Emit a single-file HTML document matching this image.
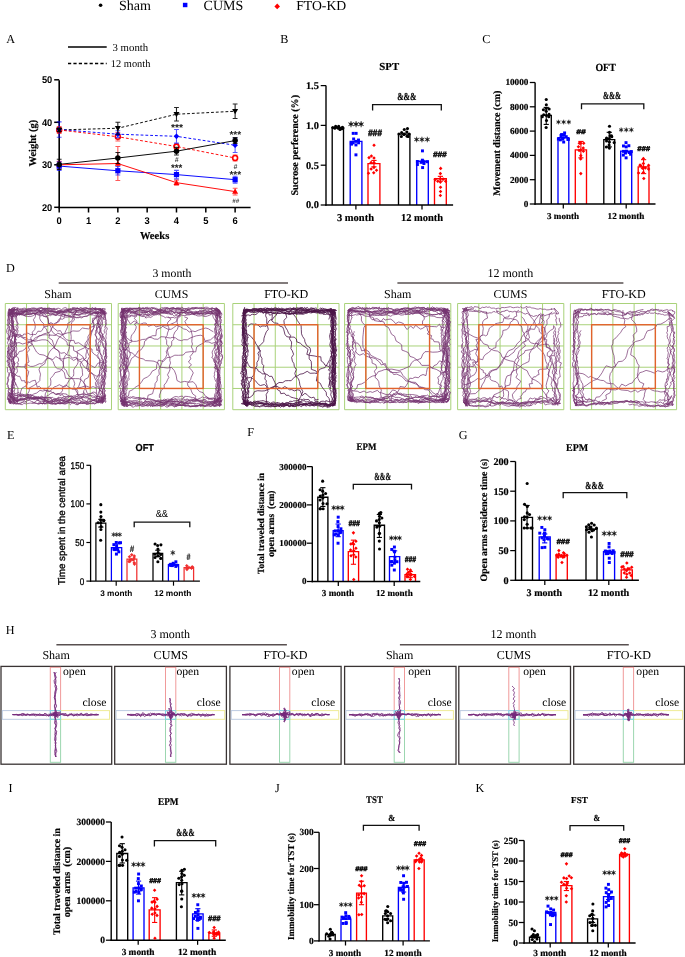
<!DOCTYPE html>
<html><head><meta charset="utf-8"><style>
html,body{margin:0;padding:0;background:#fff;}
body{width:685px;height:957px;overflow:hidden;}
svg{display:block;will-change:transform;}
text{text-rendering:geometricPrecision;white-space:pre;}
text[font-weight="bold"][font-family*="Serif"]{stroke:#000;stroke-width:0.18px;}
</style></head><body>
<svg width="685" height="957" viewBox="0 0 685 957">
<rect width="685" height="957" fill="#fff"/>
<circle cx="100.6" cy="5.3" r="1.8" fill="#000" stroke="none" stroke-width="1"/>
<text x="119.02" y="9.8" font-family='"Liberation Serif", serif' font-size="14.02" font-weight="normal" text-anchor="start" fill="#000">Sham</text>
<rect x="182.9" y="2.8" width="4.5" height="4.4" stroke="none" stroke-width="1" fill="#0000ff"/>
<text x="203.54" y="9.72" font-family='"Liberation Serif", serif' font-size="14.03" font-weight="normal" text-anchor="start" fill="#000">CUMS</text>
<path d="M277.2 3.6L280 6.4L277.2 9.2L274.4 6.4Z" fill="#ff0000"/>
<text x="296.19" y="9.97" font-family='"Liberation Serif", serif' font-size="13.72" font-weight="normal" text-anchor="start" fill="#000">FTO-KD</text>
<text x="6.36" y="42.64" font-family='"Liberation Serif", serif' font-size="12.2" font-weight="normal" text-anchor="start" fill="#000">A</text>
<text x="280.29" y="42.77" font-family='"Liberation Serif", serif' font-size="12.2" font-weight="normal" text-anchor="start" fill="#000">B</text>
<text x="482.24" y="42.64" font-family='"Liberation Serif", serif' font-size="12.2" font-weight="normal" text-anchor="start" fill="#000">C</text>
<text x="5.94" y="272.26" font-family='"Liberation Serif", serif' font-size="12.2" font-weight="normal" text-anchor="start" fill="#000">D</text>
<text x="6.9" y="438.81" font-family='"Liberation Serif", serif' font-size="12.2" font-weight="normal" text-anchor="start" fill="#000">E</text>
<text x="247.15" y="436.17" font-family='"Liberation Serif", serif' font-size="12.2" font-weight="normal" text-anchor="start" fill="#000">F</text>
<text x="458.7" y="438.74" font-family='"Liberation Serif", serif' font-size="12.2" font-weight="normal" text-anchor="start" fill="#000">G</text>
<text x="5.66" y="633.81" font-family='"Liberation Serif", serif' font-size="12.2" font-weight="normal" text-anchor="start" fill="#000">H</text>
<text x="8.45" y="791.92" font-family='"Liberation Serif", serif' font-size="12.2" font-weight="normal" text-anchor="start" fill="#000">I</text>
<text x="275.02" y="792.15" font-family='"Liberation Serif", serif' font-size="12.2" font-weight="normal" text-anchor="start" fill="#000">J</text>
<text x="475.54" y="791.92" font-family='"Liberation Serif", serif' font-size="12.2" font-weight="normal" text-anchor="start" fill="#000">K</text>
<line x1="68" y1="47" x2="106.7" y2="47" stroke="#000" stroke-width="1.3"/>
<text x="112.56" y="51.21" font-family='"Liberation Serif", serif' font-size="10.77" font-weight="normal" text-anchor="start" fill="#000">3 month</text>
<line x1="68" y1="63.5" x2="106.7" y2="63.5" stroke="#000" stroke-width="1.3" stroke-dasharray="3.2 2.2"/>
<text x="110.87" y="67.23" font-family='"Liberation Serif", serif' font-size="10.38" font-weight="normal" text-anchor="start" fill="#000">12 month</text>
<line x1="59.2" y1="80.2" x2="59.2" y2="208.2" stroke="#000" stroke-width="1.6"/>
<line x1="58.4" y1="207.5" x2="250.6" y2="207.5" stroke="#000" stroke-width="1.6"/>
<line x1="54.2" y1="207.3" x2="59.2" y2="207.3" stroke="#000" stroke-width="1.5"/>
<text transform="translate(52.3 210.75) scale(0.960 1)" font-family='"Liberation Sans", sans-serif' font-size="9.7" font-weight="bold" text-anchor="end" fill="#000">20</text>
<line x1="54.2" y1="164.8" x2="59.2" y2="164.8" stroke="#000" stroke-width="1.5"/>
<text transform="translate(52.3 168.25) scale(0.960 1)" font-family='"Liberation Sans", sans-serif' font-size="9.7" font-weight="bold" text-anchor="end" fill="#000">30</text>
<line x1="54.2" y1="122.3" x2="59.2" y2="122.3" stroke="#000" stroke-width="1.5"/>
<text transform="translate(52.3 125.75) scale(0.960 1)" font-family='"Liberation Sans", sans-serif' font-size="9.7" font-weight="bold" text-anchor="end" fill="#000">40</text>
<line x1="54.2" y1="79.8" x2="59.2" y2="79.8" stroke="#000" stroke-width="1.5"/>
<text transform="translate(52.3 83.25) scale(0.960 1)" font-family='"Liberation Sans", sans-serif' font-size="9.7" font-weight="bold" text-anchor="end" fill="#000">50</text>
<line x1="59.2" y1="207.5" x2="59.2" y2="212.5" stroke="#000" stroke-width="1.5"/>
<text transform="translate(59.2 223.6) scale(0.970 1)" font-family='"Liberation Sans", sans-serif' font-size="9.7" font-weight="bold" text-anchor="middle" fill="#000">0</text>
<line x1="88.52" y1="207.5" x2="88.52" y2="212.5" stroke="#000" stroke-width="1.5"/>
<text transform="translate(88.52 223.6) scale(0.970 1)" font-family='"Liberation Sans", sans-serif' font-size="9.7" font-weight="bold" text-anchor="middle" fill="#000">1</text>
<line x1="117.84" y1="207.5" x2="117.84" y2="212.5" stroke="#000" stroke-width="1.5"/>
<text transform="translate(117.84 223.6) scale(0.970 1)" font-family='"Liberation Sans", sans-serif' font-size="9.7" font-weight="bold" text-anchor="middle" fill="#000">2</text>
<line x1="147.16" y1="207.5" x2="147.16" y2="212.5" stroke="#000" stroke-width="1.5"/>
<text transform="translate(147.16 223.6) scale(0.970 1)" font-family='"Liberation Sans", sans-serif' font-size="9.7" font-weight="bold" text-anchor="middle" fill="#000">3</text>
<line x1="176.48" y1="207.5" x2="176.48" y2="212.5" stroke="#000" stroke-width="1.5"/>
<text transform="translate(176.48 223.6) scale(0.970 1)" font-family='"Liberation Sans", sans-serif' font-size="9.7" font-weight="bold" text-anchor="middle" fill="#000">4</text>
<line x1="205.8" y1="207.5" x2="205.8" y2="212.5" stroke="#000" stroke-width="1.5"/>
<text transform="translate(205.8 223.6) scale(0.970 1)" font-family='"Liberation Sans", sans-serif' font-size="9.7" font-weight="bold" text-anchor="middle" fill="#000">5</text>
<line x1="235.12" y1="207.5" x2="235.12" y2="212.5" stroke="#000" stroke-width="1.5"/>
<text transform="translate(235.12 223.6) scale(0.970 1)" font-family='"Liberation Sans", sans-serif' font-size="9.7" font-weight="bold" text-anchor="middle" fill="#000">6</text>
<text x="139.89" y="238.65" font-family='"Liberation Serif", serif' font-size="10.58" font-weight="bold" text-anchor="start" fill="#000">Weeks</text>
<text x="35.7" y="166.4" font-family='"Liberation Serif", serif' font-size="10.43" font-weight="bold" text-anchor="start" fill="#000" transform="rotate(-90 35.7 166.4)">Weight (g)</text>
<polyline points="59.2,129.95 117.84,128.25 176.48,114.23 235.12,111.25" fill="none" stroke="#000" stroke-width="0.95" stroke-dasharray="2.8 2"/>
<polyline points="59.2,129.53 117.84,134.2 176.48,136.32 235.12,145.25" fill="none" stroke="#0000ff" stroke-width="0.95" stroke-dasharray="2.8 2"/>
<polyline points="59.2,129.95 117.84,136.75 176.48,146.53 235.12,158" fill="none" stroke="#ff0000" stroke-width="0.95" stroke-dasharray="2.8 2"/>
<polyline points="59.2,164.38 117.84,158 176.48,151.2 235.12,140.57" fill="none" stroke="#000" stroke-width="0.95"/>
<polyline points="59.2,166.08 117.84,170.75 176.48,174.58 235.12,179.68" fill="none" stroke="#0000ff" stroke-width="0.95"/>
<polyline points="59.2,164.8 117.84,163.53 176.48,182.65 235.12,191.58" fill="none" stroke="#ff0000" stroke-width="0.95"/>
<path d="M59.2 126.55V133.35M56.8 126.55H61.6M56.8 133.35H61.6" stroke="#ff0000" stroke-width="1.1" fill="none" opacity="0.65"/>
<circle cx="59.2" cy="129.95" r="2.45" fill="#fff" stroke="#ff0000" stroke-width="1.6"/>
<path d="M117.84 132.5V141M115.44 132.5H120.24M115.44 141H120.24" stroke="#ff0000" stroke-width="1.1" fill="none" opacity="0.65"/>
<circle cx="117.84" cy="136.75" r="2.45" fill="#fff" stroke="#ff0000" stroke-width="1.6"/>
<path d="M176.48 143.98V149.08M174.08 143.98H178.88M174.08 149.08H178.88" stroke="#ff0000" stroke-width="1.1" fill="none" opacity="0.65"/>
<circle cx="176.48" cy="146.53" r="2.45" fill="#fff" stroke="#ff0000" stroke-width="1.6"/>
<path d="M235.12 155.03V160.97M232.72 155.03H237.52M232.72 160.97H237.52" stroke="#ff0000" stroke-width="1.1" fill="none" opacity="0.65"/>
<circle cx="235.12" cy="158" r="2.45" fill="#fff" stroke="#ff0000" stroke-width="1.6"/>
<path d="M59.2 161.4V168.2M56.8 161.4H61.6M56.8 168.2H61.6" stroke="#ff0000" stroke-width="1.1" fill="none" opacity="0.65"/>
<path d="M59.2 161.8L62.2 167.05L56.2 167.05Z" fill="#ff0000"/>
<path d="M117.84 146.53V180.53M115.44 146.53H120.24M115.44 180.53H120.24" stroke="#ff0000" stroke-width="1.1" fill="none" opacity="0.65"/>
<path d="M117.84 160.53L120.84 165.78L114.84 165.78Z" fill="#ff0000"/>
<path d="M176.48 180.1V185.2M174.08 180.1H178.88M174.08 185.2H178.88" stroke="#ff0000" stroke-width="1.1" fill="none" opacity="0.65"/>
<path d="M176.48 179.65L179.48 184.9L173.48 184.9Z" fill="#ff0000"/>
<path d="M235.12 188.18V194.98M232.72 188.18H237.52M232.72 194.98H237.52" stroke="#ff0000" stroke-width="1.1" fill="none" opacity="0.65"/>
<path d="M235.12 188.58L238.12 193.83L232.12 193.83Z" fill="#ff0000"/>
<path d="M59.2 121.88V137.18M56.8 121.88H61.6M56.8 137.18H61.6" stroke="#0000ff" stroke-width="1.1" fill="none" opacity="0.65"/>
<path d="M59.2 126.71L62.02 129.53L59.2 132.34L56.38 129.53Z" fill="#0000ff"/>
<path d="M117.84 130.8V137.6M115.44 130.8H120.24M115.44 137.6H120.24" stroke="#0000ff" stroke-width="1.1" fill="none" opacity="0.65"/>
<path d="M117.84 131.38L120.66 134.2L117.84 137.02L115.02 134.2Z" fill="#0000ff"/>
<path d="M176.48 129.52V143.12M174.08 129.52H178.88M174.08 143.12H178.88" stroke="#0000ff" stroke-width="1.1" fill="none" opacity="0.65"/>
<path d="M176.48 133.51L179.3 136.32L176.48 139.14L173.66 136.32Z" fill="#0000ff"/>
<path d="M235.12 138.02V152.48M232.72 138.02H237.52M232.72 152.48H237.52" stroke="#0000ff" stroke-width="1.1" fill="none" opacity="0.65"/>
<path d="M235.12 142.43L237.94 145.25L235.12 148.07L232.3 145.25Z" fill="#0000ff"/>
<path d="M59.2 161.83V170.33M56.8 161.83H61.6M56.8 170.33H61.6" stroke="#0000ff" stroke-width="1.1" fill="none" opacity="0.65"/>
<rect x="56.6" y="163.48" width="5.2" height="5.2" stroke="none" stroke-width="1" fill="#0000ff"/>
<path d="M117.84 166.5V175M115.44 166.5H120.24M115.44 175H120.24" stroke="#0000ff" stroke-width="1.1" fill="none" opacity="0.65"/>
<rect x="115.24" y="168.15" width="5.2" height="5.2" stroke="none" stroke-width="1" fill="#0000ff"/>
<path d="M176.48 170.33V178.83M174.08 170.33H178.88M174.08 178.83H178.88" stroke="#0000ff" stroke-width="1.1" fill="none" opacity="0.65"/>
<rect x="173.88" y="171.98" width="5.2" height="5.2" stroke="none" stroke-width="1" fill="#0000ff"/>
<path d="M235.12 176.28V183.08M232.72 176.28H237.52M232.72 183.08H237.52" stroke="#0000ff" stroke-width="1.1" fill="none" opacity="0.65"/>
<rect x="232.52" y="177.08" width="5.2" height="5.2" stroke="none" stroke-width="1" fill="#0000ff"/>
<path d="M59.2 128.25V131.65M56.8 128.25H61.6M56.8 131.65H61.6" stroke="#000" stroke-width="1.1" fill="none" opacity="0.85"/>
<path d="M59.2 132.95L62.2 127.7L56.2 127.7Z" fill="#000"/>
<path d="M117.84 122.3V134.2M115.44 122.3H120.24M115.44 134.2H120.24" stroke="#000" stroke-width="1.1" fill="none" opacity="0.85"/>
<path d="M117.84 131.25L120.84 126L114.84 126Z" fill="#000"/>
<path d="M176.48 107.43V121.03M174.08 107.43H178.88M174.08 121.03H178.88" stroke="#000" stroke-width="1.1" fill="none" opacity="0.85"/>
<path d="M176.48 117.23L179.48 111.98L173.48 111.98Z" fill="#000"/>
<path d="M235.12 104.02V118.48M232.72 104.02H237.52M232.72 118.48H237.52" stroke="#000" stroke-width="1.1" fill="none" opacity="0.85"/>
<path d="M235.12 114.25L238.12 109L232.12 109Z" fill="#000"/>
<path d="M59.2 159.28V169.47M56.8 159.28H61.6M56.8 169.47H61.6" stroke="#000" stroke-width="1.1" fill="none" opacity="0.85"/>
<circle cx="59.2" cy="164.38" r="2.75" fill="#000" stroke="none" stroke-width="1"/>
<path d="M117.84 152.48V163.53M115.44 152.48H120.24M115.44 163.53H120.24" stroke="#000" stroke-width="1.1" fill="none" opacity="0.85"/>
<circle cx="117.84" cy="158" r="2.75" fill="#000" stroke="none" stroke-width="1"/>
<path d="M176.48 147.38V155.03M174.08 147.38H178.88M174.08 155.03H178.88" stroke="#000" stroke-width="1.1" fill="none" opacity="0.85"/>
<circle cx="176.48" cy="151.2" r="2.75" fill="#000" stroke="none" stroke-width="1"/>
<path d="M235.12 137.6V143.55M232.72 137.6H237.52M232.72 143.55H237.52" stroke="#000" stroke-width="1.1" fill="none" opacity="0.85"/>
<circle cx="235.12" cy="140.57" r="2.75" fill="#000" stroke="none" stroke-width="1"/>
<text x="170.9" y="130.92" font-family='"Liberation Sans", sans-serif' font-size="10.34" font-weight="bold" text-anchor="start" fill="#222">***</text>
<text x="174.83" y="161.57" font-family='"Liberation Sans", sans-serif' font-size="6.87" font-weight="bold" text-anchor="start" fill="#333" font-style="italic">#</text>
<text x="170.9" y="171.32" font-family='"Liberation Sans", sans-serif' font-size="9.74" font-weight="bold" text-anchor="start" fill="#222">***</text>
<text x="229.4" y="138.14" font-family='"Liberation Sans", sans-serif' font-size="10.09" font-weight="bold" text-anchor="start" fill="#222">***</text>
<text x="233.38" y="168.67" font-family='"Liberation Sans", sans-serif' font-size="6.87" font-weight="bold" text-anchor="start" fill="#333" font-style="italic">#</text>
<text x="229.4" y="178.44" font-family='"Liberation Sans", sans-serif' font-size="10.09" font-weight="bold" text-anchor="start" fill="#222">***</text>
<text x="232.3" y="203.36" font-family='"Liberation Sans", sans-serif' font-size="6.12" font-weight="bold" text-anchor="start" fill="#333" font-style="italic">##</text>
<line x1="320.7" y1="205" x2="326" y2="205" stroke="#000" stroke-width="1.26"/>
<text x="318.9" y="208.38" font-family='"Liberation Serif", serif' font-size="10.4" font-weight="bold" text-anchor="end" fill="#000">0.0</text>
<line x1="320.7" y1="165.2" x2="326" y2="165.2" stroke="#000" stroke-width="1.26"/>
<text x="318.9" y="168.58" font-family='"Liberation Serif", serif' font-size="10.4" font-weight="bold" text-anchor="end" fill="#000">0.5</text>
<line x1="320.7" y1="125.4" x2="326" y2="125.4" stroke="#000" stroke-width="1.26"/>
<text x="318.9" y="128.78" font-family='"Liberation Serif", serif' font-size="10.4" font-weight="bold" text-anchor="end" fill="#000">1.0</text>
<line x1="320.7" y1="85.6" x2="326" y2="85.6" stroke="#000" stroke-width="1.26"/>
<text x="318.9" y="88.98" font-family='"Liberation Serif", serif' font-size="10.4" font-weight="bold" text-anchor="end" fill="#000">1.5</text>
<line x1="355.9" y1="205" x2="355.9" y2="209.6" stroke="#000" stroke-width="1.26"/>
<line x1="422" y1="205" x2="422" y2="209.6" stroke="#000" stroke-width="1.26"/>
<path d="M332.2 205V127.79H343.5V205" stroke="#000" stroke-width="1.35" fill="#fff"/>
<path d="M350.2 205V141.32H361.9V205" stroke="#0000ff" stroke-width="1.35" fill="#fff"/>
<path d="M368 205V163.61H379.9V205" stroke="#ff0000" stroke-width="1.35" fill="#fff"/>
<path d="M398.5 205V134.16H409.9V205" stroke="#000" stroke-width="1.35" fill="#fff"/>
<path d="M416.7 205V161.22H428.3V205" stroke="#0000ff" stroke-width="1.35" fill="#fff"/>
<path d="M434.5 205V178.73H446.3V205" stroke="#ff0000" stroke-width="1.35" fill="#fff"/>
<line x1="326" y1="85.6" x2="326" y2="205.7" stroke="#000" stroke-width="1.4"/>
<line x1="325.3" y1="205" x2="453.1" y2="205" stroke="#000" stroke-width="1.4"/>
<circle cx="337.9" cy="127.69" r="1.55" fill="#000" stroke="none" stroke-width="1"/>
<circle cx="332.78" cy="127.54" r="1.55" fill="#000" stroke="none" stroke-width="1"/>
<circle cx="342.92" cy="128.05" r="1.55" fill="#000" stroke="none" stroke-width="1"/>
<circle cx="338.42" cy="128.21" r="1.55" fill="#000" stroke="none" stroke-width="1"/>
<circle cx="334.83" cy="128.27" r="1.55" fill="#000" stroke="none" stroke-width="1"/>
<circle cx="342.42" cy="127.26" r="1.55" fill="#000" stroke="none" stroke-width="1"/>
<circle cx="341.88" cy="128.47" r="1.55" fill="#000" stroke="none" stroke-width="1"/>
<circle cx="341.84" cy="128.68" r="1.55" fill="#000" stroke="none" stroke-width="1"/>
<circle cx="335.65" cy="126.3" r="1.55" fill="#000" stroke="none" stroke-width="1"/>
<circle cx="338.68" cy="126.2" r="1.55" fill="#000" stroke="none" stroke-width="1"/>
<circle cx="339.99" cy="129.38" r="1.55" fill="#000" stroke="none" stroke-width="1"/>
<rect x="354.34" y="139.9" width="2.94" height="2.94" stroke="none" stroke-width="1" fill="#0000ff"/>
<rect x="357.03" y="138.56" width="2.94" height="2.94" stroke="none" stroke-width="1" fill="#0000ff"/>
<rect x="357.14" y="141.34" width="2.94" height="2.94" stroke="none" stroke-width="1" fill="#0000ff"/>
<rect x="351.69" y="141.38" width="2.94" height="2.94" stroke="none" stroke-width="1" fill="#0000ff"/>
<rect x="349.87" y="141.81" width="2.94" height="2.94" stroke="none" stroke-width="1" fill="#0000ff"/>
<rect x="352.16" y="137.5" width="2.94" height="2.94" stroke="none" stroke-width="1" fill="#0000ff"/>
<rect x="350.02" y="142.66" width="2.94" height="2.94" stroke="none" stroke-width="1" fill="#0000ff"/>
<rect x="354.48" y="143.47" width="2.94" height="2.94" stroke="none" stroke-width="1" fill="#0000ff"/>
<rect x="354.65" y="131.89" width="2.94" height="2.94" stroke="none" stroke-width="1" fill="#0000ff"/>
<rect x="351.74" y="131.89" width="2.94" height="2.94" stroke="none" stroke-width="1" fill="#0000ff"/>
<rect x="354.48" y="153.38" width="2.94" height="2.94" stroke="none" stroke-width="1" fill="#0000ff"/>
<line x1="373.95" y1="166.79" x2="373.95" y2="160.42" stroke="#ff0000" stroke-width="1.1"/>
<line x1="371.35" y1="166.79" x2="376.55" y2="166.79" stroke="#ff0000" stroke-width="1.1"/>
<line x1="371.35" y1="160.42" x2="376.55" y2="160.42" stroke="#ff0000" stroke-width="1.1"/>
<path d="M374.05 160.91L375.83 162.69L374.05 164.47L372.26 162.69Z" fill="#ff0000"/>
<path d="M371.11 160.66L372.89 162.44L371.11 164.22L369.32 162.44Z" fill="#ff0000"/>
<path d="M373.92 165.75L375.7 167.53L373.92 169.32L372.14 167.53Z" fill="#ff0000"/>
<path d="M371.12 167.23L372.91 169.01L371.12 170.79L369.34 169.01Z" fill="#ff0000"/>
<path d="M374 156.17L375.78 157.95L374 159.74L372.22 157.95Z" fill="#ff0000"/>
<path d="M369.02 155.86L370.8 157.64L369.02 159.42L367.24 157.64Z" fill="#ff0000"/>
<path d="M376.51 168.45L378.29 170.23L376.51 172.02L374.72 170.23Z" fill="#ff0000"/>
<path d="M371.38 154.19L373.16 155.97L371.38 157.75L369.6 155.97Z" fill="#ff0000"/>
<path d="M373.73 170.92L375.52 172.71L373.73 174.49L371.95 172.71Z" fill="#ff0000"/>
<path d="M368.5 171.38L370.28 173.16L368.5 174.94L366.72 173.16Z" fill="#ff0000"/>
<path d="M374.03 143.52L375.81 145.3L374.03 147.08L372.25 145.3Z" fill="#ff0000"/>
<circle cx="404.27" cy="134.17" r="1.55" fill="#000" stroke="none" stroke-width="1"/>
<circle cx="398.95" cy="133.97" r="1.55" fill="#000" stroke="none" stroke-width="1"/>
<circle cx="409.17" cy="133.96" r="1.55" fill="#000" stroke="none" stroke-width="1"/>
<circle cx="403.86" cy="134.39" r="1.55" fill="#000" stroke="none" stroke-width="1"/>
<circle cx="401.68" cy="132.44" r="1.55" fill="#000" stroke="none" stroke-width="1"/>
<circle cx="407.08" cy="136.22" r="1.55" fill="#000" stroke="none" stroke-width="1"/>
<circle cx="406.81" cy="132.03" r="1.55" fill="#000" stroke="none" stroke-width="1"/>
<circle cx="401.33" cy="136.54" r="1.55" fill="#000" stroke="none" stroke-width="1"/>
<circle cx="408.24" cy="136.54" r="1.55" fill="#000" stroke="none" stroke-width="1"/>
<circle cx="404.27" cy="129.45" r="1.55" fill="#000" stroke="none" stroke-width="1"/>
<circle cx="407.46" cy="128.58" r="1.55" fill="#000" stroke="none" stroke-width="1"/>
<rect x="421.29" y="159.54" width="2.94" height="2.94" stroke="none" stroke-width="1" fill="#0000ff"/>
<rect x="415.86" y="160.03" width="2.94" height="2.94" stroke="none" stroke-width="1" fill="#0000ff"/>
<rect x="426.01" y="160.27" width="2.94" height="2.94" stroke="none" stroke-width="1" fill="#0000ff"/>
<rect x="422.58" y="160.44" width="2.94" height="2.94" stroke="none" stroke-width="1" fill="#0000ff"/>
<rect x="421.28" y="160.44" width="2.94" height="2.94" stroke="none" stroke-width="1" fill="#0000ff"/>
<rect x="420.92" y="158.71" width="2.94" height="2.94" stroke="none" stroke-width="1" fill="#0000ff"/>
<rect x="419.62" y="160.86" width="2.94" height="2.94" stroke="none" stroke-width="1" fill="#0000ff"/>
<rect x="422.47" y="162.02" width="2.94" height="2.94" stroke="none" stroke-width="1" fill="#0000ff"/>
<rect x="415.92" y="163.03" width="2.94" height="2.94" stroke="none" stroke-width="1" fill="#0000ff"/>
<rect x="421.14" y="166.12" width="2.94" height="2.94" stroke="none" stroke-width="1" fill="#0000ff"/>
<rect x="420.99" y="149.4" width="2.94" height="2.94" stroke="none" stroke-width="1" fill="#0000ff"/>
<line x1="440.4" y1="181.12" x2="440.4" y2="176.34" stroke="#ff0000" stroke-width="1.1"/>
<line x1="437.8" y1="181.12" x2="443" y2="181.12" stroke="#ff0000" stroke-width="1.1"/>
<line x1="437.8" y1="176.34" x2="443" y2="176.34" stroke="#ff0000" stroke-width="1.1"/>
<path d="M440.25 176.86L442.04 178.64L440.25 180.43L438.47 178.64Z" fill="#ff0000"/>
<path d="M443.13 177.35L444.91 179.13L443.13 180.91L441.34 179.13Z" fill="#ff0000"/>
<path d="M435.24 177.84L437.02 179.62L435.24 181.4L433.45 179.62Z" fill="#ff0000"/>
<path d="M437.76 179.38L439.54 181.16L437.76 182.95L435.98 181.16Z" fill="#ff0000"/>
<path d="M445.61 179.56L447.4 181.34L445.61 183.12L443.83 181.34Z" fill="#ff0000"/>
<path d="M440.39 180.32L442.17 182.1L440.39 183.88L438.61 182.1Z" fill="#ff0000"/>
<path d="M440.34 171.84L442.13 173.62L440.34 175.41L438.56 173.62Z" fill="#ff0000"/>
<path d="M440.53 185.48L442.31 187.27L440.53 189.05L438.74 187.27Z" fill="#ff0000"/>
<path d="M440.66 166.6L442.44 168.38L440.66 170.17L438.88 168.38Z" fill="#ff0000"/>
<path d="M440.52 189.76L442.31 191.54L440.52 193.33L438.74 191.54Z" fill="#ff0000"/>
<path d="M440.38 193.67L442.17 195.45L440.38 197.23L438.6 195.45Z" fill="#ff0000"/>
<path d="M351 121.1L350.47 123.29L348.32 122.65L349.95 124.2L348.32 125.75L350.47 125.11L351 127.3L351.53 125.11L353.68 125.75L352.05 124.2L353.68 122.65L351.53 123.29ZM356.05 121.1L355.52 123.29L353.37 122.65L355 124.2L353.37 125.75L355.52 125.11L356.05 127.3L356.58 125.11L358.73 125.75L357.1 124.2L358.73 122.65L356.58 123.29ZM361.1 121.1L360.57 123.29L358.42 122.65L360.05 124.2L358.42 125.75L360.57 125.11L361.1 127.3L361.63 125.11L363.78 125.75L362.15 124.2L363.78 122.65L361.63 123.29Z" fill="#111" stroke="#111" stroke-width="0.35" stroke-linejoin="round"/>
<text transform="translate(367.93 135.89) scale(0.902 1)" font-family='"Liberation Sans", sans-serif' font-size="9.25" font-weight="bold" fill="#111" font-style="italic" stroke="#111" stroke-width="0.5">###</text>
<path d="M416.6 136.7L416.12 138.68L414.18 138.1L415.65 139.5L414.18 140.9L416.12 140.32L416.6 142.3L417.08 140.32L419.02 140.9L417.55 139.5L419.02 138.1L417.08 138.68ZM421.95 136.7L421.47 138.68L419.53 138.1L421 139.5L419.53 140.9L421.47 140.32L421.95 142.3L422.43 140.32L424.37 140.9L422.9 139.5L424.37 138.1L422.43 138.68ZM427.3 136.7L426.82 138.68L424.88 138.1L426.35 139.5L424.88 140.9L426.82 140.32L427.3 142.3L427.78 140.32L429.72 140.9L428.25 139.5L429.72 138.1L427.78 138.68Z" fill="#111" stroke="#111" stroke-width="0.35" stroke-linejoin="round"/>
<text transform="translate(432.94 157.48) scale(1.059 1)" font-family='"Liberation Sans", sans-serif' font-size="7.76" font-weight="bold" fill="#111" font-style="italic" stroke="#111" stroke-width="0.5">###</text>
<path d="M372.6 110.5V104.7H441.3V110.5" fill="none" stroke="#111" stroke-width="1.3"/>
<text transform="translate(397.13 99.69) scale(0.734 1)" font-family='"Liberation Serif", serif' font-size="10.6" font-weight="bold" fill="#000">&amp;&amp;&amp;</text>
<text transform="translate(379.36 70.29) scale(1.004 1)" font-family='"Liberation Serif", serif' font-size="10.75" font-weight="bold" fill="#000">SPT</text>
<text x="336.98" y="220.96" font-family='"Liberation Serif", serif' font-size="10.49" font-weight="bold" text-anchor="start" fill="#000">3 month</text>
<text x="400.96" y="221.01" font-family='"Liberation Serif", serif' font-size="10.48" font-weight="bold" text-anchor="start" fill="#000">12 month</text>
<text x="298.41" y="195.6" font-family='"Liberation Serif", serif' font-size="10.06" font-weight="bold" text-anchor="start" fill="#000" transform="rotate(-90 298.41 195.6)">Sucrose perference (%)</text>
<line x1="529.8" y1="204" x2="535.1" y2="204" stroke="#000" stroke-width="1.26"/>
<text x="528.4" y="206.99" font-family='"Liberation Serif", serif' font-size="9.2" font-weight="bold" text-anchor="end" fill="#000">0</text>
<line x1="529.8" y1="179.7" x2="535.1" y2="179.7" stroke="#000" stroke-width="1.26"/>
<text x="528.4" y="182.69" font-family='"Liberation Serif", serif' font-size="9.2" font-weight="bold" text-anchor="end" fill="#000">2000</text>
<line x1="529.8" y1="155.4" x2="535.1" y2="155.4" stroke="#000" stroke-width="1.26"/>
<text x="528.4" y="158.39" font-family='"Liberation Serif", serif' font-size="9.2" font-weight="bold" text-anchor="end" fill="#000">4000</text>
<line x1="529.8" y1="131.1" x2="535.1" y2="131.1" stroke="#000" stroke-width="1.26"/>
<text x="528.4" y="134.09" font-family='"Liberation Serif", serif' font-size="9.2" font-weight="bold" text-anchor="end" fill="#000">6000</text>
<line x1="529.8" y1="106.8" x2="535.1" y2="106.8" stroke="#000" stroke-width="1.26"/>
<text x="528.4" y="109.79" font-family='"Liberation Serif", serif' font-size="9.2" font-weight="bold" text-anchor="end" fill="#000">8000</text>
<line x1="529.8" y1="82.5" x2="535.1" y2="82.5" stroke="#000" stroke-width="1.26"/>
<text x="528.4" y="85.49" font-family='"Liberation Serif", serif' font-size="9.2" font-weight="bold" text-anchor="end" fill="#000">10000</text>
<line x1="563.3" y1="204" x2="563.3" y2="208.6" stroke="#000" stroke-width="1.26"/>
<line x1="626.2" y1="204" x2="626.2" y2="208.6" stroke="#000" stroke-width="1.26"/>
<path d="M541.2 204V115.3H551.3V204" stroke="#000" stroke-width="1.35" fill="#fff"/>
<path d="M558 204V137.78H568.8V204" stroke="#0000ff" stroke-width="1.35" fill="#fff"/>
<path d="M575.3 204V149.93H586.5V204" stroke="#ff0000" stroke-width="1.35" fill="#fff"/>
<path d="M603.8 204V139.6H614.7V204" stroke="#000" stroke-width="1.35" fill="#fff"/>
<path d="M620.7 204V151.15H631.7V204" stroke="#0000ff" stroke-width="1.35" fill="#fff"/>
<path d="M638.2 204V166.94H649V204" stroke="#ff0000" stroke-width="1.35" fill="#fff"/>
<line x1="535.1" y1="82.5" x2="535.1" y2="204.7" stroke="#000" stroke-width="1.4"/>
<line x1="534.4" y1="204" x2="655.5" y2="204" stroke="#000" stroke-width="1.4"/>
<line x1="546.25" y1="124.42" x2="546.25" y2="107.41" stroke="#000" stroke-width="1.1"/>
<line x1="543.65" y1="124.42" x2="548.85" y2="124.42" stroke="#000" stroke-width="1.1"/>
<line x1="543.65" y1="107.41" x2="548.85" y2="107.41" stroke="#000" stroke-width="1.1"/>
<circle cx="546.45" cy="115.54" r="1.55" fill="#000" stroke="none" stroke-width="1"/>
<circle cx="543.73" cy="114.78" r="1.55" fill="#000" stroke="none" stroke-width="1"/>
<circle cx="549.07" cy="114.42" r="1.55" fill="#000" stroke="none" stroke-width="1"/>
<circle cx="542.27" cy="116.75" r="1.55" fill="#000" stroke="none" stroke-width="1"/>
<circle cx="548.8" cy="116.77" r="1.55" fill="#000" stroke="none" stroke-width="1"/>
<circle cx="546.22" cy="111.23" r="1.55" fill="#000" stroke="none" stroke-width="1"/>
<circle cx="546.51" cy="120.51" r="1.55" fill="#000" stroke="none" stroke-width="1"/>
<circle cx="543.4" cy="109.76" r="1.55" fill="#000" stroke="none" stroke-width="1"/>
<circle cx="549.13" cy="109.01" r="1.55" fill="#000" stroke="none" stroke-width="1"/>
<circle cx="546.21" cy="108.32" r="1.55" fill="#000" stroke="none" stroke-width="1"/>
<circle cx="546.33" cy="104.69" r="1.55" fill="#000" stroke="none" stroke-width="1"/>
<circle cx="546.13" cy="127.45" r="1.55" fill="#000" stroke="none" stroke-width="1"/>
<circle cx="546.25" cy="99.51" r="1.55" fill="#000" stroke="none" stroke-width="1"/>
<rect x="561.73" y="136.37" width="2.94" height="2.94" stroke="none" stroke-width="1" fill="#0000ff"/>
<rect x="564.77" y="135.2" width="2.94" height="2.94" stroke="none" stroke-width="1" fill="#0000ff"/>
<rect x="556.92" y="137.54" width="2.94" height="2.94" stroke="none" stroke-width="1" fill="#0000ff"/>
<rect x="561.12" y="137.59" width="2.94" height="2.94" stroke="none" stroke-width="1" fill="#0000ff"/>
<rect x="566.86" y="137.86" width="2.94" height="2.94" stroke="none" stroke-width="1" fill="#0000ff"/>
<rect x="566.45" y="137.87" width="2.94" height="2.94" stroke="none" stroke-width="1" fill="#0000ff"/>
<rect x="558.81" y="138.39" width="2.94" height="2.94" stroke="none" stroke-width="1" fill="#0000ff"/>
<rect x="559.54" y="134.04" width="2.94" height="2.94" stroke="none" stroke-width="1" fill="#0000ff"/>
<rect x="562.8" y="133.6" width="2.94" height="2.94" stroke="none" stroke-width="1" fill="#0000ff"/>
<rect x="560.12" y="133.07" width="2.94" height="2.94" stroke="none" stroke-width="1" fill="#0000ff"/>
<rect x="562.21" y="140.56" width="2.94" height="2.94" stroke="none" stroke-width="1" fill="#0000ff"/>
<rect x="563.13" y="131.45" width="2.94" height="2.94" stroke="none" stroke-width="1" fill="#0000ff"/>
<line x1="580.9" y1="157.83" x2="580.9" y2="141.43" stroke="#ff0000" stroke-width="1.1"/>
<line x1="578.3" y1="157.83" x2="583.5" y2="157.83" stroke="#ff0000" stroke-width="1.1"/>
<line x1="578.3" y1="141.43" x2="583.5" y2="141.43" stroke="#ff0000" stroke-width="1.1"/>
<path d="M580.64 148.25L582.42 150.03L580.64 151.81L578.85 150.03Z" fill="#ff0000"/>
<path d="M579.14 148.66L580.92 150.45L579.14 152.23L577.36 150.45Z" fill="#ff0000"/>
<path d="M583.38 149.43L585.17 151.22L583.38 153L581.6 151.22Z" fill="#ff0000"/>
<path d="M583.22 146.22L585 148L583.22 149.79L581.44 148Z" fill="#ff0000"/>
<path d="M578.44 145L580.22 146.79L578.44 148.57L576.65 146.79Z" fill="#ff0000"/>
<path d="M580.79 153.87L582.57 155.65L580.79 157.43L579 155.65Z" fill="#ff0000"/>
<path d="M580.73 141.47L582.52 143.25L580.73 145.03L578.95 143.25Z" fill="#ff0000"/>
<path d="M579.34 141.47L581.12 143.25L579.34 145.03L577.55 143.25Z" fill="#ff0000"/>
<path d="M583.72 141.47L585.5 143.25L583.72 145.03L581.93 143.25Z" fill="#ff0000"/>
<path d="M580.7 157.11L582.48 158.89L580.7 160.67L578.92 158.89Z" fill="#ff0000"/>
<path d="M580.8 171.84L582.58 173.62L580.8 175.41L579.02 173.62Z" fill="#ff0000"/>
<line x1="609.25" y1="146.89" x2="609.25" y2="132.31" stroke="#000" stroke-width="1.1"/>
<line x1="606.65" y1="146.89" x2="611.85" y2="146.89" stroke="#000" stroke-width="1.1"/>
<line x1="606.65" y1="132.31" x2="611.85" y2="132.31" stroke="#000" stroke-width="1.1"/>
<circle cx="609.34" cy="138.66" r="1.55" fill="#000" stroke="none" stroke-width="1"/>
<circle cx="606.55" cy="141.02" r="1.55" fill="#000" stroke="none" stroke-width="1"/>
<circle cx="606.52" cy="138.13" r="1.55" fill="#000" stroke="none" stroke-width="1"/>
<circle cx="609.43" cy="141.97" r="1.55" fill="#000" stroke="none" stroke-width="1"/>
<circle cx="611.8" cy="136.72" r="1.55" fill="#000" stroke="none" stroke-width="1"/>
<circle cx="614.16" cy="142.58" r="1.55" fill="#000" stroke="none" stroke-width="1"/>
<circle cx="611.5" cy="135.9" r="1.55" fill="#000" stroke="none" stroke-width="1"/>
<circle cx="610.06" cy="135.71" r="1.55" fill="#000" stroke="none" stroke-width="1"/>
<circle cx="609.12" cy="144.94" r="1.55" fill="#000" stroke="none" stroke-width="1"/>
<circle cx="606.37" cy="146.97" r="1.55" fill="#000" stroke="none" stroke-width="1"/>
<circle cx="609.49" cy="132.22" r="1.55" fill="#000" stroke="none" stroke-width="1"/>
<circle cx="609.37" cy="148.11" r="1.55" fill="#000" stroke="none" stroke-width="1"/>
<circle cx="609.5" cy="126.24" r="1.55" fill="#000" stroke="none" stroke-width="1"/>
<rect x="624.99" y="149.73" width="2.94" height="2.94" stroke="none" stroke-width="1" fill="#0000ff"/>
<rect x="622.03" y="149.9" width="2.94" height="2.94" stroke="none" stroke-width="1" fill="#0000ff"/>
<rect x="629.85" y="150.11" width="2.94" height="2.94" stroke="none" stroke-width="1" fill="#0000ff"/>
<rect x="627.72" y="151.06" width="2.94" height="2.94" stroke="none" stroke-width="1" fill="#0000ff"/>
<rect x="624.02" y="151.54" width="2.94" height="2.94" stroke="none" stroke-width="1" fill="#0000ff"/>
<rect x="629.11" y="152.78" width="2.94" height="2.94" stroke="none" stroke-width="1" fill="#0000ff"/>
<rect x="621.88" y="153.62" width="2.94" height="2.94" stroke="none" stroke-width="1" fill="#0000ff"/>
<rect x="624.73" y="145.41" width="2.94" height="2.94" stroke="none" stroke-width="1" fill="#0000ff"/>
<rect x="622.01" y="144.49" width="2.94" height="2.94" stroke="none" stroke-width="1" fill="#0000ff"/>
<rect x="627.38" y="144.25" width="2.94" height="2.94" stroke="none" stroke-width="1" fill="#0000ff"/>
<rect x="624.64" y="156.36" width="2.94" height="2.94" stroke="none" stroke-width="1" fill="#0000ff"/>
<rect x="624.54" y="141.17" width="2.94" height="2.94" stroke="none" stroke-width="1" fill="#0000ff"/>
<line x1="643.6" y1="173.62" x2="643.6" y2="159.65" stroke="#ff0000" stroke-width="1.1"/>
<line x1="641" y1="173.62" x2="646.2" y2="173.62" stroke="#ff0000" stroke-width="1.1"/>
<line x1="641" y1="159.65" x2="646.2" y2="159.65" stroke="#ff0000" stroke-width="1.1"/>
<path d="M643.53 165.81L645.31 167.59L643.53 169.37L641.75 167.59Z" fill="#ff0000"/>
<path d="M645.36 166.14L647.14 167.92L645.36 169.7L643.58 167.92Z" fill="#ff0000"/>
<path d="M640.84 164.04L642.63 165.82L640.84 167.61L639.06 165.82Z" fill="#ff0000"/>
<path d="M642.46 166.35L644.24 168.14L642.46 169.92L640.68 168.14Z" fill="#ff0000"/>
<path d="M648.58 163.48L650.36 165.26L648.58 167.04L646.8 165.26Z" fill="#ff0000"/>
<path d="M640 163.35L641.78 165.13L640 166.91L638.22 165.13Z" fill="#ff0000"/>
<path d="M648.53 167.33L650.32 169.12L648.53 170.9L646.75 169.12Z" fill="#ff0000"/>
<path d="M643.36 161.67L645.14 163.45L643.36 165.23L641.57 163.45Z" fill="#ff0000"/>
<path d="M643.36 170.71L645.14 172.49L643.36 174.28L641.58 172.49Z" fill="#ff0000"/>
<path d="M638.6 171.14L640.38 172.92L638.6 174.7L636.81 172.92Z" fill="#ff0000"/>
<path d="M643.37 156.66L645.16 158.44L643.37 160.22L641.59 158.44Z" fill="#ff0000"/>
<path d="M643.81 176.7L645.59 178.49L643.81 180.27L642.02 178.49Z" fill="#ff0000"/>
<path d="M558.45 119.7L558.05 121.36L556.41 120.88L557.65 122.05L556.41 123.22L558.05 122.74L558.45 124.4L558.85 122.74L560.49 123.22L559.25 122.05L560.49 120.88L558.85 121.36ZM563.65 119.7L563.25 121.36L561.61 120.88L562.85 122.05L561.61 123.22L563.25 122.74L563.65 124.4L564.05 122.74L565.69 123.22L564.45 122.05L565.69 120.88L564.05 121.36ZM568.85 119.7L568.45 121.36L566.81 120.88L568.05 122.05L566.81 123.22L568.45 122.74L568.85 124.4L569.25 122.74L570.89 123.22L569.65 122.05L570.89 120.88L569.25 121.36Z" fill="#111" stroke="#111" stroke-width="0.35" stroke-linejoin="round"/>
<text transform="translate(576.34 134.17) scale(1.225 1)" font-family='"Liberation Sans", sans-serif' font-size="6.72" font-weight="bold" fill="#111" font-style="italic" stroke="#111" stroke-width="0.5">##</text>
<path d="M621.15 127.4L620.73 129.13L619.03 128.62L620.32 129.85L619.03 131.07L620.73 130.57L621.15 132.3L621.57 130.57L623.27 131.07L621.98 129.85L623.27 128.62L621.57 129.13ZM626.25 127.4L625.83 129.13L624.13 128.62L625.42 129.85L624.13 131.07L625.83 130.57L626.25 132.3L626.67 130.57L628.37 131.07L627.08 129.85L628.37 128.62L626.67 129.13ZM631.35 127.4L630.93 129.13L629.23 128.62L630.52 129.85L629.23 131.07L630.93 130.57L631.35 132.3L631.77 130.57L633.47 131.07L632.18 129.85L633.47 128.62L631.77 129.13Z" fill="#111" stroke="#111" stroke-width="0.35" stroke-linejoin="round"/>
<text transform="translate(637.35 151.47) scale(1.062 1)" font-family='"Liberation Sans", sans-serif' font-size="7.16" font-weight="bold" fill="#111" font-style="italic" stroke="#111" stroke-width="0.5">###</text>
<path d="M581.5 109.3V103.8H643.8V109.3" fill="none" stroke="#111" stroke-width="1.3"/>
<text transform="translate(602.96 98.79) scale(0.687 1)" font-family='"Liberation Serif", serif' font-size="10.6" font-weight="bold" fill="#000">&amp;&amp;&amp;</text>
<text transform="translate(595.41 71.28) scale(0.909 1)" font-family='"Liberation Serif", serif' font-size="10.9" font-weight="bold" fill="#000">OFT</text>
<text x="547.04" y="218.99" font-family='"Liberation Serif", serif' font-size="9.08" font-weight="bold" text-anchor="start" fill="#000">3 month</text>
<text x="607.57" y="219.06" font-family='"Liberation Serif", serif' font-size="9.13" font-weight="bold" text-anchor="start" fill="#000">12 month</text>
<text x="500.21" y="195.8" font-family='"Liberation Serif", serif' font-size="10.03" font-weight="bold" text-anchor="start" fill="#000" transform="rotate(-90 500.21 195.8)">Movement distance (cm)</text>
<line x1="86.4" y1="581.1" x2="90.6" y2="581.1" stroke="#000" stroke-width="1.17"/>
<text transform="translate(84.2 584.53) scale(0.830 1)" font-family='"Liberation Sans", sans-serif' font-size="9.8" font-weight="normal" text-anchor="end" fill="#000" stroke="#000" stroke-width="0.3">0</text>
<line x1="86.4" y1="542.5" x2="90.6" y2="542.5" stroke="#000" stroke-width="1.17"/>
<text transform="translate(84.2 545.93) scale(0.830 1)" font-family='"Liberation Sans", sans-serif' font-size="9.8" font-weight="normal" text-anchor="end" fill="#000" stroke="#000" stroke-width="0.3">50</text>
<line x1="86.4" y1="503.9" x2="90.6" y2="503.9" stroke="#000" stroke-width="1.17"/>
<text transform="translate(84.2 507.33) scale(0.830 1)" font-family='"Liberation Sans", sans-serif' font-size="9.8" font-weight="normal" text-anchor="end" fill="#000" stroke="#000" stroke-width="0.3">100</text>
<line x1="86.4" y1="465.3" x2="90.6" y2="465.3" stroke="#000" stroke-width="1.17"/>
<text transform="translate(84.2 468.73) scale(0.830 1)" font-family='"Liberation Sans", sans-serif' font-size="9.8" font-weight="normal" text-anchor="end" fill="#000" stroke="#000" stroke-width="0.3">150</text>
<line x1="116.2" y1="581.1" x2="116.2" y2="585.7" stroke="#000" stroke-width="1.17"/>
<line x1="173.5" y1="581.1" x2="173.5" y2="585.7" stroke="#000" stroke-width="1.17"/>
<path d="M95.9 581.1V523.2H105.8V581.1" stroke="#000" stroke-width="1.25" fill="#fff"/>
<path d="M111.4 581.1V547.52H121.7V581.1" stroke="#0000ff" stroke-width="1.25" fill="#fff"/>
<path d="M127 581.1V559.1H136.8V581.1" stroke="#f03030" stroke-width="1.25" fill="#fff"/>
<path d="M153 581.1V553.31H162.7V581.1" stroke="#000" stroke-width="1.25" fill="#fff"/>
<path d="M168.4 581.1V564.5H178.6V581.1" stroke="#0000ff" stroke-width="1.25" fill="#fff"/>
<path d="M184.1 581.1V567.59H193.6V581.1" stroke="#f03030" stroke-width="1.25" fill="#fff"/>
<line x1="90.6" y1="465.3" x2="90.6" y2="581.75" stroke="#000" stroke-width="1.3"/>
<line x1="89.95" y1="581.1" x2="199.9" y2="581.1" stroke="#000" stroke-width="1.3"/>
<line x1="100.85" y1="527.06" x2="100.85" y2="519.34" stroke="#000" stroke-width="1.1"/>
<line x1="98.25" y1="527.06" x2="103.45" y2="527.06" stroke="#000" stroke-width="1.1"/>
<line x1="98.25" y1="519.34" x2="103.45" y2="519.34" stroke="#000" stroke-width="1.1"/>
<circle cx="100.87" cy="522.91" r="1.55" fill="#000" stroke="none" stroke-width="1"/>
<circle cx="98.05" cy="522.72" r="1.55" fill="#000" stroke="none" stroke-width="1"/>
<circle cx="103.71" cy="520.7" r="1.55" fill="#000" stroke="none" stroke-width="1"/>
<circle cx="103.8" cy="520.28" r="1.55" fill="#000" stroke="none" stroke-width="1"/>
<circle cx="101.08" cy="526.47" r="1.55" fill="#000" stroke="none" stroke-width="1"/>
<circle cx="100.6" cy="519.9" r="1.55" fill="#000" stroke="none" stroke-width="1"/>
<circle cx="100.91" cy="529.49" r="1.55" fill="#000" stroke="none" stroke-width="1"/>
<circle cx="100.95" cy="516.62" r="1.55" fill="#000" stroke="none" stroke-width="1"/>
<circle cx="100.85" cy="512.11" r="1.55" fill="#000" stroke="none" stroke-width="1"/>
<circle cx="100.66" cy="540.18" r="1.55" fill="#000" stroke="none" stroke-width="1"/>
<circle cx="100.83" cy="504.67" r="1.55" fill="#000" stroke="none" stroke-width="1"/>
<rect x="115.29" y="547.62" width="2.94" height="2.94" stroke="none" stroke-width="1" fill="#0000ff"/>
<rect x="112.42" y="547.68" width="2.94" height="2.94" stroke="none" stroke-width="1" fill="#0000ff"/>
<rect x="115.14" y="544.11" width="2.94" height="2.94" stroke="none" stroke-width="1" fill="#0000ff"/>
<rect x="113.18" y="548.15" width="2.94" height="2.94" stroke="none" stroke-width="1" fill="#0000ff"/>
<rect x="116.23" y="548.23" width="2.94" height="2.94" stroke="none" stroke-width="1" fill="#0000ff"/>
<rect x="112.39" y="543.17" width="2.94" height="2.94" stroke="none" stroke-width="1" fill="#0000ff"/>
<rect x="117.37" y="550.35" width="2.94" height="2.94" stroke="none" stroke-width="1" fill="#0000ff"/>
<rect x="117.58" y="541.47" width="2.94" height="2.94" stroke="none" stroke-width="1" fill="#0000ff"/>
<rect x="119.06" y="541.23" width="2.94" height="2.94" stroke="none" stroke-width="1" fill="#0000ff"/>
<rect x="114.79" y="541.03" width="2.94" height="2.94" stroke="none" stroke-width="1" fill="#0000ff"/>
<rect x="114.95" y="552.61" width="2.94" height="2.94" stroke="none" stroke-width="1" fill="#0000ff"/>
<path d="M131.83 557.64L133.61 559.42L131.83 561.21L130.05 559.42Z" fill="#f03030"/>
<path d="M130.17 557.99L131.96 559.78L130.17 561.56L128.39 559.78Z" fill="#f03030"/>
<path d="M133.36 558.26L135.14 560.04L133.36 561.82L131.57 560.04Z" fill="#f03030"/>
<path d="M134.15 556.15L135.94 557.93L134.15 559.72L132.37 557.93Z" fill="#f03030"/>
<path d="M129.83 559.66L131.61 561.45L129.83 563.23L128.05 561.45Z" fill="#f03030"/>
<path d="M129.49 554.95L131.28 556.73L129.49 558.51L127.71 556.73Z" fill="#f03030"/>
<path d="M128.95 559.8L130.73 561.58L128.95 563.37L127.17 561.58Z" fill="#f03030"/>
<path d="M134.29 554.19L136.08 555.97L134.29 557.75L132.51 555.97Z" fill="#f03030"/>
<path d="M134.26 561.07L136.04 562.85L134.26 564.63L132.48 562.85Z" fill="#f03030"/>
<path d="M131.73 553.07L133.51 554.85L131.73 556.63L129.94 554.85Z" fill="#f03030"/>
<path d="M134.49 562.33L136.27 564.12L134.49 565.9L132.71 564.12Z" fill="#f03030"/>
<line x1="157.85" y1="556.4" x2="157.85" y2="550.22" stroke="#000" stroke-width="1.1"/>
<line x1="155.25" y1="556.4" x2="160.45" y2="556.4" stroke="#000" stroke-width="1.1"/>
<line x1="155.25" y1="550.22" x2="160.45" y2="550.22" stroke="#000" stroke-width="1.1"/>
<circle cx="158.13" cy="552.65" r="1.55" fill="#000" stroke="none" stroke-width="1"/>
<circle cx="154.97" cy="554.22" r="1.55" fill="#000" stroke="none" stroke-width="1"/>
<circle cx="160.74" cy="554.41" r="1.55" fill="#000" stroke="none" stroke-width="1"/>
<circle cx="157.95" cy="555.89" r="1.55" fill="#000" stroke="none" stroke-width="1"/>
<circle cx="155.05" cy="557.45" r="1.55" fill="#000" stroke="none" stroke-width="1"/>
<circle cx="157.93" cy="549.05" r="1.55" fill="#000" stroke="none" stroke-width="1"/>
<circle cx="160.71" cy="558.41" r="1.55" fill="#000" stroke="none" stroke-width="1"/>
<circle cx="157.68" cy="545.45" r="1.55" fill="#000" stroke="none" stroke-width="1"/>
<circle cx="160.93" cy="544.87" r="1.55" fill="#000" stroke="none" stroke-width="1"/>
<circle cx="157.88" cy="561.8" r="1.55" fill="#000" stroke="none" stroke-width="1"/>
<circle cx="155.07" cy="544.04" r="1.55" fill="#000" stroke="none" stroke-width="1"/>
<rect x="172.25" y="562.99" width="2.94" height="2.94" stroke="none" stroke-width="1" fill="#0000ff"/>
<rect x="169.21" y="562.83" width="2.94" height="2.94" stroke="none" stroke-width="1" fill="#0000ff"/>
<rect x="172.4" y="562.79" width="2.94" height="2.94" stroke="none" stroke-width="1" fill="#0000ff"/>
<rect x="168.72" y="563.42" width="2.94" height="2.94" stroke="none" stroke-width="1" fill="#0000ff"/>
<rect x="175.29" y="563.76" width="2.94" height="2.94" stroke="none" stroke-width="1" fill="#0000ff"/>
<rect x="169.25" y="563.92" width="2.94" height="2.94" stroke="none" stroke-width="1" fill="#0000ff"/>
<rect x="170.42" y="564.03" width="2.94" height="2.94" stroke="none" stroke-width="1" fill="#0000ff"/>
<rect x="170.8" y="564.14" width="2.94" height="2.94" stroke="none" stroke-width="1" fill="#0000ff"/>
<rect x="171.75" y="561.79" width="2.94" height="2.94" stroke="none" stroke-width="1" fill="#0000ff"/>
<rect x="174.35" y="564.96" width="2.94" height="2.94" stroke="none" stroke-width="1" fill="#0000ff"/>
<rect x="174.41" y="560.33" width="2.94" height="2.94" stroke="none" stroke-width="1" fill="#0000ff"/>
<path d="M188.92 565.63L190.7 567.42L188.92 569.2L187.14 567.42Z" fill="#f03030"/>
<path d="M191.72 565.59L193.5 567.38L191.72 569.16L189.93 567.38Z" fill="#f03030"/>
<path d="M191.48 566.14L193.26 567.92L191.48 569.7L189.7 567.92Z" fill="#f03030"/>
<path d="M192.34 565.43L194.13 567.22L192.34 569L190.56 567.22Z" fill="#f03030"/>
<path d="M191.49 566.24L193.28 568.02L191.49 569.8L189.71 568.02Z" fill="#f03030"/>
<path d="M186.7 566.26L188.48 568.04L186.7 569.82L184.92 568.04Z" fill="#f03030"/>
<path d="M187.12 566.31L188.91 568.09L187.12 569.87L185.34 568.09Z" fill="#f03030"/>
<path d="M192.45 565.2L194.23 566.98L192.45 568.76L190.67 566.98Z" fill="#f03030"/>
<path d="M187.35 566.44L189.13 568.23L187.35 570.01L185.57 568.23Z" fill="#f03030"/>
<path d="M186.76 563.88L188.54 565.66L186.76 567.44L184.98 565.66Z" fill="#f03030"/>
<path d="M186.95 567.74L188.74 569.52L186.95 571.3L185.17 569.52Z" fill="#f03030"/>
<path d="M113.55 532.3L113.17 533.89L111.6 533.42L112.78 534.55L111.6 535.67L113.17 535.21L113.55 536.8L113.93 535.21L115.5 535.67L114.31 534.55L115.5 533.42L113.93 533.89ZM116.7 532.3L116.32 533.89L114.75 533.42L115.93 534.55L114.75 535.67L116.32 535.21L116.7 536.8L117.08 535.21L118.65 535.67L117.46 534.55L118.65 533.42L117.08 533.89ZM119.85 532.3L119.47 533.89L117.9 533.42L119.09 534.55L117.9 535.67L119.47 535.21L119.85 536.8L120.23 535.21L121.8 535.67L120.62 534.55L121.8 533.42L120.23 533.89Z" fill="#222" stroke="#222" stroke-width="0.35" stroke-linejoin="round"/>
<text transform="translate(129.85 551.89) scale(0.845 1)" font-family='"Liberation Sans", sans-serif' font-size="9.1" font-weight="bold" fill="#222" font-style="italic" stroke="#222" stroke-width="0.2">#</text>
<path d="M172.85 550.1L172.4 551.97L170.56 551.42L171.95 552.75L170.56 554.08L172.4 553.53L172.85 555.4L173.3 553.53L175.14 554.08L173.75 552.75L175.14 551.42L173.3 551.97Z" fill="#222" stroke="#222" stroke-width="0.35" stroke-linejoin="round"/>
<text transform="translate(186.56 559.89) scale(0.760 1)" font-family='"Liberation Sans", sans-serif' font-size="9.1" font-weight="bold" fill="#222" font-style="italic" stroke="#222" stroke-width="0.2">#</text>
<path d="M134.2 527.3V522.1H189.8V527.3" fill="none" stroke="#111" stroke-width="1.3"/>
<text transform="translate(155.63 516.8) scale(0.904 1)" font-family='"Liberation Sans", sans-serif' font-size="10.29" font-weight="normal" fill="#000">&amp;&amp;</text>
<text transform="translate(135.53 450.6) scale(0.910 1)" font-family='"Liberation Sans", sans-serif' font-size="10.14" font-weight="bold" fill="#000" stroke="#000" stroke-width="0.2">OFT</text>
<text x="100.24" y="595.52" font-family='"Liberation Sans", sans-serif' font-size="8.24" font-weight="bold" text-anchor="start" fill="#000">3 month</text>
<text x="154.3" y="595.55" font-family='"Liberation Sans", sans-serif' font-size="8.33" font-weight="bold" text-anchor="start" fill="#000">12 month</text>
<text x="64.85" y="585" font-family='"Liberation Sans", sans-serif' font-size="9.79" font-weight="normal" text-anchor="start" fill="#000" transform="rotate(-90 64.85 585)" stroke="#000" stroke-width="0.35">Time spent in the central area</text>
<line x1="307" y1="581.5" x2="312.3" y2="581.5" stroke="#000" stroke-width="1.26"/>
<text x="306.5" y="584.46" font-family='"Liberation Serif", serif' font-size="9.1" font-weight="bold" text-anchor="end" fill="#000">0</text>
<line x1="307" y1="543.2" x2="312.3" y2="543.2" stroke="#000" stroke-width="1.26"/>
<text x="306.5" y="546.16" font-family='"Liberation Serif", serif' font-size="9.1" font-weight="bold" text-anchor="end" fill="#000">100000</text>
<line x1="307" y1="504.9" x2="312.3" y2="504.9" stroke="#000" stroke-width="1.26"/>
<text x="306.5" y="507.86" font-family='"Liberation Serif", serif' font-size="9.1" font-weight="bold" text-anchor="end" fill="#000">200000</text>
<line x1="307" y1="466.6" x2="312.3" y2="466.6" stroke="#000" stroke-width="1.26"/>
<text x="306.5" y="469.56" font-family='"Liberation Serif", serif' font-size="9.1" font-weight="bold" text-anchor="end" fill="#000">300000</text>
<line x1="338.3" y1="581.5" x2="338.3" y2="586.1" stroke="#000" stroke-width="1.26"/>
<line x1="394.2" y1="581.5" x2="394.2" y2="586.1" stroke="#000" stroke-width="1.26"/>
<path d="M317.8 581.5V497.24H327.9V581.5" stroke="#000" stroke-width="1.35" fill="#fff"/>
<path d="M333.2 581.5V530.56H343.1V581.5" stroke="#0000ff" stroke-width="1.35" fill="#fff"/>
<path d="M348.3 581.5V551.63H358.6V581.5" stroke="#ff0000" stroke-width="1.35" fill="#fff"/>
<path d="M374.2 581.5V525.2H384.5V581.5" stroke="#000" stroke-width="1.35" fill="#fff"/>
<path d="M389.5 581.5V556.61H399.7V581.5" stroke="#0000ff" stroke-width="1.35" fill="#fff"/>
<path d="M405 581.5V574.61H415.5V581.5" stroke="#ff0000" stroke-width="1.35" fill="#fff"/>
<line x1="312.3" y1="466.6" x2="312.3" y2="582.2" stroke="#000" stroke-width="1.4"/>
<line x1="311.6" y1="581.5" x2="420.3" y2="581.5" stroke="#000" stroke-width="1.4"/>
<line x1="322.85" y1="506.43" x2="322.85" y2="487.67" stroke="#000" stroke-width="1.1"/>
<line x1="320.25" y1="506.43" x2="325.45" y2="506.43" stroke="#000" stroke-width="1.1"/>
<line x1="320.25" y1="487.67" x2="325.45" y2="487.67" stroke="#000" stroke-width="1.1"/>
<circle cx="322.83" cy="498.03" r="1.55" fill="#000" stroke="none" stroke-width="1"/>
<circle cx="320.27" cy="496.12" r="1.55" fill="#000" stroke="none" stroke-width="1"/>
<circle cx="322.89" cy="495.04" r="1.55" fill="#000" stroke="none" stroke-width="1"/>
<circle cx="320.08" cy="500.02" r="1.55" fill="#000" stroke="none" stroke-width="1"/>
<circle cx="325.61" cy="493.55" r="1.55" fill="#000" stroke="none" stroke-width="1"/>
<circle cx="322.65" cy="491.17" r="1.55" fill="#000" stroke="none" stroke-width="1"/>
<circle cx="323.03" cy="503.57" r="1.55" fill="#000" stroke="none" stroke-width="1"/>
<circle cx="326.94" cy="503.74" r="1.55" fill="#000" stroke="none" stroke-width="1"/>
<circle cx="320.12" cy="489.76" r="1.55" fill="#000" stroke="none" stroke-width="1"/>
<circle cx="323.13" cy="508.73" r="1.55" fill="#000" stroke="none" stroke-width="1"/>
<circle cx="320.35" cy="508.73" r="1.55" fill="#000" stroke="none" stroke-width="1"/>
<circle cx="320.02" cy="508.73" r="1.55" fill="#000" stroke="none" stroke-width="1"/>
<circle cx="322.64" cy="481.15" r="1.55" fill="#000" stroke="none" stroke-width="1"/>
<line x1="338.15" y1="536.69" x2="338.15" y2="524.05" stroke="#0000ff" stroke-width="1.1"/>
<line x1="335.55" y1="536.69" x2="340.75" y2="536.69" stroke="#0000ff" stroke-width="1.1"/>
<line x1="335.55" y1="524.05" x2="340.75" y2="524.05" stroke="#0000ff" stroke-width="1.1"/>
<rect x="336.67" y="529.35" width="2.94" height="2.94" stroke="none" stroke-width="1" fill="#0000ff"/>
<rect x="333.81" y="529.43" width="2.94" height="2.94" stroke="none" stroke-width="1" fill="#0000ff"/>
<rect x="339.43" y="530.58" width="2.94" height="2.94" stroke="none" stroke-width="1" fill="#0000ff"/>
<rect x="339.45" y="527.33" width="2.94" height="2.94" stroke="none" stroke-width="1" fill="#0000ff"/>
<rect x="338.8" y="531.16" width="2.94" height="2.94" stroke="none" stroke-width="1" fill="#0000ff"/>
<rect x="334.34" y="532.63" width="2.94" height="2.94" stroke="none" stroke-width="1" fill="#0000ff"/>
<rect x="336.58" y="525.04" width="2.94" height="2.94" stroke="none" stroke-width="1" fill="#0000ff"/>
<rect x="332.82" y="533.34" width="2.94" height="2.94" stroke="none" stroke-width="1" fill="#0000ff"/>
<rect x="336.94" y="533.59" width="2.94" height="2.94" stroke="none" stroke-width="1" fill="#0000ff"/>
<rect x="336.43" y="520.14" width="2.94" height="2.94" stroke="none" stroke-width="1" fill="#0000ff"/>
<rect x="336.58" y="541.73" width="2.94" height="2.94" stroke="none" stroke-width="1" fill="#0000ff"/>
<rect x="336.74" y="515.68" width="2.94" height="2.94" stroke="none" stroke-width="1" fill="#0000ff"/>
<line x1="353.45" y1="564.26" x2="353.45" y2="540.14" stroke="#ff0000" stroke-width="1.1"/>
<line x1="350.85" y1="564.26" x2="356.05" y2="564.26" stroke="#ff0000" stroke-width="1.1"/>
<line x1="350.85" y1="540.14" x2="356.05" y2="540.14" stroke="#ff0000" stroke-width="1.1"/>
<path d="M353.75 548.86L355.53 550.64L353.75 552.43L351.97 550.64Z" fill="#ff0000"/>
<path d="M350.58 548.18L352.36 549.97L350.58 551.75L348.79 549.97Z" fill="#ff0000"/>
<path d="M353.74 552.96L355.52 554.75L353.74 556.53L351.96 554.75Z" fill="#ff0000"/>
<path d="M355.9 546.46L357.68 548.24L355.9 550.02L354.11 548.24Z" fill="#ff0000"/>
<path d="M351.04 554.04L352.82 555.82L351.04 557.6L349.26 555.82Z" fill="#ff0000"/>
<path d="M355.79 555.22L357.57 557L355.79 558.79L354 557Z" fill="#ff0000"/>
<path d="M353.7 542.43L355.48 544.21L353.7 545.99L351.92 544.21Z" fill="#ff0000"/>
<path d="M350.84 542.31L352.62 544.09L350.84 545.87L349.06 544.09Z" fill="#ff0000"/>
<path d="M352.88 541.36L354.67 543.15L352.88 544.93L351.1 543.15Z" fill="#ff0000"/>
<path d="M355.93 539.42L357.71 541.2L355.93 542.98L354.15 541.2Z" fill="#ff0000"/>
<path d="M353.42 531.08L355.2 532.86L353.42 534.64L351.64 532.86Z" fill="#ff0000"/>
<path d="M353.75 577.8L355.53 579.59L353.75 581.37L351.97 579.59Z" fill="#ff0000"/>
<line x1="379.35" y1="537.46" x2="379.35" y2="514.48" stroke="#000" stroke-width="1.1"/>
<line x1="376.75" y1="537.46" x2="381.95" y2="537.46" stroke="#000" stroke-width="1.1"/>
<line x1="376.75" y1="514.48" x2="381.95" y2="514.48" stroke="#000" stroke-width="1.1"/>
<circle cx="379.64" cy="526.27" r="1.55" fill="#000" stroke="none" stroke-width="1"/>
<circle cx="376.82" cy="527.09" r="1.55" fill="#000" stroke="none" stroke-width="1"/>
<circle cx="379.35" cy="522.78" r="1.55" fill="#000" stroke="none" stroke-width="1"/>
<circle cx="376.5" cy="520.91" r="1.55" fill="#000" stroke="none" stroke-width="1"/>
<circle cx="379.21" cy="519.56" r="1.55" fill="#000" stroke="none" stroke-width="1"/>
<circle cx="381.87" cy="518.04" r="1.55" fill="#000" stroke="none" stroke-width="1"/>
<circle cx="379.52" cy="533.26" r="1.55" fill="#000" stroke="none" stroke-width="1"/>
<circle cx="379.23" cy="533.44" r="1.55" fill="#000" stroke="none" stroke-width="1"/>
<circle cx="379.51" cy="516.25" r="1.55" fill="#000" stroke="none" stroke-width="1"/>
<circle cx="379.46" cy="513.29" r="1.55" fill="#000" stroke="none" stroke-width="1"/>
<circle cx="380.84" cy="512.56" r="1.55" fill="#000" stroke="none" stroke-width="1"/>
<circle cx="379.33" cy="541.11" r="1.55" fill="#000" stroke="none" stroke-width="1"/>
<circle cx="379.54" cy="548.95" r="1.55" fill="#000" stroke="none" stroke-width="1"/>
<line x1="394.6" y1="562.35" x2="394.6" y2="550.86" stroke="#0000ff" stroke-width="1.1"/>
<line x1="392" y1="562.35" x2="397.2" y2="562.35" stroke="#0000ff" stroke-width="1.1"/>
<line x1="392" y1="550.86" x2="397.2" y2="550.86" stroke="#0000ff" stroke-width="1.1"/>
<rect x="393.41" y="555.79" width="2.94" height="2.94" stroke="none" stroke-width="1" fill="#0000ff"/>
<rect x="393.4" y="558.94" width="2.94" height="2.94" stroke="none" stroke-width="1" fill="#0000ff"/>
<rect x="393.14" y="550.33" width="2.94" height="2.94" stroke="none" stroke-width="1" fill="#0000ff"/>
<rect x="390.32" y="560.07" width="2.94" height="2.94" stroke="none" stroke-width="1" fill="#0000ff"/>
<rect x="395.53" y="560.25" width="2.94" height="2.94" stroke="none" stroke-width="1" fill="#0000ff"/>
<rect x="389.08" y="560.33" width="2.94" height="2.94" stroke="none" stroke-width="1" fill="#0000ff"/>
<rect x="392.88" y="549.74" width="2.94" height="2.94" stroke="none" stroke-width="1" fill="#0000ff"/>
<rect x="392.96" y="561.7" width="2.94" height="2.94" stroke="none" stroke-width="1" fill="#0000ff"/>
<rect x="390.3" y="547.98" width="2.94" height="2.94" stroke="none" stroke-width="1" fill="#0000ff"/>
<rect x="390.33" y="563.73" width="2.94" height="2.94" stroke="none" stroke-width="1" fill="#0000ff"/>
<rect x="392.94" y="545.56" width="2.94" height="2.94" stroke="none" stroke-width="1" fill="#0000ff"/>
<rect x="392.85" y="568.54" width="2.94" height="2.94" stroke="none" stroke-width="1" fill="#0000ff"/>
<line x1="410.25" y1="577.67" x2="410.25" y2="571.54" stroke="#ff0000" stroke-width="1.1"/>
<line x1="407.65" y1="577.67" x2="412.85" y2="577.67" stroke="#ff0000" stroke-width="1.1"/>
<line x1="407.65" y1="571.54" x2="412.85" y2="571.54" stroke="#ff0000" stroke-width="1.1"/>
<path d="M410.02 572.81L411.8 574.6L410.02 576.38L408.24 574.6Z" fill="#ff0000"/>
<path d="M410.96 572.48L412.75 574.27L410.96 576.05L409.18 574.27Z" fill="#ff0000"/>
<path d="M411.1 573.2L412.88 574.98L411.1 576.77L409.31 574.98Z" fill="#ff0000"/>
<path d="M406.79 572.39L408.57 574.17L406.79 575.95L405.01 574.17Z" fill="#ff0000"/>
<path d="M407.84 574.61L409.62 576.39L407.84 578.17L406.05 576.39Z" fill="#ff0000"/>
<path d="M414.49 574.8L416.27 576.58L414.49 578.36L412.71 576.58Z" fill="#ff0000"/>
<path d="M406.92 574.93L408.7 576.71L406.92 578.5L405.13 576.71Z" fill="#ff0000"/>
<path d="M408.25 570.71L410.04 572.5L408.25 574.28L406.47 572.5Z" fill="#ff0000"/>
<path d="M410.51 568.37L412.29 570.15L410.51 571.93L408.73 570.15Z" fill="#ff0000"/>
<path d="M410.42 577.8L412.2 579.59L410.42 581.37L408.64 579.59Z" fill="#ff0000"/>
<path d="M407.51 567.46L409.29 569.24L407.51 571.03L405.72 569.24Z" fill="#ff0000"/>
<path d="M333.75 505.2L333.32 507L331.54 506.48L332.88 507.75L331.54 509.02L333.32 508.5L333.75 510.3L334.18 508.5L335.96 509.02L334.62 507.75L335.96 506.48L334.18 507ZM337.95 505.2L337.52 507L335.74 506.48L337.08 507.75L335.74 509.02L337.52 508.5L337.95 510.3L338.38 508.5L340.16 509.02L338.82 507.75L340.16 506.48L338.38 507ZM342.15 505.2L341.72 507L339.94 506.48L341.28 507.75L339.94 509.02L341.72 508.5L342.15 510.3L342.58 508.5L344.36 509.02L343.02 507.75L344.36 506.48L342.58 507Z" fill="#111" stroke="#111" stroke-width="0.35" stroke-linejoin="round"/>
<text transform="translate(348.46 526.18) scale(0.861 1)" font-family='"Liberation Sans", sans-serif' font-size="7.91" font-weight="bold" fill="#111" font-style="italic" stroke="#111" stroke-width="0.5">###</text>
<path d="M391.3 535.5L390.88 537.26L389.13 536.75L390.45 538L389.13 539.25L390.88 538.74L391.3 540.5L391.73 538.74L393.47 539.25L392.15 538L393.47 536.75L391.73 537.26ZM395.4 535.5L394.98 537.26L393.23 536.75L394.55 538L393.23 539.25L394.98 538.74L395.4 540.5L395.83 538.74L397.57 539.25L396.25 538L397.57 536.75L395.83 537.26ZM399.5 535.5L399.07 537.26L397.33 536.75L398.65 538L397.33 539.25L399.07 538.74L399.5 540.5L399.92 538.74L401.67 539.25L400.35 538L401.67 536.75L399.92 537.26Z" fill="#111" stroke="#111" stroke-width="0.35" stroke-linejoin="round"/>
<text transform="translate(404.67 561.78) scale(0.822 1)" font-family='"Liberation Sans", sans-serif' font-size="8.21" font-weight="bold" fill="#111" font-style="italic" stroke="#111" stroke-width="0.5">###</text>
<path d="M353.3 489.5V484.4H411.5V489.5" fill="none" stroke="#111" stroke-width="1.3"/>
<text transform="translate(374.19 479.88) scale(0.626 1)" font-family='"Liberation Serif", serif' font-size="10.9" font-weight="bold" fill="#000">&amp;&amp;&amp;</text>
<text transform="translate(356.62 449.7) scale(0.885 1)" font-family='"Liberation Serif", serif' font-size="10.15" font-weight="bold" fill="#000">EPM</text>
<text x="321.83" y="596.26" font-family='"Liberation Serif", serif' font-size="9.14" font-weight="bold" text-anchor="start" fill="#000">3 month</text>
<text x="376.07" y="596.3" font-family='"Liberation Serif", serif' font-size="9.11" font-weight="bold" text-anchor="start" fill="#000">12 month</text>
<text x="264.49" y="573.99" font-family='"Liberation Serif", serif' font-size="9.38" font-weight="bold" text-anchor="start" fill="#000" transform="rotate(-90 264.49 573.99)">Total traveled distance in</text>
<text x="274.1" y="556.68" font-family='"Liberation Serif", serif' font-size="9.59" font-weight="bold" text-anchor="start" fill="#000" transform="rotate(-90 274.1 556.68)">open arms  (cm)</text>
<line x1="510.2" y1="580.3" x2="515.5" y2="580.3" stroke="#000" stroke-width="1.26"/>
<text x="508.7" y="583.62" font-family='"Liberation Serif", serif' font-size="10.2" font-weight="bold" text-anchor="end" fill="#000">0</text>
<line x1="510.2" y1="550.6" x2="515.5" y2="550.6" stroke="#000" stroke-width="1.26"/>
<text x="508.7" y="553.91" font-family='"Liberation Serif", serif' font-size="10.2" font-weight="bold" text-anchor="end" fill="#000">50</text>
<line x1="510.2" y1="520.9" x2="515.5" y2="520.9" stroke="#000" stroke-width="1.26"/>
<text x="508.7" y="524.22" font-family='"Liberation Serif", serif' font-size="10.2" font-weight="bold" text-anchor="end" fill="#000">100</text>
<line x1="510.2" y1="491.2" x2="515.5" y2="491.2" stroke="#000" stroke-width="1.26"/>
<text x="508.7" y="494.51" font-family='"Liberation Serif", serif' font-size="10.2" font-weight="bold" text-anchor="end" fill="#000">150</text>
<line x1="510.2" y1="461.5" x2="515.5" y2="461.5" stroke="#000" stroke-width="1.26"/>
<text x="508.7" y="464.81" font-family='"Liberation Serif", serif' font-size="10.2" font-weight="bold" text-anchor="end" fill="#000">200</text>
<line x1="544.8" y1="580.3" x2="544.8" y2="584.9" stroke="#000" stroke-width="1.26"/>
<line x1="608.8" y1="580.3" x2="608.8" y2="584.9" stroke="#000" stroke-width="1.26"/>
<path d="M521.6 580.3V517.34H532.5V580.3" stroke="#000" stroke-width="1.35" fill="#fff"/>
<path d="M539.2 580.3V536.94H550.2V580.3" stroke="#0000ff" stroke-width="1.35" fill="#fff"/>
<path d="M556.1 580.3V555.35H567.3V580.3" stroke="#ff0000" stroke-width="1.35" fill="#fff"/>
<path d="M586 580.3V529.22H597V580.3" stroke="#000" stroke-width="1.35" fill="#fff"/>
<path d="M603.5 580.3V551.79H614.6V580.3" stroke="#0000ff" stroke-width="1.35" fill="#fff"/>
<path d="M621.2 580.3V569.9H632.3V580.3" stroke="#ff0000" stroke-width="1.35" fill="#fff"/>
<line x1="515.5" y1="461.5" x2="515.5" y2="581" stroke="#000" stroke-width="1.4"/>
<line x1="514.8" y1="580.3" x2="638.9" y2="580.3" stroke="#000" stroke-width="1.4"/>
<line x1="527.05" y1="528.03" x2="527.05" y2="505.46" stroke="#000" stroke-width="1.1"/>
<line x1="524.45" y1="528.03" x2="529.65" y2="528.03" stroke="#000" stroke-width="1.1"/>
<line x1="524.45" y1="505.46" x2="529.65" y2="505.46" stroke="#000" stroke-width="1.1"/>
<circle cx="527.19" cy="517.3" r="1.55" fill="#000" stroke="none" stroke-width="1"/>
<circle cx="524.47" cy="516.68" r="1.55" fill="#000" stroke="none" stroke-width="1"/>
<circle cx="524.26" cy="519.61" r="1.55" fill="#000" stroke="none" stroke-width="1"/>
<circle cx="529.51" cy="514.54" r="1.55" fill="#000" stroke="none" stroke-width="1"/>
<circle cx="527.23" cy="512.88" r="1.55" fill="#000" stroke="none" stroke-width="1"/>
<circle cx="527.16" cy="524.24" r="1.55" fill="#000" stroke="none" stroke-width="1"/>
<circle cx="527.26" cy="528.01" r="1.55" fill="#000" stroke="none" stroke-width="1"/>
<circle cx="524.2" cy="528.03" r="1.55" fill="#000" stroke="none" stroke-width="1"/>
<circle cx="532.08" cy="528.03" r="1.55" fill="#000" stroke="none" stroke-width="1"/>
<circle cx="531.01" cy="528.03" r="1.55" fill="#000" stroke="none" stroke-width="1"/>
<circle cx="527.3" cy="506.41" r="1.55" fill="#000" stroke="none" stroke-width="1"/>
<circle cx="524.53" cy="504.2" r="1.55" fill="#000" stroke="none" stroke-width="1"/>
<circle cx="527.17" cy="483.48" r="1.55" fill="#000" stroke="none" stroke-width="1"/>
<line x1="544.7" y1="542.88" x2="544.7" y2="533.97" stroke="#0000ff" stroke-width="1.1"/>
<line x1="542.1" y1="542.88" x2="547.3" y2="542.88" stroke="#0000ff" stroke-width="1.1"/>
<line x1="542.1" y1="533.97" x2="547.3" y2="533.97" stroke="#0000ff" stroke-width="1.1"/>
<rect x="543" y="534.79" width="2.94" height="2.94" stroke="none" stroke-width="1" fill="#0000ff"/>
<rect x="540.51" y="536.4" width="2.94" height="2.94" stroke="none" stroke-width="1" fill="#0000ff"/>
<rect x="545.61" y="536.95" width="2.94" height="2.94" stroke="none" stroke-width="1" fill="#0000ff"/>
<rect x="546.96" y="537.52" width="2.94" height="2.94" stroke="none" stroke-width="1" fill="#0000ff"/>
<rect x="542.51" y="538.23" width="2.94" height="2.94" stroke="none" stroke-width="1" fill="#0000ff"/>
<rect x="543.38" y="531.87" width="2.94" height="2.94" stroke="none" stroke-width="1" fill="#0000ff"/>
<rect x="538.31" y="531.7" width="2.94" height="2.94" stroke="none" stroke-width="1" fill="#0000ff"/>
<rect x="542.96" y="531.69" width="2.94" height="2.94" stroke="none" stroke-width="1" fill="#0000ff"/>
<rect x="543.35" y="528.27" width="2.94" height="2.94" stroke="none" stroke-width="1" fill="#0000ff"/>
<rect x="540.38" y="525.96" width="2.94" height="2.94" stroke="none" stroke-width="1" fill="#0000ff"/>
<rect x="543.38" y="545.86" width="2.94" height="2.94" stroke="none" stroke-width="1" fill="#0000ff"/>
<rect x="540.62" y="546.16" width="2.94" height="2.94" stroke="none" stroke-width="1" fill="#0000ff"/>
<path d="M561.65 553.67L563.43 555.46L561.65 557.24L559.86 555.46Z" fill="#ff0000"/>
<path d="M566.9 553.4L568.68 555.18L566.9 556.97L565.11 555.18Z" fill="#ff0000"/>
<path d="M556.67 553.26L558.46 555.04L556.67 556.82L554.89 555.04Z" fill="#ff0000"/>
<path d="M560.74 554.37L562.53 556.15L560.74 557.94L558.96 556.15Z" fill="#ff0000"/>
<path d="M557.28 554.77L559.06 556.55L557.28 558.33L555.5 556.55Z" fill="#ff0000"/>
<path d="M558.81 552.36L560.59 554.14L558.81 555.93L557.03 554.14Z" fill="#ff0000"/>
<path d="M564.26 555L566.04 556.78L564.26 558.56L562.47 556.78Z" fill="#ff0000"/>
<path d="M564.3 551.93L566.08 553.72L564.3 555.5L562.52 553.72Z" fill="#ff0000"/>
<path d="M562.9 555.47L564.69 557.26L562.9 559.04L561.12 557.26Z" fill="#ff0000"/>
<path d="M558.19 555.55L559.97 557.34L558.19 559.12L556.41 557.34Z" fill="#ff0000"/>
<path d="M563.52 550.97L565.31 552.75L563.52 554.53L561.74 552.75Z" fill="#ff0000"/>
<path d="M558.88 548.82L560.66 550.6L558.88 552.38L557.1 550.6Z" fill="#ff0000"/>
<path d="M561.97 560.7L563.75 562.48L561.97 564.26L560.18 562.48Z" fill="#ff0000"/>
<circle cx="591.71" cy="529.52" r="1.55" fill="#000" stroke="none" stroke-width="1"/>
<circle cx="586.55" cy="529.64" r="1.55" fill="#000" stroke="none" stroke-width="1"/>
<circle cx="590.3" cy="528.69" r="1.55" fill="#000" stroke="none" stroke-width="1"/>
<circle cx="593.64" cy="529.93" r="1.55" fill="#000" stroke="none" stroke-width="1"/>
<circle cx="596.45" cy="528.15" r="1.55" fill="#000" stroke="none" stroke-width="1"/>
<circle cx="592.13" cy="530.81" r="1.55" fill="#000" stroke="none" stroke-width="1"/>
<circle cx="589.8" cy="527.31" r="1.55" fill="#000" stroke="none" stroke-width="1"/>
<circle cx="590.95" cy="526.99" r="1.55" fill="#000" stroke="none" stroke-width="1"/>
<circle cx="586.39" cy="526.74" r="1.55" fill="#000" stroke="none" stroke-width="1"/>
<circle cx="588.98" cy="532.14" r="1.55" fill="#000" stroke="none" stroke-width="1"/>
<circle cx="594.2" cy="524.96" r="1.55" fill="#000" stroke="none" stroke-width="1"/>
<circle cx="588.69" cy="524.7" r="1.55" fill="#000" stroke="none" stroke-width="1"/>
<circle cx="591.58" cy="523.28" r="1.55" fill="#000" stroke="none" stroke-width="1"/>
<circle cx="591.43" cy="536.94" r="1.55" fill="#000" stroke="none" stroke-width="1"/>
<rect x="607.83" y="550.21" width="2.94" height="2.94" stroke="none" stroke-width="1" fill="#0000ff"/>
<rect x="604.96" y="549.91" width="2.94" height="2.94" stroke="none" stroke-width="1" fill="#0000ff"/>
<rect x="612.56" y="550.74" width="2.94" height="2.94" stroke="none" stroke-width="1" fill="#0000ff"/>
<rect x="608.99" y="550.97" width="2.94" height="2.94" stroke="none" stroke-width="1" fill="#0000ff"/>
<rect x="608.44" y="549.6" width="2.94" height="2.94" stroke="none" stroke-width="1" fill="#0000ff"/>
<rect x="603.79" y="549.57" width="2.94" height="2.94" stroke="none" stroke-width="1" fill="#0000ff"/>
<rect x="611.75" y="549.31" width="2.94" height="2.94" stroke="none" stroke-width="1" fill="#0000ff"/>
<rect x="610.64" y="552.01" width="2.94" height="2.94" stroke="none" stroke-width="1" fill="#0000ff"/>
<rect x="606.5" y="552.09" width="2.94" height="2.94" stroke="none" stroke-width="1" fill="#0000ff"/>
<rect x="604.71" y="552.19" width="2.94" height="2.94" stroke="none" stroke-width="1" fill="#0000ff"/>
<rect x="607.55" y="545.47" width="2.94" height="2.94" stroke="none" stroke-width="1" fill="#0000ff"/>
<rect x="607.76" y="556.76" width="2.94" height="2.94" stroke="none" stroke-width="1" fill="#0000ff"/>
<rect x="607.62" y="542" width="2.94" height="2.94" stroke="none" stroke-width="1" fill="#0000ff"/>
<rect x="607.85" y="561.01" width="2.94" height="2.94" stroke="none" stroke-width="1" fill="#0000ff"/>
<path d="M626.54 568.97L628.33 570.75L626.54 572.53L624.76 570.75Z" fill="#ff0000"/>
<path d="M624.37 567.19L626.15 568.97L624.37 570.75L622.59 568.97Z" fill="#ff0000"/>
<path d="M629.21 566.91L630.99 568.69L629.21 570.47L627.42 568.69Z" fill="#ff0000"/>
<path d="M627.89 566.87L629.67 568.65L627.89 570.44L626.11 568.65Z" fill="#ff0000"/>
<path d="M631.73 565.51L633.52 567.29L631.73 569.07L629.95 567.29Z" fill="#ff0000"/>
<path d="M621.81 565.34L623.6 567.12L621.81 568.9L620.03 567.12Z" fill="#ff0000"/>
<path d="M624.31 571.1L626.09 572.88L624.31 574.66L622.53 572.88Z" fill="#ff0000"/>
<path d="M629.65 571.31L631.43 573.09L629.65 574.87L627.87 573.09Z" fill="#ff0000"/>
<path d="M623.11 564.79L624.89 566.57L623.11 568.35L621.33 566.57Z" fill="#ff0000"/>
<path d="M626.81 572.43L628.59 574.21L626.81 575.99L625.03 574.21Z" fill="#ff0000"/>
<path d="M631.23 573.72L633.01 575.5L631.23 577.28L629.44 575.5Z" fill="#ff0000"/>
<path d="M626.85 561.29L628.63 563.07L626.85 564.86L625.07 563.07Z" fill="#ff0000"/>
<path d="M626.52 575.55L628.31 577.33L626.52 579.11L624.74 577.33Z" fill="#ff0000"/>
<path d="M539.65 515.6L539.22 517.4L537.44 516.88L538.78 518.15L537.44 519.42L539.22 518.9L539.65 520.7L540.08 518.9L541.86 519.42L540.52 518.15L541.86 516.88L540.08 517.4ZM544.65 515.6L544.22 517.4L542.44 516.88L543.78 518.15L542.44 519.42L544.22 518.9L544.65 520.7L545.08 518.9L546.86 519.42L545.52 518.15L546.86 516.88L545.08 517.4ZM549.65 515.6L549.22 517.4L547.44 516.88L548.78 518.15L547.44 519.42L549.22 518.9L549.65 520.7L550.08 518.9L551.86 519.42L550.52 518.15L551.86 516.88L550.08 517.4Z" fill="#111" stroke="#111" stroke-width="0.35" stroke-linejoin="round"/>
<text transform="translate(556.44 544.47) scale(1.060 1)" font-family='"Liberation Sans", sans-serif' font-size="7.46" font-weight="bold" fill="#111" font-style="italic" stroke="#111" stroke-width="0.5">###</text>
<path d="M604.2 530.7L603.72 532.68L601.78 532.1L603.25 533.5L601.78 534.9L603.72 534.32L604.2 536.3L604.68 534.32L606.62 534.9L605.15 533.5L606.62 532.1L604.68 532.68ZM609.2 530.7L608.72 532.68L606.78 532.1L608.25 533.5L606.78 534.9L608.72 534.32L609.2 536.3L609.68 534.32L611.62 534.9L610.15 533.5L611.62 532.1L609.68 532.68ZM614.2 530.7L613.72 532.68L611.78 532.1L613.25 533.5L611.78 534.9L613.72 534.32L614.2 536.3L614.68 534.32L616.62 534.9L615.15 533.5L616.62 532.1L614.68 532.68Z" fill="#111" stroke="#111" stroke-width="0.35" stroke-linejoin="round"/>
<text transform="translate(620.24 557.38) scale(1.000 1)" font-family='"Liberation Sans", sans-serif' font-size="7.91" font-weight="bold" fill="#111" font-style="italic" stroke="#111" stroke-width="0.5">###</text>
<path d="M563.2 498.2V492.6H626.8V498.2" fill="none" stroke="#111" stroke-width="1.3"/>
<text transform="translate(585.36 488.79) scale(0.695 1)" font-family='"Liberation Serif", serif' font-size="10.6" font-weight="bold" fill="#000">&amp;&amp;&amp;</text>
<text transform="translate(566 450.5) scale(0.951 1)" font-family='"Liberation Serif", serif' font-size="10.46" font-weight="bold" fill="#000">EPM</text>
<text x="526.6" y="595.97" font-family='"Liberation Serif", serif' font-size="10.06" font-weight="bold" text-anchor="start" fill="#000">3 month</text>
<text x="587.98" y="596.09" font-family='"Liberation Serif", serif' font-size="10.25" font-weight="bold" text-anchor="start" fill="#000">12 month</text>
<text x="487.23" y="581.4" font-family='"Liberation Serif", serif' font-size="9.9" font-weight="bold" text-anchor="start" fill="#000" transform="rotate(-90 487.23 581.4)">Open arms residence time (s)</text>
<line x1="105.9" y1="940.2" x2="111.2" y2="940.2" stroke="#000" stroke-width="1.26"/>
<text x="105.1" y="943.3" font-family='"Liberation Serif", serif' font-size="9.55" font-weight="bold" text-anchor="end" fill="#000">0</text>
<line x1="105.9" y1="900.8" x2="111.2" y2="900.8" stroke="#000" stroke-width="1.26"/>
<text x="105.1" y="903.9" font-family='"Liberation Serif", serif' font-size="9.55" font-weight="bold" text-anchor="end" fill="#000">100000</text>
<line x1="105.9" y1="861.4" x2="111.2" y2="861.4" stroke="#000" stroke-width="1.26"/>
<text x="105.1" y="864.5" font-family='"Liberation Serif", serif' font-size="9.55" font-weight="bold" text-anchor="end" fill="#000">200000</text>
<line x1="105.9" y1="822" x2="111.2" y2="822" stroke="#000" stroke-width="1.26"/>
<text x="105.1" y="825.1" font-family='"Liberation Serif", serif' font-size="9.55" font-weight="bold" text-anchor="end" fill="#000">300000</text>
<line x1="138.2" y1="940.2" x2="138.2" y2="944.8" stroke="#000" stroke-width="1.26"/>
<line x1="197.6" y1="940.2" x2="197.6" y2="944.8" stroke="#000" stroke-width="1.26"/>
<path d="M116.8 940.2V853.52H127.7V940.2" stroke="#000" stroke-width="1.35" fill="#fff"/>
<path d="M133.1 940.2V887.8H144V940.2" stroke="#0000ff" stroke-width="1.35" fill="#fff"/>
<path d="M149.2 940.2V909.86H160.1V940.2" stroke="#ff0000" stroke-width="1.35" fill="#fff"/>
<path d="M176.4 940.2V882.68H187V940.2" stroke="#000" stroke-width="1.35" fill="#fff"/>
<path d="M192.6 940.2V913.8H203.1V940.2" stroke="#0000ff" stroke-width="1.35" fill="#fff"/>
<path d="M208.9 940.2V933.11H219.7V940.2" stroke="#ff0000" stroke-width="1.35" fill="#fff"/>
<line x1="111.2" y1="822" x2="111.2" y2="940.9" stroke="#000" stroke-width="1.4"/>
<line x1="110.5" y1="940.2" x2="225.8" y2="940.2" stroke="#000" stroke-width="1.4"/>
<line x1="122.25" y1="862.98" x2="122.25" y2="843.67" stroke="#000" stroke-width="1.1"/>
<line x1="119.65" y1="862.98" x2="124.85" y2="862.98" stroke="#000" stroke-width="1.1"/>
<line x1="119.65" y1="843.67" x2="124.85" y2="843.67" stroke="#000" stroke-width="1.1"/>
<circle cx="122.23" cy="854.33" r="1.55" fill="#000" stroke="none" stroke-width="1"/>
<circle cx="119.67" cy="852.37" r="1.55" fill="#000" stroke="none" stroke-width="1"/>
<circle cx="122.29" cy="851.26" r="1.55" fill="#000" stroke="none" stroke-width="1"/>
<circle cx="119.48" cy="856.38" r="1.55" fill="#000" stroke="none" stroke-width="1"/>
<circle cx="125.01" cy="849.72" r="1.55" fill="#000" stroke="none" stroke-width="1"/>
<circle cx="122.05" cy="847.27" r="1.55" fill="#000" stroke="none" stroke-width="1"/>
<circle cx="122.43" cy="860.03" r="1.55" fill="#000" stroke="none" stroke-width="1"/>
<circle cx="126.67" cy="860.21" r="1.55" fill="#000" stroke="none" stroke-width="1"/>
<circle cx="119.52" cy="845.82" r="1.55" fill="#000" stroke="none" stroke-width="1"/>
<circle cx="122.53" cy="865.34" r="1.55" fill="#000" stroke="none" stroke-width="1"/>
<circle cx="119.75" cy="865.34" r="1.55" fill="#000" stroke="none" stroke-width="1"/>
<circle cx="119.19" cy="865.34" r="1.55" fill="#000" stroke="none" stroke-width="1"/>
<circle cx="122.04" cy="836.97" r="1.55" fill="#000" stroke="none" stroke-width="1"/>
<line x1="138.55" y1="894.1" x2="138.55" y2="881.1" stroke="#0000ff" stroke-width="1.1"/>
<line x1="135.95" y1="894.1" x2="141.15" y2="894.1" stroke="#0000ff" stroke-width="1.1"/>
<line x1="135.95" y1="881.1" x2="141.15" y2="881.1" stroke="#0000ff" stroke-width="1.1"/>
<rect x="137.07" y="886.59" width="2.94" height="2.94" stroke="none" stroke-width="1" fill="#0000ff"/>
<rect x="134.21" y="886.68" width="2.94" height="2.94" stroke="none" stroke-width="1" fill="#0000ff"/>
<rect x="139.83" y="887.86" width="2.94" height="2.94" stroke="none" stroke-width="1" fill="#0000ff"/>
<rect x="139.85" y="884.52" width="2.94" height="2.94" stroke="none" stroke-width="1" fill="#0000ff"/>
<rect x="139.42" y="888.45" width="2.94" height="2.94" stroke="none" stroke-width="1" fill="#0000ff"/>
<rect x="134.74" y="889.97" width="2.94" height="2.94" stroke="none" stroke-width="1" fill="#0000ff"/>
<rect x="136.98" y="882.16" width="2.94" height="2.94" stroke="none" stroke-width="1" fill="#0000ff"/>
<rect x="132.83" y="890.7" width="2.94" height="2.94" stroke="none" stroke-width="1" fill="#0000ff"/>
<rect x="137.34" y="890.96" width="2.94" height="2.94" stroke="none" stroke-width="1" fill="#0000ff"/>
<rect x="136.83" y="877.12" width="2.94" height="2.94" stroke="none" stroke-width="1" fill="#0000ff"/>
<rect x="136.98" y="899.33" width="2.94" height="2.94" stroke="none" stroke-width="1" fill="#0000ff"/>
<rect x="137.14" y="872.54" width="2.94" height="2.94" stroke="none" stroke-width="1" fill="#0000ff"/>
<line x1="154.65" y1="922.47" x2="154.65" y2="897.65" stroke="#ff0000" stroke-width="1.1"/>
<line x1="152.05" y1="922.47" x2="157.25" y2="922.47" stroke="#ff0000" stroke-width="1.1"/>
<line x1="152.05" y1="897.65" x2="157.25" y2="897.65" stroke="#ff0000" stroke-width="1.1"/>
<path d="M154.95 907.07L156.73 908.85L154.95 910.63L153.17 908.85Z" fill="#ff0000"/>
<path d="M151.78 906.37L153.56 908.15L151.78 909.94L149.99 908.15Z" fill="#ff0000"/>
<path d="M154.94 911.29L156.72 913.07L154.94 914.85L153.16 913.07Z" fill="#ff0000"/>
<path d="M157.1 904.6L158.88 906.38L157.1 908.16L155.31 906.38Z" fill="#ff0000"/>
<path d="M152.24 912.39L154.02 914.18L152.24 915.96L150.46 914.18Z" fill="#ff0000"/>
<path d="M156.99 913.61L158.77 915.39L156.99 917.18L155.2 915.39Z" fill="#ff0000"/>
<path d="M154.9 900.45L156.68 902.23L154.9 904.02L153.12 902.23Z" fill="#ff0000"/>
<path d="M152.04 900.33L153.82 902.11L152.04 903.89L150.26 902.11Z" fill="#ff0000"/>
<path d="M154.05 899.36L155.83 901.14L154.05 902.92L152.27 901.14Z" fill="#ff0000"/>
<path d="M157.13 897.36L158.91 899.14L157.13 900.92L155.35 899.14Z" fill="#ff0000"/>
<path d="M154.62 888.38L156.4 890.16L154.62 891.94L152.84 890.16Z" fill="#ff0000"/>
<path d="M154.95 936.45L156.73 938.23L154.95 940.01L153.17 938.23Z" fill="#ff0000"/>
<line x1="181.7" y1="894.89" x2="181.7" y2="871.25" stroke="#000" stroke-width="1.1"/>
<line x1="179.1" y1="894.89" x2="184.3" y2="894.89" stroke="#000" stroke-width="1.1"/>
<line x1="179.1" y1="871.25" x2="184.3" y2="871.25" stroke="#000" stroke-width="1.1"/>
<circle cx="181.99" cy="883.77" r="1.55" fill="#000" stroke="none" stroke-width="1"/>
<circle cx="179.17" cy="884.62" r="1.55" fill="#000" stroke="none" stroke-width="1"/>
<circle cx="181.7" cy="880.18" r="1.55" fill="#000" stroke="none" stroke-width="1"/>
<circle cx="178.85" cy="878.27" r="1.55" fill="#000" stroke="none" stroke-width="1"/>
<circle cx="181.56" cy="876.88" r="1.55" fill="#000" stroke="none" stroke-width="1"/>
<circle cx="184.22" cy="875.31" r="1.55" fill="#000" stroke="none" stroke-width="1"/>
<circle cx="181.87" cy="890.97" r="1.55" fill="#000" stroke="none" stroke-width="1"/>
<circle cx="181.57" cy="891.15" r="1.55" fill="#000" stroke="none" stroke-width="1"/>
<circle cx="181.86" cy="873.47" r="1.55" fill="#000" stroke="none" stroke-width="1"/>
<circle cx="181.81" cy="870.42" r="1.55" fill="#000" stroke="none" stroke-width="1"/>
<circle cx="184.39" cy="869.28" r="1.55" fill="#000" stroke="none" stroke-width="1"/>
<circle cx="181.75" cy="899.05" r="1.55" fill="#000" stroke="none" stroke-width="1"/>
<circle cx="181.41" cy="906.71" r="1.55" fill="#000" stroke="none" stroke-width="1"/>
<line x1="197.85" y1="920.5" x2="197.85" y2="908.68" stroke="#0000ff" stroke-width="1.1"/>
<line x1="195.25" y1="920.5" x2="200.45" y2="920.5" stroke="#0000ff" stroke-width="1.1"/>
<line x1="195.25" y1="908.68" x2="200.45" y2="908.68" stroke="#0000ff" stroke-width="1.1"/>
<rect x="196.57" y="913.37" width="2.94" height="2.94" stroke="none" stroke-width="1" fill="#0000ff"/>
<rect x="193.98" y="911.04" width="2.94" height="2.94" stroke="none" stroke-width="1" fill="#0000ff"/>
<rect x="193.89" y="914.82" width="2.94" height="2.94" stroke="none" stroke-width="1" fill="#0000ff"/>
<rect x="196.66" y="909.55" width="2.94" height="2.94" stroke="none" stroke-width="1" fill="#0000ff"/>
<rect x="199" y="915.77" width="2.94" height="2.94" stroke="none" stroke-width="1" fill="#0000ff"/>
<rect x="196.18" y="916.51" width="2.94" height="2.94" stroke="none" stroke-width="1" fill="#0000ff"/>
<rect x="198.85" y="916.98" width="2.94" height="2.94" stroke="none" stroke-width="1" fill="#0000ff"/>
<rect x="192.21" y="917.11" width="2.94" height="2.94" stroke="none" stroke-width="1" fill="#0000ff"/>
<rect x="196.13" y="918.41" width="2.94" height="2.94" stroke="none" stroke-width="1" fill="#0000ff"/>
<rect x="196.07" y="918.57" width="2.94" height="2.94" stroke="none" stroke-width="1" fill="#0000ff"/>
<rect x="196.31" y="903.27" width="2.94" height="2.94" stroke="none" stroke-width="1" fill="#0000ff"/>
<rect x="196.44" y="926.91" width="2.94" height="2.94" stroke="none" stroke-width="1" fill="#0000ff"/>
<line x1="214.3" y1="936.26" x2="214.3" y2="929.96" stroke="#ff0000" stroke-width="1.1"/>
<line x1="211.7" y1="936.26" x2="216.9" y2="936.26" stroke="#ff0000" stroke-width="1.1"/>
<line x1="211.7" y1="929.96" x2="216.9" y2="929.96" stroke="#ff0000" stroke-width="1.1"/>
<path d="M214.02 931.37L215.8 933.15L214.02 934.93L212.24 933.15Z" fill="#ff0000"/>
<path d="M216.93 931.26L218.71 933.04L216.93 934.83L215.15 933.04Z" fill="#ff0000"/>
<path d="M209.28 930.76L211.07 932.54L209.28 934.33L207.5 932.54Z" fill="#ff0000"/>
<path d="M218.45 932.17L220.23 933.95L218.45 935.73L216.67 933.95Z" fill="#ff0000"/>
<path d="M215.34 932.21L217.13 934L215.34 935.78L213.56 934Z" fill="#ff0000"/>
<path d="M218.59 930.36L220.37 932.15L218.59 933.93L216.8 932.15Z" fill="#ff0000"/>
<path d="M213.53 930.32L215.32 932.1L213.53 933.88L211.75 932.1Z" fill="#ff0000"/>
<path d="M213.79 932.65L215.57 934.43L213.79 936.21L212 934.43Z" fill="#ff0000"/>
<path d="M216.86 932.75L218.64 934.53L216.86 936.31L215.07 934.53Z" fill="#ff0000"/>
<path d="M214.15 936.45L215.93 938.23L214.15 940.01L212.36 938.23Z" fill="#ff0000"/>
<path d="M214.16 925.81L215.94 927.59L214.16 929.37L212.38 927.59Z" fill="#ff0000"/>
<path d="M133.65 861.8L133.2 863.67L131.36 863.13L132.75 864.45L131.36 865.77L133.2 865.23L133.65 867.1L134.1 865.23L135.94 865.77L134.55 864.45L135.94 863.13L134.1 863.67ZM138.3 861.8L137.85 863.67L136.01 863.13L137.4 864.45L136.01 865.77L137.85 865.23L138.3 867.1L138.75 865.23L140.59 865.77L139.2 864.45L140.59 863.13L138.75 863.67ZM142.95 861.8L142.5 863.67L140.66 863.13L142.05 864.45L140.66 865.77L142.5 865.23L142.95 867.1L143.4 865.23L145.24 865.77L143.85 864.45L145.24 863.13L143.4 863.67Z" fill="#111" stroke="#111" stroke-width="0.35" stroke-linejoin="round"/>
<text transform="translate(149.26 883.27) scale(0.988 1)" font-family='"Liberation Sans", sans-serif' font-size="7.01" font-weight="bold" fill="#111" font-style="italic" stroke="#111" stroke-width="0.5">###</text>
<path d="M193.95 893L193.52 894.8L191.74 894.27L193.08 895.55L191.74 896.82L193.52 896.3L193.95 898.1L194.38 896.3L196.16 896.82L194.82 895.55L196.16 894.27L194.38 894.8ZM198.5 893L198.07 894.8L196.29 894.27L197.63 895.55L196.29 896.82L198.07 896.3L198.5 898.1L198.93 896.3L200.71 896.82L199.37 895.55L200.71 894.27L198.93 894.8ZM203.05 893L202.62 894.8L200.84 894.27L202.18 895.55L200.84 896.82L202.62 896.3L203.05 898.1L203.48 896.3L205.26 896.82L203.92 895.55L205.26 894.27L203.48 894.8Z" fill="#111" stroke="#111" stroke-width="0.35" stroke-linejoin="round"/>
<text transform="translate(208.05 920.58) scale(0.983 1)" font-family='"Liberation Sans", sans-serif' font-size="7.61" font-weight="bold" fill="#111" font-style="italic" stroke="#111" stroke-width="0.5">###</text>
<path d="M154.4 846.4V840.6H215.7V846.4" fill="none" stroke="#111" stroke-width="1.3"/>
<text transform="translate(176.16 835.69) scale(0.689 1)" font-family='"Liberation Serif", serif' font-size="10.75" font-weight="bold" fill="#000">&amp;&amp;&amp;</text>
<text transform="translate(158.01 804.7) scale(0.885 1)" font-family='"Liberation Serif", serif' font-size="10.46" font-weight="bold" fill="#000">EPM</text>
<text x="121.63" y="955.33" font-family='"Liberation Serif", serif' font-size="9.34" font-weight="bold" text-anchor="start" fill="#000">3 month</text>
<text x="178.04" y="955.43" font-family='"Liberation Serif", serif' font-size="9.49" font-weight="bold" text-anchor="start" fill="#000">12 month</text>
<text x="60.28" y="935" font-family='"Liberation Serif", serif' font-size="9.93" font-weight="bold" text-anchor="start" fill="#000" transform="rotate(-90 60.28 935)">Total traveled distance in</text>
<text x="70.45" y="917.31" font-family='"Liberation Serif", serif' font-size="10.19" font-weight="bold" text-anchor="start" fill="#000" transform="rotate(-90 70.45 917.31)">open arms  (cm)</text>
<line x1="313.8" y1="940.9" x2="319.1" y2="940.9" stroke="#000" stroke-width="1.26"/>
<text x="313.6" y="943.95" font-family='"Liberation Serif", serif' font-size="9.4" font-weight="bold" text-anchor="end" fill="#000">0</text>
<line x1="313.8" y1="904.7" x2="319.1" y2="904.7" stroke="#000" stroke-width="1.26"/>
<text x="313.6" y="907.75" font-family='"Liberation Serif", serif' font-size="9.4" font-weight="bold" text-anchor="end" fill="#000">100</text>
<line x1="313.8" y1="868.5" x2="319.1" y2="868.5" stroke="#000" stroke-width="1.26"/>
<text x="313.6" y="871.55" font-family='"Liberation Serif", serif' font-size="9.4" font-weight="bold" text-anchor="end" fill="#000">200</text>
<line x1="313.8" y1="832.3" x2="319.1" y2="832.3" stroke="#000" stroke-width="1.26"/>
<text x="313.6" y="835.35" font-family='"Liberation Serif", serif' font-size="9.4" font-weight="bold" text-anchor="end" fill="#000">300</text>
<line x1="345.5" y1="940.9" x2="345.5" y2="945.5" stroke="#000" stroke-width="1.26"/>
<line x1="403.1" y1="940.9" x2="403.1" y2="945.5" stroke="#000" stroke-width="1.26"/>
<path d="M325.5 940.9V934.38H335.2V940.9" stroke="#000" stroke-width="1.35" fill="#fff"/>
<path d="M341 940.9V919.18H350.8V940.9" stroke="#0000ff" stroke-width="1.35" fill="#fff"/>
<path d="M356.6 940.9V893.12H366.4V940.9" stroke="#ff0000" stroke-width="1.35" fill="#fff"/>
<path d="M382.7 940.9V915.92H392.7V940.9" stroke="#000" stroke-width="1.35" fill="#fff"/>
<path d="M398.4 940.9V887.32H408.8V940.9" stroke="#0000ff" stroke-width="1.35" fill="#fff"/>
<path d="M414.2 940.9V859.81H424.2V940.9" stroke="#ff0000" stroke-width="1.35" fill="#fff"/>
<line x1="319.1" y1="832.3" x2="319.1" y2="941.6" stroke="#000" stroke-width="1.4"/>
<line x1="318.4" y1="940.9" x2="429.9" y2="940.9" stroke="#000" stroke-width="1.4"/>
<circle cx="330.09" cy="934.8" r="1.55" fill="#000" stroke="none" stroke-width="1"/>
<circle cx="333.15" cy="934.83" r="1.55" fill="#000" stroke="none" stroke-width="1"/>
<circle cx="326.66" cy="933.9" r="1.55" fill="#000" stroke="none" stroke-width="1"/>
<circle cx="331.01" cy="934.88" r="1.55" fill="#000" stroke="none" stroke-width="1"/>
<circle cx="329.76" cy="935" r="1.55" fill="#000" stroke="none" stroke-width="1"/>
<circle cx="330.96" cy="933.55" r="1.55" fill="#000" stroke="none" stroke-width="1"/>
<circle cx="332.45" cy="933.38" r="1.55" fill="#000" stroke="none" stroke-width="1"/>
<circle cx="328.83" cy="936.2" r="1.55" fill="#000" stroke="none" stroke-width="1"/>
<circle cx="331.69" cy="932.36" r="1.55" fill="#000" stroke="none" stroke-width="1"/>
<circle cx="331.72" cy="932.21" r="1.55" fill="#000" stroke="none" stroke-width="1"/>
<circle cx="330.06" cy="939.09" r="1.55" fill="#000" stroke="none" stroke-width="1"/>
<circle cx="330.33" cy="929.32" r="1.55" fill="#000" stroke="none" stroke-width="1"/>
<rect x="344.62" y="917.17" width="2.94" height="2.94" stroke="none" stroke-width="1" fill="#0000ff"/>
<rect x="341.69" y="916.76" width="2.94" height="2.94" stroke="none" stroke-width="1" fill="#0000ff"/>
<rect x="342.23" y="916.58" width="2.94" height="2.94" stroke="none" stroke-width="1" fill="#0000ff"/>
<rect x="348.16" y="916.56" width="2.94" height="2.94" stroke="none" stroke-width="1" fill="#0000ff"/>
<rect x="347.51" y="916.52" width="2.94" height="2.94" stroke="none" stroke-width="1" fill="#0000ff"/>
<rect x="342.03" y="916.36" width="2.94" height="2.94" stroke="none" stroke-width="1" fill="#0000ff"/>
<rect x="340.52" y="915.63" width="2.94" height="2.94" stroke="none" stroke-width="1" fill="#0000ff"/>
<rect x="347.3" y="914.92" width="2.94" height="2.94" stroke="none" stroke-width="1" fill="#0000ff"/>
<rect x="344.72" y="921.11" width="2.94" height="2.94" stroke="none" stroke-width="1" fill="#0000ff"/>
<rect x="344.41" y="914.25" width="2.94" height="2.94" stroke="none" stroke-width="1" fill="#0000ff"/>
<rect x="341.58" y="921.99" width="2.94" height="2.94" stroke="none" stroke-width="1" fill="#0000ff"/>
<rect x="344.66" y="922.05" width="2.94" height="2.94" stroke="none" stroke-width="1" fill="#0000ff"/>
<rect x="344.22" y="911.19" width="2.94" height="2.94" stroke="none" stroke-width="1" fill="#0000ff"/>
<line x1="361.5" y1="904.7" x2="361.5" y2="881.17" stroke="#ff0000" stroke-width="1.1"/>
<line x1="358.9" y1="904.7" x2="364.1" y2="904.7" stroke="#ff0000" stroke-width="1.1"/>
<line x1="358.9" y1="881.17" x2="364.1" y2="881.17" stroke="#ff0000" stroke-width="1.1"/>
<path d="M361.52 891.82L363.3 893.61L361.52 895.39L359.74 893.61Z" fill="#ff0000"/>
<path d="M364.12 891.86L365.9 893.64L364.12 895.42L362.34 893.64Z" fill="#ff0000"/>
<path d="M358.73 893.1L360.51 894.88L358.73 896.66L356.95 894.88Z" fill="#ff0000"/>
<path d="M361.51 895.14L363.29 896.92L361.51 898.71L359.73 896.92Z" fill="#ff0000"/>
<path d="M358.61 896.29L360.4 898.07L358.61 899.85L356.83 898.07Z" fill="#ff0000"/>
<path d="M361.22 884.64L363 886.42L361.22 888.2L359.43 886.42Z" fill="#ff0000"/>
<path d="M364.22 883.88L366 885.66L364.22 887.44L362.44 885.66Z" fill="#ff0000"/>
<path d="M359.25 883.45L361.03 885.23L359.25 887.01L357.47 885.23Z" fill="#ff0000"/>
<path d="M361.32 900.47L363.1 902.25L361.32 904.04L359.54 902.25Z" fill="#ff0000"/>
<path d="M361.32 879.67L363.11 881.46L361.32 883.24L359.54 881.46Z" fill="#ff0000"/>
<path d="M361.57 873.96L363.36 875.74L361.57 877.52L359.79 875.74Z" fill="#ff0000"/>
<path d="M361.74 912.66L363.52 914.45L361.74 916.23L359.96 914.45Z" fill="#ff0000"/>
<path d="M358.88 913.05L360.67 914.84L358.88 916.62L357.1 914.84Z" fill="#ff0000"/>
<circle cx="387.6" cy="915.92" r="1.55" fill="#000" stroke="none" stroke-width="1"/>
<circle cx="385.38" cy="913.49" r="1.55" fill="#000" stroke="none" stroke-width="1"/>
<circle cx="390.57" cy="913.43" r="1.55" fill="#000" stroke="none" stroke-width="1"/>
<circle cx="387.83" cy="918.98" r="1.55" fill="#000" stroke="none" stroke-width="1"/>
<circle cx="384.87" cy="919.27" r="1.55" fill="#000" stroke="none" stroke-width="1"/>
<circle cx="386.44" cy="919.64" r="1.55" fill="#000" stroke="none" stroke-width="1"/>
<circle cx="387.73" cy="911.8" r="1.55" fill="#000" stroke="none" stroke-width="1"/>
<circle cx="390.59" cy="920.71" r="1.55" fill="#000" stroke="none" stroke-width="1"/>
<circle cx="385.62" cy="911.12" r="1.55" fill="#000" stroke="none" stroke-width="1"/>
<circle cx="386.47" cy="910.74" r="1.55" fill="#000" stroke="none" stroke-width="1"/>
<circle cx="387.67" cy="922.8" r="1.55" fill="#000" stroke="none" stroke-width="1"/>
<circle cx="387.75" cy="906.51" r="1.55" fill="#000" stroke="none" stroke-width="1"/>
<line x1="403.6" y1="892.03" x2="403.6" y2="882.98" stroke="#0000ff" stroke-width="1.1"/>
<line x1="401" y1="892.03" x2="406.2" y2="892.03" stroke="#0000ff" stroke-width="1.1"/>
<line x1="401" y1="882.98" x2="406.2" y2="882.98" stroke="#0000ff" stroke-width="1.1"/>
<rect x="402.11" y="885.68" width="2.94" height="2.94" stroke="none" stroke-width="1" fill="#0000ff"/>
<rect x="402.65" y="885.47" width="2.94" height="2.94" stroke="none" stroke-width="1" fill="#0000ff"/>
<rect x="401.63" y="885.26" width="2.94" height="2.94" stroke="none" stroke-width="1" fill="#0000ff"/>
<rect x="405.98" y="884.97" width="2.94" height="2.94" stroke="none" stroke-width="1" fill="#0000ff"/>
<rect x="398.96" y="886.99" width="2.94" height="2.94" stroke="none" stroke-width="1" fill="#0000ff"/>
<rect x="401.9" y="888.6" width="2.94" height="2.94" stroke="none" stroke-width="1" fill="#0000ff"/>
<rect x="399.11" y="888.63" width="2.94" height="2.94" stroke="none" stroke-width="1" fill="#0000ff"/>
<rect x="402.26" y="881.8" width="2.94" height="2.94" stroke="none" stroke-width="1" fill="#0000ff"/>
<rect x="399.31" y="881.02" width="2.94" height="2.94" stroke="none" stroke-width="1" fill="#0000ff"/>
<rect x="405.03" y="880.82" width="2.94" height="2.94" stroke="none" stroke-width="1" fill="#0000ff"/>
<rect x="401.92" y="891.47" width="2.94" height="2.94" stroke="none" stroke-width="1" fill="#0000ff"/>
<rect x="402.09" y="874.27" width="2.94" height="2.94" stroke="none" stroke-width="1" fill="#0000ff"/>
<rect x="402.14" y="897.8" width="2.94" height="2.94" stroke="none" stroke-width="1" fill="#0000ff"/>
<path d="M419.21 857.82L420.99 859.6L419.21 861.38L417.42 859.6Z" fill="#ff0000"/>
<path d="M421.98 857.56L423.76 859.34L421.98 861.12L420.19 859.34Z" fill="#ff0000"/>
<path d="M416.36 858.57L418.14 860.35L416.36 862.14L414.58 860.35Z" fill="#ff0000"/>
<path d="M421.88 859.1L423.66 860.88L421.88 862.66L420.1 860.88Z" fill="#ff0000"/>
<path d="M420.78 856.33L422.56 858.11L420.78 859.89L419 858.11Z" fill="#ff0000"/>
<path d="M415.56 859.81L417.34 861.59L415.56 863.38L413.78 861.59Z" fill="#ff0000"/>
<path d="M419.43 860.06L421.21 861.84L419.43 863.63L417.64 861.84Z" fill="#ff0000"/>
<path d="M421.38 860.11L423.16 861.9L421.38 863.68L419.6 861.9Z" fill="#ff0000"/>
<path d="M416.6 854.19L418.38 855.98L416.6 857.76L414.81 855.98Z" fill="#ff0000"/>
<path d="M421.51 853.61L423.3 855.39L421.51 857.17L419.73 855.39Z" fill="#ff0000"/>
<path d="M419.05 851.51L420.83 853.3L419.05 855.08L417.27 853.3Z" fill="#ff0000"/>
<path d="M418.91 866.72L420.69 868.5L418.91 870.28L417.13 868.5Z" fill="#ff0000"/>
<path d="M341.25 902.2L340.83 903.93L339.13 903.42L340.42 904.65L339.13 905.88L340.83 905.37L341.25 907.1L341.67 905.37L343.37 905.88L342.08 904.65L343.37 903.42L341.67 903.93ZM345.75 902.2L345.33 903.93L343.63 903.42L344.92 904.65L343.63 905.88L345.33 905.37L345.75 907.1L346.17 905.37L347.87 905.88L346.58 904.65L347.87 903.42L346.17 903.93ZM350.25 902.2L349.83 903.93L348.13 903.42L349.42 904.65L348.13 905.88L349.83 905.37L350.25 907.1L350.67 905.37L352.37 905.88L351.08 904.65L352.37 903.42L350.67 903.93Z" fill="#111" stroke="#111" stroke-width="0.35" stroke-linejoin="round"/>
<text transform="translate(355.15 870.67) scale(1.096 1)" font-family='"Liberation Sans", sans-serif' font-size="6.72" font-weight="bold" fill="#111" font-style="italic" stroke="#111" stroke-width="0.5">###</text>
<path d="M398.55 865.3L398.1 867.17L396.26 866.63L397.65 867.95L396.26 869.27L398.1 868.73L398.55 870.6L399 868.73L400.84 869.27L399.45 867.95L400.84 866.63L399 867.17ZM402.85 865.3L402.4 867.17L400.56 866.63L401.95 867.95L400.56 869.27L402.4 868.73L402.85 870.6L403.3 868.73L405.14 869.27L403.75 867.95L405.14 866.63L403.3 867.17ZM407.15 865.3L406.7 867.17L404.86 866.63L406.25 867.95L404.86 869.27L406.7 868.73L407.15 870.6L407.6 868.73L409.44 869.27L408.05 867.95L409.44 866.63L407.6 867.17Z" fill="#111" stroke="#111" stroke-width="0.35" stroke-linejoin="round"/>
<text transform="translate(413.86 846.47) scale(1.032 1)" font-family='"Liberation Sans", sans-serif' font-size="7.01" font-weight="bold" fill="#111" font-style="italic" stroke="#111" stroke-width="0.5">###</text>
<path d="M363.4 830.7V825.4H419.1V830.7" fill="none" stroke="#111" stroke-width="1.3"/>
<text transform="translate(388.2 821.41) scale(0.886 1)" font-family='"Liberation Serif", serif' font-size="9.4" font-weight="bold" fill="#000">&amp;</text>
<text transform="translate(366.02 803.4) scale(0.884 1)" font-family='"Liberation Serif", serif' font-size="10.15" font-weight="bold" fill="#000">TST</text>
<text x="328.83" y="955.78" font-family='"Liberation Serif", serif' font-size="9.19" font-weight="bold" text-anchor="start" fill="#000">3 month</text>
<text x="384.36" y="955.86" font-family='"Liberation Serif", serif' font-size="9.29" font-weight="bold" text-anchor="start" fill="#000">12 month</text>
<text x="293.92" y="939.97" font-family='"Liberation Serif", serif' font-size="9.06" font-weight="bold" text-anchor="start" fill="#000" transform="rotate(-90 293.92 939.97)">Immobility time for TST (s)</text>
<line x1="518.8" y1="943" x2="524.1" y2="943" stroke="#000" stroke-width="1.26"/>
<text x="517.9" y="946.05" font-family='"Liberation Serif", serif' font-size="9.4" font-weight="bold" text-anchor="end" fill="#000">0</text>
<line x1="518.8" y1="922.5" x2="524.1" y2="922.5" stroke="#000" stroke-width="1.26"/>
<text x="517.9" y="925.55" font-family='"Liberation Serif", serif' font-size="9.4" font-weight="bold" text-anchor="end" fill="#000">50</text>
<line x1="518.8" y1="902" x2="524.1" y2="902" stroke="#000" stroke-width="1.26"/>
<text x="517.9" y="905.05" font-family='"Liberation Serif", serif' font-size="9.4" font-weight="bold" text-anchor="end" fill="#000">100</text>
<line x1="518.8" y1="881.5" x2="524.1" y2="881.5" stroke="#000" stroke-width="1.26"/>
<text x="517.9" y="884.55" font-family='"Liberation Serif", serif' font-size="9.4" font-weight="bold" text-anchor="end" fill="#000">150</text>
<line x1="518.8" y1="861" x2="524.1" y2="861" stroke="#000" stroke-width="1.26"/>
<text x="517.9" y="864.05" font-family='"Liberation Serif", serif' font-size="9.4" font-weight="bold" text-anchor="end" fill="#000">200</text>
<line x1="518.8" y1="840.5" x2="524.1" y2="840.5" stroke="#000" stroke-width="1.26"/>
<text x="517.9" y="843.55" font-family='"Liberation Serif", serif' font-size="9.4" font-weight="bold" text-anchor="end" fill="#000">250</text>
<line x1="550.2" y1="943" x2="550.2" y2="947.6" stroke="#000" stroke-width="1.26"/>
<line x1="608.3" y1="943" x2="608.3" y2="947.6" stroke="#000" stroke-width="1.26"/>
<path d="M529.5 943V937.26H539.7V943" stroke="#000" stroke-width="1.35" fill="#fff"/>
<path d="M545.6 943V912.46H555.8V943" stroke="#0000ff" stroke-width="1.35" fill="#fff"/>
<path d="M560.9 943V885.6H571.9V943" stroke="#ff0000" stroke-width="1.35" fill="#fff"/>
<path d="M587.6 943V918.81H597.6V943" stroke="#000" stroke-width="1.35" fill="#fff"/>
<path d="M603.5 943V896.67H613.8V943" stroke="#0000ff" stroke-width="1.35" fill="#fff"/>
<path d="M619.6 943V854.44H629.4V943" stroke="#ff0000" stroke-width="1.35" fill="#fff"/>
<line x1="524.1" y1="840.5" x2="524.1" y2="943.7" stroke="#000" stroke-width="1.4"/>
<line x1="523.4" y1="943" x2="635.6" y2="943" stroke="#000" stroke-width="1.4"/>
<circle cx="534.57" cy="937.27" r="1.55" fill="#000" stroke="none" stroke-width="1"/>
<circle cx="531.81" cy="936.31" r="1.55" fill="#000" stroke="none" stroke-width="1"/>
<circle cx="533.56" cy="936.28" r="1.55" fill="#000" stroke="none" stroke-width="1"/>
<circle cx="537.5" cy="935.61" r="1.55" fill="#000" stroke="none" stroke-width="1"/>
<circle cx="535.88" cy="935.52" r="1.55" fill="#000" stroke="none" stroke-width="1"/>
<circle cx="536.99" cy="939.03" r="1.55" fill="#000" stroke="none" stroke-width="1"/>
<circle cx="532.26" cy="939.45" r="1.55" fill="#000" stroke="none" stroke-width="1"/>
<circle cx="533.37" cy="934.48" r="1.55" fill="#000" stroke="none" stroke-width="1"/>
<circle cx="537.54" cy="934.43" r="1.55" fill="#000" stroke="none" stroke-width="1"/>
<circle cx="534.6" cy="941.77" r="1.55" fill="#000" stroke="none" stroke-width="1"/>
<circle cx="534.42" cy="930.82" r="1.55" fill="#000" stroke="none" stroke-width="1"/>
<circle cx="532.01" cy="929.06" r="1.55" fill="#000" stroke="none" stroke-width="1"/>
<rect x="549.43" y="910.96" width="2.94" height="2.94" stroke="none" stroke-width="1" fill="#0000ff"/>
<rect x="546.43" y="911.07" width="2.94" height="2.94" stroke="none" stroke-width="1" fill="#0000ff"/>
<rect x="545.06" y="910.41" width="2.94" height="2.94" stroke="none" stroke-width="1" fill="#0000ff"/>
<rect x="548.52" y="911.77" width="2.94" height="2.94" stroke="none" stroke-width="1" fill="#0000ff"/>
<rect x="551.86" y="912.4" width="2.94" height="2.94" stroke="none" stroke-width="1" fill="#0000ff"/>
<rect x="549.86" y="912.59" width="2.94" height="2.94" stroke="none" stroke-width="1" fill="#0000ff"/>
<rect x="552.11" y="908.56" width="2.94" height="2.94" stroke="none" stroke-width="1" fill="#0000ff"/>
<rect x="553.43" y="913.46" width="2.94" height="2.94" stroke="none" stroke-width="1" fill="#0000ff"/>
<rect x="549" y="913.49" width="2.94" height="2.94" stroke="none" stroke-width="1" fill="#0000ff"/>
<rect x="551.07" y="914.16" width="2.94" height="2.94" stroke="none" stroke-width="1" fill="#0000ff"/>
<rect x="549.21" y="907.38" width="2.94" height="2.94" stroke="none" stroke-width="1" fill="#0000ff"/>
<rect x="546.54" y="904.63" width="2.94" height="2.94" stroke="none" stroke-width="1" fill="#0000ff"/>
<rect x="549.06" y="923.08" width="2.94" height="2.94" stroke="none" stroke-width="1" fill="#0000ff"/>
<line x1="566.4" y1="890.52" x2="566.4" y2="881.5" stroke="#ff0000" stroke-width="1.1"/>
<line x1="563.8" y1="890.52" x2="569" y2="890.52" stroke="#ff0000" stroke-width="1.1"/>
<line x1="563.8" y1="881.5" x2="569" y2="881.5" stroke="#ff0000" stroke-width="1.1"/>
<path d="M566.68 882.79L568.46 884.57L566.68 886.35L564.9 884.57Z" fill="#ff0000"/>
<path d="M563.8 882.43L565.58 884.21L563.8 885.99L562.02 884.21Z" fill="#ff0000"/>
<path d="M567.45 881.13L569.23 882.91L567.45 884.7L565.66 882.91Z" fill="#ff0000"/>
<path d="M566.65 886.53L568.43 888.31L566.65 890.1L564.86 888.31Z" fill="#ff0000"/>
<path d="M571.49 886.89L573.27 888.68L571.49 890.46L569.7 888.68Z" fill="#ff0000"/>
<path d="M561.46 880.38L563.24 882.17L561.46 883.95L559.67 882.17Z" fill="#ff0000"/>
<path d="M566.61 876.63L568.39 878.42L566.61 880.2L564.83 878.42Z" fill="#ff0000"/>
<path d="M563.87 876.11L565.65 877.9L563.87 879.68L562.09 877.9Z" fill="#ff0000"/>
<path d="M571.43 875.97L573.21 877.76L571.43 879.54L569.64 877.76Z" fill="#ff0000"/>
<path d="M569.21 874.29L570.99 876.07L569.21 877.85L567.43 876.07Z" fill="#ff0000"/>
<path d="M566.29 893.95L568.07 895.73L566.29 897.51L564.5 895.73Z" fill="#ff0000"/>
<path d="M566.27 900.22L568.06 902L566.27 903.78L564.49 902Z" fill="#ff0000"/>
<path d="M566.47 862.09L568.25 863.87L566.47 865.65L564.69 863.87Z" fill="#ff0000"/>
<line x1="592.6" y1="922.5" x2="592.6" y2="915.12" stroke="#000" stroke-width="1.1"/>
<line x1="590" y1="922.5" x2="595.2" y2="922.5" stroke="#000" stroke-width="1.1"/>
<line x1="590" y1="915.12" x2="595.2" y2="915.12" stroke="#000" stroke-width="1.1"/>
<circle cx="592.8" cy="918.4" r="1.55" fill="#000" stroke="none" stroke-width="1"/>
<circle cx="589.74" cy="915.68" r="1.55" fill="#000" stroke="none" stroke-width="1"/>
<circle cx="592.74" cy="922.17" r="1.55" fill="#000" stroke="none" stroke-width="1"/>
<circle cx="589.95" cy="922.46" r="1.55" fill="#000" stroke="none" stroke-width="1"/>
<circle cx="592.37" cy="914.52" r="1.55" fill="#000" stroke="none" stroke-width="1"/>
<circle cx="591.86" cy="914.36" r="1.55" fill="#000" stroke="none" stroke-width="1"/>
<circle cx="592.52" cy="925.34" r="1.55" fill="#000" stroke="none" stroke-width="1"/>
<circle cx="595.35" cy="925.36" r="1.55" fill="#000" stroke="none" stroke-width="1"/>
<circle cx="591.66" cy="925.57" r="1.55" fill="#000" stroke="none" stroke-width="1"/>
<circle cx="592.69" cy="910.89" r="1.55" fill="#000" stroke="none" stroke-width="1"/>
<circle cx="592.77" cy="930.7" r="1.55" fill="#000" stroke="none" stroke-width="1"/>
<circle cx="592.9" cy="904.05" r="1.55" fill="#000" stroke="none" stroke-width="1"/>
<line x1="608.65" y1="899.54" x2="608.65" y2="893.8" stroke="#0000ff" stroke-width="1.1"/>
<line x1="606.05" y1="899.54" x2="611.25" y2="899.54" stroke="#0000ff" stroke-width="1.1"/>
<line x1="606.05" y1="893.8" x2="611.25" y2="893.8" stroke="#0000ff" stroke-width="1.1"/>
<rect x="606.93" y="895.96" width="2.94" height="2.94" stroke="none" stroke-width="1" fill="#0000ff"/>
<rect x="609.87" y="896.96" width="2.94" height="2.94" stroke="none" stroke-width="1" fill="#0000ff"/>
<rect x="607.07" y="893.09" width="2.94" height="2.94" stroke="none" stroke-width="1" fill="#0000ff"/>
<rect x="606.9" y="898.99" width="2.94" height="2.94" stroke="none" stroke-width="1" fill="#0000ff"/>
<rect x="604.79" y="891.16" width="2.94" height="2.94" stroke="none" stroke-width="1" fill="#0000ff"/>
<rect x="609.98" y="890.51" width="2.94" height="2.94" stroke="none" stroke-width="1" fill="#0000ff"/>
<rect x="604.71" y="900.95" width="2.94" height="2.94" stroke="none" stroke-width="1" fill="#0000ff"/>
<rect x="607.24" y="888.24" width="2.94" height="2.94" stroke="none" stroke-width="1" fill="#0000ff"/>
<rect x="604.45" y="886.69" width="2.94" height="2.94" stroke="none" stroke-width="1" fill="#0000ff"/>
<rect x="607.09" y="904.04" width="2.94" height="2.94" stroke="none" stroke-width="1" fill="#0000ff"/>
<rect x="604.59" y="905.45" width="2.94" height="2.94" stroke="none" stroke-width="1" fill="#0000ff"/>
<rect x="606.95" y="882.9" width="2.94" height="2.94" stroke="none" stroke-width="1" fill="#0000ff"/>
<path d="M624.31 852.51L626.09 854.29L624.31 856.07L622.52 854.29Z" fill="#ff0000"/>
<path d="M623.07 852.42L624.86 854.21L623.07 855.99L621.29 854.21Z" fill="#ff0000"/>
<path d="M627.09 852.93L628.87 854.71L627.09 856.49L625.31 854.71Z" fill="#ff0000"/>
<path d="M621.77 851.98L623.56 853.76L621.77 855.55L619.99 853.76Z" fill="#ff0000"/>
<path d="M625.14 853.39L626.93 855.18L625.14 856.96L623.36 855.18Z" fill="#ff0000"/>
<path d="M624.73 851.6L626.51 853.38L624.73 855.16L622.95 853.38Z" fill="#ff0000"/>
<path d="M624.78 851.54L626.56 853.32L624.78 855.11L622.99 853.32Z" fill="#ff0000"/>
<path d="M621.41 853.99L623.19 855.78L621.41 857.56L619.62 855.78Z" fill="#ff0000"/>
<path d="M621.56 851.31L623.35 853.09L621.56 854.88L619.78 853.09Z" fill="#ff0000"/>
<path d="M625.57 854.15L627.35 855.93L625.57 857.71L623.79 855.93Z" fill="#ff0000"/>
<path d="M623.33 855.12L625.11 856.9L623.33 858.68L621.55 856.9Z" fill="#ff0000"/>
<path d="M624.77 846.92L626.55 848.7L624.77 850.48L622.99 848.7Z" fill="#ff0000"/>
<path d="M547.2 895.9L546.79 897.59L545.12 897.1L546.38 898.3L545.12 899.5L546.79 899.01L547.2 900.7L547.61 899.01L549.28 899.5L548.02 898.3L549.28 897.1L547.61 897.59ZM551.7 895.9L551.29 897.59L549.62 897.1L550.88 898.3L549.62 899.5L551.29 899.01L551.7 900.7L552.11 899.01L553.78 899.5L552.52 898.3L553.78 897.1L552.11 897.59ZM556.2 895.9L555.79 897.59L554.12 897.1L555.38 898.3L554.12 899.5L555.79 899.01L556.2 900.7L556.61 899.01L558.28 899.5L557.02 898.3L558.28 897.1L556.61 897.59Z" fill="#111" stroke="#111" stroke-width="0.35" stroke-linejoin="round"/>
<text transform="translate(560.46 857.17) scale(1.069 1)" font-family='"Liberation Sans", sans-serif' font-size="6.72" font-weight="bold" fill="#111" font-style="italic" stroke="#111" stroke-width="0.5">###</text>
<path d="M604.7 870.2L604.28 871.96L602.53 871.45L603.85 872.7L602.53 873.95L604.28 873.44L604.7 875.2L605.12 873.44L606.87 873.95L605.55 872.7L606.87 871.45L605.12 871.96ZM609.1 870.2L608.68 871.96L606.93 871.45L608.25 872.7L606.93 873.95L608.68 873.44L609.1 875.2L609.52 873.44L611.27 873.95L609.95 872.7L611.27 871.45L609.52 871.96ZM613.5 870.2L613.08 871.96L611.33 871.45L612.65 872.7L611.33 873.95L613.08 873.44L613.5 875.2L613.92 873.44L615.67 873.95L614.35 872.7L615.67 871.45L613.92 871.96Z" fill="#111" stroke="#111" stroke-width="0.35" stroke-linejoin="round"/>
<text transform="translate(618.66 843.47) scale(0.959 1)" font-family='"Liberation Sans", sans-serif' font-size="7.16" font-weight="bold" fill="#111" font-style="italic" stroke="#111" stroke-width="0.5">###</text>
<path d="M570 830.7V825.7H623.7V830.7" fill="none" stroke="#111" stroke-width="1.3"/>
<text transform="translate(593.62 821.01) scale(0.842 1)" font-family='"Liberation Serif", serif' font-size="9.4" font-weight="bold" fill="#000">&amp;</text>
<text transform="translate(571.12 802.52) scale(1.001 1)" font-family='"Liberation Serif", serif' font-size="9.1" font-weight="bold" fill="#000">FST</text>
<text x="533.33" y="956.33" font-family='"Liberation Serif", serif' font-size="9.34" font-weight="bold" text-anchor="start" fill="#000">3 month</text>
<text x="589.36" y="956.36" font-family='"Liberation Serif", serif' font-size="9.29" font-weight="bold" text-anchor="start" fill="#000">12 month</text>
<text x="498.02" y="942.26" font-family='"Liberation Serif", serif' font-size="8.64" font-weight="bold" text-anchor="start" fill="#000" transform="rotate(-90 498.02 942.26)">Immobility time for TST (s)</text>
<text x="152.51" y="276.86" font-family='"Liberation Serif", serif' font-size="11.79" font-weight="normal" text-anchor="start" fill="#000">3 month</text>
<line x1="58.7" y1="283" x2="288" y2="283" stroke="#585050" stroke-width="1.4"/>
<text x="487.42" y="276.94" font-family='"Liberation Serif", serif' font-size="12.03" font-weight="normal" text-anchor="start" fill="#000">12 month</text>
<line x1="397.4" y1="283" x2="623.4" y2="283" stroke="#585050" stroke-width="1.4"/>
<text x="44.31" y="298.47" font-family='"Liberation Serif", serif' font-size="12.01" font-weight="normal" text-anchor="start" fill="#000">Sham</text>
<text x="154.63" y="298.19" font-family='"Liberation Serif", serif' font-size="11.87" font-weight="normal" text-anchor="start" fill="#000">CUMS</text>
<text x="264.14" y="298.25" font-family='"Liberation Serif", serif' font-size="12.07" font-weight="normal" text-anchor="start" fill="#000">FTO-KD</text>
<text x="383.96" y="298.47" font-family='"Liberation Serif", serif' font-size="12.01" font-weight="normal" text-anchor="start" fill="#000">Sham</text>
<text x="493.52" y="298.21" font-family='"Liberation Serif", serif' font-size="11.94" font-weight="normal" text-anchor="start" fill="#000">CUMS</text>
<text x="601.64" y="298.25" font-family='"Liberation Serif", serif' font-size="12.07" font-weight="normal" text-anchor="start" fill="#000">FTO-KD</text>
<line x1="5.3" y1="303.5" x2="5.3" y2="409.7" stroke="#a9d27a" stroke-width="1"/>
<line x1="5.3" y1="303.5" x2="111.5" y2="303.5" stroke="#a9d27a" stroke-width="1"/>
<line x1="26.54" y1="303.5" x2="26.54" y2="409.7" stroke="#a9d27a" stroke-width="1"/>
<line x1="5.3" y1="324.74" x2="111.5" y2="324.74" stroke="#a9d27a" stroke-width="1"/>
<line x1="47.78" y1="303.5" x2="47.78" y2="409.7" stroke="#a9d27a" stroke-width="1"/>
<line x1="5.3" y1="345.98" x2="111.5" y2="345.98" stroke="#a9d27a" stroke-width="1"/>
<line x1="69.02" y1="303.5" x2="69.02" y2="409.7" stroke="#a9d27a" stroke-width="1"/>
<line x1="5.3" y1="367.22" x2="111.5" y2="367.22" stroke="#a9d27a" stroke-width="1"/>
<line x1="90.26" y1="303.5" x2="90.26" y2="409.7" stroke="#a9d27a" stroke-width="1"/>
<line x1="5.3" y1="388.46" x2="111.5" y2="388.46" stroke="#a9d27a" stroke-width="1"/>
<line x1="111.5" y1="303.5" x2="111.5" y2="409.7" stroke="#a9d27a" stroke-width="1"/>
<line x1="5.3" y1="409.7" x2="111.5" y2="409.7" stroke="#a9d27a" stroke-width="1"/>
<path d="M48.2 401.4l-0.4 -1.6l-2.5 0.7l-3.0 -0.9l-1.1 -1.4l-2.6 0.4l-1.1 -0.9l-1.5 -0.3l-2.0 1.4l-1.4 0.3l-2.3 -0.4l-1.1 0.2l-1.6 0.0l-2.4 0.5l-3.0 0.1l-0.6 1.4l-3.3 -0.5l-1.0 0.5l-2.0 2.1l-2.7 -0.8l0.2 0.3l-2.2 -0.4l-2.2 -0.2l1.7 1.6l-0.5 -3.5l0.7 -1.8l-0.1 -1.3l0.9 -1.2l-0.3 -1.9l0.5 -1.0l0.5 -3.6l1.6 -1.6l-1.0 -1.0l1.1 -2.6l-0.6 -0.3l0.3 -2.9l0.3 -1.4l-0.4 -1.5l-0.1 -1.9l-0.3 -1.8l0.7 -1.6l-1.0 -1.7l-0.6 -1.6l-1.1 -1.6l2.2 -2.0l-1.4 -1.5l-0.1 -1.7l0.0 -1.0l0.2 -2.9l-0.4 -1.3l0.7 -2.7l-0.3 -1.8l0.3 -0.4l1.5 -2.5l0.8 -1.6l1.0 -1.8l-0.7 -1.9l0.1 -1.3l0.2 -2.0l0.1 -1.8l1.0 -1.4l-1.4 -1.4l-0.3 -2.7l-0.6 -2.1l0.5 -1.0l-1.0 -2.0l0.2 -1.6l-0.4 -2.9l0.3 0.0l-0.5 -3.1l-1.3 -1.0l-0.2 -2.5l0.7 -0.8l-1.2 -1.4l0.4 -2.5l1.3 -1.8l-1.2 -2.0l-2.5 4.4l1.2 -1.4l2.2 -0.5l1.2 0.0l2.6 0.8l2.2 -0.2l0.2 -0.1l2.6 -0.3l2.1 -0.3l0.6 -0.1l2.3 -0.3l1.6 -0.4M8.3 340.3l-0.5 -2.5l1.0 -0.5l1.7 -1.8l-0.3 -1.9l0.7 -1.8l-0.3 -1.5l0.8 -1.7l0.8 -2.5l-1.4 -1.2l-1.8 -1.9l1.1 -2.4l0.1 -0.6l-1.1 -0.2l-0.2 -3.4l-0.5 -2.0l-0.4 -1.0l1.5 -2.9l0.5 -1.2l-0.9 1.7l1.4 -1.2l2.6 0.6l1.4 1.3l1.4 1.1l1.3 -0.1l2.2 1.4l2.0 0.7l1.5 -0.3l2.5 1.9l1.2 0.0l1.1 0.1l2.1 0.0l2.3 -0.4l1.6 -0.7l2.9 -2.2l0.6 -0.2l1.7 -0.2l2.3 -1.7l1.8 -1.8l1.8 -0.2l0.6 0.1l1.9 -0.9l3.5 0.3l1.4 0.0l2.1 -0.3l-0.1 1.2l2.6 -0.3l1.0 -1.2l2.5 1.0l1.3 0.6l2.3 -1.7l2.0 -0.3l1.7 1.5l2.1 -0.5l1.6 -0.1l0.8 -0.8l2.8 0.3l2.1 0.6l1.0 -0.4l1.2 1.0l3.4 -0.7l-0.2 0.5l3.0 -0.6l2.4 0.4l2.7 0.4l1.0 -0.6l1.1 -0.6l2.6 1.6l-0.2 -1.5l2.4 1.5l2.4 -0.4l1.8 1.3l1.1 0.1l2.5 2.6l-5.3 -3.8l0.4 1.1l0.1 3.1l0.9 0.9l-2.4 2.7l1.3 1.5l0.0 0.1l-0.6 1.7l-1.4 3.2l2.3 1.2l-1.3 2.0l1.2 1.9l-0.2 1.6l0.1 1.2l1.4 2.0l0.6 1.2l1.6 2.3l0.7 2.2l0.8 0.6l0.1 2.2l0.8 1.0l-0.4 3.3l0.2 1.5l-0.8 1.2l-0.1 2.4l0.6 0.9l-0.8 1.5l1.9 2.4l-0.4 1.6l-0.7 1.7l0.9 2.1l-0.9 2.0l0.5 1.8l0.5 0.6l-1.9 3.2l0.7 1.0l-1.2 2.2l1.1 1.2l-0.4 1.2l0.9 1.0l-0.4 2.2l-1.3 2.9l0.6 1.1l0.4 1.8l-1.2 2.1l-0.4 1.5l-0.1 1.7l-0.8 0.8l0.2 1.4l-0.8 1.7l0.8 2.1l-0.7 1.3l-2.0 4.5l1.4 -0.6l-0.8 1.7l3.2 -4.2l-0.7 0.9l-3.1 -0.2l-0.9 1.8l-2.0 0.3l-2.0 -0.6l-1.3 0.4l-2.2 -0.4l-1.6 0.1l-2.2 -1.1l-0.9 2.6l-2.4 -1.2l-1.7 -0.8l-2.2 -1.4l-1.7 1.2l-1.8 -1.4l-1.7 0.7l-2.1 0.7l-1.5 -2.0l-1.5 0.6l-1.8 3.0l-0.9 0.5l-3.5 0.4l-0.5 1.7l-2.4 -0.1l-0.5 0.3l-3.3 -0.6l-1.5 -0.2l-1.9 0.7l-1.7 -0.8l-2.1 0.1l-1.2 0.3l-1.4 -1.2l-1.2 1.7l-3.5 -0.8l-0.8 0.4l-2.6 -0.2l-0.3 0.8l-1.5 0.1l-2.6 -1.6l-1.7 -0.2l-2.2 -0.8l-1.7 -1.2l-0.8 -0.1l-2.0 -0.5l-1.8 -0.9l-3.5 -0.2l-0.9 -0.3l-0.1 1.5l-3.5 -0.9l-1.9 0.8l-1.6 1.1l-2.4 0.5l-0.8 -0.4l-2.2 -0.4l2.1 1.3M11.6 354.4l-1.8 -1.0l1.0 -1.3l0.5 -1.7l-1.5 -2.5l1.4 -1.5l-0.1 -2.4l0.1 -0.8l1.0 -2.2l-1.3 -0.9l1.5 -1.9l-0.3 -2.7l0.0 -1.1l1.2 -2.7l-0.6 -1.4l0.4 -0.9l0.5 -1.9l0.3 -0.9l-1.3 -1.5l0.6 -2.0l0.5 -1.3l-1.3 -2.1l0.4 -3.1l0.9 -0.1l-0.4 -2.5l-0.6 -1.4l-0.7 -2.1l0.2 -2.4l-2.8 4.3l1.6 -0.5l2.8 -1.2l1.5 -0.2l1.1 -0.8l1.9 0.8l0.9 -1.2l2.1 0.7l2.9 -0.1l0.7 1.2l2.6 -0.9l1.3 -0.5l2.8 0.4l1.0 1.5l1.1 -0.3l2.7 0.3l2.7 -0.5l1.0 1.2l2.0 -0.7l0.3 1.5l3.3 -1.0l2.3 0.8l1.7 0.8l2.0 1.0l1.1 -1.2l0.6 1.3l2.3 0.7l2.2 -0.7l0.8 0.8l2.9 -0.1l1.9 -1.2l1.4 1.3l1.3 -0.1l2.7 -0.6l0.8 1.1l1.5 -1.1l2.8 -0.4l1.8 0.4l1.7 -0.2l1.8 1.0l2.4 -1.9l0.1 0.3l3.3 -0.1l1.2 -0.3M14.2 369.7l-0.2 -1.3l-1.0 -1.8l1.4 -1.3l0.0 -2.6l-0.3 -0.8l-1.0 -2.3l0.3 -2.2l1.6 -1.9l-0.8 -0.3l0.6 -2.6l-1.0 -1.7l0.3 -1.9l0.8 -1.8l1.4 -1.5l-0.5 -1.8l0.1 -2.1l-1.1 0.0l0.2 -3.3l0.3 -2.6l-0.4 -1.5l0.7 -0.4l-1.8 -1.5l0.9 -1.9l-0.6 -1.5l-0.4 -2.2l-0.2 -0.8l-1.9 -3.2l1.4 -2.3l-1.3 -1.7l0.0 0.0l-0.9 -2.8l0.0 -1.7l-0.5 -0.8l1.3 -3.1l2.4 -1.2l-5.2 4.8l1.8 -0.3l1.6 -1.1l2.4 0.6l0.9 -0.3l2.3 1.3l1.9 -0.1l1.8 0.4l2.2 0.9l1.8 0.0l1.4 -1.0l0.9 -0.1l2.8 -0.7l1.1 0.0l2.3 -0.1l1.8 -0.5l1.0 -0.2l2.9 -1.5l1.3 0.7l2.0 -0.2l1.6 -1.0l2.2 0.5l0.7 -0.2l2.3 -0.7l1.2 0.5l2.6 1.1l1.7 -0.5l0.8 0.8l2.6 0.7l1.6 0.4l0.8 0.7l4.4 1.1l0.0 0.5l2.1 0.0l2.1 0.8l1.2 0.6l2.4 0.8l1.4 -0.5l2.0 0.2l1.3 -0.5l1.1 0.1l2.5 0.6l1.7 -1.0l1.8 -0.7l2.2 -0.1l1.3 -1.9l1.5 0.8l3.5 -2.4l1.2 1.0l1.3 -0.3l2.8 -0.3l0.9 -0.4l1.6 -0.3l2.4 0.8l1.2 -0.2l-5.0 -3.2l0.4 1.6l0.8 3.0l-0.6 0.8l-2.1 1.5l0.8 1.4l-0.9 1.8l-0.4 2.8l-0.2 1.1l0.2 1.6l1.0 1.9l-2.3 -0.1l0.4 3.8l0.5 0.6l0.8 1.7l2.3 2.9l-0.6 0.1l1.5 2.7l-0.8 1.6l0.5 1.4l1.7 1.7l0.4 1.9l0.8 2.1l1.1 1.5l-0.2 1.9l0.3 2.3l1.3 0.6l-2.3 2.8l0.8 -0.1l-1.1 3.6l-0.8 2.0l-0.4 1.1l-1.1 1.8l-0.9 0.9l-0.1 0.9l-0.9 2.4l-0.5 2.9l0.4 1.9l-1.4 0.4l1.0 2.2l-0.8 1.7l0.4 2.6l-0.8 1.8l0.0 1.3l0.6 1.3l-0.2 0.9l1.2 4.0l0.9 0.1l0.7 2.1l-1.1 2.5l1.4 0.7l-0.1 3.0l0.5 1.6l0.0 0.6l-2.0 1.2l4.0 -2.7l-1.5 0.4l-2.1 -1.7l-0.9 0.2l-1.5 0.7l-2.3 -1.6l-2.4 -1.3l-1.4 -0.3l-0.9 -0.4l-2.2 0.4l-2.1 -1.2l-2.4 -0.3l-2.1 0.2l-0.9 0.0l-0.8 0.4l-4.3 -0.4l-0.5 0.9l-0.5 0.3l-3.2 0.6l-1.3 -0.1l-1.3 0.4l-2.7 2.3l-1.4 -1.2l-1.8 2.5l-2.0 -1.0l-2.6 0.6l-1.9 -0.9l-1.7 0.5l-0.5 1.2l-0.9 -1.0l-3.4 1.6l-1.8 -2.1l-0.4 0.7l-1.9 -1.1l-1.8 0.2l-2.5 -0.1l-1.6 -0.1l-1.3 0.2l-2.6 -0.7l-1.7 0.1l-1.8 -0.6l-2.4 -0.9l-1.7 1.4l-0.6 -0.8l-2.9 0.6l-2.6 1.3l-0.3 -0.3l-2.1 0.3l-1.1 1.1l-2.8 0.0l-1.6 -1.7l-1.0 0.9l-3.1 0.2l0.1 0.3l-3.3 -1.8l4.1 3.8M50.0 402.0l-1.5 -0.9l-1.4 -0.2l-2.4 -1.4l-1.2 0.1l-3.2 -1.3l-1.6 -1.4l-1.1 0.1l-2.1 0.6l-2.4 -1.9l-0.7 -0.2l-2.4 -1.1l-1.2 1.5l0.0 -1.4l-4.1 1.5l-0.6 0.0l-1.4 -0.8l-3.8 0.5l-0.1 0.9l-2.6 1.1l-1.0 -0.6l-2.4 1.0l-2.8 -0.4l0.1 -1.1l4.6 6.6l-0.9 -2.0l-0.3 -2.7l-0.6 -0.7l1.4 -2.2l-0.2 -1.3l0.6 -0.8l-0.5 -1.7l0.7 -3.0l-0.6 -2.3l-0.2 -0.9l1.9 -1.2l-1.3 -2.7l-0.5 -1.1l0.3 -1.1l-1.9 -2.2l-1.3 -2.4l1.0 -0.8l-1.2 -2.7l-0.4 -1.9l-0.8 -1.7l0.1 -0.6l-1.1 -1.4l-1.2 -3.2l-0.7 -1.0l0.6 -1.5l0.9 -1.5l-1.4 -1.8l0.3 -1.4l0.6 -2.7l0.9 -2.4l2.5 -1.6l0.2 -1.5l-1.1 -1.5l0.9 -2.1l3.5 -0.8l-0.8 -0.9l0.5 -2.3l1.0 -2.9l0.5 -1.5l0.8 -0.3l1.0 -3.1l0.1 -1.4l-0.6 -1.2l0.7 -1.4l-0.6 -2.7l0.7 -1.7l-1.9 -2.7l-0.2 -0.5l-1.3 -2.8l1.9 -0.7l-2.2 -1.5l0.2 -2.2l0.1 -1.5l-0.5 -1.0l-6.1 4.3l2.6 1.2l1.0 -2.4l2.3 0.5l1.6 -0.6l1.7 -0.3l1.1 -0.5l2.1 0.2l1.9 -0.8l2.6 0.0l1.8 -0.2l1.0 1.4l2.0 -2.1l1.7 -0.7l1.4 0.3l1.7 -0.3l2.1 -0.5l2.7 0.7l0.4 -0.1l1.8 -0.3l2.7 -0.6l-0.1 0.7l3.3 -0.3l1.7 -0.4l1.5 0.7l2.1 0.5l2.0 -0.6l2.0 1.9l1.7 0.7l2.1 -1.0l2.0 1.7l1.3 1.1l1.3 -0.4l1.0 0.9l2.9 1.1l2.1 0.2l0.8 0.1l2.1 -0.2l2.1 1.2l2.1 0.2l1.9 -1.4l1.7 0.7l1.5 -0.6l2.2 -0.1l1.7 -0.4l1.9 -1.0l1.5 -1.1l1.0 0.0l1.4 -0.8l3.1 -0.5l0.1 -0.1l1.9 -1.1l2.9 1.6l2.1 -0.8l2.4 0.8l-5.1 -4.1l0.2 2.1l1.0 0.7l0.6 1.9l-0.9 2.6l-1.4 0.6l0.5 1.7l-1.1 2.4l1.0 1.8l-0.4 1.7l0.4 1.2l-0.9 1.9l0.4 2.7l-0.5 1.3l0.2 1.9l0.8 1.1l0.6 1.4l1.0 2.8l0.7 0.7l-0.8 2.4l0.9 2.1l-0.4 1.2l0.7 1.1l1.5 2.7l-1.2 1.7l-0.1 1.0l0.1 2.9l-0.7 0.9M9.2 313.1l0.2 1.4l2.1 -1.9l1.7 -0.1l1.6 0.5l2.0 -2.0l0.8 0.1l2.3 1.1l2.8 -1.1l1.8 0.1l1.1 -0.9l2.4 -0.4l1.3 1.0l3.3 -0.7l1.0 -1.3l1.0 0.9l2.4 -0.2l1.9 -0.6l0.7 1.9l2.5 -0.9l3.1 -0.4l0.3 0.5l2.0 1.2l2.0 0.3l2.3 0.1l1.4 -0.8l1.8 1.8l1.9 -0.8l1.2 -0.6l1.8 -1.0l2.1 0.0l2.3 -0.5l1.2 -0.4l1.4 -0.3l0.9 1.7l3.0 -1.4l2.0 -0.6l1.5 1.1l2.1 -0.3l1.2 -1.6l1.7 1.0l0.9 0.8l3.1 -1.0l2.6 1.6l1.4 -0.4l0.4 1.1l2.6 0.3l2.3 -0.8l1.7 0.8l2.0 2.0l1.5 0.2l2.0 -1.3l1.2 0.6l2.0 0.4l1.5 1.2l-4.1 -6.0l0.7 2.1l2.9 2.4l0.6 1.4l0.7 0.9l-0.7 3.1M74.1 398.3l-0.5 -0.6l-1.7 -1.7l-2.3 0.1l-3.1 -1.5l0.1 -0.5l-2.3 -0.3l-1.2 -0.2l-3.4 0.6l-0.7 -0.5l-1.9 0.5l-2.5 -0.2l-1.1 -1.7l-2.6 1.1l-0.9 0.5l-1.3 1.2l-1.9 0.9l-2.4 2.1l-2.3 -0.2l-2.1 -0.1l-2.0 0.7l-1.9 0.5l-0.6 0.0l-1.4 -0.7l-2.4 0.6l-1.3 -1.0l-2.4 1.0l-2.3 -2.1l-0.4 -0.2l-3.2 -1.1l-0.1 0.7l-3.2 -2.1l-1.3 1.8l-1.6 -0.9l-2.1 -0.2l-1.7 -0.5l-2.1 -0.7l-1.1 0.4l8.3 8.2l-0.5 -1.4l-3.7 -2.7l-0.3 -1.5l-1.0 -1.2l1.1 -2.6l-0.9 -1.3l0.4 -0.1l-0.5 -2.7l0.1 -1.6l0.4 -3.1l-0.7 -2.0l0.3 -0.9l0.5 -1.5l1.4 -2.2l-0.1 -2.7l0.0 -1.1l0.1 -1.1l-0.2 -0.3l1.2 -3.7l-1.3 -0.3l0.8 -2.0l0.4 -2.8l-1.7 -1.6l-1.3 -1.3l0.7 -2.3l-1.0 -1.3l-2.2 -1.3l0.0 -2.3l0.1 -1.5l-0.2 -1.8l-1.1 -1.1l0.5 -2.4M99.3 324.3l-0.2 1.4l-0.9 1.8l-2.5 2.9l0.1 1.5l-0.4 1.8l-0.4 1.0l1.5 1.5l0.1 2.5l-1.0 1.5l0.7 2.1l0.3 0.9l0.4 2.7l1.9 0.5l-1.3 3.7l2.1 0.8l-0.3 1.3l1.1 1.1l1.2 2.2l-0.6 1.0l1.4 2.2l0.7 1.6l0.3 1.5l-0.4 2.5l-0.4 3.1l-1.1 0.5l1.8 1.2l-0.4 2.4l-0.6 1.1l-1.5 3.0l0.4 0.0l0.5 2.3l-1.0 1.1l0.5 2.6l-0.5 2.0l0.6 0.7l0.3 3.0l0.4 1.4l1.1 2.6l-1.1 0.0l1.1 3.0l-0.4 1.9l-0.4 1.1l1.1 2.4l-0.2 1.6l-0.8 1.6l3.4 -4.2l-2.8 0.0l-0.9 2.0l-2.5 0.6l-2.8 -1.8l-0.9 0.1l-0.7 0.0l-2.8 0.3l-1.7 -1.1l-2.1 -0.7l-0.1 -0.3l-3.5 0.2l-2.2 -1.3l-1.1 1.2l-1.8 0.4l-1.7 -0.5l-0.8 1.5l-2.8 0.9l-1.3 -0.8l-2.1 -0.8l-2.2 2.3l-1.6 0.4l-1.1 0.7l-1.8 -0.9l-2.1 1.6l-1.5 0.5l-0.9 -1.2l-4.6 2.3l-0.5 -1.7l-2.3 0.7l-1.7 -1.2l-1.0 1.0l-1.9 -1.5l-1.4 -0.8l-2.2 -0.7l-1.8 -0.8l-1.1 -0.5l-3.3 -1.1l-1.5 -1.0l-0.8 -0.2l-2.7 -0.4l-1.0 -0.8l-2.9 -0.5l-1.5 -0.2l-1.8 -0.5l-1.4 0.6l-2.4 0.3l-0.9 -0.4l-0.8 0.8l-2.7 -0.4l-3.1 0.7l-1.6 1.0l-0.9 -0.6l-2.1 1.0l-0.6 -1.5l5.6 6.2l-2.1 -0.7l-0.6 -2.3l-0.8 -1.7l0.3 -1.3l-0.5 -2.3l0.7 -1.7l0.2 -0.4l-0.1 -2.9l-1.1 -1.8l0.4 -1.2l0.9 -2.2l0.2 -1.9l-0.2 -1.4l-0.4 -1.7l-0.3 -2.0l1.8 -1.9l-1.5 -1.3l-0.8 -2.5l-0.4 -1.6l-1.3 -1.0l0.6 -2.0l-0.5 -1.8l0.0 -1.7l0.2 -2.1l-0.7 -0.7l1.1 -2.3l0.0 -1.5l0.7 -1.2l0.3 -2.8l0.0 -2.0M10.0 396.2l1.7 -1.7l0.5 -1.6l0.8 -1.9l-1.9 -0.3l2.6 -3.0l-1.0 -1.5l1.1 -1.3l-0.2 -2.8l0.7 -0.5l0.8 -2.9l-1.7 -0.6l0.8 -2.3l-0.2 -1.6l-0.4 -2.4l-0.3 -0.9l2.1 -1.7l-1.7 -1.1l0.1 -2.2l1.4 -2.4l-1.7 -1.7l0.5 -0.6l-1.4 -2.4l2.3 -2.3l-0.7 -2.1l0.0 -1.9l-0.4 -0.9l0.4 -0.5l0.6 -2.9l-0.8 -1.9l0.6 -0.8l0.3 -2.4l-0.1 -2.7l0.6 -0.4l-0.2 -2.9l1.6 -0.7l-0.2 -1.4l-0.9 -2.0l1.2 -2.1l0.2 -1.2l-0.1 -0.7l-1.2 -2.6l1.6 -2.4l-0.5 -1.4l0.0 -1.0l-0.1 -2.2l-0.4 -3.2l1.4 -1.2l-1.8 -0.4l0.4 -2.2l0.6 -1.8l1.0 -3.0l-9.4 8.6l1.4 0.9l3.9 -1.5l-0.4 1.2l3.2 -0.8l1.3 -1.7l0.9 1.0l2.6 -1.1l1.8 -0.6l2.0 1.2l2.0 -1.1l1.6 -0.2l1.9 0.7l2.1 -1.0l2.3 1.2l1.3 -2.1l1.6 1.0l1.8 -0.3l1.6 -0.3l2.1 -0.2l1.3 -0.7l1.8 1.9l2.8 -2.2l0.5 0.3l2.7 0.0l1.6 0.2l0.6 -0.1l3.2 -0.5l1.7 0.9l0.9 -0.1l2.1 -0.7l2.0 0.4l2.3 0.4l1.0 -1.3l2.4 1.1l1.8 1.5l0.5 -1.1l1.7 0.0l2.3 0.0l2.9 0.2l1.3 -0.4l2.8 -0.5l0.7 1.0l1.3 1.2l2.7 -1.7l1.2 1.1l1.6 -0.5l2.6 -0.6l1.4 0.4l2.0 0.3l1.2 -0.2l2.8 0.3l0.9 -0.6l0.6 1.1l2.5 1.3l-5.5 -5.2M71.3 401.9l-3.1 0.6l-0.8 0.8l-2.2 0.8l-0.9 -0.3l-3.3 -0.8l-1.1 0.9l-1.9 -1.6l-1.7 1.0l-1.8 -0.1l-1.9 1.1l-0.6 -0.2l-2.5 -0.6l-2.6 -0.5l-1.6 0.8l-1.6 -0.3l-1.5 0.1l-2.0 -1.9l-0.6 -0.6l-2.2 -1.1l-0.4 -1.9l-4.2 0.3l-1.1 -0.2l-2.2 -1.3l-1.6 0.5l-1.4 -1.2l-1.9 0.1l-2.3 0.7l-0.8 -0.5l-2.7 0.3l-1.1 0.9l-2.5 0.4l-2.4 0.9l-0.8 0.3l-1.8 -0.5l-2.3 0.9l2.9 2.2l-1.4 -2.4l-2.0 0.0l0.2 -3.1l0.3 -0.8l0.1 -2.3l0.3 -0.8l-0.2 -1.9l0.6 -1.7l-0.6 -2.1l0.0 -1.6l-0.7 -1.1l0.7 -2.8l-0.2 -2.0l-0.1 -1.5l1.0 -1.1l0.6 -1.5l0.3 -2.6l1.7 -0.4l-0.3 -1.4l2.5 -3.2l-1.2 -2.3l0.9 -0.5l0.2 -2.1l-0.6 -2.9l-0.2 -1.0l1.3 -0.8l-1.8 -1.5l0.1 -2.1l0.1 -2.6l-0.3 -2.3l0.5 -0.8l-1.6 -1.5l0.4 -1.7l-1.5 -1.5l0.7 -1.9l0.0 -1.9l-1.1 -1.6l-0.1 -2.4l-0.6 -1.0l0.0 -3.2l-0.8 0.0l0.9 -2.4l0.1 -1.2l-0.3 -2.8l0.1 -1.1l-0.2 -2.2l-1.1 -2.1l1.3 -0.4l-0.1 -2.9l-0.8 -1.6l0.5 -1.9l-0.3 -0.5l0.2 -1.3l1.5 -2.6l-0.3 0.5l1.8 0.0l1.2 -1.6l2.5 -0.6l1.8 0.9l0.8 0.3l2.0 0.4l2.0 -0.2l2.4 -0.5l1.3 -0.1l0.6 0.9l2.7 -0.1l2.6 -0.2l2.2 0.2l0.6 0.8l1.9 1.1l1.9 -0.5l2.5 1.4l2.2 0.5l1.1 -0.5l1.6 -0.2l1.5 0.2l1.2 0.4l1.6 2.4l2.7 -0.9l2.6 0.6l0.5 1.2l3.2 -1.2l0.8 -1.8l2.1 0.3l0.3 0.5l3.6 -2.6l0.7 0.3l2.0 -1.3l1.4 -0.1l1.7 -0.1l2.1 -1.1l1.7 0.8l2.7 -1.1l1.1 0.9l1.5 -1.5l2.4 0.9l2.5 -0.7l1.3 -0.1l0.7 0.4l1.9 1.6l3.6 -1.8l0.8 0.7l2.4 -0.4l-0.3 -0.2l3.9 2.2l0.9 -0.8l2.2 3.3l1.4 1.2l1.6 1.1l-6.5 -5.0l-0.4 2.1l-0.2 0.8l0.5 2.4l-1.0 1.7l1.0 1.5l-0.9 2.3l0.0 1.3l0.2 1.9l1.3 0.8M11.3 385.6l0.4 -1.1l1.2 -2.2l0.2 -2.6l1.6 -0.3l-1.1 -2.7l1.5 -2.4l-1.4 -1.8l0.7 -0.8l-0.8 -2.2l-0.4 -2.0l-1.3 -1.6l1.0 -1.1l-1.2 -3.6l-0.3 0.8l-0.7 -1.9l-2.1 -3.4l1.2 -2.9l-0.5 -0.4l-1.5 -0.2l0.2 -3.6l0.0 -1.3l0.6 -2.0l-0.3 -1.8l-0.7 -1.3l-0.1 -0.4l1.1 -2.7l-1.3 -1.5l1.0 -1.5l0.0 -3.0l-1.1 -0.6l-0.5 -1.4l0.1 -2.3l1.3 -2.7l-0.1 -0.8l-0.4 -0.3l0.1 -2.9l0.4 -2.8l-0.4 -0.6l0.5 -1.8l-0.1 -1.4l0.3 -2.8l0.0 -2.3l0.3 -0.6l0.6 -2.3l-0.6 1.3l3.0 -0.3l0.5 -1.4l1.8 0.3l2.7 1.8l0.6 0.9l1.9 0.5l3.7 -0.2l0.5 1.1l2.5 -1.2l0.3 0.5l2.9 -0.8l1.8 -0.1l1.5 -0.3l2.3 0.4l1.0 -1.0l1.6 -0.4l1.9 0.3l1.8 -2.1l2.4 0.9l1.6 -0.5l1.3 0.2l2.2 0.5l2.4 -0.2l0.5 1.1l2.7 -0.4l2.5 -0.7l0.7 1.6l2.8 0.8l0.0 -0.8l2.7 1.2l1.1 0.4l2.5 -0.3l1.6 -1.1l2.5 0.8l2.2 0.9l2.0 -1.0l1.3 -0.8l0.6 0.5l3.0 -0.5l0.9 -1.0l0.8 0.9l3.4 -0.3l2.0 -1.7l2.1 0.5l1.0 -0.8l2.0 1.9l2.1 -1.8l0.3 1.4l2.6 -0.4l2.0 -0.1l2.6 0.1l1.6 0.1l1.1 1.9l1.0 0.8l-2.4 -1.8l1.8 2.2l-0.6 1.6l0.5 1.7l0.5 1.4l0.7 1.6l-0.2 0.6l0.9 3.2l0.2 1.4l-1.3 2.2l2.0 2.0l-0.1 1.5l-0.8 1.1l-0.2 1.8l0.3 1.7l-0.6 1.8l0.4 2.3l-0.6 1.7l0.6 2.2l-0.9 1.3l0.1 0.7l-0.1 2.5l0.4 1.4l0.4 1.8l0.2 1.7l0.0 1.8l-0.8 1.2l0.0 2.5l-1.1 0.4l1.4 2.6l-0.6 1.4l0.3 3.3l0.4 0.7l-1.3 0.6l1.9 2.5l-0.7 2.7l-1.0 1.4l0.3 1.6l-0.3 1.3l0.1 3.4l-0.4 0.8l-0.7 1.6l-0.5 1.9l-0.9 1.5l-1.1 2.4l-0.1 0.9l-1.4 1.5l-0.3 2.7l-0.3 1.2l-0.3 1.5l0.2 1.3l0.5 3.7l-1.0 -0.4l0.6 1.6l5.9 -3.3l-0.3 1.4l-2.2 0.7l-3.9 1.7l-0.3 1.0l-2.0 0.3l-1.9 1.0l-1.9 -0.6l-1.0 0.1l-1.8 0.1l-1.4 0.9l-2.3 0.1l-2.4 -2.5l-1.6 1.8l-1.2 -1.3l-1.8 1.1l-2.0 1.1l-1.1 -0.1l-2.9 -2.0l-1.6 0.6l-1.1 1.5l-1.8 -1.7l-1.8 0.2l-2.5 0.7l-2.1 -0.7l-1.2 0.1l-2.0 0.4l-1.5 -0.4M12.3 332.1l-1.6 -1.9l1.0 -0.8l0.4 -2.2l-0.4 -1.7l1.0 -1.4l-1.3 -1.8l0.8 -1.7l-1.1 -2.2l1.1 -1.3l0.9 -1.1l-1.2 -2.7l1.1 -2.0l0.8 -1.5l1.1 -1.7l-4.9 5.5l0.8 0.6l3.1 -0.5l0.0 0.4l3.1 0.3l1.0 -1.0l2.2 -0.4l1.8 1.4l2.7 -1.7l0.7 1.2l1.4 -0.2l2.8 1.1l1.1 -0.6l1.8 -0.8l2.8 0.3l1.4 0.8l2.0 0.5l1.1 -0.6l0.9 -0.5l3.9 -0.1l1.3 -0.7l1.2 0.2l1.5 0.1l1.5 -0.5l2.0 0.2l3.6 -0.2l0.9 0.6l0.4 -1.5l2.5 -0.2l0.8 -0.3l3.4 1.0l0.5 -1.6l4.5 0.2l-1.1 -0.8l3.2 1.4l1.3 -2.3l2.4 -0.2l1.4 0.9l2.0 0.3l1.6 -1.4l1.2 0.2l2.6 0.0l0.9 0.4l2.2 -0.6l1.1 -0.3l2.5 0.1l2.7 0.5l1.0 0.2l2.2 0.4l0.2 -0.8l3.0 -0.6l2.0 0.9l2.3 1.9l0.6 1.8l-1.7 -4.5l0.0 1.6l1.3 2.5l0.6 -0.1l-2.3 3.0l-0.8 2.5l0.5 1.3l0.1 2.1l0.9 1.1l-0.8 2.0l-2.0 1.7l0.5 1.8l-0.1 1.5l0.7 1.5l-1.4 1.2l-0.5 1.6l1.6 2.5l-1.1 2.9l-0.9 -0.3l0.6 2.7l-1.1 1.3l0.0 2.1l0.6 1.2l-0.3 1.9l1.0 2.5l-1.4 1.8l0.6 1.0l-1.0 1.4l0.5 1.5l1.6 3.2l-0.1 1.6l0.3 1.8l-0.3 1.2l-0.7 2.5l1.6 0.5l0.8 1.9l0.9 1.8l-1.2 1.8l1.2 2.1l1.2 1.6l-1.5 2.0l0.9 1.8l-0.6 2.0l1.6 0.8l-0.6 2.9l0.9 0.5l-1.0 1.7l2.2 2.2l-0.8 1.9l-0.1 0.9l1.2 2.2l-0.2 2.3l-0.4 1.8l1.0 1.7l-0.5 1.4l-0.7 -1.5l-2.1 0.9l-1.3 0.7l-1.2 0.3M101.4 360.3l1.5 1.8l-0.6 0.6l-0.7 2.3l0.9 2.1l-0.2 1.5l-1.8 1.2l-0.9 1.7l-0.2 2.2l0.9 1.7l-2.8 0.8l-1.0 2.4l1.3 1.5l-2.4 2.3l0.1 2.2l0.7 1.6l0.2 1.9l-0.4 0.7l0.5 1.1l-0.1 3.4l0.6 0.8l-0.3 2.4l0.4 1.2l1.6 1.4l-1.1 3.5l0.4 0.2l7.5 -6.9l-2.6 1.5l-2.0 -0.3l-1.4 0.1l-1.6 -1.2l-1.9 1.0l-2.5 0.4l-1.1 0.3l-2.1 -2.3l-2.5 0.9l-0.9 0.8l-2.5 -1.5l-1.6 1.7l-2.5 -0.4l-0.7 1.2l-0.9 -0.3l-2.6 0.8l-1.4 0.0l-2.0 0.6l-2.2 0.3l-2.1 0.3l-1.8 1.5l-1.2 -1.7l-1.5 1.8l-1.2 -1.4l-2.9 0.4l-1.6 0.1l-1.6 -0.1l-2.1 -0.8l-1.9 0.4l-2.3 -2.7l-1.2 1.0l-0.8 -0.2l-2.4 -0.7l-1.6 -0.1l-3.0 0.2l-0.8 0.7l-1.3 -1.5l-1.8 1.1l-3.2 -0.7l-1.3 1.1l-0.2 0.3l-1.9 0.4l-2.8 -1.3l-1.6 1.4l-2.6 1.1l-1.2 0.2l-1.4 -0.8l-1.8 -0.5l-1.4 0.4l-2.2 -1.2l-2.7 0.7l-0.1 -1.6l-2.7 -0.6l-2.1 -1.8l8.9 7.1l0.2 -2.1l0.0 0.1l0.1 -2.0l0.0 -2.3l0.4 -1.7l0.2 -2.8l-0.2 -1.9l0.4 -1.5l-0.9 -0.6l-0.9 -2.2l-0.7 -1.4l-1.3 -2.3l-0.6 -1.4l-0.3 -3.0l-0.5 -0.4l-0.7 -2.1l0.0 -2.4l-0.7 -0.5l0.5 -1.6l0.7 -3.0l-0.2 -1.6l0.6 -1.6l0.5 -2.3l-0.7 -1.0l1.3 -1.8l-0.7 -0.3l2.3 -2.8l0.3 -1.8l0.0 -1.0l0.3 -2.6l0.3 -0.8l-0.4 -2.9l0.2 -1.4l-0.5 -2.6l-0.9 -1.1l1.4 -1.3l-1.9 -2.1l0.0 -0.7l-1.1 -1.9l-0.3 -2.2l-1.7 -2.5l1.4 -1.4l-0.3 -1.7l-2.4 -2.4l2.0 -0.1l-1.4 -3.0l0.7 -0.8l0.5 -2.6l-0.4 -1.4l0.1 -1.0l1.6 -3.2l-0.7 -0.6l1.3 -2.9l0.9 -0.1l-6.2 5.1l2.0 0.4l1.3 -1.0l3.7 -0.3l0.8 0.8l1.5 -1.5l1.9 0.7l1.7 -0.1l2.6 -1.6l2.1 0.2l1.4 0.4l0.9 -0.2l2.6 0.4M105.5 364.4l-0.5 1.1l0.3 1.8l-0.7 2.6l2.3 1.3l-1.4 1.6l0.2 2.0l-1.7 2.2l-0.4 1.4l-0.9 1.3l-0.9 1.4l-2.2 1.6l0.8 2.4l-0.7 1.2l0.2 3.0l-1.0 2.3l-0.4 0.4l-0.3 2.0l-1.0 2.6l0.2 -0.5l-1.1 2.7l0.2 1.6l0.1 2.7l8.4 -7.8l-0.9 1.6l-1.2 0.2l-3.9 1.2l-0.9 0.2l-2.6 0.0l-0.7 1.4l-1.0 0.2l-2.7 1.2l-3.5 0.0l-0.1 0.2l-2.1 0.0l-1.3 0.5l-1.8 -0.2l-2.4 -1.5l-1.8 0.5l-1.4 0.0l-1.5 -0.1l-2.6 0.6l-2.4 -1.3l-1.9 0.9l-1.2 -0.2l-1.4 -0.9l-2.1 0.2l-1.3 0.2l-2.7 1.3l-1.0 0.2l-2.1 -1.5l-1.6 0.7l-2.8 1.2l0.8 -1.1l-3.3 1.0l-2.0 -0.7l-3.5 0.5l0.5 0.0l-0.6 0.1l-2.3 -0.6l-2.5 -0.3l-1.9 -0.9l-1.9 -0.6l-1.5 0.1l-2.5 -2.5l-1.8 0.0l-2.4 -0.5l0.6 -1.9l-2.6 0.8l-2.5 -1.3l-2.4 -0.2l-1.6 -1.7l-1.3 0.8l-3.0 0.7l-1.2 -0.1l-0.7 -1.1l-2.7 2.0l-0.5 -2.5l8.6 9.3l-2.4 -1.0l-1.9 -2.5l1.0 0.1l-1.4 -2.9l-0.7 -2.2l0.0 -0.8l-0.8 -1.4l-1.0 -2.3l1.6 -1.5l0.1 -1.9l-0.2 -1.8l0.6 -2.6l0.5 -1.7l1.6 -2.2l-0.6 0.2l1.3 -2.9l0.5 -0.4l1.3 -1.8l0.0 -1.3l-0.8 -3.0l1.2 -1.3l0.5 -2.9l-1.5 -0.4l1.8 -1.9l-0.1 -2.1l-0.4 -1.3l-1.8 -1.1l0.0 -3.1l-0.9 -1.3l-0.3 -1.7l-0.8 -1.8l-1.3 -2.0l0.5 -0.6l-0.8 -2.8l-0.3 -1.3l-1.2 -2.8l0.2 -0.5l0.9 -0.6l0.2 -3.5l-0.5 -2.4l-0.4 -1.3l2.3 -1.6l-0.8 -2.3l-0.7 -0.1l0.4 -3.4l1.0 -1.9l-1.1 -1.5l0.5 -0.7l-0.5 -2.0l-0.2 -1.6l0.0 -1.9l1.2 -1.6l-0.7 -2.0l0.2 -1.6l-3.1 3.9l0.9 -1.7l2.4 -0.3l1.6 -0.6l1.1 -0.5l1.9 0.4l2.1 0.1l3.1 -0.4l0.6 -0.3l3.1 0.3l1.4 0.5l1.0 0.7l0.9 0.5l3.0 1.4l1.4 0.3l1.5 0.6l1.7 0.9l3.0 1.5l1.7 -0.6l1.0 -0.2l1.8 1.9l2.0 -1.1l2.4 -0.8l0.7 0.8l1.3 -1.1l2.5 -0.3l2.6 0.4l1.2 -1.8l0.4 -1.7l3.1 0.1l1.4 -0.2l1.1 -0.4l2.7 -1.5l1.7 -0.2l2.7 1.1l0.7 -0.7l2.0 -1.6l1.6 0.2l1.4 -0.1l2.4 1.0l2.1 1.5l2.7 -0.2l1.1 1.6l1.1 0.2l1.1 1.1l2.5 -0.3l1.2 2.0l2.3 -0.2l0.9 1.0l3.1 0.2l2.5 0.4l0.5 -0.5l2.2 2.0l1.9 1.9l-9.9 -11.1l0.9 0.3l1.2 4.0l0.5 0.2l0.9 3.1l-1.2 1.3l0.2 1.8l0.2 1.1l0.2 0.9l0.8 3.7l-1.5 0.0l-0.2 2.5l0.4 1.6l-0.6 2.2l0.2 1.3l-1.2 2.5l0.3 0.5l1.8 3.3l-1.0 1.2l-0.3 1.9l-0.1 1.7l-0.6 2.3l1.3 0.7l-0.2 3.5l1.5 0.0M66.5 310.1l1.2 0.5l2.0 1.9l2.3 0.4l1.7 0.5l1.4 0.5l2.2 1.3l1.0 -1.2l1.5 0.3l1.6 -0.4l2.6 -1.6l2.7 0.1l1.4 -1.6l1.9 0.2l1.3 -2.0l2.5 -0.3l1.9 0.2l1.0 0.5l2.6 -0.6l0.2 -0.2l1.8 0.5l2.6 -0.7l1.6 0.7l-0.5 -0.1l-0.7 0.8l2.3 3.5l-2.0 1.2l-1.2 1.8l0.4 2.4l-1.5 1.5l0.0 1.6l-0.4 1.1l0.8 2.8l-1.3 1.4l-0.1 1.8l-0.4 0.8l0.3 3.3l1.2 0.6l0.3 3.7l1.3 0.8l-0.9 1.6l1.4 1.7l1.1 1.3l0.6 1.4l-0.3 2.3l-0.7 1.5l1.2 1.7l-1.0 2.4l0.2 1.1l0.4 1.4l0.3 2.3l0.0 1.6l-0.8 0.9l0.2 3.2l-1.4 0.3l1.4 2.5l-1.3 2.1l0.1 2.8l-0.2 0.6l0.3 2.1l0.1 1.3l0.0 2.3l-0.9 1.2l-0.7 1.2l1.5 2.1l0.1 2.1l0.0 2.2l-0.6 0.4l0.7 1.7l-0.6 2.2l0.7 1.4l-0.7 1.6l0.6 1.5l0.1 3.2l-2.2 0.7l-0.3 2.5l-0.1 2.2l-0.3 1.1l2.4 -3.1l-2.3 -0.3l-1.7 1.3l-1.1 0.7l-2.6 -0.5l-1.6 2.1l-1.9 -0.8l-0.2 0.5l-2.8 0.0l-3.1 -1.2l0.2 0.8l-2.2 -0.6l-1.5 0.8l-2.4 -0.2l-1.0 -0.2l-2.9 1.8l-1.8 -2.5l-1.2 0.1l-2.5 -0.6l-1.0 -1.9l-3.7 -0.7l-0.1 0.4l-1.5 -1.1l-2.2 -0.2l-1.7 -0.6l-3.6 -0.7l-0.3 1.4l-0.6 0.9l-3.0 0.0l-2.4 1.3l-0.7 -0.2l-1.3 0.8l-2.3 0.4l-2.8 2.2l-1.0 -0.8l-1.4 1.0l-1.7 -1.4l-2.4 0.3M103.5 401.2l-1.8 0.5l-0.6 -0.4l-2.5 1.5l-2.2 -1.2l-1.8 0.3l-1.8 0.7l-1.7 -1.0l-2.0 0.2l-0.7 1.2l-2.9 -0.6l-1.8 -0.2l-3.2 -0.6l-0.3 1.9l-0.4 -0.2l-2.9 -1.4l-2.0 0.7l-2.4 -0.7l0.0 0.2l-2.6 0.2l-2.2 0.3l-1.1 -0.8l-2.4 0.6l-0.7 -1.9l-2.3 -0.2l-2.8 -2.4l-0.1 1.1l-2.3 -0.4l-2.7 -0.4l-1.0 -1.0l-1.9 0.7l-1.9 -0.5l-1.1 0.4l-2.7 -0.1l-2.6 -0.8l-0.7 0.0l-1.3 0.5l-2.4 -0.1l-2.4 1.1l-1.1 1.1l-1.5 -0.6l-2.6 0.0l-1.4 1.4l-3.0 1.1l0.0 0.5l-3.0 0.3l-1.5 0.5l-0.8 0.7l-2.5 0.1l-2.3 -0.4l-1.4 0.4l-1.2 -0.4l-1.5 -1.0l-1.9 -0.4l1.1 1.4l0.9 -2.1l-1.3 -0.5l0.7 -2.6l1.6 -2.0l-0.5 -1.2l-0.3 -3.3l1.6 -0.1l-1.3 -2.7l0.9 -1.8l-0.4 -1.5l1.4 -1.6l-1.3 -1.1l-0.1 -1.7l0.4 -2.3l-0.5 -2.3l-0.7 -0.8l-0.5 -3.3l0.0 -0.5l-1.5 -1.9l0.7 -1.4l-1.4 -2.7l-0.1 -0.3l0.5 -1.9l-1.3 -2.2l1.9 -2.2l-2.4 -0.6l0.6 -2.2l-0.3 -2.6l0.1 -2.4l-1.0 0.7l2.1 -2.4l-0.2 -3.0l1.0 -1.3l-0.2 -1.6l0.6 -1.5l-0.3 -2.1l-0.8 -1.6l0.6 -2.1l-0.9 0.0l2.0 -2.2l-0.9 -2.7l-0.3 -0.9l-0.6 -3.3l1.0 0.0l-1.7 -1.9l1.4 -2.7l0.3 -1.4l-1.1 -1.0l0.6 -2.0l-1.1 -1.3l1.1 -3.4l-0.8 -0.9l1.3 -2.1l-0.4 -1.6l-1.0 1.8l1.4 -0.9l2.1 1.1l1.4 -1.3l2.7 -0.1l2.3 1.1l0.7 0.0l1.2 -0.1l2.1 -0.2l1.9 0.7l2.5 -0.1l0.4 0.6l2.9 -1.3l1.7 1.1M26.7 404.2l-1.8 -0.7l-1.3 0.1l-1.4 1.1l-2.6 -0.5l-2.2 -0.2l-2.1 0.1l-0.5 -0.6l-1.6 0.6l-1.8 -1.4l-1.6 0.0l1.3 0.7l-1.7 -1.6l-0.7 -2.5l0.0 -1.9l-0.2 -2.2l0.7 0.1l-0.7 -2.8l0.0 -1.0l1.3 -2.9l-1.8 -1.2l-0.2 -1.9l-1.1 -1.3l0.7 -1.6l1.4 -3.4l-0.9 -0.6l0.2 -1.8l0.5 -1.0l0.2 -2.2l-1.4 -2.4l0.4 -0.2l-0.5 -3.3l1.2 -1.2l-0.7 -1.4l1.1 -1.5l-1.6 -2.9l2.3 -1.2l-1.1 -1.6l1.7 -1.2l0.1 -2.5l1.9 -2.2l1.1 -1.6l-0.5 -1.7l0.1 -1.4l-0.3 -1.3l0.6 -2.6l0.5 -0.4l1.1 -2.7l-0.5 -1.4l0.9 -0.8l-0.1 -2.9l-1.3 -2.5l0.6 -1.7l2.0 -0.8l-3.2 -1.4l0.0 -1.0l-0.1 -2.1l-0.2 -2.8l-0.9 -1.3l-0.8 -1.5l1.2 -2.5l-0.2 -0.4l-0.1 -1.9l1.1 -2.9l-0.6 -1.2l1.5 -2.2l-3.7 5.2l-0.2 -0.4l1.6 -0.3l1.5 0.3l2.5 0.3l2.6 -1.1l0.1 0.7l2.0 -0.1l2.7 0.4l1.1 1.1l2.1 -1.0l1.1 0.6l3.4 -1.0l1.0 0.6l1.7 -1.3l1.7 0.1l2.1 -0.3l1.4 -2.1l2.4 0.6l1.7 -1.3l2.4 0.6l1.0 -1.5l0.9 -0.8l2.4 -0.3l1.2 0.8l2.1 0.4l1.8 -0.8M10.4 315.8l0.9 0.8l3.6 -1.3l0.7 0.3l1.9 -1.1l1.6 0.2l2.0 -1.2l2.4 -1.7l1.4 -0.2l2.8 -0.7l-0.2 -0.2l1.7 -1.4l2.2 -1.2l2.0 -0.2l2.1 0.4l1.3 1.4l1.6 -1.6l3.1 -0.5l1.7 0.9l0.9 -0.2l2.0 1.6l2.2 0.2l1.7 -0.1l2.3 0.3l2.5 1.9l0.8 0.6l1.1 0.4l2.1 0.1l1.4 1.0l2.1 -0.4l1.4 -1.0l1.1 -0.2l2.3 0.2l2.3 -0.2l2.9 -0.4l1.2 0.0l1.0 -0.8l3.0 -0.6l0.1 0.0l2.6 0.1l2.6 0.4l0.6 -1.5l2.9 1.0l1.7 0.9l2.2 0.9l0.2 -0.3l1.8 1.6l2.5 -1.4l1.9 0.1l1.4 0.8l1.0 -1.0l2.5 1.4l2.8 -0.3l2.0 0.2l-5.4 -4.5l0.7 2.3l0.8 0.8l1.5 2.1l1.1 1.1l0.5 2.7l0.7 2.3l-0.9 0.9l0.0 1.5l0.9 2.3l-1.5 1.4l0.6 1.9l-1.3 2.3l0.8 1.8l-1.3 1.3l-1.5 1.6l0.8 1.2l-0.9 1.9l-1.0 1.9l-1.0 0.7l0.9 2.4l-0.7 1.2l-0.6 2.5l0.4 2.4l0.0 1.5l0.2 1.2l0.6 2.7l1.7 1.1l-1.1 2.5l1.3 0.4l0.5 2.1l0.3 2.9l-0.4 0.8l2.1 1.6l-1.5 1.6l0.2 1.8l-0.2 1.7l1.5 1.9l-1.5 1.4l-1.9 2.6l2.0 0.9l1.1 2.1l-2.8 2.1l0.4 1.6l-0.3 0.1l-1.4 2.6l1.4 2.4l0.1 1.4l0.7 2.6l-1.0 0.0l2.0 2.9l-0.4 2.1l-1.0 0.7l0.2 3.1l-0.4 0.7l1.2 -1.1l-0.1 -0.6l-2.7 1.7l-1.9 -0.9l-2.4 -0.3l-2.1 -1.7l-1.3 0.7l-0.3 -0.2l-2.4 -1.5l-2.5 -0.7l-1.5 -1.6l-2.0 0.5l-1.1 0.1l-2.2 -0.8l-2.6 0.2l-1.3 -0.5l-1.1 1.3l-1.7 -0.1l-1.9 1.0l-2.4 0.5l-0.6 0.8l-3.5 2.7l-0.8 0.5l-2.3 -0.2l-1.5 0.5l-2.2 -0.4l-0.9 0.5l-1.8 0.8l-1.2 0.1l-2.0 -0.5l-3.1 -0.1l-0.3 -0.6l-2.8 -0.4l-2.1 -1.3l-1.3 -0.9l-2.1 -0.4l-2.1 -2.1l-1.7 0.6l-2.8 -0.5l0.5 -0.4l-3.1 -0.1l-1.3 -0.9l-1.6 1.1l-2.5 -0.4l-1.7 0.8l-1.5 0.8l-2.0 0.0l-0.8 0.8l-1.9 1.5l-2.6 0.0l-1.1 0.9l-2.5 -0.5l-1.3 0.4l-2.1 0.8l1.8 1.1l-0.9 -3.3l-0.9 -0.5l-0.5 -1.6l2.0 -1.9l-0.6 -2.0l1.1 -1.5l-0.7 -0.8l0.3 -2.9l2.0 -1.3l-1.4 -1.6M12.0 373.2l1.2 0.4l2.2 1.2l2.6 1.6l1.7 -0.2l1.1 2.6l0.8 2.0l3.2 -0.1l0.3 2.0l2.9 -0.8l1.7 0.6l2.2 -1.5l3.4 -0.8l1.3 4.5l0.6 2.5l2.1 -0.9l2.2 2.2l1.2 0.0l1.8 1.2l1.2 0.9l2.1 0.1l2.9 0.8l2.0 1.1l1.5 0.2l1.8 2.0l2.2 -1.1l1.8 1.9l2.5 -1.2l1.1 2.2l2.0 0.1l2.7 -0.3M8.3 401.5l3.4 -0.7l3.0 -0.4l3.0 1.0l2.4 -2.6l3.1 0.8l1.9 -1.0l3.7 -2.5l2.5 -0.4l2.4 -1.7l3.1 -1.0l3.2 -2.7l2.9 0.8l2.5 -0.8l3.8 1.3l2.8 -2.1l2.2 -2.6l2.4 -0.7l2.7 -1.5l3.9 2.0l2.6 -1.6l3.5 2.3l3.1 1.8l3.7 0.0l2.2 -1.4l3.0 -0.5l3.0 -1.1l2.6 0.0l3.4 1.5l2.8 -1.1l3.0 1.3M102.3 362.4l-1.8 0.0l-2.8 1.0l-2.7 4.3l-3.8 -2.0l-2.6 -1.7l-2.7 -3.1l-3.3 -2.8l-2.6 1.9l-3.1 -1.6l-3.2 2.1l-3.5 -2.5l-2.2 -0.5l-3.9 1.1l-2.4 0.5l-2.7 -0.7l-3.2 -1.9l-3.0 3.2l-2.3 -1.1l-3.7 0.0l-2.5 2.8l-2.5 2.5l-2.4 -0.2l-4.1 2.0l-2.2 0.7l-2.7 0.0l-3.3 -1.7l-2.3 2.0l-2.9 0.1l-3.0 -0.3l-3.5 0.4M11.6 356.9l3.5 0.2l2.2 -2.1l2.0 -3.5l3.1 -0.6l3.0 -2.2l1.8 -3.2l1.2 -2.9l5.0 -1.7l1.0 -2.5l3.7 -2.0l2.9 -0.8l2.8 -1.7l3.3 -0.9l2.9 -0.9l1.4 -3.3l2.4 -3.4l3.0 -2.5l2.5 -4.1l3.3 0.4l2.9 -2.0l3.5 -0.2l2.1 0.1l3.0 -3.0l4.3 1.0l2.4 -1.3l3.7 -0.8l3.9 -0.4l3.1 -1.4l4.6 2.3l3.0 -1.2M13.4 403.5l2.7 -0.2l2.4 0.2l3.4 -0.7l2.4 -2.2l3.0 2.9l2.9 -0.4l3.0 0.4l2.6 -2.3l2.7 -1.6l2.8 -3.7l2.5 2.0l3.7 -0.1l2.2 -0.6l2.9 4.0l2.6 0.4l3.2 -0.9l3.0 1.8l2.6 -1.9l3.3 1.3l3.2 0.3l2.9 1.2l2.0 -0.7l2.7 0.8l3.4 -0.8l2.7 0.8l3.2 0.0l1.9 -0.2l3.5 -3.2l3.7 1.1l2.0 0.3M102.2 366.7l-2.6 -2.6l0.7 -4.2l-2.1 -1.6l-1.7 -2.8l-2.1 -1.1l-2.4 -2.6l0.0 -2.8l-4.3 -0.4l-2.2 -2.0l-2.2 -0.6l-2.1 -1.5l-2.5 -1.8l-3.7 0.8l-1.1 -3.2l-4.1 0.4l-3.3 -1.0l-1.9 -1.7l-1.5 -2.3l-1.1 -2.3l-1.6 -2.8l-3.0 0.5l-2.6 -2.2l-2.2 -1.8l-0.8 -2.9l-3.2 -0.6l-0.1 -4.1l-1.0 -2.7l-4.3 -0.4l-1.3 -2.8l-2.3 -0.5M42.1 312.1l2.9 1.7l1.9 3.3l1.3 3.1l0.5 3.6l2.3 3.5l0.5 3.1l2.3 3.1l2.9 1.8l4.1 2.1l3.1 1.9l3.1 2.8l0.4 3.0l6.0 1.2l0.3 4.3l3.1 1.4l3.4 2.6l2.9 2.2l1.1 3.0l3.8 1.9l-1.5 5.9l1.5 3.5l4.1 2.1l1.8 2.5l1.2 3.3l2.3 2.9l-0.7 3.7l2.0 3.1l2.8 2.9l2.9 2.2l0.3 4.1M102.5 398.5l-2.3 -1.9l-4.3 -0.5l-3.0 -3.0l-5.4 0.7l-1.7 -4.4l-1.2 -5.2l-2.1 -3.3l-3.4 -2.2l-3.7 -0.1l-5.6 0.0l-4.3 -0.3l-1.1 -5.5l-2.9 -3.6l-4.1 -0.5l-2.4 -2.2l-1.8 -4.7l-2.8 -3.0l-3.3 -1.9l-3.1 -1.8l-4.5 -0.7l-3.0 -2.4l-2.4 -4.4l-1.8 -3.3l-2.9 -2.1l-3.7 -2.4l-2.8 -1.7l-3.7 -2.3l-3.6 -1.1l-3.6 -1.9l-3.0 -3.4M10.2 346.3l2.9 0.1l2.8 -3.1l3.1 -0.8l3.6 1.5l3.0 -0.9l3.2 -0.8l2.4 -1.6l4.1 -0.5l1.6 -1.7l2.2 -2.7l3.3 -0.8l2.9 -0.3l3.1 0.4l3.9 0.1l3.2 0.3l2.1 -2.4l3.4 1.3l3.5 -0.6l2.8 -0.9l2.4 -0.2l3.1 -1.8l4.2 0.3l2.2 -0.2l3.1 -3.0l2.9 0.5l3.5 0.4l1.7 -1.6l3.9 -1.1l2.2 -2.6l3.1 -0.5M98.1 310.7l-2.2 2.7l0.6 3.8l-1.2 1.7l-2.9 2.5l1.2 3.2l0.3 3.1l-1.7 2.9l-2.0 1.3l0.7 3.3l-0.4 3.4l-0.7 3.0l-1.1 2.9l1.2 2.8l-2.1 2.4l-1.4 2.7l-0.6 2.7l0.4 2.9l-2.8 2.1l-2.9 3.1l-0.3 1.8l2.0 4.1l0.2 3.1l0.3 3.1l-2.1 1.9l0.2 3.3l-0.9 2.4l-1.2 3.7l-2.2 2.1l1.3 2.9l-0.2 3.6M83.2 401.0l-1.7 -3.8l2.4 -2.1l-0.3 -4.4l1.7 -1.6l0.0 -4.0l-1.4 -2.4l0.7 -3.1l3.6 -2.0l1.0 -3.3l1.0 -2.0l-1.8 -4.3l-0.7 -3.9l-0.7 -2.5l1.2 -2.6l1.4 -2.4l-1.7 -3.5l-1.6 -3.5l-1.3 -3.1l0.2 -3.1l2.2 -3.2l1.8 -1.9l1.6 -3.0l1.1 -3.0l1.1 -2.6l1.2 -2.9l-0.1 -2.4l-1.0 -3.5l2.0 -3.1l2.1 -2.5l1.7 -2.8M65.0 313.6l-0.7 3.6l-3.3 -1.6l-0.5 2.4l-1.6 3.7l-1.5 0.5l-2.1 0.9l-1.6 1.1l-2.9 -1.6l-2.2 1.4l-0.9 2.3l-2.7 0.1l-1.5 1.1l-1.2 2.7l-1.5 1.2l-2.9 -0.2l-0.9 1.5l-1.3 1.9l-2.0 -0.2l-3.3 0.2l-2.6 -1.6l-1.6 1.2l-2.5 -0.2l-0.9 1.8l-2.6 -0.2l-1.1 1.8l-3.9 -1.2l-2.4 -0.6l-1.5 0.8l-2.0 1.2l-1.2 2.6M98.4 375.8l-2.3 0.3l-2.8 -1.8l-2.4 -1.4l-2.7 -4.0l-2.8 -0.7l-2.8 -3.5l-1.3 -2.8l-2.7 -1.0l-2.6 -3.7l-3.8 0.9l-2.1 -2.6l-3.2 -0.6l-2.4 -2.3l-3.6 0.7l-2.6 -2.5l-2.8 -2.0l-1.9 -2.3l-2.8 -2.5l-2.6 -3.2l-2.4 -0.9l-3.8 -0.1l-3.5 0.7l-4.1 0.9l-3.4 -1.8l-2.3 0.3l-3.2 -2.3l-3.1 -0.3l-2.1 -3.0l-3.9 0.4l-4.0 1.6M79.1 395.9l-1.9 -3.0l-1.6 -2.8l-1.9 -3.2l1.1 -3.1l-1.1 -3.4l-1.5 -2.0l-3.2 -2.3l-1.6 -2.4l-1.1 -3.4l-2.4 -1.8l-0.5 -4.0l-0.4 -3.0l-3.0 -1.8l-0.1 -2.9l-0.5 -3.6l-1.0 -2.5l-4.5 -2.7l0.5 -1.9l-1.3 -3.2l-0.8 -2.8l-3.5 -2.4l0.9 -3.4l-2.4 -2.1l-0.9 -3.3l-2.6 -2.2l-0.2 -3.1l-2.7 -2.5l-1.2 -2.7l0.2 -3.2l0.4 -3.8M28.4 398.0l-0.6 -4.5l1.5 -2.6l-0.1 -2.9l4.6 -2.5l3.2 -2.1l2.8 -2.8l0.2 -3.4l0.5 -3.0l-1.5 -4.6l1.1 -2.7l4.6 -3.1l0.8 -2.2l1.3 -3.1l1.3 -3.5l1.3 -3.0l2.2 -2.7l2.8 -2.1l1.6 -3.1l1.5 -4.0l1.6 -2.6l2.5 -1.9l3.0 -1.9l1.1 -2.8l1.9 -3.8l0.1 -3.6l4.3 -2.7l0.5 -2.1l1.2 -2.9l2.2 -3.1l1.5 -3.3M56.2 394.1l4.2 -0.8l2.1 -2.6l-0.3 -3.2l3.7 -1.3l1.5 -2.9l1.6 -2.7l2.1 -2.5l2.4 -2.1l0.3 -2.5l-0.2 -3.6l1.6 -2.6l2.0 -2.7l1.0 -2.5l-1.3 -3.9l0.8 -3.4l-0.9 -3.4l3.7 -1.8l3.6 -1.6l1.7 -1.5l1.7 -3.3l0.8 -2.8l-0.5 -3.5l1.7 -2.8l2.0 -2.0l-1.7 -4.5l0.5 -2.5l2.2 -2.5l0.2 -4.3l3.6 -0.5l2.2 -1.7M96.8 394.6l-1.5 -2.2l-2.3 -0.4l-3.3 2.6l-0.8 -0.2l-2.9 0.5l-1.9 -2.3l-2.0 1.4l-2.5 0.7l-1.9 1.3l-3.1 0.9l-1.0 0.4l-2.0 -0.2l-2.7 -0.8l-2.2 1.0l-2.1 -0.5l-2.7 0.8l-1.9 2.8l-1.5 -0.5l-2.4 1.8l-1.2 -1.2l-2.7 2.0l-2.5 -1.0l-2.3 0.4l-2.1 -2.7l-2.0 4.3l-1.5 0.0l-2.2 0.0l-3.2 0.0l-2.0 0.0l-2.5 -2.0M96.6 312.1l-3.0 -1.6l-2.7 0.9l-3.0 1.3l-2.1 -0.7l-3.0 -0.8l-2.4 -0.3l-3.5 0.3l-2.3 -1.1l-2.8 0.2l-2.6 -0.5l-3.4 1.6l-1.7 1.6l-2.6 -1.8l-2.9 2.5l-3.3 -2.1l-2.3 -0.1l-3.6 0.0l-2.4 -2.9l-2.3 -0.2l-3.5 0.0l-2.7 0.0l-2.6 0.0l-2.3 0.0l-2.7 1.5l-2.1 -1.5l-3.3 1.7l-2.1 1.9l-2.5 2.2l-3.1 0.0l-2.6 1.3M76.5 310.5l-1.4 3.1l-1.3 2.4l0.6 4.1l-3.0 2.7l0.1 3.3l-0.4 3.8l-0.4 3.0l0.5 3.6l-0.1 3.2l-1.6 3.5l0.1 3.2l-0.5 2.5l-1.7 4.4l-2.3 2.5l-1.1 2.2l-0.7 4.0l0.1 3.6l-0.7 2.5l-2.4 3.1l-5.4 1.5l-1.6 2.8l-2.9 2.9l0.5 2.8l-0.2 4.0l-3.1 2.6l-0.6 2.6l-1.7 3.4l-0.3 3.4l-0.6 3.0l-1.8 3.3M35.5 314.0l-0.1 2.7l-2.0 3.1l1.4 3.3l0.5 3.8l-0.6 2.7l-2.4 2.6l0.3 3.6l-1.9 2.0l0.8 3.2l0.7 3.7l-4.0 2.2l1.3 2.9l-2.8 3.2l1.0 2.5l0.7 3.9l0.6 2.6l-3.7 2.2l-0.4 3.9l3.9 3.2l-0.8 3.5l-0.9 2.4l-0.4 4.2l0.7 2.4l-1.4 2.1l-4.1 2.3l-1.2 3.5l-0.6 3.8l1.3 1.8l-4.1 4.0l0.0 2.1" fill="none" stroke="#74326f" stroke-width="0.7" stroke-linejoin="round"/>
<rect x="26.54" y="324.74" width="63.72" height="63.72" stroke="#e2622c" stroke-width="1.4" fill="none"/>
<line x1="118.2" y1="303.5" x2="118.2" y2="409.7" stroke="#a9d27a" stroke-width="1"/>
<line x1="118.2" y1="303.5" x2="224.4" y2="303.5" stroke="#a9d27a" stroke-width="1"/>
<line x1="139.44" y1="303.5" x2="139.44" y2="409.7" stroke="#a9d27a" stroke-width="1"/>
<line x1="118.2" y1="324.74" x2="224.4" y2="324.74" stroke="#a9d27a" stroke-width="1"/>
<line x1="160.68" y1="303.5" x2="160.68" y2="409.7" stroke="#a9d27a" stroke-width="1"/>
<line x1="118.2" y1="345.98" x2="224.4" y2="345.98" stroke="#a9d27a" stroke-width="1"/>
<line x1="181.92" y1="303.5" x2="181.92" y2="409.7" stroke="#a9d27a" stroke-width="1"/>
<line x1="118.2" y1="367.22" x2="224.4" y2="367.22" stroke="#a9d27a" stroke-width="1"/>
<line x1="203.16" y1="303.5" x2="203.16" y2="409.7" stroke="#a9d27a" stroke-width="1"/>
<line x1="118.2" y1="388.46" x2="224.4" y2="388.46" stroke="#a9d27a" stroke-width="1"/>
<line x1="224.4" y1="303.5" x2="224.4" y2="409.7" stroke="#a9d27a" stroke-width="1"/>
<line x1="118.2" y1="409.7" x2="224.4" y2="409.7" stroke="#a9d27a" stroke-width="1"/>
<path d="M123.3 319.8l-0.8 -2.6l-1.4 -1.1l-0.7 -2.4l0.4 -0.7l0.4 -2.1l1.2 -2.9l-1.3 0.5l2.0 0.8l1.8 -0.7l2.3 -0.4l1.2 0.3l2.5 -0.1l1.9 -0.2l1.6 0.0l2.5 0.2l1.8 0.8l1.2 -0.2l1.7 2.3l1.7 0.1l2.9 0.0l2.1 0.1l1.2 1.0l2.0 0.3l1.0 1.1l3.4 -2.1l1.8 1.3l1.3 -2.0l1.8 0.5l2.2 1.0l1.3 -2.5l0.8 1.4l4.0 0.5l1.3 -1.7l2.1 0.5l1.0 -0.9l2.5 0.6l1.5 -0.4l2.2 0.0l1.5 0.5l3.1 -0.5l0.4 0.2l1.3 -1.4l3.4 0.9l1.4 -0.9l0.5 -0.3l2.9 0.5l1.4 -1.4l1.7 0.5l2.9 -0.1l0.8 -0.9l2.2 1.2l2.1 0.1l2.0 0.0l1.4 0.3l1.3 -0.2l2.3 -1.1l1.7 1.5l2.1 -0.8l1.7 1.2l1.9 0.8l-2.0 -0.9l-0.7 1.3l0.5 1.7l0.5 1.7l-2.4 2.2l0.3 2.4M145.2 318.2l1.4 -2.7l2.6 0.4l1.6 -0.5l1.8 -1.0l1.9 0.4l2.1 0.0l2.0 -1.3l1.6 -0.2l1.6 -1.3l1.3 -0.3l2.3 1.3l2.3 0.9l1.3 -1.5l1.7 1.7l1.1 -0.3l2.3 2.4l3.2 -1.2l0.9 0.7l2.3 0.2l0.9 -0.7l3.4 0.4l1.7 -0.4l1.3 -0.3l1.6 0.0l2.5 -1.4l1.4 0.3l1.2 -1.1l3.1 -0.2l2.0 -1.9l1.5 0.0l1.8 0.1l1.9 -0.4l1.4 1.0l2.1 0.7l2.6 -0.5l0.8 0.3l2.2 2.8l1.5 0.7l3.0 0.6l1.2 1.8l0.8 -0.1l-9.4 -8.8l1.2 1.0l-0.9 2.0l1.4 2.7l0.2 1.7l0.6 1.6l1.4 2.1l1.2 1.8l1.1 1.9l2.4 3.0l0.7 -0.6l0.9 3.7l0.7 0.1l-0.5 4.2l0.1 -0.7l0.0 3.3l0.1 0.5l-1.3 2.6l0.3 2.2l1.7 1.4l-1.1 1.5l-1.1 1.4l-1.5 1.7l0.4 3.4l-1.9 1.0l-1.1 1.6l0.3 2.3l-0.7 1.6l-0.5 0.9l-0.1 1.1l-0.2 3.1l0.5 0.4l0.8 2.2l-1.5 2.4l2.2 0.8l0.9 2.7l0.5 1.1l1.1 2.6l-0.2 1.1l0.1 2.3l-0.5 1.4l1.8 2.2l-0.9 1.6l0.1 2.6l-0.8 1.0l-0.2 2.6l-1.1 1.5l-0.1 2.0l-0.8 0.9l-0.4 1.9l-0.4 2.9l0.4 0.9l-0.5 2.1l-0.5 1.2l-0.8 0.7l5.9 -3.2l-2.3 0.9l-1.9 -0.1l-0.6 0.3l-2.9 1.8l-1.7 0.1l-0.2 -0.9l-2.6 1.8l-2.6 -1.4l-1.3 0.1l-1.4 -1.7l-2.8 0.7l-1.5 -1.7l-1.7 -0.5l-2.8 -2.5l-1.3 0.0l-1.8 -0.5l-2.4 -0.6l-0.6 -0.1l-3.3 -0.2l-0.8 1.8l-1.5 -2.1l-2.5 0.5l-1.3 0.6l-2.5 -0.6l-1.0 0.1l-2.8 1.3l-1.0 2.7l-2.2 1.0l-2.1 -0.3l-1.8 3.1l-2.2 0.1l-2.4 0.4l-0.2 0.3l-3.7 -0.1l-1.3 0.4l-1.1 -1.1l-1.9 -1.2l-2.2 0.3l-1.4 -0.3l-1.7 -0.7l-2.7 -2.5l-1.2 -1.7l-1.8 -0.3l-2.1 -0.6l-1.6 0.2l-2.2 -0.2l-2.6 -0.9l-1.6 0.8l-1.1 -0.4l-1.8 1.0l-2.7 1.5l-1.1 0.2l-1.1 1.1l-2.4 -1.4l4.3 5.2l-0.5 -1.6l-1.8 -2.5l-0.4 -0.3l0.5 -2.3l0.4 -1.4l-1.5 -1.8l0.7 -1.9l0.2 -2.5l-0.2 -1.9l1.8 -1.3l0.7 -1.8l0.1 -1.4l0.0 -1.7l-0.5 -1.4l0.7 -4.1l-2.1 -0.1l1.2 -2.5M218.4 375.2l-0.5 1.8l-0.8 2.0l0.9 2.0l0.0 0.8l-1.0 3.0l0.3 1.3l-0.2 1.7l-1.2 1.0l0.0 2.2l-0.1 1.4l-1.2 2.2l0.9 2.9l-0.5 1.3l-0.4 2.2l-0.5 0.2l-1.2 2.3l-0.6 2.5l7.9 -9.2l-1.7 1.5l-2.1 0.7l-3.2 -0.7l0.4 -0.4l-2.9 0.4l-1.9 0.4l-2.2 -0.5l-1.1 1.2l-2.0 0.0l-1.0 0.6l-2.4 0.4l-2.8 -0.3l-0.9 0.0l-1.8 1.1l-2.9 0.6l-0.9 1.1l-2.8 0.5l-1.8 0.1l-0.7 1.8l-2.3 -0.9l-1.6 0.7l-2.2 0.4l-2.1 0.2l-2.9 0.7l-0.5 -0.3l-2.1 -0.5l-1.5 0.1l-2.4 0.4l-1.0 -0.5l-1.6 -1.2l-2.8 1.9l-1.5 0.1l-2.3 -0.8l-0.7 0.4l-2.7 0.0l-1.7 -1.3l-1.7 -0.4l-1.6 1.0l-1.7 -1.3l-2.3 0.4l-0.8 -1.0l-3.3 -0.3l-1.8 -0.7l-0.4 -0.5l-4.0 0.0l-0.2 0.3l-3.1 -0.6l-0.8 -0.7l-3.1 -0.3l-0.7 -0.9l-3.7 0.1l0.9 0.2l-1.1 0.3l2.8 6.3l0.4 -4.1l-1.5 -0.2l0.1 -3.1l-0.7 -0.3l0.8 -2.4l0.2 -1.4l-1.5 -2.4l-0.2 -1.8l1.1 -1.1l-1.0 -1.7l0.6 -2.2l-1.0 -0.9l0.5 -2.4l-0.7 -1.5l1.1 -2.6l-1.3 -1.6l0.7 -0.8l-0.5 -3.2l0.2 -1.4l-1.3 -2.2l0.3 -1.2l1.5 -1.5l-0.9 -2.4l-0.1 0.2l0.4 -3.7l-0.9 -1.1l-0.1 -1.0l0.6 -1.5l-1.5 -2.5l1.1 -1.5l-0.3 -4.0l0.9 -1.2l-1.3 -0.9l-0.4 -0.6l0.7 -2.6l-0.2 -2.5l0.1 -1.3l1.8 -1.8l-1.0 -2.5l1.2 -0.6l0.7 -2.2l-1.0 -1.4l0.2 -2.4l0.2 -2.0l0.4 -0.9l-1.0 -2.2l1.6 -0.6l0.8 -2.8l0.3 -1.4l0.2 -2.3l-0.2 -2.0l0.0 -1.3l1.4 -2.5l-0.2 -1.6l-7.1 8.2l1.2 -1.2l1.8 0.9l2.5 0.0l1.2 -0.3l2.4 -0.3l0.5 -1.7l2.5 0.2l2.7 -0.2l1.6 -0.7l2.2 1.2l1.8 -1.6l0.9 -0.8l1.9 0.0l2.3 -1.2l1.3 0.4M121.4 337.7l0.6 -1.3l-1.0 -1.9l-0.2 -1.1l-0.1 -3.3l0.6 0.0l0.1 -2.4l1.0 -1.9l-0.7 -0.8l1.7 -2.5l0.0 -2.2l0.7 -1.7l0.3 -1.3l0.7 -3.3l2.7 -1.0l1.1 -1.7l0.3 -2.2l-9.0 8.4l2.7 0.9l2.7 -2.2l0.7 0.0l1.2 -0.1l3.8 -0.3l0.8 0.1l1.3 0.5l2.0 -0.1l1.8 -1.9l1.9 0.3l1.9 -0.4l1.8 -0.3l1.2 0.6l1.8 0.0l2.8 0.9l1.9 -2.2l1.6 1.2l2.3 -0.5l1.3 -1.0l1.7 0.7l2.1 -0.4l1.9 -0.9l1.4 0.9l2.1 -0.1l0.9 -0.4l2.7 -0.4l1.2 1.4l2.6 -2.2l2.0 1.2l1.7 -0.2l1.9 0.4l2.1 0.3l0.9 -0.4l2.4 -0.3l1.8 0.1l0.8 1.7l3.6 -0.4l1.1 0.5l1.3 -0.6l2.1 0.8l1.7 0.3l1.4 0.8l1.9 0.2l3.0 -0.4l1.6 0.7l2.2 0.2l1.9 -0.6l2.0 -0.7l1.5 -0.8l1.1 -1.5l3.1 0.2l1.5 -0.6l2.1 0.6l1.0 0.9l-3.9 -6.1l2.2 3.2l0.2 1.2l0.6 1.7l1.1 2.0l0.2 0.7l-1.0 3.0l-0.7 2.1l0.3 1.4l-0.8 1.4l-0.8 1.4l-0.5 2.6l0.1 1.8l-0.8 1.9l-0.2 2.0l-1.2 1.2l0.6 2.5l-0.7 -0.4l0.5 3.0l0.5 1.7l-1.7 2.9l1.7 0.1l-0.9 3.5l1.0 0.8l-1.1 1.5l0.2 2.5l1.3 1.4l0.5 1.6l-0.8 3.2l-0.5 1.6l1.4 0.2l-1.9 2.7l1.3 1.5l-2.3 1.8l1.5 0.8l-0.3 2.7l-0.8 2.2l0.4 0.8l-0.6 2.4l0.9 2.5l-0.1 0.5l1.6 3.0l-0.6 1.8l-0.1 2.8l0.3 -0.5l1.8 2.7l-0.6 1.1l0.6 2.5l0.6 2.3l-1.1 0.9l0.8 1.6l0.1 2.5l-0.6 1.3l0.7 2.0l-1.1 1.7l3.9 -4.7l-1.5 1.9l-2.8 -2.0l-1.1 0.4l-2.2 -0.1l-1.5 -1.3l-3.9 -0.2l0.3 -1.2l-1.9 -1.1l-2.6 1.0l-1.7 -1.1l-1.7 1.2l-3.1 1.2l-0.1 0.1l-1.6 -0.6l-3.4 1.2l-1.5 1.5l-1.9 -1.3l-1.3 1.1l-3.0 2.3l-1.7 -0.4l-0.6 0.0l-2.2 1.3l-1.4 -0.9l-2.9 1.7l-1.2 -1.5l-2.6 -0.4l0.5 -0.2l-3.1 1.1l-2.2 -0.9l-1.8 -0.2l-1.4 0.3l-3.9 -2.0l0.4 0.7l-1.8 -1.0l-3.1 -0.6l-2.8 -0.4l-1.3 -0.5l-0.3 -0.5l-2.6 -0.5l-2.5 0.5l-2.3 -0.8l-1.2 0.1l-1.4 0.7l-1.6 0.5l-1.4 -1.9l-1.5 0.9l-2.8 -0.3l-2.6 -0.7l-1.2 0.8l-2.5 -1.5l-0.5 0.7l-1.7 1.4l-2.0 -1.3l-2.4 0.3l6.8 7.3l-1.6 -2.2l-0.2 -1.8l-1.5 -2.3l1.5 -1.9M221.6 333.6l0.9 2.3l-0.9 2.8l-1.3 -0.1l1.2 2.3l0.4 2.8l-0.5 1.6l0.3 0.9l-0.7 2.2l0.4 1.6l-0.1 2.4l-0.4 1.0l1.3 1.5l0.4 2.5l-0.4 0.6l-0.8 3.7l0.0 1.8l-0.7 -0.2l-0.8 2.9l0.5 2.1l-0.5 1.7l0.0 1.2l0.0 2.3l-0.5 2.8l0.9 1.1l-0.7 -0.1l0.0 3.1l0.2 0.7l0.5 2.1l-0.7 1.7l0.2 2.8l0.4 2.4l-1.9 1.0l1.7 2.3l0.7 0.8l-0.1 2.6l0.2 1.5l0.1 1.4l0.6 2.6l-1.3 1.1l1.4 1.8l-2.1 0.0l-1.1 0.4l-1.6 -1.1l-2.1 1.9l-2.1 -0.7l-1.4 0.9l-2.5 -0.5l-1.8 -0.2l-2.3 0.6l-1.5 -0.9l-2.8 0.7l0.9 -0.6l-3.1 -0.4l-2.1 0.6l-1.2 -0.1l-1.5 0.5l-1.8 0.2l-2.9 0.2l-1.9 -1.3l-2.4 -0.4l-0.6 -0.2l-2.7 0.3l-1.8 -0.5l-1.6 -1.0l-1.8 0.8l-1.1 -1.1l-2.0 0.2l-3.9 -0.5l-0.7 -0.5l-1.3 1.0l-0.7 -1.7l-3.6 1.8l-1.6 -1.5l-1.6 1.4M120.4 401.7l1.2 -1.7l-0.5 -1.8l-1.0 -2.6l0.7 -2.1l0.8 -1.9l0.5 -1.3l1.6 -1.3l-0.3 -3.0l0.5 -1.6l-0.4 -1.1l0.4 -1.4l-0.4 -2.3l1.1 -2.4l-0.8 -0.9l0.6 -1.9l0.6 -1.7l-1.1 -1.8l-0.5 -3.0l-0.7 -0.7l0.3 -2.2l0.0 -0.8l-0.8 -0.9l0.0 -3.7l-0.6 -1.8l-0.5 -1.9l0.5 -0.4l0.3 -2.9l-0.6 -2.1l-0.7 -0.5l0.6 -2.6l0.3 -0.8l-0.5 -2.7l-0.5 -0.7l1.0 -2.8l0.7 -1.5l0.8 -2.5l-1.8 -1.5l1.3 -0.8l-0.7 -3.4l0.6 -1.2l-0.7 -2.2l1.5 -1.1l-1.4 -1.8l0.4 -2.1l0.0 -0.4l-0.3 -4.1l1.1 -0.9l-0.4 -1.2l0.7 -3.1l-0.7 -0.2l2.6 -2.3l-1.1 -1.7l-2.5 3.7l1.2 -0.6l3.0 -0.4l2.2 -0.6l1.7 0.2l2.4 -1.0l1.6 -1.1l1.4 0.4l2.5 0.1l1.3 -1.8l1.3 1.4l3.1 -1.0l0.5 1.4l3.2 -0.3l0.9 -0.2l1.3 -0.7l2.1 0.2l2.7 -0.4l3.0 1.6l0.2 0.6l1.4 -0.2l2.6 1.7l0.7 1.3l2.9 0.2l2.2 0.3l1.8 0.7l0.9 0.1l1.7 0.7l2.0 -1.9l3.1 2.0l0.7 -1.1l1.9 -0.4l2.1 -1.1l2.0 0.0l1.9 -0.5l2.7 -1.3l0.1 -2.7l2.3 0.6l2.3 -0.5l0.7 0.1l3.0 0.7l1.4 0.0l2.6 -0.9l0.8 1.5l2.3 -1.4l1.9 -0.5l2.0 -0.1l2.2 1.2l0.7 0.2l3.2 -0.2l1.5 0.6l1.0 1.5l1.6 0.2l2.5 2.1l-4.1 -4.3l0.1 2.1l0.4 1.7l0.6 2.8l0.5 0.8l-0.5 0.5l0.4 3.7l0.6 0.6l-0.3 1.7l0.1 1.4l1.0 2.5l0.6 2.5l-0.6 0.2l1.4 1.5l-0.6 3.6l0.5 0.8l0.6 3.5l-1.3 0.6l0.2 1.3l2.3 1.4l0.0 1.3M120.1 372.0l0.3 -1.7l-1.0 -2.4l1.5 -1.9l1.2 -2.7l-0.5 -0.8l0.6 -1.6l1.0 -1.1l0.0 -2.3l0.5 -2.8l0.0 0.3l-0.3 -3.5l1.3 -1.0l0.1 -2.0l0.8 -2.6l0.1 -1.4l-0.1 -2.2l0.0 -1.7l0.4 -1.4l-0.2 -3.3l-0.9 -0.8l-0.3 -1.7l0.1 -1.1l-0.5 -2.2l-0.7 -2.1l0.4 -1.6l-0.5 -0.8l-0.4 -2.7l-2.3 -2.2l1.5 -2.1l-0.4 -0.1l0.0 -2.7l0.3 -1.4l0.5 -1.6l1.1 -2.5l0.4 -2.3l-2.7 4.1l2.1 -1.3l1.8 0.2l2.2 0.2l2.0 -0.4l0.9 0.7l2.2 0.2l2.8 0.6l0.3 -0.2l3.3 0.7l0.9 0.3l1.3 -0.6l2.7 -0.2l1.4 0.7l2.5 -1.3l2.5 -0.9l1.0 0.6l1.6 0.7l2.0 -0.4l2.1 -1.0l1.8 -0.7l1.2 1.2l2.7 -2.3l2.1 0.3l1.9 -1.1l1.4 0.9l1.8 -0.5l2.5 0.8l2.0 -0.6l1.6 -0.2l1.5 -0.4l2.4 0.1l1.6 0.9l1.6 0.1l1.5 1.7l2.6 -0.5l1.1 0.4l0.9 0.4l2.3 0.5l2.7 1.6l3.0 -0.4l0.2 0.9l3.0 -0.1l0.6 0.0l2.3 1.5l2.5 -0.5l0.4 -0.9l1.7 -0.3l2.9 0.4l1.5 -0.5l2.8 -0.2l0.3 1.0l2.0 -0.5l2.5 -0.2l-3.6 -6.0l0.6 2.1l2.4 2.3l0.7 1.8l-0.5 2.0l0.1 1.8l1.2 2.0l-1.2 1.9l1.6 0.7l-1.1 2.4l0.8 2.1l-0.3 0.7l0.3 2.5l-1.2 2.0l-0.5 1.3l2.2 3.4l-1.5 0.4l0.0 1.8l0.6 2.1l-0.3 1.3l-1.3 3.9l-0.7 0.0l0.5 1.6l-0.2 1.5l0.6 1.2l0.0 3.1l0.6 1.8l-1.0 0.8l-0.7 2.0l0.7 2.8l-0.3 2.6M217.1 342.0l-1.1 1.4l-0.8 1.4l-1.0 3.2l-0.7 1.3l-0.5 0.8l-0.9 2.0l0.4 2.2l0.3 1.6l-1.1 1.7l1.5 0.8l0.6 3.0l1.8 2.1l-0.5 2.0l1.4 1.2l1.7 2.6l1.2 0.9l-0.5 2.8l0.2 0.9l0.8 1.3l0.0 1.1l0.4 3.8l-0.6 0.3l0.1 2.1l-2.6 2.4l0.8 1.6l-2.7 1.7l2.1 3.1l-0.5 0.4l-0.7 2.4l-0.7 0.6l-1.4 2.7l0.7 0.5l-0.8 4.3l0.2 0.4l0.3 1.5l6.6 -7.3l-1.9 2.2l-1.7 0.7l-1.9 1.5l-2.1 0.6l-0.5 -0.5l-2.5 0.9l-2.1 -0.9l-1.1 0.8l-2.6 -0.1l-1.4 0.2l-1.1 0.1l-3.1 -0.7l-1.5 -0.9l-2.6 1.1l-1.5 -1.5l-0.8 0.1l-2.1 -0.5l-1.9 0.7l-1.7 -0.8l-2.1 1.2l-2.2 -1.4l-2.0 0.9l-1.4 -0.2l-1.8 2.1l-2.5 -1.1l-1.9 -0.2l-2.2 0.5l-1.0 -0.9l-1.7 0.9l-2.5 1.0l-0.8 -0.2l-2.4 -0.4l-1.3 0.1l-3.8 -0.3l-1.6 -0.5l-0.3 -0.7l-2.4 -0.9l-2.8 0.1l0.1 -0.1l-2.2 0.0l-1.9 -0.7l-2.3 -1.2l-2.2 1.1l-2.6 -0.7l-0.8 1.8l-2.2 0.4l-1.4 0.0l-1.6 0.1l-2.2 1.3l-2.5 0.1l-1.7 0.0l-1.6 0.1l-1.6 0.7l-1.7 -1.6l3.3 5.1l-1.1 -2.8l-0.3 -0.3l0.2 -2.9l0.9 -2.9l-0.1 -1.7l0.3 -1.7l1.4 -0.6l-0.6 -1.5l1.1 -1.9l0.0 -1.7l-0.2 -2.1l0.6 -2.3l-0.3 -2.1l-0.5 -0.6l0.7 -2.1l-0.9 -2.2l-0.1 -1.7l-0.8 -0.8l-0.4 -2.7l0.3 -2.7l0.3 -0.5l-0.5 -3.5l-0.2 -1.2l0.0 -0.1l-0.4 -3.8l-0.3 -1.8l0.8 0.4l-1.0 -3.8l0.7 -1.3l-0.4 -1.6l1.2 -2.0l0.7 -1.7l-0.7 -1.4l-0.3 -0.8l0.7 -3.5l-1.2 -0.5l-0.1 -2.2l0.9 -1.2l0.3 -1.2l-1.2 -3.1l0.4 -2.1l-0.2 -1.9l-0.2 -0.3l0.8 -2.6l-0.3 -1.9l-0.5 -2.7l1.0 -1.1l0.4 -1.1l-0.5 -2.1l1.0 -1.6l-0.4 -2.0l-0.1 -1.7l2.3 -0.8l1.8 -3.8l-9.8 8.0l2.5 0.3l2.7 -1.1l0.7 -0.5l1.9 0.2l2.7 -2.2l1.2 0.2l2.4 -0.1l0.7 -1.5l3.2 -0.9l0.1 -0.1l3.6 0.5l1.1 -1.3l2.2 0.6l2.0 -1.4l1.8 1.4l1.4 -0.6l3.0 1.4l0.3 0.6l2.3 1.0l2.2 0.1l1.6 1.8l1.1 0.8l2.2 0.7l2.1 1.4l1.2 -0.6l2.3 0.6l1.9 -0.1l3.0 -0.2l0.7 0.8l3.5 -1.8l0.4 -0.9l2.6 -1.2l1.7 -1.0l2.3 -1.6l1.2 0.1l1.2 -1.4l2.4 -0.7l1.7 -1.8l2.2 -0.2l0.4 -0.1l2.3 -0.2M215.9 403.8l5.4 -3.0l-3.2 -0.2l-1.5 0.6l0.3 0.2l-3.2 1.3l-1.5 -1.6l-2.2 0.6l-1.9 0.2l-1.4 -1.3l-3.1 -0.8l-1.5 1.1l-1.8 -0.6l-1.1 0.1l-3.2 -1.0l-1.0 0.8l-1.9 -0.8l-1.8 -0.1l-1.3 1.0l-2.7 -1.3l-1.8 0.5l-1.3 0.0l-0.8 -1.0l-2.7 0.6l-2.5 0.0l-1.6 0.3l-0.8 -1.1l-3.3 1.4l-0.6 -1.1l-2.6 1.5l-1.7 1.4l-2.0 -0.5l-1.2 2.3l-2.5 -0.5l-1.5 -0.2l-3.3 0.5l0.1 0.9l-2.6 2.0l-0.5 -0.8l-3.0 -0.4l-1.7 0.7l-2.0 0.1l-1.4 -0.1l-2.8 1.0l-1.9 -0.2l-1.5 -1.3l-2.0 -0.4l-1.4 -0.6l-2.8 -0.2l-1.5 -1.3l-1.6 1.8l-1.6 -2.3l-1.9 0.4l-2.4 -0.4l-1.7 -2.6l-1.7 1.1l5.6 4.8l-0.2 -2.2l-0.5 0.0l-1.2 -2.7l-0.3 -1.3l-0.2 -2.4l0.9 -2.5l-1.5 -1.4l0.0 -2.4l-1.1 -1.1l0.6 -2.3l0.1 -2.3l-0.7 -0.3l0.4 -2.9l-0.7 -0.9l1.0 -2.2l-0.7 -1.7l1.6 -1.9l1.0 -0.4l-0.7 -2.9l0.2 -1.1l0.6 -2.1l0.5 -1.0l0.2 -2.7l0.3 -3.5l-0.2 -0.2l1.2 -2.6l-1.4 -1.2l1.3 -0.5l-0.2 -2.7l0.2 -2.6l-0.2 -0.8l-0.1 -1.0l0.0 -2.2l-1.1 -2.3l0.7 -2.5l0.6 -0.2l-1.6 -4.2l0.9 -1.0l-0.5 -1.0l-0.1 -2.7l0.8 -1.3l-1.8 -1.1l0.8 -2.5l0.6 -0.6l-1.7 -2.3l-0.3 -1.8l-0.1 -2.6l-0.6 -0.6l1.0 -2.0l-0.4 -2.2l-0.4 0.1l-1.0 -4.4l0.5 -1.5l-0.1 -1.1l-1.9 2.9l1.5 -1.0l1.8 -0.8l2.2 -0.9l1.0 -0.7l3.3 0.0l0.9 0.8l1.9 0.3l2.2 -0.2l2.5 0.9l1.0 -1.4l2.6 1.3l0.9 -0.8l2.3 2.1l1.8 0.1l2.0 -0.9l1.4 -1.0l2.4 1.1l1.3 0.6l3.0 -0.3l0.4 -0.2l2.4 0.3l1.6 -1.3l2.7 1.3l1.2 -0.5l2.0 0.2l2.0 1.5l1.7 -1.9l1.5 0.5l2.0 0.6l1.6 -1.2l1.8 2.6l1.9 -1.2l1.4 0.0l1.4 0.0l3.6 1.0l0.9 0.2l3.2 0.8l1.6 -0.4l0.6 0.3l1.1 0.3l2.7 -0.8l2.4 0.6l1.2 -1.0l2.7 0.9l2.0 -0.2l1.6 -0.3l1.1 0.0l2.4 -0.4l2.5 -0.2l0.6 0.1l2.2 -0.8l1.3 0.9l1.8 1.3l2.5 -0.5l-6.4 -5.5l1.3 2.9l0.0 1.4l0.9 2.8l-1.5 -0.5l1.2 3.4l-0.7 0.6l0.7 3.3l0.0 0.5l-1.8 1.7l1.6 3.2l-0.4 0.8l0.1 1.0l0.1 2.3l1.7 1.4l0.6 2.4l-1.1 1.9l1.3 2.3l1.2 1.7l0.5 0.8l0.2 1.2l0.6 3.0l0.0 0.2l0.5 2.8l0.0 2.2l-0.9 1.4l1.2 2.1l0.7 2.4l-0.6 1.0l-1.1 1.6l-1.0 3.1l0.2 1.0l0.2 0.8l-1.2 2.0l-0.2 2.9l-2.0 0.8l0.9 2.5l-0.3 1.9l0.6 1.5l-1.4 2.6l0.0 0.4l0.3 1.9M220.1 389.2l-1.6 1.2l1.0 2.6l0.5 2.0l-1.1 3.1l1.1 1.4l-0.4 1.4l-0.1 0.6l-0.3 3.4l-0.2 0.7l1.3 -0.8l-2.2 0.8l-2.3 0.8l-2.1 -0.1l-0.5 -2.4l-2.4 2.1l-2.6 -1.0l-0.9 1.0l-1.5 -0.4l-1.8 0.3l-2.9 -1.0l-1.6 -0.1l-1.3 1.0l-2.9 -0.2l-0.7 -1.9l-2.4 -0.7l-1.6 0.6l-1.8 -0.6l-3.2 -0.7l-1.0 0.4l-0.6 -0.9l-1.6 -0.6l-3.1 1.6l-1.3 -1.3l-3.5 -0.1l0.1 -0.5l-3.3 1.8l-1.5 -0.4l-1.8 -0.2l-2.2 2.0l-1.8 0.1l-1.9 0.2l-1.7 0.3l-1.6 0.8l-2.7 -0.7l-1.7 1.2l-2.4 0.3l0.7 -0.2l-2.8 -1.3l-1.9 1.5l-3.5 -1.3l-1.4 0.0l-1.7 0.2l-1.9 -1.4l-0.5 0.1l-2.3 -0.6l-1.2 0.5l-2.2 -1.0l-2.2 1.2l-1.7 -1.6l-2.2 0.5l-2.0 0.2l-0.9 -0.7l-2.9 -1.1l2.9 5.5l-1.0 -3.4l-1.4 -1.2l-1.9 -2.4l0.7 -1.9l-0.8 -1.6l1.0 -1.7l-0.4 -2.5l-0.3 -0.4l0.8 -3.1l-1.5 -1.4l-0.1 -1.6l1.1 -1.1l-0.8 -2.7l1.8 -1.5l-0.3 -1.4l-0.5 -2.4l0.3 -2.4l-0.4 -0.1l-0.1 -2.0l1.7 -3.2l-0.1 -1.9l0.3 -0.9l1.9 -1.1l-0.8 -2.5l1.6 -1.5l-0.5 -1.1l-0.2 -2.9l1.4 -0.9l-1.0 -2.5l-0.3 -2.0l0.9 -1.4l-0.7 -1.4l0.5 -2.4l-1.0 -1.3l1.4 -2.6l-2.3 -1.8l0.0 -1.2l-0.5 -1.4l0.2 -3.2l-0.3 -2.1l-1.5 0.2l-0.2 -3.3l1.6 -1.0l-0.6 -1.0l-0.2 -1.6l-0.2 -1.9l-0.5 -2.1l1.3 -2.6l-1.1 -0.9l-1.2 -2.1l0.0 -2.7l0.5 -1.3l1.0 -0.9l0.4 -1.6l-1.0 -0.7l2.0 0.3l2.1 -1.2l2.3 0.0l1.1 0.1l1.3 -0.5l3.2 0.9l1.9 -0.4l1.6 0.3l2.1 -0.1l1.2 0.3l1.5 0.6l3.1 1.5l1.0 0.0l2.1 -0.3l1.6 0.9l1.6 -0.6l1.5 1.5l3.7 0.6l-0.3 0.2l3.1 -1.0l1.1 0.2l2.2 0.0l3.9 -2.4l-0.5 1.3l3.1 -0.7l0.4 -0.2l3.0 -0.4l1.6 -2.1l2.1 0.8l0.2 0.1l3.0 -0.7l1.3 0.2l1.8 0.7l2.3 -0.5l2.1 0.0l1.5 0.5l1.9 -0.3l1.2 0.1l2.5 -0.1l1.6 0.0l2.2 -1.4l2.2 1.4l0.9 -0.1l2.6 -0.4l1.2 0.7l2.9 2.1l0.8 -0.3l2.3 1.1l2.5 0.9l0.3 1.2l3.5 0.4l0.3 0.9l2.1 0.2l3.1 2.0M122.2 386.7l-1.5 -1.0l0.2 -1.5l0.5 -2.8l-0.1 -1.1l1.5 -2.1l0.2 -1.2l1.3 -2.5l0.6 -1.1l1.3 -2.4l-0.4 -1.8l1.5 -1.2l-0.6 -2.2l-0.1 -1.9l0.8 -0.6l-0.2 -3.0l1.0 -1.6l-2.5 -0.4l-0.6 -3.2l0.5 -1.5l-1.2 -1.8l-0.7 -1.2l-0.6 -2.3l-0.1 -2.0l0.1 -0.6l-2.0 -2.9l1.1 -1.2l-0.1 -2.7l1.3 -1.5l-0.6 -2.0l-0.3 -1.3l1.8 -1.7l-0.2 -2.7l0.6 -0.8l0.3 -1.2l0.5 -2.6l-0.1 -1.6l0.3 -2.5l-0.4 -0.9l0.3 -1.4l-0.9 -2.2l-1.7 -1.9l1.3 -2.5l0.7 -0.8l0.1 -2.9l-4.1 3.2l2.1 -0.3l1.8 -0.9l0.6 0.3l3.4 -1.5l1.8 0.6l1.8 -0.4l1.6 2.3l2.3 -0.6l1.0 0.2l1.7 -0.5l2.3 1.8l2.1 -0.4l2.4 0.9l0.6 -0.7l1.8 1.3l2.2 -1.5l1.0 0.6l2.7 0.7l1.9 -1.2l1.6 -1.2l2.3 -0.4l2.3 -0.4l0.7 0.3l3.8 -1.7l0.5 0.8l1.4 -1.2l0.7 0.3l3.7 -1.3l1.7 1.5l2.4 0.7l3.0 -0.1l1.0 0.7l0.7 0.2l2.5 0.1l2.0 1.2l1.6 1.1l1.5 -0.7l3.1 1.0l2.0 1.1l0.3 -0.8l2.2 0.6l1.9 -0.7l2.7 -0.2l1.2 0.5l1.7 -0.9l2.2 0.4l1.9 -1.2l1.6 -0.5l2.7 -0.4l1.1 -0.2l1.6 -1.6l0.9 2.0l3.6 -0.6l0.0 1.1l-2.2 -2.3l1.2 1.6l-0.8 2.0l0.6 1.3l-1.5 1.7l-0.1 2.2l0.4 2.5l-0.5 0.4l-0.4 3.6l-0.1 0.2l-0.9 1.5l-0.6 2.4l1.0 1.5l-0.4 2.5l0.4 1.2l0.8 2.6l-0.1 0.5l-0.3 3.1l1.6 1.5l-1.9 1.2l0.8 2.9l1.0 1.1l-0.6 2.4l1.6 0.9l-0.5 2.4l-0.5 1.8l-0.2 0.1l-0.5 3.5l0.4 0.7l-1.3 2.2l0.9 2.2l-1.3 1.3l1.0 1.3l-1.6 2.8l2.2 1.2l-0.1 2.0l0.3 1.9l-0.3 1.5l0.3 1.3l1.5 2.4l-1.8 2.3l1.1 1.5l-0.5 1.2l0.6 1.9l0.6 1.8l-0.9 1.5l0.6 2.4l0.1 2.2l-0.4 1.4l-1.7 1.6l1.1 1.5l-0.3 1.3l-1.3 2.3l0.3 3.1l-2.1 0.0l5.5 -6.8l-2.2 2.6l-2.0 0.7l-1.3 -0.1l-2.0 1.2l-1.8 -0.1l-2.3 0.9l-2.3 0.9l-0.8 -0.3l-3.6 0.0l0.0 1.7l-2.0 -1.1l-2.1 1.6l-2.2 0.0l-1.3 -0.1l-1.7 0.4l-3.0 -0.5l-1.1 -1.0l-2.4 -1.6l-2.4 1.1l-0.5 -1.4l-1.0 -0.5l-3.5 0.0l-0.8 -1.4l-1.9 -1.7l-2.1 0.6l-2.1 -0.9l-2.8 0.3l-0.3 -0.1l-1.3 2.1l-2.4 -0.4l-1.6 0.5l-2.4 1.7l-1.9 -0.1l-1.8 1.0l-2.2 1.1l-0.7 0.3l-3.2 0.4l-1.4 1.0M168.8 399.2l-1.1 -0.2l-2.3 0.8l-1.4 1.1l-1.6 -0.6l-2.5 0.6l-2.2 0.3l-0.5 0.0l-3.5 2.7l-1.6 -0.8l-2.4 1.2l-0.9 -0.2l-1.8 1.0l-1.9 0.2l-2.1 -0.6l-1.6 -0.4l-2.8 1.3l-2.0 -0.6l-0.5 0.6l-1.7 -1.4l-1.6 0.0l-2.7 0.0l-2.1 0.7l-1.4 -0.1l-1.7 0.2l-1.4 0.0l-2.7 -2.2l1.0 1.1l0.4 -1.7l-0.5 -0.7l0.0 -2.9l0.6 -1.3l0.5 -2.4l0.7 -0.9l0.3 -2.5l0.4 -1.9l1.5 -1.4l0.2 -1.5l1.8 -2.3l-1.7 -1.6l0.9 -1.2l2.3 -2.3l-0.5 -1.7l0.3 -2.2l0.1 -1.0l-0.2 -2.2l-0.6 -1.4l-0.8 -3.0l-0.8 -0.3l-1.3 -2.9l-3.0 -1.6l1.6 -1.1l-1.5 -2.3l-1.5 -1.5l-1.3 -2.2l1.1 -1.1l-1.2 -2.4l1.5 -2.2l-1.8 -0.8l0.6 -2.6l-0.2 -2.4l1.0 -0.7l-1.4 -2.8l2.1 -1.4l0.9 -1.4l1.3 -1.1l-0.2 -2.4l1.1 -3.0l1.1 -1.5l0.2 -1.7l0.3 -0.7l-0.4 -1.3l1.2 -2.6l-1.2 -2.1l0.3 -1.9l-0.8 -1.7l-0.6 -0.4l-0.7 -2.6l0.0 -0.5l-0.3 -3.0l0.7 -1.5l-2.5 2.9l1.7 -0.2l2.0 -1.6l1.5 -0.9l1.2 0.9l2.2 1.3l1.8 -1.0l1.8 1.4l2.1 0.7l1.1 -0.2l1.4 1.8l3.2 -0.1l0.8 0.6l3.2 -1.1l-0.1 -0.4l3.3 0.5l1.4 -0.5l2.0 -0.5l1.2 -1.3l2.7 -1.2l1.3 -0.9l1.4 0.0l2.8 -0.9l1.7 -0.5l1.7 -1.4l2.6 0.3l1.8 2.1l0.9 -2.0l3.1 0.3l1.5 0.4l1.0 -0.2l1.7 0.4l2.0 0.5l1.6 0.9l3.3 0.8l1.5 1.1l0.8 0.0l2.3 0.1l1.2 0.3l4.2 1.5l-0.6 -0.1l2.2 -0.7l2.6 0.1l0.7 1.3l1.5 -1.0l3.6 -0.5l1.5 -0.1l2.4 0.0l1.6 0.1l1.3 1.1M218.3 346.7l-2.3 3.4l0.8 1.4l-0.9 1.6l-0.5 1.7l0.0 1.2l-1.1 2.3l0.2 2.3l0.6 1.4l0.2 1.2l0.7 3.1l0.5 0.8l0.5 1.1l0.6 1.8l0.2 3.3l0.6 0.4l-0.1 2.0l-0.4 2.3l0.0 2.2l0.6 1.7l0.3 0.7l-0.7 1.9l1.0 2.8l-0.5 0.0l0.2 2.7l-1.4 3.1l-0.3 0.0l1.1 1.9l-0.3 2.6l-0.6 1.4l-1.3 1.9l-0.5 0.5l-1.8 2.2l6.9 -5.3l-1.4 0.5l-2.4 0.7l-1.3 0.5l-1.3 1.8l-1.2 0.3l-3.6 0.2l-1.5 0.5l-1.9 -1.0l-2.3 0.9l-1.4 -0.4l-2.0 2.1l-1.5 -1.1l-2.2 0.6l-2.0 -0.8l-1.7 0.1l-1.0 0.7l-2.1 -1.5l-1.3 1.2l-2.8 -0.7l-2.3 0.2l-1.4 -0.3l-0.2 -1.4l-4.0 0.4l-1.3 -1.1l-2.1 0.7l-1.7 0.4l-0.6 -1.8l-2.6 0.5l-2.1 0.2l-2.7 -1.6l-2.0 1.5l-1.7 -0.6l-1.2 0.1l-2.4 -0.1l-1.6 1.9l-1.2 -1.3l-2.4 0.5l-1.9 -0.2l-1.1 0.6l-1.9 -0.2l-1.6 0.4l-2.7 1.1l-1.1 -1.5l-2.5 -0.3l-1.2 1.5l-1.8 -0.3l-2.9 0.3l-1.6 0.6l-1.5 -0.6l-2.0 -1.1l-2.8 0.7l-0.6 -0.1l-2.4 -1.7l-2.2 0.8l4.5 3.8l-0.3 -2.1l-0.8 -1.5l0.0 -3.4l0.5 -0.4M217.0 401.1l-1.9 1.6l-0.5 -0.3l-2.9 1.1l-2.7 1.1l-1.6 -0.8l-1.7 1.9l-3.2 -0.3l0.2 -0.8l-3.2 1.0l-1.1 -0.3l-1.6 0.1l-1.0 0.7l-4.0 -0.4l-1.5 1.1l-1.7 -1.3l-0.5 0.1l-2.6 0.6l-2.3 -1.0l-2.5 0.4l-1.0 -2.1l-1.6 1.0l-2.2 -0.1l-0.2 -1.7l-2.9 -0.6l-2.5 -0.9l-1.6 0.3l-2.1 -0.5l-1.8 -0.3l-1.7 -0.9l-2.3 3.1l-2.1 -1.7l-0.9 0.0l-0.6 0.5l-2.7 0.0l-1.6 0.6l-3.6 0.0l-0.9 1.3l-1.2 0.6l-1.8 -0.4l-2.0 1.1l-3.1 0.2l-0.5 0.4l-3.0 0.7l-2.0 -0.3l-1.4 1.4l-1.8 -0.9l-1.3 -1.5l-2.6 0.9l-0.6 1.2l-2.5 -3.2l-2.7 1.7l-0.9 -1.8l1.1 0.2l0.4 -1.7l-1.7 -0.8l1.2 -2.0l-1.3 -1.0l0.1 -2.3l0.6 -2.1l-0.3 -1.3l2.0 -2.5l-0.7 -1.5l0.6 -2.2l-0.2 -1.2l0.5 -3.2l-0.1 -0.9l0.0 -1.8l1.4 -1.6l0.6 -2.4l0.0 -0.8l0.5 -2.4l1.5 -0.7l-0.2 -1.8l-0.1 -2.9l1.1 -1.4l0.9 -2.3l-0.2 -0.8l-0.2 -2.7l0.2 -1.2l0.8 -1.7l0.8 -1.7l-0.2 -2.0l-1.1 -1.9l0.2 -1.4l-0.2 -1.6l-0.9 -2.1l-0.2 -1.3l-1.0 -3.0l0.2 -1.3l-2.2 -1.2l-0.3 -2.7l-0.5 -1.7l-0.3 -1.7l-0.3 -2.1l-1.1 -0.8l-0.5 -1.8l0.4 -1.3l-1.1 -2.9l0.8 -0.9l1.1 -1.6l-1.2 -2.1l-0.1 -1.1l1.5 -2.7l-0.4 -1.3l-0.1 -2.6l1.9 -1.3l-0.9 -1.1l-1.7 3.4l2.4 -1.3l0.4 0.8l2.3 -0.7l3.1 0.2l0.3 1.4l1.4 -1.2l2.6 -0.2l2.4 -0.1M186.4 405.0l-1.3 0.6l-2.6 -0.1l-1.5 -0.1l-1.7 -0.2l-2.2 0.2l-0.7 1.1l-1.8 -1.8l-3.4 0.0l-1.5 0.8l-1.8 1.5l-1.9 0.0l-1.1 -1.5l-1.7 0.1l-3.0 -0.4l-1.8 0.3l-1.0 -1.1l-3.0 -1.5l-1.3 0.5l-1.6 -2.0l-1.4 0.8l-2.1 -0.6l-1.6 0.8l-2.1 -0.5l-1.2 1.3l-3.8 0.0l-2.0 0.3l-0.3 -0.8l-2.1 1.1l-0.5 0.4l-2.9 1.5l-2.0 -0.4l-1.9 0.5l-3.8 0.3l-0.6 -1.4l-1.2 0.2l1.4 0.8l-0.7 -1.7l-0.1 -1.7l0.2 -3.3l-0.5 -0.5l-0.5 -2.2l3.2 -1.5l-1.1 -0.6l-0.7 -3.5l0.6 -1.2l0.5 -2.1l-1.0 -0.7l-0.6 -1.5l0.2 -2.9l-1.2 -1.3l-0.3 -2.1l0.3 -1.4l-1.2 -2.6l0.3 -1.3l-0.7 -2.3l0.4 -1.9l-0.5 -1.8l1.2 -1.9l-0.6 0.1l-0.6 -2.6l0.1 -3.3l0.3 -0.9l1.2 -1.4l-1.1 -2.2l0.7 -1.9l0.6 -1.0l0.1 -2.5l1.4 -0.8l-0.3 -2.5l-0.1 -2.2l0.5 -2.6l-0.1 -0.4l-0.4 -3.3l0.4 0.8l0.3 -2.0l-0.2 -2.6l-0.5 -3.5l0.2 0.0l-0.5 -2.1l0.3 -2.5l-1.2 -1.3l-0.1 -1.4l0.1 -2.5l0.5 -2.3l0.4 0.2l0.7 -2.3l-0.7 -2.3l1.1 -1.9l-0.7 -0.8l1.1 -2.0l-3.3 2.8l3.1 -2.0l2.1 -0.2l0.8 0.7l1.6 -0.3l2.2 -1.8l2.2 0.1l1.3 -0.3l1.7 -0.3l1.8 -0.2l2.1 -0.7l1.8 0.9l1.6 -0.2l2.9 0.3l0.8 0.2l3.3 0.2l1.7 -1.7l1.0 1.1l1.5 0.0l2.1 -0.1l3.3 1.8l0.2 -0.7l2.4 0.9l1.4 1.0l2.5 -0.4M125.0 337.8l-1.0 -2.3l0.0 -1.6l0.6 -3.0l-0.4 -0.9l0.0 -1.7l-0.5 -2.5l0.2 0.3l-0.3 -2.4l-0.6 -3.1l-0.8 -0.9l0.4 -1.2l-0.8 -2.9l-0.4 -1.6l0.9 -2.8l0.4 -1.7l-0.4 -0.7l0.3 0.5l0.9 0.4l3.4 -1.2l1.2 2.3l1.6 -1.0l1.7 2.4l2.0 0.2l1.1 1.7l1.2 -0.3l3.6 0.1l0.8 1.9l2.9 0.9l1.1 -0.4l2.2 1.6l1.0 -0.6l1.7 -0.4l1.8 0.6l2.7 -2.1l1.6 -0.7l2.7 -0.7l0.9 1.1l2.5 -1.4l0.8 -0.7l2.8 -0.9l1.0 0.9l2.6 -1.4l1.6 -0.7l2.8 1.0l1.1 0.9l1.3 -0.5l1.3 -0.1l2.5 -0.3l1.8 0.0l0.9 0.0l2.5 0.8l2.0 0.0l2.0 0.1l2.7 -0.1l0.6 -0.2l2.3 0.5l1.5 -1.2l2.4 0.2l1.4 -0.9l2.9 0.5l0.7 -0.6l2.0 -0.6l1.4 -1.3l3.7 0.3l0.9 0.1l2.1 -0.9l2.5 0.7l-0.1 -0.4l2.5 2.0l1.6 0.8l-1.6 -3.0l0.0 0.8l0.0 1.9l0.4 1.0l-1.0 3.4l0.0 1.1l-1.0 3.2l-0.4 0.9l0.4 2.9l-2.1 0.3M195.5 311.0l2.4 1.0l1.6 -0.2l2.8 0.4l1.7 -0.6l1.9 1.3l1.8 -0.3l1.7 0.1l2.3 -1.1l0.9 -0.3l3.1 0.0l1.2 0.6l1.8 -0.6l2.8 1.7l-3.9 -3.8l1.3 2.7l0.9 0.4l2.3 1.6l-1.4 2.5l-0.3 2.4l1.1 1.3l-0.5 1.6l-0.8 2.0l0.4 3.1l0.0 0.7l-0.6 0.9l-1.4 2.0l-0.1 2.4l-0.7 0.0l1.2 2.7l-1.5 2.3l0.1 1.3l0.3 2.7l-0.5 1.7l0.7 1.7l-0.7 1.4l0.2 1.4l0.1 1.6l1.2 2.4l-0.2 2.0l0.1 1.7l0.2 1.4l-0.4 1.4l1.3 1.5l-1.3 3.7l0.5 0.3l0.2 2.4l-0.3 2.0l-0.6 1.5l0.5 1.6l-0.5 2.5l0.5 1.4l-0.9 1.6l0.2 1.4l0.0 2.1l-0.4 1.5l-0.3 2.3l0.6 2.2l0.4 0.9l0.0 2.0l-0.4 1.4l0.6 2.0l0.7 2.0l0.7 3.6l0.7 -0.1l-0.2 2.1l-0.3 1.1l-1.2 2.8l0.4 2.5l1.6 -2.4l-3.1 0.6l-1.0 0.0l-2.8 0.8l-1.8 -2.1l-1.6 0.2l-1.8 -0.1l-0.8 -1.0l-3.7 -1.5l-1.1 -1.0l-1.5 1.4l-2.1 -0.3l-2.0 -1.5l-1.9 0.3l-2.4 0.6l-1.7 -0.4l-0.9 0.2l-1.8 1.4l-2.9 -0.8l-1.5 2.6l-2.4 -2.4l-1.1 1.1l-2.9 1.0l-0.5 1.0l-3.7 0.8l-0.8 -1.7l-2.3 1.3M137.5 308.9l0.9 0.0l2.0 0.2l2.7 -0.8l1.7 0.4l0.3 -1.1l2.8 -0.3l0.6 1.6l3.8 0.6l0.2 -1.5l1.8 1.0l2.4 0.7l2.3 -0.4l2.8 -1.6l1.8 0.2l0.7 -0.4l1.2 1.5l2.1 -1.1l2.1 0.6l1.4 0.5l2.7 -1.3l1.4 1.1l1.6 -1.0l3.0 0.6l2.1 -1.3l1.3 0.8l1.1 1.1l1.7 -0.2l2.3 0.9l1.8 1.1l2.8 1.0l2.0 -0.1l1.3 0.9l0.9 -0.5l3.0 1.0l0.8 -0.6l1.4 -0.5l1.8 0.3l3.4 -0.9l0.8 -0.9l2.7 1.1l1.9 -1.1l1.7 0.2l1.8 -0.1l1.3 -1.1l2.4 2.1l-2.5 -2.9l0.1 1.9l0.7 1.2l0.3 2.1l-1.5 2.0l1.0 1.5l-1.2 3.1l-1.1 0.3l0.5 2.1l-1.3 1.5l1.0 0.8l-0.9 2.2l-0.7 1.4l0.3 3.0l0.2 1.5l0.9 1.9l-0.8 2.0l1.2 1.9l1.6 0.8l0.0 3.2l-0.6 1.3l1.9 1.6l0.0 1.6l0.3 2.9l0.9 1.2l-0.8 0.7l-0.2 2.4l1.0 1.3l-1.2 1.5l0.0 2.8l-0.3 1.5l-0.6 0.6l-0.5 3.0l-0.5 2.6l0.2 1.0l-0.2 2.3l0.3 0.8l0.3 3.0l0.5 0.6l-0.2 2.2l1.4 0.8l0.8 3.7l0.0 0.7l0.7 1.9l-0.1 2.5l-0.5 1.0l0.8 3.1l0.3 0.4l-0.6 0.8l0.2 2.7l-0.1 2.8l1.0 1.2l-0.6 2.1l-1.4 0.9l0.2 1.8l1.1 -0.4l-3.2 0.1l-0.2 -0.1l-2.7 1.9l-1.9 -0.8l-0.5 -0.2l-3.0 -0.3l-1.8 0.3l-1.9 1.0l-1.4 0.8l-1.2 -0.6l-2.5 -0.3l-2.1 -0.2l-2.1 1.0l-1.6 0.1l-2.3 -0.5l-1.8 0.5l-1.5 -0.5l-2.2 -1.3l-0.6 0.9l-2.3 0.1l-1.9 -0.9l-2.3 0.4l-2.1 0.2l-2.2 0.5l-1.7 1.1l-1.0 -1.5l-2.3 -1.2l-1.6 -0.5l-0.5 1.6l-3.4 -1.6l-2.6 -0.2l0.0 0.4l-3.1 -0.2l-2.0 0.0M159.4 397.9l0.0 -2.7l0.9 -2.2l0.9 -2.6l3.1 -2.8l-0.2 -2.5l2.3 -2.8l1.3 -2.9l1.2 -2.0l-1.4 -2.6l1.9 -3.6l0.7 -2.2l-0.7 -2.9l1.1 -3.2l-0.7 -2.5l0.2 -2.5l-1.4 -2.6l-0.8 -3.1l-0.5 -2.8l1.3 -2.9l-2.0 -2.3l0.1 -3.5l-1.3 -2.9l1.7 -2.3l0.4 -2.5l1.4 -3.4l0.0 -1.7l-1.7 -3.6l0.8 -2.3l3.1 -2.9l-3.2 -2.5M217.4 341.5l-2.5 0.9l-3.1 1.0l-2.9 -1.4l-3.5 -0.2l-2.1 -5.5l-2.4 -1.1l-4.6 0.6l-2.7 0.9l-3.7 1.5l-2.6 1.6l-3.5 -0.1l-2.4 1.0l-3.2 -0.8l-2.8 -2.1l-3.3 -0.4l-1.6 0.6l-3.9 -0.5l-2.2 -0.6l-3.4 -0.2l-3.1 2.6l-3.7 -0.3l-2.2 -1.2l-3.2 -0.6l-3.0 2.0l-3.5 0.3l-2.8 0.9l-3.1 0.9l-3.1 0.1l-3.5 -1.1l-2.9 -2.3M216.6 334.4l-3.1 2.8l-3.0 2.6l-4.4 0.9l-3.0 2.5l-3.5 1.8l-2.9 2.0l-1.0 4.9l-4.5 -0.3l-5.5 0.7l-2.4 2.7l-4.8 0.3l-3.7 -0.1l-3.9 2.0l-4.1 0.5l-3.4 3.8l-4.9 -1.4l-1.8 4.9l-0.2 3.9l-4.5 2.4l-1.7 3.3l-2.9 2.4l-3.9 1.8l-1.9 3.1l-2.7 3.3l-3.7 2.1l-2.5 2.5l-3.4 1.4l-0.8 4.7l-4.1 1.9l-1.2 5.2M217.3 399.5l-4.1 -0.6l-4.3 -0.7l-3.2 -1.7l-2.6 -3.8l-3.5 -1.1l-2.3 -2.5l-1.4 -4.3l-2.8 -3.1l-4.4 0.5l-4.0 -0.8l-4.3 0.9l-3.4 -1.8l-0.9 -5.4l-1.7 -4.4l-2.9 -3.3l-4.0 0.6l-4.1 -0.5l-3.8 -0.3l-1.5 -4.2l-4.1 -1.8l-3.0 -0.3l-5.5 -0.3l-2.3 -1.7l-3.8 -0.8l-4.0 -2.0l-2.7 -2.9l-3.2 -1.1l-2.3 -2.5l-4.4 0.0l-0.5 -7.1M123.4 372.4l0.9 -1.6l0.7 -2.1l2.4 -1.8l-0.6 -2.7l-0.2 -1.6l-2.6 -2.8l3.9 -1.8l-0.7 -2.3l-2.7 -2.3l0.5 -2.5l1.1 -1.9l2.0 -2.0l1.1 -2.2l-0.5 -1.6l3.3 -1.5l-1.1 -3.0l0.4 -2.6l0.8 -1.5l1.4 -1.5l1.5 -2.3l1.1 -2.7l0.1 -1.7l-1.9 -2.3l2.6 -1.2l-0.1 -1.9l-2.7 -2.8l3.1 -2.4l-2.0 -2.5l0.5 -1.6l2.1 -1.8M122.6 316.5l3.1 0.6l2.0 2.7l2.7 4.3l3.8 -3.1l3.0 2.0l2.7 1.4l3.7 -1.4l2.5 0.1l2.4 3.3l4.8 -2.0l2.8 2.4l2.9 -0.7l2.6 -1.0l2.3 2.0l4.1 2.2l3.1 0.0l2.5 -1.7l3.2 -2.3l3.9 1.6l2.9 2.0l2.8 0.6l2.9 2.5l3.5 -1.0l2.3 0.7l3.7 -1.7l3.0 -1.0l4.0 -1.0l2.6 0.8l2.5 1.6l2.5 1.4M121.2 380.4l1.7 -1.7l0.6 -3.4l0.4 -4.2l3.0 -1.9l1.4 -2.9l1.3 -2.8l0.6 -1.8l1.3 -3.3l3.0 -2.1l2.0 -2.4l1.6 -2.9l2.7 -1.0l1.3 -1.7l2.0 -3.1l0.5 -3.9l2.3 -1.7l1.8 -1.9l3.8 -2.0l3.4 0.0l0.4 -4.5l0.6 -2.1l4.4 -1.4l1.8 -2.0l3.7 0.2l3.5 -1.5l4.0 -1.7l2.3 -1.4l0.6 -3.4l2.4 -2.6l-0.6 -3.5M142.2 403.7l2.5 -2.3l2.8 -2.6l0.5 -3.5l4.6 -1.6l0.9 -3.6l1.4 -3.4l0.2 -3.1l2.1 -3.0l0.0 -4.1l2.1 -1.9l-0.5 -4.5l1.3 -3.0l1.4 -3.0l1.0 -3.3l3.0 -3.0l1.5 -3.4l-0.9 -3.2l2.7 -2.4l2.9 -3.6l0.0 -3.7l2.1 -2.2l-0.3 -4.0l1.5 -3.5l2.3 -2.2l0.9 -3.0l-1.1 -4.4l0.2 -3.4l2.6 -2.1l0.6 -3.9l1.6 -3.6M184.4 316.9l3.4 1.2l-2.9 3.4l1.8 3.7l1.2 1.7l2.8 2.3l0.7 2.4l0.9 4.2l-0.3 2.9l-0.2 3.1l0.7 2.3l-1.2 2.8l1.6 2.9l0.3 2.9l-3.2 4.0l0.8 2.1l-2.4 3.2l3.1 2.8l-2.7 2.5l2.8 2.8l1.7 2.8l-2.1 4.4l-0.5 2.1l-3.2 4.0l0.4 2.5l2.6 2.2l0.9 3.0l1.3 2.8l3.2 2.3l-1.2 2.8l2.8 2.8" fill="none" stroke="#74326f" stroke-width="0.7" stroke-linejoin="round"/>
<rect x="139.44" y="324.74" width="63.72" height="63.72" stroke="#e2622c" stroke-width="1.4" fill="none"/>
<line x1="232.8" y1="303.5" x2="232.8" y2="409.7" stroke="#a9d27a" stroke-width="1"/>
<line x1="232.8" y1="303.5" x2="339" y2="303.5" stroke="#a9d27a" stroke-width="1"/>
<line x1="254.04" y1="303.5" x2="254.04" y2="409.7" stroke="#a9d27a" stroke-width="1"/>
<line x1="232.8" y1="324.74" x2="339" y2="324.74" stroke="#a9d27a" stroke-width="1"/>
<line x1="275.28" y1="303.5" x2="275.28" y2="409.7" stroke="#a9d27a" stroke-width="1"/>
<line x1="232.8" y1="345.98" x2="339" y2="345.98" stroke="#a9d27a" stroke-width="1"/>
<line x1="296.52" y1="303.5" x2="296.52" y2="409.7" stroke="#a9d27a" stroke-width="1"/>
<line x1="232.8" y1="367.22" x2="339" y2="367.22" stroke="#a9d27a" stroke-width="1"/>
<line x1="317.76" y1="303.5" x2="317.76" y2="409.7" stroke="#a9d27a" stroke-width="1"/>
<line x1="232.8" y1="388.46" x2="339" y2="388.46" stroke="#a9d27a" stroke-width="1"/>
<line x1="339" y1="303.5" x2="339" y2="409.7" stroke="#a9d27a" stroke-width="1"/>
<line x1="232.8" y1="409.7" x2="339" y2="409.7" stroke="#a9d27a" stroke-width="1"/>
<path d="M327.1 310.5l0.9 0.4l1.8 0.4l1.7 0.3l1.4 0.1l2.1 0.8l-2.7 -1.8l-0.2 0.8l0.8 1.8l-1.0 3.2l1.2 1.4l-0.9 0.9l0.0 2.6l-0.1 1.7l1.7 0.8l-1.3 1.9l1.1 2.1l-1.4 1.2l0.7 2.0l0.3 1.5l0.8 2.2l-2.2 1.9l1.1 2.0l2.1 1.3l-1.1 2.5l0.7 0.6l-1.0 3.1l-0.2 0.1l0.7 3.7l-0.3 0.8l-0.1 2.3l-0.2 1.7l0.9 2.0l-0.4 1.7l0.0 2.0l-0.9 2.2l-0.1 1.1l0.5 2.0l-0.4 0.9l-1.2 2.4l1.3 1.0l0.0 1.6l-0.5 2.8l0.4 2.4l-1.4 1.6l2.2 0.8l-1.4 2.0l0.1 2.2l-0.4 0.6l1.6 2.1l0.1 2.0l-1.7 2.1l1.2 2.7l0.2 -0.5l0.8 3.1l0.3 1.5l-0.8 2.2l-0.2 1.6l1.4 1.5l0.0 2.9l-0.1 -0.8l-1.2 0.5l-2.2 0.3l-2.6 0.3l-1.9 0.6l0.8 0.3l-2.6 -1.9l-1.1 1.6l-3.1 -0.4l-1.4 0.4l-0.2 -0.8l-3.2 -0.7l-1.4 1.3l-1.6 -0.2l-1.6 -0.8l-1.6 1.1l-1.4 -0.4M257.0 311.1l2.0 -0.9l1.9 0.6l2.0 2.5l1.6 -1.0l1.9 0.1l1.2 0.2l3.1 -0.5l0.3 0.4l2.0 1.0l2.9 -1.2l-0.1 -0.5l2.2 0.5l2.4 -1.0l1.1 -0.3l1.7 0.1l1.2 -0.8l0.8 -0.3l3.0 -0.3l1.0 0.2l3.0 0.5l0.4 -0.6l1.7 -0.1l2.1 0.4l2.0 1.2l0.9 -1.2l1.6 0.0l2.0 -0.2l1.3 1.1l2.4 0.0l2.2 -0.2l1.6 0.3l0.3 0.7l4.0 -1.3l-0.5 1.1l2.1 -0.6l2.2 -0.2l1.5 -0.4l3.0 0.1l-0.3 -0.2l2.9 -0.2l1.4 0.2l1.0 -0.1l2.9 -1.0l1.7 1.1l1.5 -0.6l2.5 0.8l-3.5 0.4l2.5 1.7l-0.4 1.6l-0.6 -0.1l0.1 3.3l-0.7 1.8l0.4 1.7l-0.2 3.0l0.3 1.9l-1.6 1.3l1.0 2.3l-1.2 0.9l0.8 1.2l-1.6 1.8l-0.2 2.3l0.9 1.5l0.3 0.5l-0.6 3.2l1.0 2.6l0.1 0.7l-1.0 0.3l0.0 2.1l0.5 3.1l-1.4 1.8l0.6 1.5l-0.6 1.9l-0.1 1.9l1.9 1.8l-1.0 1.3l-0.2 1.2l0.1 3.2l1.0 0.4l0.8 3.2l0.8 1.6l-0.5 1.5l1.8 2.1l-0.8 1.2l1.0 1.7l-1.4 1.8l-0.4 1.3l0.6 2.2l-0.2 1.3l0.3 3.1l0.1 1.5l-0.3 0.7l0.9 2.8l-1.0 2.2l-0.3 2.2l-0.6 1.6l-0.9 0.8l-0.8 1.7l1.0 2.1l-1.2 1.7l-1.4 1.5l5.2 -5.6l-1.5 1.5l-2.3 1.3l-1.8 0.1l-1.5 -0.1l-3.0 -1.0l-0.2 1.7l-2.4 -1.2l-2.7 0.4l-0.2 0.1l-0.7 1.9l-3.3 0.3l-2.6 0.7l-1.0 0.2l-1.3 0.7l-1.2 0.0l-2.4 0.0l-2.0 0.8l-0.7 -1.5l-3.3 1.3l-0.4 0.7l-2.5 -1.4l-1.5 0.5l-1.1 0.3l-1.9 0.4l-2.6 -1.0l-1.0 -1.2l-1.1 2.6l-1.6 -1.0l-1.4 -0.8l-2.8 -0.1l-1.5 -0.3l-0.4 0.3l-2.7 0.3l-1.6 -0.7l-2.3 0.4l-2.3 -0.2l-0.2 0.1l-2.6 0.2l-0.3 -0.1l-2.4 0.5l-1.3 -1.5l-2.1 -0.4l-1.8 -0.4l-1.8 0.3l-1.2 -0.8l-2.1 -0.4l-1.2 -1.0l-2.1 -0.2l-1.7 1.9l-1.7 -1.4l-1.4 0.7l-1.0 -0.5l-2.2 -1.3l-2.2 1.3l3.6 4.4l-0.6 -1.5l-1.0 -3.0l-1.3 -2.3l0.5 -0.7l-2.0 -2.4l0.8 -0.9l-0.5 -1.8l-0.9 -2.0M246.0 397.5l-0.4 -1.9l0.2 -2.2l-0.2 -1.3l-0.8 -2.3l-0.9 -0.9l-0.9 -2.0l-2.0 -3.3l1.1 -0.4l0.2 -2.9l0.7 -1.5l-1.0 -1.9l-0.1 -1.6l0.8 -1.1l-2.2 -0.6l1.5 -3.3l0.1 -1.4l0.9 -1.6l0.3 -1.6l-0.2 -2.3l1.5 -2.1l-1.7 -2.9l1.3 -1.6l0.2 -1.0l-0.7 -1.8l0.0 -1.2l0.1 -3.3l-0.2 -0.9l0.2 -1.9l-2.1 -1.9l0.8 -1.2l-0.6 -2.3l-0.1 -0.3l0.7 -2.9l-0.1 -1.4l-0.1 -1.7l0.7 -1.9l-0.6 -2.2l0.5 -1.5l-0.2 -2.1l0.3 -1.9l0.3 -1.8l-0.2 0.0l1.0 -2.9l0.5 -1.3l-0.2 -2.8l-0.8 -1.9l2.4 -1.2l-0.3 -1.7l0.0 -1.8l-3.3 3.2l3.2 -1.2l1.8 0.3l0.4 -1.6l1.5 -0.4l3.2 0.3l-0.3 -0.1l2.8 -1.8l2.1 0.8l0.5 -0.3l1.7 -0.4l2.5 -0.2l1.0 0.4l2.6 0.9l2.0 0.2l0.8 -0.8l1.2 1.2l2.9 -0.2l0.6 -0.7l2.1 1.4l1.3 -1.8l2.5 0.2l1.1 -0.2l1.8 -1.1l2.6 0.9l0.9 0.6l0.9 -1.3l3.4 0.7l1.0 -0.6l2.4 0.6l1.1 0.0l2.2 -1.0l0.6 -0.3l2.2 0.5l1.9 -0.8l2.7 1.0l0.9 -1.0l2.1 1.7l0.1 1.2l2.8 0.0l1.1 0.6l2.6 0.8l1.2 0.1l0.9 -0.3l2.3 0.5l2.3 0.7l1.5 -0.5l0.6 1.0l2.6 -2.6l1.6 0.7l1.5 -0.9l2.1 0.3l1.6 0.3l1.1 0.1l2.0 1.0l0.4 -2.8l0.0 2.4l-0.7 2.0l1.3 0.3l0.4 3.5l0.4 1.5l-0.6 1.0l-0.5 2.4l0.6 1.2l-0.5 2.8l1.1 2.7l-0.3 0.0l-1.3 2.4l0.7 1.3l0.1 2.8l-0.5 1.5l0.7 1.5l0.2 1.0l-2.0 1.5l1.3 3.3l0.0 0.8l0.2 2.0l-0.7 1.5l-0.5 2.9l-1.8 0.5l1.1 1.9l0.0 2.5l0.5 0.3l-0.9 3.0l0.1 1.3l-0.3 2.0l1.3 1.9l-0.5 1.9l-1.4 0.8l0.1 1.3l2.1 3.1l-1.0 0.7M245.7 374.3l0.6 -2.2l-0.1 -2.1l-1.2 -2.5l0.6 -1.1l0.1 -3.0l1.1 -0.8l-2.7 -2.1l1.1 -2.1l1.3 -0.9l-0.3 -2.0l-1.6 -2.0l2.3 -1.9l-1.9 -1.6l0.4 -2.3l1.0 -1.1l0.0 -2.4l-2.0 -2.2l0.5 -0.5l0.1 -2.7l-0.7 -0.4l-0.6 -3.9l0.2 -0.2l-1.8 -2.2l1.1 -1.7l-0.9 -1.3l1.0 -2.7l-1.1 -0.6l0.7 -1.4l-1.1 -2.6l0.9 -2.8l0.3 -0.9l0.1 -2.0l0.4 -1.9l-0.2 -1.7l0.2 -2.7l0.2 -0.4l1.4 2.2l1.0 -1.2l2.4 0.3l-0.9 -1.1l2.8 0.9l2.1 1.2l0.8 0.6l2.8 -2.2l2.3 0.0l0.4 1.2l2.1 -0.5l2.2 0.1l2.6 -0.3l0.0 -0.4l3.0 0.3l-0.2 -0.1l2.6 -0.9l3.1 -0.1l-0.2 0.9l2.2 -1.1l2.0 0.7l1.0 -0.8l2.2 0.2l1.6 0.3l0.4 1.1l3.3 -1.2l1.1 0.3l3.3 0.2l1.0 -1.7l0.9 0.5l1.8 0.3l3.6 0.3l0.5 -0.6l1.1 0.1l2.5 -1.2l1.4 1.1l1.7 0.0l1.5 -1.6l2.0 2.3l1.7 -1.7l1.8 0.2l0.5 0.8l2.6 -0.8l1.0 0.2M249.2 312.1l0.0 -0.4l2.8 0.8l1.4 -0.7l1.1 0.8l2.5 -0.8l1.7 -0.7l1.6 1.2l1.2 -0.3l2.4 1.1l0.6 -0.9l2.3 1.4l2.0 -1.2l1.9 0.1l2.1 -0.2l1.9 0.8l1.2 1.2l2.1 -1.2l0.6 0.2l1.6 -0.2l2.1 -0.4l1.8 0.6l1.7 0.6l1.7 -0.7l0.8 0.7l3.5 -0.5l-0.2 0.6l2.9 -0.6l0.8 -0.3l2.8 -1.2l1.1 1.6l2.0 0.1l2.8 -0.5l0.9 -0.5l2.0 0.8l1.6 -1.2l1.6 0.7l1.9 0.0l0.7 -1.3l1.8 0.8l2.0 0.6l2.7 -0.3l0.8 -0.2l1.3 -0.9l1.8 0.4l2.4 0.2l1.5 -0.6l1.3 1.3l1.0 -0.6l2.6 -0.9l1.5 1.4l1.8 0.3l-4.0 -2.8l0.0 1.7l0.9 0.6l0.8 2.6l-1.0 2.2l0.5 1.3l0.3 1.8l0.8 2.8l-0.3 1.9l-0.6 0.8l-0.5 2.3l-0.6 1.1l0.7 2.5l-0.1 2.4l1.1 1.5l-0.7 0.8l0.2 2.9l0.3 0.7l-0.7 1.9l0.5 2.2l0.5 1.9l-0.8 0.3l0.9 1.7l-1.5 3.7l-0.8 1.9l0.4 0.9l0.9 1.8l-0.4 2.5l-1.2 0.8l-1.0 2.6l0.1 1.1l-0.3 2.6l0.9 1.5l-2.2 2.5l1.7 0.0l0.3 3.0l-1.0 0.3l0.2 1.9l-0.5 3.8l0.8 0.9l-0.2 1.0l0.4 3.3l0.1 1.3M243.9 349.0l0.0 -2.3l-1.1 -1.5l1.3 -2.1l0.1 -2.3l0.1 -1.3l-0.4 -1.1l0.7 -1.8l-1.6 -4.0l1.3 -0.9l-0.5 -1.3l-0.2 -2.1l-0.2 -1.4l-0.5 -2.2l0.8 -1.6l-0.3 -2.0l1.0 -1.3l-1.5 -1.0l0.6 -3.2l0.1 -1.7l0.8 -2.1l0.7 -0.9l-0.5 -3.5l-1.0 3.4l2.4 0.5l0.8 -1.1l1.9 0.1l2.5 -0.6l1.3 -1.2l2.7 0.1l0.2 0.0l2.7 0.4l1.7 0.2l1.3 -0.8l1.3 0.8l2.4 -0.5l0.6 0.7l1.8 -1.1l1.7 0.6l2.3 0.9l0.8 -0.7l2.1 1.2l2.8 0.0l1.4 -0.7l1.1 0.5l1.4 1.3l2.1 -0.3l1.8 -0.7l2.0 0.0l0.8 1.0l2.0 0.5l1.4 -1.1l1.7 0.7l1.7 0.1l1.8 -0.5l2.1 -1.1l0.7 0.4l1.9 0.3l3.4 -0.5l2.1 0.1l-0.1 1.3l2.1 -1.0l1.0 0.9l2.4 -0.6l2.9 0.6l-0.8 -0.9l2.8 0.8l2.4 0.0l0.9 -0.1l3.3 -1.2l0.4 1.5l2.3 -1.7l1.0 0.1l1.5 -0.5l2.5 -1.1l0.1 -0.1l2.4 1.9l1.9 -0.1l-2.3 1.0l2.4 1.1l-0.5 2.3l0.4 1.4l0.6 2.1l-1.8 1.7l1.6 1.7l0.2 1.6l0.1 2.2l-1.3 2.5l0.3 1.2l-1.4 1.5l0.4 1.5l-0.4 1.2l-1.0 1.4l-0.7 2.3l0.2 3.2l0.1 2.0l-0.5 1.2l0.0 1.0l0.8 2.5l0.6 1.0l-0.3 0.5l0.0 3.8l1.4 2.0l-0.5 0.4l1.1 1.7l-1.2 1.9l-0.1 1.9l0.8 2.4l0.4 1.6l0.6 1.3l0.1 2.5l-0.6 2.5l0.7 1.4l-0.9 0.9l-0.4 2.9l-0.4 0.3l-0.3 0.8l1.1 3.0l-0.5 2.9l-1.5 0.5l2.1 1.4l-0.4 2.6l0.5 0.7l-0.8 2.8l0.3 1.6l-0.4 0.8l0.2 2.3l-0.1 2.4l0.7 1.8l1.0 2.6l-0.6 1.6l-1.8 1.9l1.7 -2.1l-1.1 0.9l-2.1 -0.2l-1.5 1.4l-3.6 -0.5l-1.0 -0.4l0.6 -0.1l-3.5 -0.4l-0.9 -0.4l-0.8 0.5l-2.5 -0.8l-2.3 1.0l-1.6 -0.1l-1.0 0.5l-2.2 -0.3l-1.1 -1.5l-2.6 0.8l-0.8 1.0l-3.2 -0.5l-1.6 0.7l-1.9 -0.5l-0.6 0.8l-1.3 0.1l-2.1 0.7l-1.8 0.6l-2.3 -0.1l-0.4 -1.4l-2.3 1.2l-2.0 -1.1l-1.6 0.4l-2.5 1.3l-1.3 -0.6l-2.1 -0.8l-0.9 1.1l-1.1 -1.4l-1.5 1.3l-3.0 -0.4l-1.3 -0.1l-1.5 0.0l-1.6 0.8l-1.3 -0.2l-1.4 -0.2l-2.2 -0.3l-1.0 -0.1l-2.6 -0.2l-1.4 1.0l-2.0 -1.1l-0.3 0.4l-3.0 -1.8l-1.5 0.7l-3.0 -1.1l-0.5 1.2l-2.0 -2.3l-2.1 -0.6l-1.9 -1.0l4.5 5.1l0.3 -2.8l-0.1 -0.4l-0.7 -3.3l0.2 -0.1l-0.3 -2.9l0.0 -1.6l0.9 -2.2l-2.6 -1.4l0.6 -2.1l-1.0 -1.2l0.4 -3.1l-0.5 -1.8l-0.7 -0.7l-1.1 -1.9l0.2 -1.9l-0.1 -1.1l0.3 -2.3M266.7 405.4l-1.0 -0.6l-0.8 -0.2l-2.2 0.4l-1.5 -1.2l-2.0 -0.2l-1.8 -0.5l-1.3 0.3l-2.6 -1.6l-1.0 1.2l-1.7 -0.4l-2.4 -0.3l-0.9 0.0l-3.9 -0.4l-0.6 0.8l3.5 3.8l-0.2 -2.4l-2.0 -2.1l-0.5 -2.3l-0.4 -1.5l-0.1 -1.5l-0.1 -2.2l-0.4 -0.7l-0.1 -2.1l-1.3 -1.7l0.8 -2.2l0.4 -0.6l-0.4 -3.3l0.3 -0.9l-1.3 -2.7l2.5 -1.3l0.0 -1.2l0.4 -2.7l-0.7 -0.9l1.7 -2.9l-0.5 -0.8l-0.1 -2.6l0.0 -2.5l0.4 -0.1l-0.9 -2.6l0.9 -1.2l0.7 -2.6l-0.1 -0.6l-1.6 -2.7l0.2 -1.7l-0.3 -2.5l1.1 -1.5l-0.9 -1.3l0.2 -2.0l-0.1 -2.2l-0.5 -0.8l-0.2 -2.1l-0.1 -1.8l0.2 -1.8l-0.6 -2.3l0.3 -1.9l0.5 -2.2l-1.2 -0.4l0.7 -3.1l0.3 -0.7l-0.1 -1.0l0.5 -2.3l0.7 -1.4l-0.6 -1.6l0.1 -3.2l-1.1 -0.6l1.2 -2.2l-0.8 -1.8l1.3 -1.9l0.6 -2.1l-1.9 2.9l1.2 -2.0l1.8 -0.3l2.8 0.3l0.2 -0.6l2.0 1.2l1.1 -0.5l3.1 -0.6l1.9 0.3l1.0 0.2l2.3 0.9l1.2 0.7l1.5 -1.6l2.4 -0.1l1.0 1.0l2.3 -1.0l1.3 1.4l0.3 -0.9l2.2 -0.7l3.2 0.6l1.1 0.3l2.3 -0.9l0.7 0.1l1.9 0.6M292.6 309.7l0.6 -2.1l2.8 1.0l0.0 0.8l2.9 -0.1l0.5 -0.7l1.8 0.4l2.1 0.3l1.1 0.9l1.9 0.7l2.3 -1.4l2.3 0.2l1.9 0.2l1.6 1.2l0.7 -1.1l2.0 0.8l2.1 0.4l1.3 -1.3l2.0 0.5l0.9 1.7l2.8 -1.6l1.9 0.2l0.3 0.0l2.0 -0.2l2.9 1.0l0.7 1.7l-2.5 -4.0l0.6 2.0l1.2 1.7l0.4 1.2l0.0 2.2l-0.3 1.0l-0.2 3.2l0.7 1.3l-0.8 1.7l0.5 1.8l-0.6 2.5l-0.6 0.9l-0.4 2.1l1.1 1.9l-0.1 2.1l0.0 1.2l0.1 0.7l-0.1 3.0l0.1 1.1l-0.6 2.3l1.1 3.5l-0.1 0.0l0.9 1.0l0.8 2.5l-0.2 1.4l0.6 2.4l0.9 1.5l-1.2 2.2l0.0 1.0l-0.5 2.9l0.0 1.3l0.6 0.7l-0.2 2.5l0.2 0.3l0.0 4.0l0.1 -0.3l-0.9 4.2l0.4 0.3l0.0 2.8l1.2 0.3l-1.1 2.2l1.2 1.5l-2.0 1.8M293.8 312.5l2.6 -1.0l1.3 2.0l2.1 -1.4l2.0 0.7l1.0 -0.6l2.8 -0.2l0.5 -0.4l1.8 1.0l2.2 -1.4l1.7 0.5l1.6 0.4l1.2 -0.2l1.9 -0.2l1.9 -0.4l1.0 0.5l2.2 -1.3l1.6 2.3l1.8 -0.3l3.2 -0.8l-0.5 0.0l1.7 0.0l2.7 -0.3l2.0 2.4l0.6 0.1l-4.5 -3.3l0.6 1.8l-0.3 1.8l-0.7 1.3l1.7 1.4l0.4 2.5l-1.3 0.8l0.3 1.1l1.0 2.6l-1.4 1.8l1.2 1.6l0.6 1.8l1.0 3.6l0.1 1.0l-0.5 1.1l0.6 1.5l2.6 3.5l-2.2 0.5l0.3 2.1l1.7 1.4l-1.0 2.4l0.5 2.1l-0.5 1.8l1.9 -0.4l-1.3 3.2l-1.4 1.9l0.6 0.6l-0.1 2.4l-0.6 2.1l1.8 0.9l-1.3 2.9l-1.2 1.3l0.6 1.5l0.7 2.5l-1.1 0.0l-0.4 3.5l-0.5 1.7l1.4 1.2l-0.5 1.8l0.6 2.7l-1.2 1.2l1.5 2.0l0.1 0.8l0.1 3.1l0.6 1.3l0.7 0.8l-0.2 2.6l-1.0 2.0l1.4 1.8l0.2 1.4l-1.0 2.4l0.2 0.9l-1.9 2.5l0.7 1.9l-1.5 1.2l1.9 -3.0l-2.7 2.5l-0.8 -1.0l-2.0 0.4l-3.1 -1.2l-1.6 0.4l-0.7 -0.6l-1.9 0.2l-2.1 -0.3l-1.6 0.7l0.1 -0.7l-3.5 0.0l-1.0 0.3l-2.3 -1.4l-2.1 1.2l-0.9 -0.9l-1.0 0.9l-2.6 0.4l-1.2 1.3l-2.0 -0.1l-3.4 -0.5l0.0 0.8l-1.7 -0.8l-2.1 0.5l-1.5 0.7l-1.4 -0.4l-2.3 -1.5l-0.6 1.1l-1.3 -0.2l-2.8 0.4l-0.7 -1.3l-1.8 0.0l-2.3 1.5l-1.9 -1.2l-1.7 0.9l-2.1 -2.0l-2.1 1.4l-1.2 -0.8l-1.5 1.6l-1.4 -1.4l-1.9 0.1l-1.8 0.8l-2.3 -1.2l-0.8 -0.8l-1.0 0.7l-2.6 0.8l-1.4 0.5l-2.1 0.5l-1.6 0.6l-1.9 -1.3l-1.5 -1.1l-1.0 0.6l-2.6 -0.6l-1.2 0.4l2.0 2.2l0.0 -1.2l-0.8 -2.0l-1.7 -3.2l0.0 -0.4l0.5 -0.7l-0.6 -3.1l1.2 -2.1l0.1 -1.8l0.0 0.2l1.3 -4.1l-1.1 -1.7l0.1 -0.2l-0.8 -3.4l0.6 -1.0l1.2 -2.6l-0.4 -1.7l-0.7 -1.0l0.9 -2.5l0.0 0.1l0.1 -3.5l-0.6 -2.2l0.8 -1.7l-0.6 -1.0l0.9 -1.7l-1.3 -1.6l1.0 -1.2l-0.4 -2.0l-0.1 -1.7l-0.5 -2.3l0.2 -1.5l-0.6 -2.3l1.4 -1.7l-1.9 -2.3l1.3 -1.0l-0.5 -2.3l0.2 -1.1l-1.2 -2.4l1.5 -1.7l-2.1 -1.0l0.2 -3.6l0.5 0.3l-1.4 -2.0l0.0 -2.4l0.6 -1.8l0.3 -0.1l-0.2 -2.9l-0.1 -2.7l0.2 -0.6l-1.0 -1.9l1.1 -3.0l0.3 -2.0l-0.8 0.0l0.8 -1.2l0.1 -3.0l-1.1 0.7l2.0 0.6l1.5 -2.7l0.7 0.1l2.7 1.1l1.4 0.0l2.7 -0.5l1.2 0.2l0.9 -0.8l1.7 0.8l1.7 -0.8l2.4 0.4l1.7 -1.2l1.9 -0.4l2.0 0.9l1.1 0.2l1.2 0.2l2.1 -1.3l1.1 1.1l2.1 -0.8l2.6 0.4l0.9 -0.6l1.6 1.5l2.4 0.5l0.0 0.4M284.6 312.6l1.6 0.7l0.4 0.3l1.5 0.1l2.2 0.5l1.6 -0.7l2.6 0.4l1.1 -1.1l1.5 0.6l1.1 -1.2l1.5 0.4l2.6 0.7l1.9 -0.8l0.8 0.0l2.1 -0.1l3.4 -0.8l-0.1 0.1l1.4 -1.7l1.5 0.6l2.7 -0.1l0.1 -1.6l1.3 0.7l2.5 0.8l2.4 -2.2l2.2 0.6l2.2 0.4l-0.2 0.3l2.0 1.0l2.7 0.1l1.2 0.4l1.8 1.2l-2.4 -2.1l-0.2 2.5l1.5 0.4l0.3 1.8l-1.4 1.3l1.0 1.4l0.2 3.6l-0.4 1.4l0.5 1.6l-0.5 2.7l0.2 -0.1l0.2 2.0l0.0 2.1l0.5 0.8l-0.7 3.4l1.0 1.7l-0.2 0.9l-0.6 1.3l-0.4 3.5l0.0 0.9l1.7 1.9l-1.4 1.6l0.1 1.5l0.2 2.6l-0.4 2.4l0.3 0.6l0.3 2.5l-1.2 1.2l-0.2 0.9l0.6 2.3l0.4 2.7l-0.7 0.9l1.3 2.1l-0.7 0.8l1.8 1.9l-0.3 3.2l1.0 0.8l-1.5 1.9l0.7 1.8l0.4 2.0l0.0 2.3l0.1 1.6l-0.1 1.3l-0.6 1.6l-0.5 2.0l0.7 2.1l1.2 2.0l0.3 2.0l-0.3 0.0l-0.6 2.6l-0.4 1.7l0.3 1.9l-1.4 1.4l0.4 1.7l-1.7 3.2l1.3 -3.1l-0.9 0.5l-2.8 -0.5l-1.1 1.9l-2.5 -0.3l-0.6 -1.6l-2.3 1.5l-1.7 -1.2l-1.6 -0.1l0.1 1.3l-2.3 -1.4l-2.8 1.2l-0.5 0.1l-1.5 0.6l-2.7 -1.5l-1.8 1.9l-1.3 -1.3l-2.4 0.8l-2.8 -0.3l0.1 -0.5l-2.1 0.1l-1.9 1.5l-2.1 -2.1l-0.2 -0.1l-2.5 0.6l-0.7 0.1l-1.5 -1.0l-2.2 0.1l-2.1 0.5l-1.6 -0.9l-1.9 0.8l-1.8 -1.8M330.3 335.5l1.5 1.6l-0.4 2.5l0.7 1.5l-1.4 2.2l2.3 2.3l-0.5 1.3l0.9 0.8l0.2 2.4l-0.2 1.8l0.8 0.5l-0.4 2.8l0.1 1.9l0.2 0.5l-0.1 3.1l-0.8 1.1l-0.7 2.3l0.7 1.6l-0.5 1.5l0.8 2.2l-0.3 3.3l-0.5 -0.1l-0.2 1.8l-0.3 2.4l0.9 1.5l-0.4 2.3l-1.3 0.8l1.2 3.7l0.4 -0.1l0.4 2.9l-0.4 0.9l0.6 1.2l-0.1 1.3l-0.2 3.2l1.5 1.2l-0.2 2.1l-0.2 2.0l0.8 1.6l0.1 2.4l-1.9 1.9l1.6 -1.6l-2.7 0.7l-1.1 1.0l-1.8 0.0l-2.7 0.1l-0.4 0.4l-1.2 -0.7l-2.6 -0.9l-0.8 -0.4l-1.9 0.0l-2.9 -0.1l-1.0 -0.4l-1.0 -0.2l-2.5 0.5l-2.4 -0.6l-1.2 -0.2l-1.2 1.1l-1.1 -0.8l-2.5 -0.1l-2.0 1.4l-1.0 -0.6l-2.3 -0.7l-1.6 1.1l-1.2 1.1l-1.4 -1.0l-2.6 1.3l-0.5 -0.4l-2.8 0.3l-0.8 -0.9l-2.8 0.0l-1.3 1.4l-1.7 -1.7l-0.5 0.7l-2.6 -2.0l-0.9 -0.9l-2.2 0.5l-1.8 -1.2l-1.8 0.4l-1.6 1.0l-2.3 -1.4l-2.3 -0.4l0.2 0.2l-3.2 -1.1l-1.6 0.2l-2.1 0.4l-1.2 0.5l-1.8 0.2l-2.0 1.1l-2.0 -0.2l-1.0 1.2l-0.3 0.5l-3.0 -0.6l-1.7 -0.3l-2.2 -0.5l-0.7 -0.2l2.2 2.3l-1.2 -1.4l-0.8 -2.2M314.3 402.6l-0.8 0.5l-3.4 -0.4l-1.8 -1.5l-0.5 0.5l-2.3 0.4l-0.7 -1.4l-3.3 0.2l-1.3 1.0l-2.2 0.4l-2.2 -0.2l0.3 0.3l-1.2 0.9l-3.1 0.8l-1.0 -0.5l-2.1 0.2l-2.0 0.7l-2.3 0.5l-0.7 -0.7l-2.2 0.8l-1.9 -0.2l-1.3 0.5l-2.4 -1.4l-0.7 0.5l-2.8 0.1l-1.4 -0.8l-1.3 0.6l-1.8 -1.1l-1.1 -0.9l-2.2 1.1l-1.0 0.8l-1.2 -0.8l-2.4 -0.5l-1.9 0.9l0.0 -0.1l-3.6 -0.5l-1.7 0.5l-1.6 -0.3l-1.8 -0.3l-2.2 0.6l-1.6 -0.4l-1.2 -1.5l-1.4 -1.6l3.8 3.5l0.1 -1.5l-1.1 -1.7l0.0 -1.8l-0.1 -1.0l-0.3 -1.7l-0.5 -2.8l1.0 -1.6l-1.5 -2.2l-0.3 -1.1l0.2 -3.0l0.7 0.3l-0.8 -1.6l-0.5 -2.6l0.8 -2.0l-1.7 -1.4l1.1 -1.2l-0.5 -1.8l-0.3 -3.0l-0.8 -0.3l0.7 -3.2l1.7 -2.1l-0.1 -1.5l1.0 -0.6l0.0 -2.7l1.0 -1.5l0.4 -1.9l-0.1 -1.0l1.0 -2.0l-0.2 -1.8l0.6 -2.6l-1.3 -0.4l0.3 -2.9l-0.1 -2.7l-0.8 -0.1l-1.1 -2.7l1.1 -1.6l-1.7 -1.5l-0.2 -1.7l-2.4 -2.1l0.5 -2.7l0.7 -1.0l-0.5 -1.1l-0.8 -2.4l0.2 -0.8l1.1 -2.9l-0.1 -0.8l-0.5 -2.4l-0.2 -1.2l1.5 -1.9l-0.7 -2.0l1.5 -2.7l0.9 -1.4l3.7 -1.4l-7.8 5.3l2.1 -1.0l2.7 1.2l0.8 -1.1l2.2 0.1l0.4 0.8l2.3 -1.6l2.4 0.5l2.0 -0.4l0.9 -1.4l2.0 -1.0l1.8 -1.9l1.6 0.3l2.9 -0.2l2.0 -1.8l1.1 0.8l1.2 -0.3l1.3 -0.1l1.4 0.2l1.8 -1.0l2.1 0.3l0.5 0.3l3.0 0.9l1.9 -0.4l1.7 1.0l0.7 0.0l2.5 1.7l1.7 -0.2l1.6 0.2l1.8 0.2l1.1 2.1l2.1 -0.7l0.6 1.0l2.8 -0.2l2.1 0.0l1.0 0.1l1.7 0.1l2.6 -1.2l1.4 -0.8l1.0 -0.2l1.5 -0.6l2.8 1.0l0.2 -0.5l1.7 0.3l3.6 -1.1l0.4 -0.3l0.9 -0.3l2.4 -0.6l2.5 0.2l0.7 0.3l2.6 0.2l1.3 -0.2l2.5 -1.3l0.8 0.5l1.0 1.1l0.1 -1.8l0.2 2.3l-0.6 1.7l1.1 2.1l0.2 1.4l-0.9 2.6l-0.6 0.6l0.0 1.6l0.0 1.3l0.8 2.2l-1.3 2.1l-0.7 2.4l-1.0 1.6l-0.1 1.5l-0.6 2.2l-0.3 1.3l0.4 2.6l-0.1 1.0l0.9 0.5l-0.6 3.2l-0.4 1.4l0.6 2.4l0.8 0.9l1.8 2.5l-0.1 1.8l0.5 1.5l1.3 1.1l0.4 2.8l0.8 0.5l-0.9 3.7l1.8 1.3l-1.9 1.6l1.0 1.0l-0.9 3.1l-0.3 1.1l0.2 2.1l0.8 1.5l-1.7 1.2l-1.8 0.7l0.3 2.8l-1.9 2.5l0.1 0.9l-1.0 1.1l-0.8 2.5l-0.3 1.6l1.7 1.9M245.2 344.2l-0.9 -0.7l-0.3 -1.8l0.9 -0.7l-0.9 -2.1l1.4 -2.1l0.3 -2.2l-0.8 -1.2l-0.5 -2.2l0.6 -2.1l-1.2 -0.8l1.8 -1.5l-0.1 -2.4l-0.5 -2.5l1.4 -2.0l-1.2 -2.0l0.7 -1.5l0.2 -2.1l-0.4 -0.2l0.2 -2.1l0.4 -1.8l-3.4 3.4l1.5 -0.3l1.1 -1.6l2.5 -1.7l1.4 1.7l2.2 -1.0l1.8 1.8l1.7 -0.7l1.7 0.0l1.4 -0.3l1.1 0.0l2.6 -0.2l2.4 1.2l0.4 -0.9l2.0 -0.1l1.0 0.2l2.3 1.3l1.8 -1.8l1.3 -0.1l2.4 -0.4l1.3 0.3l1.4 -0.1l1.5 -0.9l3.1 0.0l1.1 -0.5l1.2 -0.3l1.9 0.2l1.9 -1.2l1.8 -0.1l1.2 1.0l0.6 -0.5l4.3 0.9l0.2 -0.5l2.0 0.2l1.0 -0.3l2.9 0.4l1.1 1.0l2.0 -1.5l1.9 0.8l0.7 0.5l1.4 1.2l2.3 1.3l0.5 -1.9l3.1 0.9l1.0 0.7l3.0 0.9l-0.3 0.5l2.9 0.0l1.6 0.6l0.9 0.2l3.1 -0.7l1.0 0.3l1.6 1.1l2.3 -1.9l0.3 2.3l-5.2 -6.5l2.4 1.2l0.0 2.1l1.4 2.5l0.8 2.4l-1.8 1.2l0.7 2.3l0.6 0.4l0.3 3.4l-0.5 -0.4l0.1 3.5l-0.9 0.3l1.3 3.0l0.0 2.1l-1.3 0.7l1.0 2.4l-1.2 2.0l0.9 1.8l-0.6 2.0l0.8 0.6l-0.5 2.1l-0.6 1.3l0.4 2.8l-0.8 2.2l0.7 1.4l0.3 1.5l0.3 1.8l-0.5 1.3l1.4 1.8l-0.2 2.0l-0.6 2.3l-0.7 1.6l-0.9 1.8l1.9 1.1l-0.2 1.5l-0.6 3.4l-0.6 1.2l0.9 3.1l-1.6 0.4l-0.5 2.5l1.1 0.4l-0.8 2.0l-0.1 2.7l0.5 1.7l0.4 0.1l-0.9 3.3l1.1 0.7l0.2 2.0l-0.5 2.1l0.6 1.6l0.9 2.1l-0.1 1.1l-0.5 2.4l1.2 2.8l0.4 0.6l1.1 -1.6l-0.1 1.2l-3.0 0.3l-1.8 1.2l-1.6 1.2l-2.5 -1.5l0.2 -0.1l-3.1 1.1l-0.7 -0.5l-2.4 -0.9l-1.3 0.3l-2.3 -0.8l-1.5 0.1l-1.4 0.3l-2.1 -1.1l-1.4 -0.7l-3.1 0.8l0.8 -0.7l-1.7 0.5l-3.1 -0.5l-1.4 0.1l-0.9 0.0l-1.8 -0.9l-2.2 -0.4l-3.3 1.3l-1.3 -0.5l-0.3 -0.2l-1.3 -0.2l-3.5 -0.1l-0.5 0.5l-2.2 0.9l-1.7 -0.5l-0.3 -0.1l-2.3 -0.8l-2.6 0.1l-2.1 1.0l-1.3 0.9l-0.2 -1.5l-3.1 0.6l-0.6 -0.3l-3.2 -0.4l-0.5 -0.1l-2.9 -0.6l-0.7 -0.8l-2.1 2.2M248.9 392.5l-0.9 -2.1l-0.5 -1.3l0.3 -2.2l-1.1 -2.1l0.6 -1.0l-1.0 -1.8l-0.2 -3.1l0.0 -0.7l-0.8 -2.2l-0.6 -1.3l-2.4 -3.0l2.0 -1.6l-1.1 -0.7l-0.3 -1.5l-0.3 -2.1l0.0 -1.6l-0.2 -1.7l0.6 -2.6l0.3 -1.4l-0.4 -1.8l0.6 -1.7l-0.5 -2.1l1.3 -1.0l-0.1 -1.4l0.0 -2.8l0.4 -1.7l1.6 -2.7l-0.9 -0.4l0.7 -2.1l0.6 -2.4l-0.2 -0.9l-0.2 -2.0l0.4 -1.1l0.0 -4.0l-0.2 0.6l-0.3 -2.9l0.7 -1.9l-0.4 -0.2l-0.1 -3.9l-0.5 -0.3l-0.3 -2.7l0.3 -1.4l-0.4 -1.9l-0.1 -2.2l-1.0 -1.2l1.3 -1.3l0.3 -1.1l-1.9 1.9l0.6 -1.1l3.9 -1.5l0.1 0.6l2.5 0.1l0.8 -0.8l2.3 1.3l1.8 -0.3l0.5 0.4l2.4 -1.1l2.1 0.9l2.1 -0.2l0.4 0.1l2.3 1.9l2.1 0.1l1.4 0.0l2.9 0.6l0.0 0.9l3.6 -0.6l0.8 -0.1l1.8 0.4l2.0 -0.1l1.5 -0.5l1.9 0.7l1.1 -0.3l1.9 0.8l1.5 -0.7l2.4 0.0l1.8 0.3l1.2 -1.5l1.7 1.0l0.7 -3.1l1.9 1.7l2.3 -0.5l1.2 0.1l1.8 -1.2l1.6 -0.2l2.0 -0.4l1.7 0.2l1.4 -0.4l1.5 -0.9l2.6 0.7l2.1 1.1l1.4 -0.7l1.3 -0.1l2.1 -1.7l1.5 2.1l1.1 -0.6l2.2 0.2l1.1 0.1l2.0 1.1l2.0 0.1l0.2 2.2l3.6 -0.2l-4.4 -4.0l0.5 1.5l-0.1 2.2l0.8 1.9l-1.0 2.9l0.8 0.7l0.7 1.8l-1.1 1.7l-0.1 2.1l0.6 2.0l-0.5 1.0l1.0 2.7l-0.9 1.3l0.9 1.7l-1.2 2.0l1.4 1.4l0.7 1.7l-0.3 2.3l0.4 1.8l-1.0 0.6l3.1 3.7l-1.9 0.7l0.0 2.0l-0.2 0.6l1.8 2.7l-0.6 2.1l-1.2 1.5l0.0 2.2l-0.1 2.2l-0.5 0.1l0.4 2.3l0.2 1.5l-0.8 1.5l0.4 3.4l0.0 -0.2l-0.2 3.2l-0.3 2.0l0.6 1.1l-0.1 1.6l-1.1 1.7l2.3 1.7l-1.8 3.0l-0.3 1.2l0.4 2.5l1.5 0.5l0.0 2.0l0.5 2.2l-0.4 1.2l0.4 1.4l-0.3 2.6l0.8 1.5l1.0 1.0l-1.7 3.4l0.1 0.3l0.9 3.2l-0.2 -2.5l-1.2 2.6l-1.8 -0.5l-1.1 -1.1l-3.4 0.7l-1.1 0.3l-0.8 -0.7l-2.8 -1.4l-0.8 1.4l-2.2 -0.8l-2.5 0.0l0.4 -1.8l-3.5 0.8l-1.9 -1.0l-1.6 0.5l0.1 -0.4l-1.8 -2.4l-2.7 0.3l-2.3 -0.6l-1.3 0.5l-1.7 -0.4l-2.2 1.1l-1.4 0.4l-1.0 0.1l-2.5 0.1l-1.1 0.6l-2.5 -0.3l-1.7 1.6l-1.4 -0.4l-2.2 1.4l-1.4 -0.7l-2.1 0.4l-0.6 1.1l-1.8 1.1l-1.4 0.2l-2.9 0.9l-0.5 -1.6l-2.3 -0.3l-0.8 2.4l-0.9 -1.1l-2.7 -0.1l-1.7 0.5l-1.7 -1.2l-2.6 0.7l-1.0 1.0l-1.5 -0.9l-2.4 0.2l-2.0 0.0l-1.7 -2.0l-1.1 0.6l-2.3 -0.8l-0.1 -1.6l-2.7 -0.2l-1.6 -1.3l-2.3 -2.0l5.4 4.8l1.7 -1.3l-1.8 -1.0l1.2 -1.7M245.6 402.0l-1.6 -2.0l0.2 1.1l3.9 4.8l-0.3 -2.0l-0.4 -2.7l0.3 -2.4l1.0 -0.8l-0.3 -2.4l0.2 -2.3l0.0 -0.8l0.3 -1.6l-0.9 -1.4l1.3 -2.7l-0.1 -1.8l0.0 -2.0l-0.6 -1.3l-1.1 -1.6l-0.3 -1.6l-0.1 -2.1l-0.4 -1.1l-0.1 -2.0l-1.0 -3.0l-0.2 -0.9l-2.3 -3.5l3.1 0.2l-1.5 -2.5l-1.1 -1.2l1.1 -2.7l0.9 -1.1l-0.6 -2.4l0.4 -0.5l-0.2 -3.1l1.6 -0.7l1.3 -1.3l-0.5 -1.8l-0.7 -2.0l0.3 -1.6l1.3 -1.1l-1.5 -1.5l0.7 -5.2l0.4 0.6l-0.7 -3.0l-1.1 -1.5l0.0 -1.6l-0.9 -1.6l-0.2 -2.3l-0.4 -1.0l0.4 -2.1l0.5 -1.8l-1.4 -0.8l0.1 -2.1l-0.1 -2.3l0.1 -1.4l0.1 -2.7l-1.5 -0.8l3.1 -1.5l0.8 -2.6l-3.3 2.7l2.5 -0.2l1.1 -0.2l1.9 0.1l1.3 0.6l1.2 -1.1l1.9 0.1l3.3 -0.7l-0.1 0.5l2.1 -1.6l1.7 -0.7l2.4 1.9l1.0 -0.3l2.3 -0.7l1.0 -1.0l2.5 0.6l1.2 0.5l0.3 1.2l2.9 -0.6l2.5 0.0l0.6 0.3l2.6 0.4l1.4 1.6l3.1 0.5l-0.3 -0.2l2.3 -0.1l2.0 1.6l1.5 0.3l2.5 -0.8l1.1 -0.5l2.2 0.3l0.2 -0.1l2.2 -0.2l3.8 -0.5l-0.2 -1.5l1.2 0.9l3.3 -0.4l1.2 -1.9l0.4 1.9l2.1 -2.9l1.6 0.8l2.1 -1.4l1.3 2.5l1.9 -0.8l2.0 2.3l0.1 -1.7l3.3 2.5l1.7 1.3l1.0 -2.3l2.1 1.8l2.2 1.3l2.2 -0.5l1.0 0.7l1.0 0.2l-5.6 -6.2l-0.8 0.6l1.1 2.6l2.2 2.6l-0.6 1.8l-0.1 0.5l-0.7 2.2M302.0 401.0l-0.8 0.4l-2.7 1.6l-1.0 0.1l-2.4 1.6l-1.1 0.9l-2.0 -0.2l-1.4 0.8l-2.4 -0.3l-0.6 -0.5l-2.4 0.3l-1.7 0.5l0.0 -1.3l-3.0 2.4l-1.5 -1.2l-3.4 -0.4l-0.6 0.9l-1.0 0.1l-2.6 -0.6l-0.9 -1.2l-3.1 -0.5l-1.3 0.0l-1.6 0.5l-1.9 -1.5l-1.6 -0.2l-1.8 -1.2l-0.9 -1.2l-2.7 1.6l-0.7 -0.2l-1.5 1.5l-1.3 -1.4l-2.3 -0.2l-2.0 1.7l-2.6 -0.3l-0.1 0.7l-3.8 -0.6l3.8 0.6l-1.2 -1.8l-0.4 -2.3l-0.9 -0.4l-0.6 -3.1l0.9 -1.9l-0.2 -0.3l0.3 -1.8l0.8 -2.4l0.7 -0.9l-0.4 -3.1l-0.8 -1.3l2.2 -2.2l-1.2 -2.0l-1.2 -1.0l1.2 -3.2l-0.2 -0.6l-0.6 -1.1l-0.5 -3.1l0.5 -1.6l-1.4 -0.9l0.1 -2.6l0.2 -2.3l1.2 -1.3l-0.5 -1.1l-0.5 -1.5l-0.3 -1.6l0.0 -2.5l1.1 -1.8l-0.2 -1.8l0.4 -2.2l-0.4 -1.2l0.2 -1.4l0.5 -2.0l0.7 -2.6l-0.4 -1.1l0.3 -2.2l0.7 -1.7l0.2 -1.9l-1.5 -2.6l1.4 -0.3l-0.2 -1.4l0.2 -2.3l-1.7 -1.1l0.4 -4.1l-0.6 -0.9M331.5 315.6l0.8 2.3l-0.8 2.2l1.5 1.0l0.1 2.2l0.9 2.2l-0.9 2.1l0.0 1.2l2.7 1.2l-0.6 2.3l-0.3 1.5l0.3 2.0l-1.2 1.1l0.9 1.7l0.5 2.7l0.1 0.7l-0.7 3.1l1.0 1.4l0.3 1.5l0.0 0.9l-1.0 4.0l1.3 1.5l-1.3 1.0l0.6 1.8l-0.9 0.9l-1.6 2.5l0.3 1.8l0.4 1.8l0.2 1.8l-0.8 0.9l0.7 2.7l-2.1 2.5l0.1 1.4l0.6 2.0l0.0 0.8l0.8 1.1l-0.9 2.5l0.3 2.8l0.6 1.2l0.1 1.9l-0.9 1.5l1.7 1.2l1.2 2.5l-0.9 2.1l0.8 0.3l-1.0 3.7l1.1 0.7l0.4 3.0l-0.8 0.9l-0.1 1.2l-1.3 1.3l0.8 0.0l-1.3 0.4l-2.2 1.3l-1.2 1.1l-1.6 -1.0l-1.3 -1.9l-3.0 -0.5l-2.4 0.5l-0.4 -0.4l-2.0 -1.3l-2.3 -1.2l-1.3 0.7l-1.1 -2.3M291.3 312.3l2.2 2.1l2.6 3.3l1.1 2.6l1.8 2.6l2.1 2.7l0.2 3.9l0.2 4.3l1.0 2.5l2.1 3.1l0.3 2.4l1.9 3.9l3.2 2.1l0.7 3.3l-1.6 3.6l0.1 4.2l2.0 2.4l0.3 3.8l-0.2 4.2l4.6 1.6l1.9 3.0l-1.1 4.4l-0.3 2.7l3.9 2.3l1.5 3.4l2.1 2.8l2.3 2.7l0.3 3.4l2.5 2.6l0.9 3.6l0.7 3.2M266.8 402.6l-0.5 -2.7l0.2 -2.9l-0.4 -2.3l2.0 -3.5l-1.6 -3.0l0.8 -2.1l-1.3 -3.4l0.4 -1.9l-1.6 -1.8l0.7 -3.7l-1.0 -2.3l-1.3 -2.4l0.0 -2.0l0.6 -2.9l-1.7 -1.9l-0.3 -3.0l0.2 -2.4l-1.5 -2.4l-0.6 -3.1l0.6 -2.3l-2.1 -1.5l-0.8 -3.1l-1.6 -2.0l-1.4 -3.3l-1.8 -1.8l-1.3 -2.0l-4.0 -2.9l-2.0 -0.2l-1.6 -2.7l0.7 -3.5M267.8 311.1l1.6 4.0l3.0 -0.5l-0.6 6.3l2.6 2.0l3.4 0.4l1.7 2.7l3.2 1.0l1.1 2.8l1.1 4.5l1.7 2.3l2.4 0.5l5.1 0.0l2.3 1.9l0.5 2.9l3.4 1.3l2.5 2.4l2.3 1.4l3.0 2.4l-1.3 5.0l3.3 1.0l4.0 0.5l3.7 0.8l3.0 0.1l0.4 4.2l2.4 1.7l1.3 2.4l4.0 1.5l1.9 2.9l1.8 2.3l2.8 2.2M267.3 309.3l-1.3 3.9l-0.4 2.6l1.2 2.8l-0.1 4.7l0.7 2.4l0.9 3.7l-2.0 2.4l-1.4 3.6l-0.9 2.8l-0.3 3.3l-2.0 2.4l-3.1 2.7l1.2 4.0l-1.9 2.7l1.1 2.9l-0.4 3.5l-1.7 2.8l0.1 3.4l-1.9 2.8l-0.4 3.3l-0.8 2.9l-2.3 2.5l-0.6 3.5l-2.6 2.3l1.0 3.4l-1.7 2.9l0.0 3.1l-2.0 2.8l-0.3 3.9l-0.3 2.3M246.1 359.7l1.0 2.0l1.3 3.1l1.6 2.3l2.0 0.7l2.7 -0.1l2.8 1.4l0.6 1.9l3.1 1.6l1.1 1.4l2.9 -0.3l2.8 1.3l1.2 1.4l2.7 -0.1l1.7 3.5l1.3 2.7l1.2 3.1l0.0 2.3l1.7 2.1l2.1 0.9l0.9 2.8l3.5 -0.6l1.8 2.2l2.7 0.0l1.7 1.7l3.0 0.8l2.6 0.7l1.8 0.3l1.6 3.2l2.5 0.8l2.1 1.1M298.8 403.3l-0.7 -2.4l2.6 -4.3l1.1 -2.7l1.1 -2.1l-1.7 -3.6l-1.3 -3.0l-0.5 -3.6l-1.0 -3.0l-2.6 -2.1l-1.0 -3.2l1.5 -3.7l-2.0 -3.2l-0.4 -2.8l-1.5 -2.4l-0.8 -3.8l2.0 -3.1l-1.3 -3.5l-1.4 -2.2l0.6 -4.3l0.1 -2.3l-2.1 -3.1l1.1 -3.5l-2.1 -2.3l-1.1 -2.8l-2.0 -3.2l-1.1 -2.6l-0.4 -4.2l2.9 -2.8l-0.9 -3.2l-1.2 -3.0M243.3 397.2l3.2 0.1l3.4 0.2l3.2 -2.6l1.3 -3.3l3.3 -0.9l4.2 0.3l3.0 -0.2l2.7 -1.1l4.1 -1.8l2.5 -0.8l1.8 -2.5l3.0 -2.1l3.8 0.1l2.4 -1.8l3.1 -0.2l2.9 0.1l3.1 -3.5l3.7 -1.6l1.9 -1.4l3.1 -0.5l4.2 -2.4l2.9 2.0l4.3 -0.2l3.1 0.5l1.8 -4.2l2.9 -1.0l2.9 -0.9l2.3 -3.6l2.5 -4.5l0.9 -3.5M302.5 309.1l-2.5 -0.3l-2.4 0.0l-0.2 0.1l-1.6 2.1l-2.7 -1.8l-2.2 0.3l-1.6 3.3l-1.8 -0.8l-3.3 -2.7l-0.7 1.2l-1.8 0.2l-2.2 1.0l-1.9 0.2l-1.4 3.2l-0.8 1.1l-1.7 1.1l-1.4 2.4l-1.9 0.1l-1.6 1.3l-0.9 1.9l-1.8 3.4l-1.5 -0.4l-2.6 0.0l-1.9 1.2l-1.9 -2.1l-2.6 -1.2l-1.1 0.5l-3.3 -0.6l-1.9 0.9l-1.0 2.1M318.5 399.4l-2.9 0.6l-1.7 -2.9l-2.4 0.7l-2.5 -1.0l-1.8 -2.2l-2.3 -1.3l-2.7 2.4l-2.2 -5.3l-2.3 -0.6l-3.4 1.1l-2.5 -1.3l-2.4 0.2l-1.8 -1.5l-2.8 -1.8l-3.1 2.2l-2.6 -1.1l-2.0 -1.3l-2.7 -0.1l-3.2 1.4l-2.0 1.1l-2.5 -2.1l-2.3 -2.1l-3.9 1.0l-1.6 -0.7l-2.4 -2.7l-1.1 -1.5l-2.7 -2.0l-2.1 -1.2l-3.6 0.6l-2.1 1.1" fill="none" stroke="#4a1446" stroke-width="0.8" stroke-linejoin="round"/>
<rect x="254.04" y="324.74" width="63.72" height="63.72" stroke="#e2622c" stroke-width="1.4" fill="none"/>
<line x1="344.6" y1="303.5" x2="344.6" y2="409.7" stroke="#a9d27a" stroke-width="1"/>
<line x1="344.6" y1="303.5" x2="450.8" y2="303.5" stroke="#a9d27a" stroke-width="1"/>
<line x1="365.84" y1="303.5" x2="365.84" y2="409.7" stroke="#a9d27a" stroke-width="1"/>
<line x1="344.6" y1="324.74" x2="450.8" y2="324.74" stroke="#a9d27a" stroke-width="1"/>
<line x1="387.08" y1="303.5" x2="387.08" y2="409.7" stroke="#a9d27a" stroke-width="1"/>
<line x1="344.6" y1="345.98" x2="450.8" y2="345.98" stroke="#a9d27a" stroke-width="1"/>
<line x1="408.32" y1="303.5" x2="408.32" y2="409.7" stroke="#a9d27a" stroke-width="1"/>
<line x1="344.6" y1="367.22" x2="450.8" y2="367.22" stroke="#a9d27a" stroke-width="1"/>
<line x1="429.56" y1="303.5" x2="429.56" y2="409.7" stroke="#a9d27a" stroke-width="1"/>
<line x1="344.6" y1="388.46" x2="450.8" y2="388.46" stroke="#a9d27a" stroke-width="1"/>
<line x1="450.8" y1="303.5" x2="450.8" y2="409.7" stroke="#a9d27a" stroke-width="1"/>
<line x1="344.6" y1="409.7" x2="450.8" y2="409.7" stroke="#a9d27a" stroke-width="1"/>
<path d="M381.1 308.2l1.8 0.4l2.3 0.2l1.6 0.1l1.5 -1.6l1.1 1.6l1.7 -0.6l2.9 1.6l0.6 -0.7l2.6 0.8l2.4 1.4l2.2 1.8l2.5 -2.2l-0.1 1.0l2.6 1.0l2.5 -0.1l1.4 -0.3l2.1 -0.6l2.0 -1.0l2.1 0.9l3.0 -0.9l-0.8 -0.8l2.7 -0.5l1.2 -0.2l1.8 0.6l1.7 -0.6l3.4 -0.3l2.1 -0.1l1.6 -0.8l0.6 0.3l2.7 1.1l1.0 -0.7l2.1 1.1l2.0 0.5l2.0 -0.7l1.6 0.2l0.7 1.5l-1.7 -1.4l1.4 1.0l0.5 1.0l-0.6 1.1l2.0 2.2l-0.9 2.5l0.5 1.1l1.7 2.1l-1.1 1.2l0.1 2.2l1.0 1.2l-0.3 1.1l0.0 3.1l-0.4 1.2l0.0 1.5l0.5 1.4l0.2 3.1l-0.2 0.4l-2.2 1.9l0.9 2.1l-0.4 1.7l-0.3 2.1l-0.7 1.6l1.2 1.1l2.1 2.3l-1.7 0.8l0.4 2.6l1.1 1.3l0.4 1.2l-0.7 1.4l0.0 3.3l-0.9 1.6l1.2 0.4l-0.9 2.3l0.9 2.9l-0.7 0.3l0.2 0.7l0.5 3.2l-0.5 2.7l0.0 0.4l0.8 1.9l-0.6 1.8l0.0 2.1l0.0 0.9l-0.5 2.1l-2.2 2.5l-1.0 1.5l0.0 2.0l-1.7 1.8l-0.5 0.6l-0.8 2.4l-0.1 2.3l0.6 1.3l-0.3 1.9l-1.4 2.6M449.1 316.1l-0.1 0.3l0.8 2.0l-1.2 1.4l1.0 1.9l0.2 1.0l-0.5 2.0l-0.6 1.8l-1.0 3.4l-0.1 0.8l-0.6 2.4l-1.2 -0.2l0.1 1.9l-0.1 1.7l-1.5 2.7l-0.8 1.1l0.6 1.0l-0.4 1.8l0.0 3.5l1.1 0.6l-0.7 1.4l1.0 2.6l-0.8 0.7l0.6 2.4l1.5 1.7l0.8 1.9l0.2 1.7l0.2 1.9l1.5 -0.1l0.7 3.0l-0.3 1.8l0.5 1.6l-0.6 1.4l-0.3 2.3l-0.6 1.4l0.3 1.8l0.6 1.8l-0.2 1.2l-1.5 2.0l-0.9 2.0l-0.4 1.1l0.0 1.7l-0.7 2.1l0.1 2.6l-0.8 0.5l-0.2 3.5l-1.0 0.1l0.8 1.8l-1.1 2.5l-0.7 1.6l-0.5 1.4l0.1 0.9l5.4 -6.1l-2.0 1.8l-1.6 0.4l-1.9 2.4l-2.7 -0.6l-1.0 2.7l-2.2 -2.1l-1.9 0.8l-2.3 -0.3l-0.6 0.2l-2.9 0.1l-3.1 1.6l-1.3 0.1l-1.0 -1.0l-1.5 -0.3l-1.8 1.4l-3.1 -0.8l-0.1 -0.2l-3.6 0.1l-1.0 -0.8l-2.7 -0.3l-0.9 -1.3M443.7 342.3l0.5 2.4l-1.0 1.0l0.9 1.6l-0.8 1.0l-0.1 2.3l0.6 1.8l-0.4 2.6l0.3 1.2l-0.3 1.6l-1.0 2.0l1.5 -0.1l0.5 2.3l-1.0 1.6l2.1 3.2l-0.1 1.1l1.1 1.1l-0.8 3.3l-0.1 0.9l0.1 1.2l1.1 2.1l0.4 1.3l-1.2 1.5l1.1 2.1l0.8 0.6l-1.4 3.1l-0.5 1.8l1.6 1.9l-1.7 0.9l0.2 1.8l0.6 1.3l-1.4 2.5l-0.2 1.7l-0.6 1.6l-0.9 1.7l-0.3 2.5l2.8 -5.6l-1.4 1.4l-1.2 0.2l-2.1 0.6l-2.2 0.5l0.1 -0.5l-3.5 2.4l-1.8 -0.4l-1.9 -0.2l-0.2 0.1l-1.4 1.0l-3.3 -0.5l-2.5 -0.5l-0.9 1.3l-1.8 -1.0l-3.5 -0.5l-1.2 -0.2l-2.1 -0.7l-1.4 -0.7l-1.4 -1.3l-1.9 0.0l-1.7 -1.2l-2.7 -1.2l-1.1 0.9l-1.9 -1.3l-1.1 -0.6l-1.9 -0.2l-2.8 -0.7l-1.4 0.1l-2.6 1.2l-1.5 0.4l-2.1 -1.6l-1.8 1.8l-2.4 0.5l-0.7 0.6l-2.1 1.0l-1.8 -1.0l-2.4 2.3l-2.5 1.3l-0.8 -0.6l-2.6 0.3l-1.3 1.2l-1.4 0.5l-1.7 0.5l-2.7 0.2l-1.1 -1.0l-0.6 -1.2l-2.5 0.3l-3.2 0.1l-0.9 0.2l-2.1 -0.4l-0.6 -0.5l-3.4 -1.5l-1.2 -0.7l-1.5 -1.1l4.3 4.4l-0.5 -2.0l0.4 -2.7l0.3 -1.7l-1.0 -2.2l-0.7 -0.9l0.1 -1.7l-0.4 -0.5l-0.4 -2.9l-0.4 -2.2l-0.3 0.2l-1.2 -3.2l0.3 -1.6l-0.8 -2.5l0.1 -1.5l-0.2 -0.6l0.2 -2.8l1.1 -0.8l-0.7 -3.0l-0.3 -0.5l0.6 -2.5l1.4 -0.6l1.0 -2.5l1.3 -1.2l0.1 -3.0l0.7 -0.6l0.8 -1.8l0.5 -1.2l0.1 -2.0l0.7 -1.2l0.7 -1.9l-0.5 -2.1l-0.4 -1.4l0.4 -2.0l-0.9 -1.6l0.4 -1.8l-1.4 -1.2l-1.0 -2.6l-1.5 -0.5l-0.2 -2.8l-1.7 -1.6l0.0 -1.7l0.2 -0.3l-1.2 -2.7l-0.3 -1.2l0.3 -3.2l-1.2 -1.3l0.5 -0.5l-0.4 -2.2l0.3 -3.4l0.4 -0.6l0.2 -2.2l1.8 -0.6l-0.7 -2.3l-1.0 2.2l0.1 -0.4l3.2 -0.5l2.1 -0.3l2.3 0.7l1.3 -0.9l2.0 2.0l2.6 -1.3l-0.3 1.5l3.6 -0.1l0.1 -1.3l2.7 -0.1l1.8 0.6l1.8 -0.5l2.7 0.1l-0.9 -0.2l4.2 0.4l1.8 0.4l2.9 -1.5l1.1 1.1l0.9 -0.6l1.2 0.6l2.6 -0.9l2.5 1.2l1.1 0.5l2.9 -0.5l1.0 0.5l1.3 1.2l2.5 -0.5l1.7 0.4l1.4 -0.4l2.8 -0.5l0.4 2.0l3.8 -1.9l2.1 0.6l1.3 0.0l1.7 0.1l1.3 -0.2l2.8 -0.2l2.4 0.3l0.0 -1.2l0.7 0.2l3.6 -0.5l1.6 0.2l2.2 -0.6l0.7 -0.8l2.8 -0.9l1.3 -0.4l3.8 1.3l-0.7 0.0l2.0 -1.1l2.5 0.1l1.8 0.2l2.8 -0.3l0.9 1.8l-1.2 -2.8l-0.1 1.2l1.2 2.5l1.5 0.5l-0.4 2.7l0.5 0.9l-0.3 2.7l-1.0 1.8l1.1 0.3l-0.9 2.9l0.4 1.6l-1.1 0.7l-0.7 2.3l1.0 2.0l-0.1 2.3l-1.1 0.5l0.3 1.8M369.1 313.8l0.7 1.4l2.8 -0.5l2.0 1.1l0.3 -0.4l2.3 0.1l2.1 0.0l2.3 -0.8l-0.2 0.6l4.0 -0.6l0.1 -0.5l2.8 -0.9l2.6 -0.3l0.7 0.2l2.2 0.2l1.5 -0.3l2.2 -0.1l2.0 -1.4l2.5 -0.4l0.7 0.2l1.7 0.3l1.8 -0.9l2.6 -0.5l1.5 0.2l1.4 -0.4l2.8 1.4l2.3 -1.1l1.1 -0.3l1.4 0.3l2.4 0.6l1.9 -1.4l1.8 1.6l2.0 -1.7l1.1 0.6l3.7 -1.4l0.6 2.5l2.4 0.0l1.3 -0.7l2.5 -0.7l1.8 2.9l1.8 -1.6l0.9 0.2l2.7 1.8l1.8 -0.9l-4.9 -2.6l0.9 1.2l-0.2 1.9l1.0 0.6l0.3 2.1l-0.9 0.9l-0.5 2.6l-1.5 1.4l0.3 2.1l-0.3 2.0l0.1 1.0l-0.8 2.1l-0.7 2.8l1.7 -0.6l-1.6 3.9l1.1 0.4l-1.0 2.7l1.1 1.0l-0.5 1.9l0.5 2.7l0.8 1.1l0.3 0.6l-0.3 1.8l0.1 1.7l2.5 2.7l-0.6 1.4l0.7 2.0l1.7 2.1l0.7 1.4l-0.3 1.0l0.2 0.4l0.1 2.8l-0.8 2.6l0.3 2.1l0.2 1.2l-0.4 1.0l1.4 2.9l-1.7 0.6l-0.3 2.0l-0.4 1.8l0.0 2.7l-0.8 0.8l0.1 1.2l-0.6 3.3l0.7 -0.4l-0.5 2.4l-0.1 1.7l0.0 1.3l0.2 2.3l-0.8 1.3l0.8 3.0l-0.3 2.0l1.2 0.1l-0.8 1.9l-1.0 1.4l3.4 -2.1l-1.2 1.2l-3.0 0.4l-1.7 1.2l-0.9 -1.4l-2.1 0.3l-2.2 -0.3l-1.8 0.8l-2.1 1.0l-0.7 -1.6l-2.4 -0.9l-2.1 1.2l-1.0 -1.3l-2.6 -0.8l-1.8 -0.8l-3.6 -0.6l0.1 -0.5l-1.3 -0.9l-2.4 -0.4l-2.6 -0.5l-1.1 0.0l-1.9 -0.1l-1.7 0.2l-2.4 -0.3l-2.0 -0.4l-1.3 1.7l-1.8 -1.4l-2.7 -0.7l-2.2 1.8l-1.4 -1.7l-1.4 1.2l-2.0 0.6l-1.8 2.0l-1.2 1.0l-2.7 -0.3l-1.9 0.0l-1.2 1.9l-1.8 0.5l-2.0 1.3l-3.4 -1.1l-0.1 1.5l-3.4 0.0l-0.7 1.0l-1.8 -0.7l-1.3 -0.8l-2.3 0.7l-1.8 -0.9M348.7 311.5l2.9 -1.7l1.0 -1.5l3.2 0.2l0.9 0.4l2.5 -0.4l2.8 0.3l0.5 -1.6l1.6 1.9l2.3 2.1l1.8 -0.6l1.4 0.4l2.5 1.5l1.2 0.6l2.9 -0.4l0.7 1.1l2.0 -0.3l2.2 -0.5l2.0 0.3l1.8 -0.2l2.0 1.5l1.2 -1.1l1.4 -1.6l2.5 -0.1l1.9 0.9l2.4 -1.6l1.4 -0.7l1.9 -1.2l2.0 -0.6l1.3 -0.1l2.1 -0.4l2.1 -0.1l2.2 0.6l1.4 1.0l1.0 -0.1l2.6 1.0l1.6 -0.7l1.6 2.1l3.9 1.0l0.3 0.2l1.9 0.8l2.9 -0.3l1.2 0.4l1.9 0.6l1.2 -0.5l1.5 1.0l2.1 -0.7l2.1 0.1l1.7 -0.8l2.2 0.1l1.7 -0.1l2.2 -0.5l0.8 0.0l3.5 -0.6l-5.2 -3.4l0.4 1.0l2.0 2.7l-0.5 1.0l0.1 1.0l-1.1 1.7l-0.9 2.0l-1.1 2.1l1.7 1.3l0.1 1.6l-1.3 2.8l1.5 1.1l-1.6 2.1l0.1 2.2l0.3 1.9l-0.3 1.9l1.4 0.2l-0.1 2.6l-0.3 1.3l0.0 1.2l0.9 2.2l0.3 1.5l0.0 1.9l0.7 1.4l-1.4 2.5l0.3 1.3l-0.3 1.7l-1.0 2.1l-0.2 0.6l0.2 2.1l-0.6 2.7l-0.9 0.5l0.6 3.2l-0.4 1.1l-0.3 -0.4l-0.6 3.1l0.8 2.2l1.5 1.1l-2.0 2.0l1.6 1.7l1.3 2.2l0.7 -0.1l0.6 3.4l0.5 1.2l-0.9 1.0l1.8 2.8l0.0 1.2l-1.0 2.7l0.6 1.2l0.7 1.6l0.2 1.8l-2.0 2.3l0.0 0.5l-1.4 2.1l-1.8 1.9l5.4 -7.5l-2.5 0.6l-0.5 -0.1l-2.3 -0.4l-1.5 0.9l-1.9 0.8l-1.8 -2.5l-2.0 2.4l-2.4 0.7l-1.5 0.8l-2.1 -0.6l-0.5 0.7l-1.8 1.3l-2.5 0.7l-1.6 1.0l-2.2 0.2l-2.5 0.6l-0.2 -0.6l-2.3 2.8l-1.2 -1.9l-3.2 0.7l-1.6 -1.4l-3.0 -0.6l-1.1 1.1l-2.4 -1.8l-0.5 0.0l-2.0 -1.3l-2.2 -0.4l-3.4 0.0l-0.9 -0.8l-2.6 0.0l-2.2 0.0l-0.6 0.2l0.0 -0.3l-3.8 0.6l-1.4 0.2l-1.8 0.7l-2.3 1.9l-1.3 -0.4l-2.0 1.5l-3.0 -0.8l-1.1 1.4l-1.5 -1.3l-3.0 -0.1l-1.7 0.7l-0.2 0.4l-2.5 -1.1l-1.7 -0.2l-1.8 -0.1l-1.1 -0.2l-3.7 -1.0l-1.0 -0.4l-2.4 -0.4l-1.9 -1.0l-1.0 -1.0l6.0 5.9l-0.6 -2.1l-1.8 -2.2l1.1 -1.5l0.1 -2.2l-1.5 -1.6l0.5 -1.4l-1.3 -2.5l1.7 -1.5l-0.9 -1.3l-0.5 -2.1l0.7 -1.5l0.5 -1.4l-0.1 -1.5l1.5 -1.9l-1.0 -2.1l0.7 -1.3l-0.2 -2.2l0.6 -1.2l0.1 -2.2l0.7 -1.6l1.3 -2.2l-0.9 -1.1l-0.9 -1.8l-0.1 -1.0l0.8 -2.9l-0.6 -2.3l-0.8 -0.4l-0.8 -1.3l0.8 -1.8l-1.9 -2.3l2.0 -0.5l-1.5 -2.8l0.5 -2.7l-0.4 -1.8l1.1 -0.2l-0.7 -2.7l-0.2 -1.6l-0.2 -1.6l0.5 -1.7l1.7 -1.6l-0.5 -0.9M348.4 311.5l1.3 -2.7l-1.3 1.4l2.1 -0.7l1.1 -0.4l3.1 1.5l0.6 0.1l1.7 1.0l3.2 -0.6l1.8 0.6l1.6 0.6l2.6 -0.8l1.2 1.2l1.8 -0.1l1.5 -0.8l2.0 1.6l2.0 -0.9l0.8 0.2l4.0 0.2l0.7 0.1l2.1 0.4l1.1 -1.2l2.8 0.4l1.5 0.4l1.9 -1.1l1.2 0.4l3.0 -1.9l0.4 0.3l2.2 -0.3l1.7 -0.9l1.5 0.6l2.7 -1.1l1.4 -0.9l2.4 -0.1l0.5 0.4l2.4 0.3l3.4 -0.6l2.7 1.0l0.8 -0.9l1.2 -0.2l1.5 -0.9l2.2 0.9l0.5 1.1l3.0 -1.6l1.2 1.0l2.1 0.8l1.9 0.0l1.3 -0.7l2.5 0.0l3.0 0.2l1.5 0.1l2.3 -0.9l1.8 -0.2l1.5 1.0l1.6 -0.4l1.3 1.5l1.3 -0.1l-0.7 -0.9l3.0 2.0l-0.8 2.5l0.5 2.0l-0.1 0.0l-0.9 2.3l-0.7 1.9l-0.3 1.5l-0.2 1.5l-1.0 1.8l-0.8 1.1l0.5 3.5l-0.2 1.3l-0.7 1.6l0.7 2.2l0.2 1.3l-0.1 1.5l-1.4 2.5l1.2 1.7l-0.1 1.1l0.4 2.7l0.1 -0.1l0.0 2.4l-0.5 2.8l-0.2 0.7l1.6 1.6l0.0 1.6l1.6 1.5l-1.8 1.0l0.7 2.0l0.6 3.2l1.7 1.3l-0.4 2.4l-1.0 1.3l0.2 1.5l-0.1 1.1l-0.3 0.4l1.1 2.3l0.0 3.0l-0.3 1.6l-0.2 2.1l-0.8 0.7l0.6 2.7l0.8 0.6l-0.9 1.3l-0.8 2.0l1.8 2.8l-1.2 0.6l0.8 3.8l0.3 0.2l-0.7 2.7l0.6 1.8l-0.6 0.1l-1.3 3.2l-0.9 1.6l2.0 -2.9l-1.7 2.3l-2.2 -1.0l-2.5 -1.0l-1.9 1.0l-2.6 -1.1l-2.3 0.5l0.2 -1.1l-3.3 -0.8l-2.4 0.3l-0.9 -1.0l-1.9 0.9l-1.6 -1.7l-2.2 -0.6l-0.3 1.2l-2.7 0.1M352.4 348.1l0.0 -2.9l0.9 -0.6l-0.2 -2.0l0.7 -2.7l-0.3 -1.0l0.0 -2.2l0.8 -0.7l-0.9 -2.3l-1.6 -1.1l-0.3 -2.3l-1.6 -2.2l0.6 -1.8l-1.2 -1.6l-0.6 -1.8l-0.7 -1.4l0.3 -2.0l-0.8 -2.5l-0.3 -1.5l0.7 -2.0l0.1 -1.1l0.1 -1.0l1.5 -2.3l-0.9 2.3l1.4 -0.2l3.0 -1.5l2.2 2.1l0.3 -1.1l1.4 0.9l3.3 -0.1l1.2 0.8l2.2 -0.9l1.5 0.9l2.3 -1.8l1.5 1.3l2.2 0.4l0.8 0.3l3.0 -1.5l1.8 0.1l1.2 0.2l1.6 -0.1l2.7 0.8l0.7 -0.2l3.7 0.2l1.7 0.0l1.5 0.7l1.2 -0.5l2.7 -0.2l0.7 2.1l2.6 -1.3l1.4 0.0l2.0 -1.1l2.1 -0.5l1.3 1.2l2.4 -2.3l0.5 1.1l4.1 -2.3l0.2 0.2l2.2 -1.1l1.8 -1.2l3.1 1.2l1.5 0.3l1.3 -0.8l2.5 0.2l1.5 1.3l3.0 -1.4l0.7 0.9l1.2 1.7l2.8 0.2l1.8 0.5l1.7 0.9l1.9 1.4l1.8 1.5l1.2 -0.8l1.9 2.3l2.4 -0.9l2.6 0.9l1.9 1.8l-8.4 -8.3l1.9 2.6l1.3 1.8l0.1 1.8l1.2 0.6l0.2 1.7l0.8 1.4l3.6 2.0l-1.3 3.4l-0.2 0.2l-1.4 0.8l0.8 2.6l0.5 1.5l0.5 2.1l-0.7 2.2l0.9 0.5l-1.1 2.6l-0.7 2.3l-1.3 0.8l-0.1 2.9l-1.3 0.4l-0.3 2.7l-1.3 1.0l1.3 2.1l-1.8 1.4l0.8 2.2l0.1 1.0M423.2 401.7l-2.3 1.2l-1.0 -1.0l-0.9 1.6l-3.2 -1.6l-1.7 0.4l-1.9 -0.2l-2.2 0.3l-1.2 -0.9l-2.8 1.1l-1.4 -0.7l-1.7 -0.1l-1.7 -0.5l-2.5 -0.7l-0.6 -0.1l-2.3 -1.1l-1.3 0.3l-1.7 -1.2l-3.4 0.9l-0.2 -2.0l-3.3 1.4l-2.2 -0.4l-0.4 1.4l-4.2 0.7l-1.4 1.0l-0.6 -0.5l-1.6 0.8l-2.1 -0.4l-1.3 0.8l-1.3 -0.5l-3.3 0.6l-1.6 0.2l-1.4 -0.6l-1.8 0.4l-2.0 -0.5l-2.4 0.1l-1.8 0.9l-1.1 -1.9l-1.9 -0.5l-1.2 -1.8l-2.6 -0.2l1.7 3.7l0.5 -2.9l-1.2 0.7l1.3 -2.9l-2.5 -2.3l-0.4 -1.6l0.6 -1.4l-1.1 -1.9l-0.6 -0.7l-0.7 -2.6l-0.1 -1.4l0.2 -1.7l-0.3 -2.0l0.1 -1.5l0.5 -2.5l-1.0 -0.3l0.2 -3.3l0.4 -1.6l0.1 -0.7l0.9 -2.0l0.5 -1.5l0.2 -1.4l0.0 -3.0l2.0 -0.6l-0.1 -1.5l1.0 -1.9l-1.8 -2.0l0.6 -1.7l-0.4 -2.2l-0.9 -1.8l-1.2 -0.9l1.4 -1.9l-2.3 -1.9l0.0 -1.8l0.2 -1.6l0.4 -2.8l-0.9 -1.0l0.5 -0.7l0.0 -2.6l-0.4 -1.3l0.4 -2.0l0.0 -1.8l-0.3 -0.1l-0.3 -3.1l0.8 -1.9l1.0 -1.7l-0.2 -2.3l2.0 0.5l0.3 -2.6l1.2 -3.0l0.0 0.2l-0.9 -2.0l1.0 -2.1l-1.1 -2.7l1.0 -1.2l-4.4 2.9l2.3 -1.5l0.8 -2.7l3.5 -0.4l0.5 0.4l2.7 -1.3l1.5 -0.5l2.5 2.8l1.5 -0.2l3.1 -0.7l0.9 -1.0l-0.1 1.4l3.2 0.2l1.1 -0.4l2.3 0.5l1.8 -1.0l1.9 -0.7l2.3 3.2l3.3 -0.4l0.6 -0.2l1.9 0.8l1.8 0.6l1.5 0.3l2.1 0.7l2.0 -1.2l2.0 0.0l1.7 0.1l2.6 0.0l1.3 -1.6l0.6 -0.7l2.2 -0.7l2.7 0.9l2.1 -1.5l0.6 0.2l2.4 0.8l1.5 -0.4l2.6 -0.1l1.3 -0.1l2.7 -0.3l0.9 0.6l2.9 -1.0l1.2 0.1l2.1 1.4l1.5 0.1l1.9 0.5l1.1 0.4l2.4 -0.1l2.1 0.1l2.1 0.9l1.9 -1.6l1.9 0.5l1.1 0.3l2.9 0.6l0.6 -1.0l4.0 1.0l-2.6 -1.0l0.6 0.9l0.4 1.8l0.7 1.6l-0.8 2.2l-0.1 0.5l1.1 2.1l0.1 1.4l-1.0 3.5l1.2 0.3l-1.0 1.1l1.2 3.2l-1.6 2.3l1.4 0.5l-1.3 2.5l2.1 2.0l-0.6 1.7l-0.1 0.4l-0.2 2.8l0.1 0.7l0.4 2.1l0.5 1.4l-1.7 1.8l1.3 1.7l-0.3 1.8l0.1 2.4l-0.1 2.4l-0.9 1.2l-1.1 1.0l0.9 0.9l-0.8 2.2l-0.5 1.7l0.0 3.1l-0.6 0.9l-0.2 2.1l0.2 0.5l-0.4 2.8l0.1 1.0l1.0 2.3l1.6 0.9l0.3 2.4l1.5 2.3l-1.6 1.0l1.1 0.8M347.3 355.4l0.7 -2.9l0.1 -0.8l-0.4 -3.3l0.5 -1.1l0.0 -0.5l-2.0 -2.4l1.6 -3.2l-0.3 -0.9l0.6 -1.1l-0.4 -2.1l-0.5 -0.7l0.9 -1.6l1.6 -2.0l-1.2 -2.3l1.1 -1.9l-1.3 -1.6l0.7 -1.6l-0.3 -1.7l-0.3 -1.7l0.1 -0.2l-0.6 -3.4l0.9 -1.6l-0.4 -2.5l0.2 -0.4l0.3 -2.0l0.6 -3.0l-1.4 2.4l1.2 -0.3l2.1 -0.8l2.6 0.3l1.9 0.8l0.1 -0.4l3.7 -0.8l1.5 1.0l1.7 0.2l1.8 0.1l0.4 -0.3l2.8 0.7l0.9 -0.3l3.5 1.4l2.1 -1.8l1.5 0.2l0.4 -0.2l2.4 -0.9l1.6 0.1l2.1 0.0l2.1 -0.8l1.8 -1.6l1.5 1.1l1.3 -0.5l3.2 0.9l2.1 1.0l0.6 -1.1l2.4 -0.8l2.9 1.3l0.7 -1.2l1.8 0.7l1.0 1.8l3.4 0.4l1.5 0.5l1.0 -0.3l2.2 -0.5l2.3 1.0l1.9 0.4l2.5 -0.8l0.4 -0.3l2.3 0.3l2.4 -0.3l3.2 -0.3l0.6 -1.1l0.9 -0.2l2.0 -1.5l2.2 -1.6l2.3 2.0l1.3 -1.2l2.9 0.7l1.5 0.3l1.0 0.3l2.1 -0.8l0.4 0.1l2.8 1.2l1.1 -1.0l-0.8 2.1l1.6 0.1l-0.3 2.5l0.4 1.6l0.2 2.2l-0.2 2.2l0.8 0.9l-1.0 1.9l0.8 1.9l0.5 1.6l-0.3 1.9l-0.8 2.4l-1.9 0.9l1.2 0.7l-0.7 2.0l0.2 3.2l-0.6 0.0l0.9 2.3l-0.1 2.3l0.5 1.4l-1.5 2.2l0.3 0.9l1.7 2.0l-0.7 1.8l-1.1 1.9l0.7 1.1l-0.5 2.7l-0.1 1.5l0.6 1.7l-1.7 1.4l1.2 1.9l-0.2 1.6l0.0 2.5l0.0 1.3l-0.8 2.0l0.3 1.0l0.6 2.3l0.6 1.8l-1.2 1.3l0.6 1.2l0.5 3.4l0.1 -0.5l2.0 2.2l-0.6 2.5l-1.5 1.9l1.7 0.5l-1.8 2.3l1.1 2.3l1.8 1.0l-0.6 1.7l-0.7 1.8l0.4 1.8l-0.8 2.4l-0.5 0.7l0.5 0.1l-1.5 0.7l-3.0 1.3l-2.4 -0.2l-1.5 -0.4l-1.4 0.6l-0.5 -0.2l-3.0 0.2l-2.4 -0.9l-1.6 -1.6l-2.3 0.7l-0.1 -1.2l-2.5 -0.5l-2.3 -0.7l-0.7 1.1l-3.1 -0.9l-2.3 2.0l-1.6 -0.9l-1.9 0.7l-1.9 0.0l-1.0 0.4l-3.1 0.7l-1.2 -0.1l-0.9 0.6l-1.8 0.0l-2.6 -0.4l-2.6 0.9l-0.8 -0.7l-2.1 -1.2l-0.9 0.6l-2.6 0.9l-2.2 0.2l-2.0 -0.3l-1.5 -1.0l-2.8 -1.0l-0.4 -1.5l-1.1 2.1l-3.0 -1.6l-1.1 0.4l-4.3 -0.3l0.3 0.0l-2.2 -1.4l-2.0 1.4l-3.6 0.0l-0.5 0.5l-2.5 -0.8l-0.7 -0.2l-2.8 1.6l-1.6 0.5l-1.5 -1.2l-1.8 1.9l-1.8 -1.6l-1.6 0.6l-2.5 -0.2l-2.0 -1.4l2.9 2.6l-0.5 -1.4l-0.5 -3.0l1.1 -1.0l0.3 -2.1l-0.7 -1.1l0.4 -0.6l-0.6 -2.9l1.0 -1.2M356.5 307.9l-8.4 7.8l3.7 -0.3l0.0 0.3l4.0 -1.2l0.6 0.5l2.2 -0.3l2.3 -0.6l-0.8 0.2l3.6 -0.2l2.0 -0.5l2.5 0.8l1.0 -0.7l2.4 0.5l2.7 -0.4l0.1 -0.7l2.1 0.2l2.3 0.6l1.6 0.6l1.9 -1.1l2.5 -0.8l1.0 -0.7l2.9 0.1l1.9 -0.6l0.9 0.0l1.7 -0.9l1.1 0.4l4.2 -1.1l1.3 -0.1l0.9 0.4l2.9 -1.0l0.5 0.4l3.1 0.5l2.6 -0.4l1.3 -0.4l1.4 0.7l2.0 0.1l1.2 0.2l2.2 0.2l1.1 1.9l1.7 -0.1l2.5 -0.3l2.1 1.1l0.7 1.1l2.9 -1.0l1.3 1.8l3.0 -0.4l1.1 0.3l2.7 -0.5l1.5 -0.5l2.8 0.0l0.1 -1.4l2.8 -0.6l2.5 2.2l0.4 0.0l-3.3 -5.9l1.4 2.1l0.6 0.3l-0.1 2.4l1.2 1.8l-0.1 2.8l-0.8 1.2l0.7 1.5l-0.7 0.5l0.6 4.0l-0.6 0.3l0.5 2.4l-0.1 1.7l-0.4 1.1l-0.6 2.3l-0.6 0.3l1.0 3.1l-1.3 0.5l1.2 2.3l-0.3 1.6l0.0 2.6l0.2 1.1l-0.6 1.8l1.0 2.3l0.7 1.9l0.2 2.2l-0.9 -1.2l0.9 3.1l0.6 2.9l-0.2 0.8l-1.1 1.9l0.0 1.4l0.6 1.9l0.0 2.0l-1.0 1.5l-0.5 1.2l0.4 2.5l-1.0 1.0l-1.8 2.6l0.6 1.6l-0.6 2.2l0.1 1.7l-1.2 1.5l-0.3 0.9l-1.0 2.3l0.3 0.4l-1.1 2.7l1.5 2.1l-0.4 0.5l0.4 3.1l-0.5 1.1l1.2 1.6l0.2 2.1l-1.2 1.2l-1.1 2.2l8.5 -8.6l-1.6 2.7l-1.3 -0.2l-3.7 1.7l0.5 -0.3l-2.2 0.3l-3.6 0.1l-0.5 -0.8l-1.6 1.1l-1.3 -1.1l-2.6 0.7l-1.5 -0.4l-1.2 -1.2l-1.3 0.7l-3.4 -0.1l-2.7 0.9l-1.6 0.5l0.7 -0.4l-3.5 0.9l-2.2 -0.2l-1.2 0.6l-1.6 0.8l-3.3 -0.1l-0.3 -0.5l-2.6 1.5l-2.0 -0.8l-2.7 1.2l-0.4 0.8l-2.5 -1.0l-2.3 -0.3l-1.8 3.1l-1.0 -1.6l-1.8 -0.6l-3.0 0.7l-2.8 -0.3l0.2 0.6l-2.1 -2.5l-2.3 0.9l-1.8 -1.1l-1.5 -0.3l-2.7 0.2l-0.9 -0.9l-1.8 0.2l-2.4 -0.7l-1.9 -0.2l-1.7 -0.4l-1.0 0.7l-2.7 -1.3l-2.0 0.8l-1.2 0.3l-1.8 0.0l-2.8 0.4l0.2 -0.4l-2.3 -0.1l-2.8 0.7l3.8 4.4l-0.3 -1.9l-1.1 -2.2l-2.2 -1.8l0.9 -1.4l-0.6 -1.6l0.0 -1.6l0.4 -1.6l0.7 -2.4l-0.1 -0.1l0.1 -2.7l-0.4 -1.1l0.8 -3.5l-0.5 -0.8l1.1 -1.9l-0.6 0.0l-0.6 -3.9l0.2 -0.7l1.1 -2.1l0.8 -0.6l-1.7 -2.5l-0.2 -2.2l0.0 -1.4l-0.6 -1.4l0.3 -2.1l0.4 -1.5l-1.1 -0.5l-0.8 -2.7l0.6 -2.9l0.1 -1.3l1.2 -0.6l-1.7 -2.5l0.6 -1.6l0.5 -1.3M447.2 401.0l2.1 -1.7l-1.6 2.5l-3.1 -1.0l-0.9 1.7l-1.5 -0.8l-2.5 0.0l-2.2 -0.4l-1.8 0.7l-0.3 0.0l-2.1 -0.1l-3.4 0.4l-2.0 -0.1l-1.2 -0.8l-1.7 0.4l-2.5 0.7l-2.1 -0.3l-0.7 -1.2l-2.8 0.2l-1.3 -1.4l-1.0 1.5l-2.8 -0.1l-1.5 -1.0l-1.5 -0.4l-2.7 0.4l-0.4 -0.7l-3.2 1.0l-1.6 -0.9l-2.1 0.7l-1.1 -1.2l-1.3 1.2l-2.2 0.9l-2.5 -0.7l-1.7 -0.2l-1.9 1.2l-3.0 0.4l-1.2 1.7l-1.9 -1.9l-1.0 1.2l-3.4 -0.6l-1.0 0.2l-1.9 -0.2l-1.4 -0.1l-1.7 -1.7l-1.0 2.2l-3.4 -0.2l-0.8 -0.3l-2.0 0.1l-1.9 -1.3l-2.5 0.8l-1.9 0.0l-0.6 -0.6l-3.0 1.0l-1.1 -1.3l-2.0 -0.3l-2.1 -0.4l1.3 -0.1l-2.5 0.5l0.4 -2.7l-1.1 -1.1l1.9 -1.8l-0.8 -1.5l0.8 -2.0l-1.5 -0.6l1.6 -2.4l-0.9 -1.2l-2.0 -2.7l2.5 -2.1l-1.6 -2.0l1.0 -0.6l-0.1 -1.9l0.7 -2.5l-0.1 -1.2l0.3 0.1l0.1 -2.9l-1.6 -1.2l0.4 -3.1l-0.6 -0.7l1.0 -1.4l-0.9 -2.2l-0.2 -0.7l0.0 -2.9l-0.1 -2.0l1.4 -0.6l-1.3 -1.7l0.7 -1.8l0.1 -3.2l-1.7 -1.5l1.2 -0.8l1.0 -3.3l-0.7 -1.1l-1.1 -2.3l0.7 -1.2l-0.5 -0.8l0.6 -2.6l0.1 -1.9l0.7 -1.8l-2.3 -0.4l1.7 -2.3l0.1 -2.9l-0.5 -0.7l0.9 -2.6l1.0 0.3l-0.8 -2.5l0.4 -1.8l0.2 -1.6l-0.2 -3.0l0.6 0.1l-0.9 -3.2l1.6 -1.4l-0.3 -2.0l-2.6 2.0l2.9 -0.2l0.1 -1.9l2.2 -1.2l2.8 1.8l2.2 -0.6l2.4 -0.6l0.5 -0.5l2.3 1.5l1.1 -1.1l4.4 0.5l1.1 -0.6l1.6 1.1l1.2 -1.0l2.8 0.9l0.8 -0.1l1.4 -0.1l2.9 0.1l0.7 0.5l1.5 0.0l1.7 -1.0l3.7 0.8l1.1 0.3M350.3 313.0l2.3 -0.3l1.3 -0.7l1.8 -0.4l2.5 0.0l2.6 0.2l1.0 -1.0l1.8 1.3l1.6 -2.8l3.0 -0.4l1.1 -0.5l0.9 0.9l2.0 -2.0l3.8 0.3l1.2 0.7l2.4 -1.3l-0.1 1.4l3.6 0.7l0.6 -1.0l2.7 1.0l1.4 0.7l2.1 1.5l1.1 0.0l2.1 2.0l2.0 0.7l2.2 0.2l1.5 0.1l2.2 0.8l2.9 -0.3l0.6 -0.6l2.1 0.1l1.7 0.1l1.9 0.2l1.0 -1.3l1.8 -0.3l3.3 -1.2l0.4 -1.6l2.0 0.6l3.1 -1.9l1.6 0.1l0.5 0.0l3.0 -0.4l0.8 -0.6l1.8 0.0l2.8 0.4l2.3 -0.7l2.1 1.9l1.1 0.6l1.7 0.5l1.6 0.3l1.9 0.7l2.5 0.0l0.4 1.9l3.5 1.0l-6.3 -4.9l1.5 1.1l-1.0 2.6l0.6 1.0l0.4 2.7l1.7 0.8l-0.4 1.4l1.7 3.4l0.0 1.9l-0.3 0.4l0.7 2.5l1.7 1.1l0.3 2.6l-1.8 -0.1l1.1 2.7l-0.4 1.0l-0.3 2.4l1.7 2.2l-1.5 1.8l-1.0 1.1l-0.9 1.3l0.5 2.2l0.5 1.6l0.2 1.7l-1.8 1.6l0.2 1.8l-0.3 2.4l0.6 1.3l-0.3 0.6l-0.9 2.3l1.2 2.7l-0.7 0.7l0.7 1.9l0.1 2.0l-0.1 0.9l-0.1 2.6l-1.3 2.0l1.4 1.9l-0.6 2.0l0.2 1.2l-1.0 1.8l-0.2 1.1l-0.3 2.0l-0.7 0.9l1.1 2.8l-1.4 1.0l1.5 2.3l-0.1 1.0l0.1 2.1l-1.0 1.2l1.5 2.1l-1.0 1.9l1.7 0.7l0.2 1.8l1.9 -1.6l-1.2 1.1l-2.9 0.8l-1.3 0.7l-2.1 -0.2l-1.6 -0.4l-1.5 0.5l-1.4 -0.2l-2.7 -1.0l-2.5 -0.5l-0.8 -0.8l-1.9 0.2l-2.2 -0.2l-2.0 -0.6l-1.4 -0.9l-2.0 -0.4l-1.6 1.3l-3.1 -0.2l-0.5 -0.9l-1.7 1.1l-1.5 0.8l-2.3 -0.1l-2.5 1.0l-1.7 -0.4l-2.4 3.9l-1.2 0.0l-2.7 -0.7l-0.3 0.5l-2.8 -0.7l-0.6 0.9l-4.1 -0.6l-1.7 0.6l-1.6 -0.1l-0.4 -0.4l-1.9 0.4l-2.7 -0.2l-2.0 -2.3l-1.8 -0.8l-1.1 0.9l-2.5 -1.4l-1.2 0.1l-2.8 -1.1l-1.8 -0.8l-2.0 0.6l-1.3 0.2l-1.8 -1.1l-1.6 1.1l-2.9 -0.3l-1.2 0.4l-1.3 1.4l-2.7 -0.3l-2.1 2.4l-0.8 -2.0l-2.6 1.6l-1.3 -0.6l0.8 0.7l-1.8 -0.7l-0.5 -1.8l0.3 -2.3l0.2 -1.6l0.3 -1.6l0.5 -1.7l0.6 -2.5l1.0 -1.0l2.0 -1.4l-1.0 -1.2l-0.4 -2.8l0.9 -2.2l1.3 -0.5l0.4 -2.9l-0.6 -1.2l0.0 -1.4l-1.3 -1.8l-0.4 -2.3l1.1 -1.5l-0.7 -1.2l-1.5 -1.7l0.8 -2.0l-1.2 -2.3l0.4 -0.6l-1.0 -2.4l0.2 -1.1l0.0 -1.6l1.0 -1.7l0.0 -2.0l0.0 -1.7M444.6 396.6l-2.5 -0.6l-3.3 1.2l-2.9 -0.7l-3.7 -0.3l-2.6 2.9l-3.1 0.6l-3.9 1.4l-3.1 0.7l-2.7 -0.6l-3.2 -0.7l-2.6 -4.7l-3.0 1.0l-3.4 -1.1l-3.7 -2.5l-2.5 0.2l-2.7 -2.6l-3.1 -0.9l-3.5 4.4l-3.1 0.2l-4.0 -1.5l-2.6 -0.5l-1.9 -2.2l-5.0 2.1l-2.3 -0.8l-3.7 1.1l-2.4 -1.7l-4.1 1.7l-2.6 -1.5l-3.0 -0.2l-2.6 -0.4M353.7 390.7l3.1 -2.4l0.9 -3.6l3.7 -0.7l3.0 -1.6l2.8 -2.7l2.1 -2.0l3.2 -1.6l3.3 -0.7l2.5 -3.7l3.5 -1.0l2.3 -1.0l4.6 -0.4l3.1 -0.2l5.2 1.1l2.2 0.3l4.1 -1.4l2.9 -1.3l3.7 -1.5l1.6 -3.5l3.0 -2.5l3.1 -0.6l3.5 -1.3l1.7 -4.2l2.2 -2.5l3.5 -0.1l4.2 0.6l4.6 -0.2l3.4 -0.8l2.1 -2.9l3.9 0.7M368.6 314.1l1.7 2.7l2.9 0.6l1.0 3.1l3.5 0.7l3.3 0.4l2.5 -3.2l1.6 1.7l2.5 -0.7l3.2 -0.3l2.8 2.1l2.0 2.5l2.9 -1.7l2.5 0.5l2.6 1.2l1.5 3.2l2.0 2.6l3.5 -3.5l2.8 2.4l2.3 -3.2l2.6 2.3l2.3 1.6l2.1 -0.8l3.5 -2.5l2.1 0.8l3.5 -0.1l2.4 0.1l2.5 0.2l2.8 -2.6l1.7 3.5l3.4 -0.5M446.7 397.4l-4.9 1.4l-3.1 -1.2l-3.1 -3.4l-2.7 -1.4l-2.7 -3.3l-3.2 -0.6l-4.0 -1.6l-4.1 0.2l-1.6 -3.0l-4.3 -1.5l-3.5 -1.5l-3.7 -0.6l-2.0 -2.6l-2.6 -2.1l-4.4 -2.1l-3.2 0.4l-1.7 -2.5l-4.9 -2.3l-1.2 -3.1l-2.7 -3.1l-2.1 -3.4l-3.3 -1.3l-3.5 -1.7l-3.7 -2.0l-1.5 -3.3l-3.2 -2.1l-4.1 1.2l-1.4 -4.5l-2.6 -3.3l-3.8 -0.4M446.8 371.7l-4.8 1.4l-3.0 -2.2l-2.8 -1.6l-4.2 -1.1l-2.8 -2.9l-3.2 0.1l-4.2 0.0l-2.5 -3.6l-2.4 -1.9l-3.1 -2.3l-3.8 -1.2l-1.6 -3.7l-2.6 -1.2l-3.9 -1.4l-0.2 -5.2l-2.5 -2.0l-3.1 -1.9l-1.5 -4.8l-3.1 -2.0l-1.1 -2.7l-1.9 -4.0l-3.1 -1.4l-1.6 -4.2l-3.2 -0.7l-3.6 -2.6l-4.9 1.2l-2.1 -2.7l-0.5 -3.9l-3.7 -3.3l-2.8 -0.9M442.8 317.5l-2.8 0.2l-3.2 -0.2l-2.7 -1.3l-2.9 -0.2l-2.8 -0.4l-3.4 1.4l-3.3 -2.0l-2.6 -2.0l-3.5 0.0l-3.0 1.3l-3.2 -1.9l-2.9 -1.8l-3.2 0.5l-3.9 0.4l-2.2 2.8l-4.5 0.6l-1.9 1.4l-3.3 -1.3l-4.0 0.1l-2.6 0.1l-2.7 -1.4l-3.6 0.7l-3.8 1.0l-1.8 0.8l-3.6 -0.1l-3.2 -1.6l-3.2 -1.0l-2.7 -0.9l-3.4 -1.6l-2.5 -2.3M432.1 394.7l-2.1 -2.7l-1.9 -2.1l-3.2 -0.2l-2.7 -2.1l-2.4 -1.0l-1.9 -1.6l-2.3 -2.6l-4.3 -0.3l-2.0 -0.5l-2.5 -2.1l-1.9 -2.1l-2.0 -2.0l-2.2 -3.8l-3.5 0.9l-4.4 0.0l-2.6 -0.3l-1.1 -2.7l-2.7 -2.8l-1.1 -3.2l-3.9 1.5l-1.9 -2.9l-2.4 -1.9l-1.8 -1.6l-3.3 -1.0l-3.5 -0.7l-2.6 -0.8l-2.6 -2.5l-3.5 1.6l-2.3 -1.2l-1.9 -2.7M357.4 311.8l2.6 2.5l1.5 2.5l-0.2 3.3l1.2 2.6l2.6 2.7l-1.3 2.4l-0.4 4.3l-0.2 2.1l-0.3 2.7l-0.1 3.8l0.0 3.5l0.3 3.2l1.1 1.5l0.9 3.8l3.9 1.5l0.9 3.7l2.1 1.7l0.1 3.5l3.7 1.6l1.0 3.5l-2.4 3.0l1.2 3.0l-0.5 3.3l2.1 1.6l1.6 2.6l0.4 3.8l0.8 2.2l1.4 2.4l-0.9 3.4l0.8 3.3M443.4 315.4l-0.8 2.9l1.8 2.0l3.0 3.3l0.7 3.2l-2.5 3.5l-0.4 1.6l0.2 3.0l-2.3 3.1l-0.4 2.7l-1.4 2.8l0.6 2.3l0.4 3.5l0.5 2.7l0.3 2.6l-0.6 3.7l0.4 2.6l-2.0 2.8l1.0 2.7l-0.3 3.1l-0.9 2.6l-0.1 3.0l-2.9 2.2l1.0 3.0l-0.7 3.3l3.8 2.2l-2.1 3.2l-1.0 3.0l-1.8 3.2l0.0 2.0l-1.6 3.2M448.4 356.0l-1.3 3.1l-1.2 1.6l-3.0 1.4l-3.3 -1.3l-1.5 2.0l-1.3 1.7l-2.7 1.1l-1.5 2.2l-3.9 -0.1l-1.4 0.4l-0.8 4.4l-0.5 3.1l-3.0 -1.1l-2.9 1.3l-1.7 2.0l-3.4 -0.7l-2.5 1.4l-2.7 -0.3l-0.9 2.0l-1.1 2.7l-1.5 2.6l-1.4 1.8l-4.8 -0.8l-0.5 1.9l-1.5 3.2l-1.2 0.7l-2.4 1.2l-1.8 1.2l-1.6 3.4l0.1 4.0M444.5 375.7l-0.8 -2.9l1.6 -2.0l0.2 -3.0l0.7 -2.1l-0.5 -3.2l1.9 -3.8l-2.1 -0.9l-0.8 -2.7l-1.0 -2.1l-2.2 -2.0l-1.5 -0.9l-0.3 -2.7l0.0 -2.2l-0.8 -3.2l-4.8 -0.3l-1.0 -2.4l-2.4 -0.6l0.9 -3.1l-4.3 -1.7l1.7 -2.1l-1.2 -0.7l-0.8 -3.8l-3.0 -2.6l-1.5 -0.3l0.1 -3.4l1.8 -1.9l-0.5 -3.1l-3.0 -2.0l-1.2 -0.3l-3.3 -2.5" fill="none" stroke="#74326f" stroke-width="0.72" stroke-linejoin="round"/>
<rect x="365.84" y="324.74" width="63.72" height="63.72" stroke="#e2622c" stroke-width="1.4" fill="none"/>
<line x1="457.6" y1="303.5" x2="457.6" y2="409.7" stroke="#a9d27a" stroke-width="1"/>
<line x1="457.6" y1="303.5" x2="563.8" y2="303.5" stroke="#a9d27a" stroke-width="1"/>
<line x1="478.84" y1="303.5" x2="478.84" y2="409.7" stroke="#a9d27a" stroke-width="1"/>
<line x1="457.6" y1="324.74" x2="563.8" y2="324.74" stroke="#a9d27a" stroke-width="1"/>
<line x1="500.08" y1="303.5" x2="500.08" y2="409.7" stroke="#a9d27a" stroke-width="1"/>
<line x1="457.6" y1="345.98" x2="563.8" y2="345.98" stroke="#a9d27a" stroke-width="1"/>
<line x1="521.32" y1="303.5" x2="521.32" y2="409.7" stroke="#a9d27a" stroke-width="1"/>
<line x1="457.6" y1="367.22" x2="563.8" y2="367.22" stroke="#a9d27a" stroke-width="1"/>
<line x1="542.56" y1="303.5" x2="542.56" y2="409.7" stroke="#a9d27a" stroke-width="1"/>
<line x1="457.6" y1="388.46" x2="563.8" y2="388.46" stroke="#a9d27a" stroke-width="1"/>
<line x1="563.8" y1="303.5" x2="563.8" y2="409.7" stroke="#a9d27a" stroke-width="1"/>
<line x1="457.6" y1="409.7" x2="563.8" y2="409.7" stroke="#a9d27a" stroke-width="1"/>
<path d="M554.1 338.1l-0.4 2.8l0.3 0.8l0.7 2.8l0.7 1.3l1.4 2.6l1.0 1.6l0.3 0.3l0.3 3.4l1.0 1.0l0.5 2.0l-0.1 1.7l-0.6 1.0l-0.3 2.5l2.5 1.0l-1.4 3.5l0.3 1.3l-0.4 1.9l-0.4 1.3l0.2 2.1l0.2 1.3l0.3 2.6l-1.4 0.6l-1.1 2.4l0.1 1.5l0.0 1.5l-0.2 1.6l-0.9 2.2l-1.9 2.3l0.4 1.8l0.0 1.7l-1.3 2.0l1.0 2.2l-1.8 0.8l0.4 2.0l-1.4 1.6l-0.1 1.5l1.1 2.7l5.5 -6.3l-2.0 0.7l-1.3 0.7l-2.0 0.5l-1.8 -0.5l-1.8 0.6l-2.3 0.0l-1.7 0.2l-1.1 0.9l-0.9 0.1l-3.5 -0.6l-2.6 0.0l-1.0 0.6l-1.0 0.7l-1.8 -1.3l-2.1 2.2l-1.2 -0.8l-1.9 -1.6l-2.1 1.4l-2.3 -0.2l-0.6 0.3l-2.2 -0.1l-1.8 0.4l-1.8 -0.8l-2.3 -0.3l-0.7 0.9l-1.7 0.7l-3.1 -0.7l-0.8 -1.0l-1.9 1.1l-2.3 0.3l-2.1 -0.3l-0.3 -0.5l-1.9 -0.1l-2.5 0.8l-1.4 -0.3l-1.3 0.2l-3.1 -0.1l-1.3 -1.0l-1.8 0.4l-1.4 -2.2l-2.5 0.4l-1.5 0.0l-1.5 -0.6l-2.0 -0.1l-2.0 0.6l-1.5 -0.8l-1.5 -0.7l-1.2 0.2l-2.0 -0.1l-1.9 0.2l-2.7 -0.4l-2.3 0.5l-1.5 -1.9l-0.5 0.4l6.3 6.4l-2.2 -1.9l0.5 -2.0l-2.2 -1.0l0.5 -2.2l-0.7 -1.7l-0.6 -2.9l0.7 -0.7l-0.1 -2.6l-1.1 -1.8l0.7 -1.5l-1.1 -2.1l-0.7 -1.4l0.1 -1.5l0.6 -1.6l0.0 -2.3l-0.4 -2.5l0.4 -1.0l-1.6 -1.6l1.2 -1.0l0.5 -2.5l0.8 -1.4l1.5 -2.1l-1.1 -1.7l0.6 -2.2l0.4 -2.4l0.8 -0.8l0.0 -2.2l0.0 -1.4l-0.1 -2.4l0.8 -2.0l0.0 -1.4l-0.3 -1.6l0.3 -1.8l-1.2 -2.3l0.4 -1.9l-1.7 -2.3l0.9 -0.4l0.5 -0.8l-1.5 -3.8l-0.1 -1.2l0.0 -0.9l-0.6 -2.0l0.0 -2.7l-1.6 -1.4l0.7 -3.1l0.5 -1.1l-0.7 -0.7l0.2 -2.7l-0.5 -1.2l0.3 -2.4l0.4 -0.9l0.1 -3.1l0.9 -2.1l0.7 -0.7l-1.7 2.1l3.0 0.3l1.2 0.2l1.1 1.1l1.9 -0.1l2.1 0.4l0.7 -0.1l2.9 0.1l0.1 -0.1l3.0 1.0l1.4 -0.9l2.7 1.2l1.3 0.6l2.2 -0.3M543.5 398.7l-1.3 0.2l-2.4 -0.8l-0.9 1.5l-2.5 0.6l-0.7 -0.1l-2.2 1.9l-1.0 -0.6l-2.8 1.7l-2.8 0.1l-1.6 0.6l-1.1 0.3l-3.3 -0.5l-0.8 0.3l-0.5 0.8l-3.3 -2.7l-0.2 0.5l-2.0 -1.4l-2.5 -0.5l-2.2 -1.1l-1.4 1.3l-2.2 -2.1l-2.5 0.3l-0.4 -0.9l-2.3 -0.5l-0.7 -1.2l-2.9 1.4l-2.1 -1.4l-2.0 0.3l-1.3 1.9l-1.8 -1.1l-1.8 1.7l-0.9 -0.6l-2.7 1.1l-1.6 0.7l-1.6 0.4l-1.6 0.9l-3.0 -1.0l-1.3 0.3l-1.9 1.2l-0.8 -0.9l-2.4 0.0l-1.8 0.0l-2.4 -1.3l-1.7 0.6l-0.7 -1.5l6.4 6.9l-1.3 -1.9l0.1 -3.2l-1.3 -0.8l0.2 -2.9l0.1 -1.2l1.2 -1.9l-0.3 -2.4l-0.8 -0.4l-0.5 -2.7l0.5 -2.2l-1.5 -1.9l0.9 -0.6l0.0 -2.5l0.2 -1.2l0.9 -2.4l-0.5 -2.5l-0.4 -0.5l1.1 -2.5l-1.2 -2.0l0.8 -1.7M554.5 326.3l1.0 2.8l-0.9 1.6l-1.0 1.8l0.7 2.2l-1.0 1.4l0.4 1.3l1.0 2.4l-0.1 2.3l-1.4 1.0l1.2 1.8l-0.4 2.4l0.1 1.9l0.6 2.3l0.5 1.6l-1.0 0.4l0.3 2.0l1.1 1.9l0.8 1.0l0.2 3.1l-1.0 1.7l0.1 1.3l0.3 1.7l0.6 2.0l-0.1 2.3l-0.2 0.6l-1.3 2.9l-0.3 1.2l0.3 1.6l0.8 1.9l-1.7 1.8l0.6 1.9l0.4 2.3l0.0 2.0l-0.9 1.1l0.9 2.0l-0.3 1.9l-0.1 0.9l0.4 3.5l0.8 0.9l-0.4 1.8l1.5 1.8l-1.8 1.4l-0.2 3.3l4.0 -4.0l-2.4 1.9l-0.4 0.0l-2.5 1.0l-1.0 0.2l-2.5 -0.7l-0.8 0.3l-1.6 0.1l-2.5 0.9l-1.7 -2.7l-1.6 1.0l-2.3 -0.2l-1.0 -1.5l-1.6 0.8l-3.0 -0.6l-1.4 0.5l-1.3 0.3l-2.1 -1.3l-2.3 1.4l-1.9 -1.1l-0.2 0.2l-2.6 0.8l-2.6 0.8l-1.6 -0.7l-1.1 0.0l-0.9 1.1l-2.2 -0.1l-2.6 -0.9l-2.5 0.5l-0.8 0.0l-1.7 0.0l-2.2 -0.7l-1.1 0.4l-2.8 0.1l-1.3 -0.3l-1.3 -0.5l-2.2 1.4l-1.8 -0.1l-1.5 -1.6l-2.1 -0.2l-1.8 -0.2l-1.6 -0.3l-1.8 0.0l-1.8 -0.1l-2.7 0.5l-0.9 -1.5l-2.1 -0.2l-1.6 1.7l-1.6 -0.5l-1.1 0.9l-1.7 -0.9l-2.3 1.9l-2.2 -1.4l-1.1 -0.6l-2.8 -0.5l4.5 4.1l-1.1 -2.3l0.5 -0.9l-0.3 -1.4l-0.9 -1.6l0.4 -2.2l1.6 -3.3l-1.3 -1.1l0.8 -1.3l-0.5 -1.3l0.3 -2.5l-0.2 -1.4l1.2 -1.5l0.4 -1.7l0.1 -2.6l-0.6 0.1l0.0 -3.1l0.8 -1.4l-1.6 -1.9l0.8 -2.6l-1.0 -1.3l0.7 -1.3l-0.2 -2.9l-0.3 -0.5l0.5 -2.2l-0.8 -3.3l-0.1 -0.7l-0.4 -0.7l0.7 -2.9l-0.9 -1.2l-0.7 -3.1l0.5 -1.1l0.6 -2.0l-0.1 -1.7l-0.6 -0.8l0.8 -1.8l-0.7 -1.5l0.4 -3.0l0.1 -1.5l1.7 -1.6l-1.2 -1.7l1.0 -1.7l-0.3 -2.1l-0.4 -0.9l0.0 -2.6l0.6 -2.6l-0.3 -0.7l0.1 -3.1l-0.6 -1.8l0.4 -0.5l-0.3 -2.4l-1.2 -1.8l-1.2 -0.9l1.7 -1.9l0.3 -3.3l-3.3 4.3l1.2 -0.7l2.0 -0.9l3.9 -1.3l-0.3 0.3l1.8 -1.1M559.2 317.9l0.3 3.4l0.8 1.1l0.5 2.1l-0.2 2.3l-1.9 2.1l0.4 1.4l-1.1 1.7l0.9 1.6l-1.1 1.6l-0.1 2.4l0.6 1.0l0.3 2.6l1.1 1.9l-1.1 1.7l0.9 1.1l-0.3 2.9l0.9 0.9l-0.1 2.8l0.0 0.6l-2.0 1.7l-0.4 1.9l1.1 2.8l-1.3 1.9l-1.3 1.6l0.4 1.7l-0.4 2.0l-1.1 1.6l-0.1 1.1l-0.7 2.8l0.5 0.7l-0.9 2.0l0.0 2.6l-0.4 1.6l0.3 1.2l1.4 2.7l1.6 0.7l-0.4 2.1l0.6 2.3l1.4 1.3l-0.2 1.8l1.1 2.0l-0.2 0.8l0.7 2.7l-0.3 1.6l-0.2 1.7l0.3 2.2l-0.5 1.6l1.6 -0.4l-2.4 0.2l-2.1 0.6l-2.6 -0.6l-0.3 0.2l-3.0 -1.8l-0.9 0.8l-2.3 -0.7l-1.4 0.3l-1.1 -1.5l-3.0 0.4l-1.2 0.8l-1.8 0.2l-1.6 0.4l-1.3 1.7l-1.9 -1.0l-1.8 2.0l-2.8 -0.1l-1.2 -0.6l-2.6 1.7l-1.5 -0.6l-2.6 -0.2l-1.3 -0.3l-0.7 0.2l-2.2 0.3l-1.7 -0.4l-1.5 -0.8l-2.6 -0.5l-0.4 -0.9l-2.7 0.1l-2.7 -0.2l-1.1 -0.6l-1.4 0.6l-1.4 0.5l-2.0 1.7l-2.1 -2.1l-1.8 1.8l-1.8 0.8l-2.0 0.3l-2.1 -0.8l-1.1 1.1l-0.9 0.0l-2.7 0.7l-2.4 -1.7l-1.3 0.1l-1.7 -0.3l-3.0 0.7l-0.3 -0.6l-3.3 1.2l-0.6 -0.3l-2.3 -0.6l-2.0 -1.5l-0.8 -0.6l-2.9 -0.5l0.0 -0.9l2.8 4.2l-0.7 -1.2l-0.6 -2.7l0.6 -2.7l-0.8 -1.9l-0.9 -2.0l0.7 -1.2l-1.0 -2.0l-0.3 -2.1l-0.4 -1.2l-1.4 -3.5l0.6 -0.9l-1.6 -2.3l0.0 -1.2l0.6 -1.3l0.8 -2.4l0.3 -1.3l-1.2 -1.5l0.1 -1.7l1.5 -2.5l-0.2 0.1l0.9 -3.0l0.6 -3.0l-0.3 -0.8l-0.9 -1.8l-0.2 -1.7l1.4 -0.7l0.0 -3.0l-1.8 -0.8l0.1 -2.5l-2.0 -1.5l1.8 -2.6l-1.2 -1.3l0.1 -1.4l0.7 -2.6M465.0 378.5l-0.4 0.9l0.1 -2.9l-0.1 -1.0l-0.1 -2.1l-1.1 -2.2l0.6 -2.7l-1.0 0.5l-0.3 -2.5l1.0 -2.1l0.4 -2.3l-1.7 -1.2l1.5 -2.2l-1.1 -1.9l0.4 -1.4l1.0 -1.2l0.1 -1.7l-0.6 -2.5l0.2 -1.8l1.1 -1.2l1.0 -2.3l-0.2 -1.6l0.6 -2.4l-0.8 -0.6l1.2 -3.6l-1.7 -1.4l0.1 -0.9l1.2 -1.5l-1.6 -2.4l0.4 -1.6l-0.6 -1.0l0.4 -1.8l-1.8 -2.7l-0.4 -1.7l0.3 -1.6l-1.2 -1.7l1.2 -2.2l-0.2 -1.5l-1.0 -2.6l2.0 -1.2l-0.3 -1.8l-1.4 -0.2l2.4 0.1l2.4 -0.5l0.0 -1.1l1.6 0.4l3.2 -0.9l1.3 2.1l1.3 -2.2l1.9 0.3l2.2 0.3l1.2 1.7l2.8 -1.7l1.6 0.4l2.2 -0.8l1.4 0.6l1.7 -0.4l1.7 1.2l2.2 -0.1l0.8 -0.1l1.5 0.8l2.7 -0.7l2.0 1.0l1.2 -1.7l3.2 0.3l0.2 -0.1l1.2 -0.1l1.7 -0.3l2.6 -0.5l0.1 0.1l2.7 1.0l2.2 -0.4l2.4 -0.3l1.7 0.5l0.9 -0.8l2.4 1.3l1.4 -0.2l2.7 -1.6l0.4 1.1l2.8 -0.4l1.6 1.0l1.2 0.0l1.2 0.2l2.9 0.9l1.8 0.0l1.3 -0.6l2.4 0.8l2.6 -0.2l1.1 0.7l1.8 0.1l1.8 -0.3l2.2 -0.8l-0.8 0.5l3.6 -0.5M555.6 330.7l0.0 2.9l-0.2 2.7l0.0 -0.1l1.4 2.8l-0.5 2.1l1.3 0.7l-1.7 2.5l1.8 1.5l0.5 2.3l-0.3 2.4l-0.4 0.4l-1.3 3.3l0.2 2.1l-0.4 0.9l-0.8 1.9l0.5 1.6l-1.0 2.1l-0.8 1.0l-0.5 2.9l0.3 1.5l-0.3 0.9l-0.8 1.8l-0.4 2.2l1.4 1.7l0.1 1.4l0.4 2.0l-1.2 1.7l2.4 1.8l0.1 2.6l0.4 0.6l0.9 1.7l1.1 2.9l0.8 1.4l0.0 0.6l1.7 2.5l0.1 2.6l-0.4 1.5l0.5 1.1l-1.3 2.5l-1.9 1.5l0.5 2.2l0.7 -3.0l-1.0 0.9l-1.9 0.0l-2.6 -1.5l-0.4 -1.0l-2.7 -1.5l-2.1 1.1l-1.0 -1.2l-3.0 -1.6l-1.0 -0.5l-1.8 -0.9l-2.1 1.2l-1.3 2.0l-3.0 -1.4l-1.1 0.5l-1.3 0.4l-2.1 -1.0l-1.7 2.7l-2.7 1.8l-0.4 -0.1l-0.4 1.0l-2.9 0.9l-2.9 -0.1l-1.4 2.1l-1.6 -0.2l-1.9 -0.4l-1.9 -0.2l-0.7 0.0l-2.6 0.9l-2.6 -0.5l-0.8 -0.3l-2.0 -0.7l-2.3 -1.2l-1.0 0.4l-2.9 -1.2l-0.8 -0.8l-1.9 -0.8l-1.7 -0.8l-2.6 -0.3l-0.2 -1.5l-3.3 1.1l-1.6 -2.1l-1.0 0.1l-1.9 0.3l-2.0 1.2l-1.0 -1.2l-2.1 -0.2l-1.9 1.6l-2.0 0.4l-2.0 0.5l-1.4 -0.3l-2.5 1.8l-1.8 -0.1l-0.9 -0.5l-1.7 1.0l3.7 3.2l-2.9 -3.7l0.1 -0.5l0.0 -2.6l0.1 -1.2l-1.6 -2.0l1.0 -1.3l-0.6 -2.0l1.6 -2.7l-1.7 -0.3l2.0 -2.2l-1.1 -2.0l0.8 -1.3l0.2 -1.5l0.1 -2.5l0.8 -1.6l0.0 -1.8l0.2 -2.2l-0.6 -1.4l1.6 -1.2l0.3 -2.6l0.0 -2.3l1.1 -1.8l-0.7 -1.0l1.1 -2.0l1.0 -1.7l0.9 -1.4l-2.0 -3.4l0.2 -0.2l0.1 -2.8l0.9 -1.4l-1.0 -1.3l-0.2 -2.6l-0.8 -1.1l0.7 -2.0l-1.4 -2.0l-0.2 -1.6l-1.2 -2.6l-0.8 -1.0l0.3 -1.7l-2.1 -1.3l0.0 -2.3l-0.2 -2.5l0.3 -0.8l-0.4 -3.6l0.8 -0.3l-2.4 -1.7M487.5 401.4l-3.4 0.1l-0.8 -0.6l-0.8 0.5l-2.9 1.1l-1.0 -1.2l-2.8 0.4l-0.3 1.5l-1.6 -0.8l-2.4 0.6l-2.9 0.4l-1.3 -0.3l-1.8 -0.3l-0.9 -0.3l1.3 3.9l-0.2 -1.9l-0.2 -1.4l0.5 -2.9l-1.0 -1.8l-0.3 -1.0l1.0 -2.0l0.9 -2.4l1.4 -1.0l-1.3 -1.6l1.5 -2.5l1.1 -1.0l-0.7 -2.2l0.9 -2.6l-0.3 -0.9l0.2 -2.7l0.7 -1.7l0.2 -1.4l-0.7 -2.6l0.1 -1.0l0.6 -2.1l-1.0 -1.2l0.3 -2.9l0.5 -1.6l-2.1 -1.5l0.0 -1.5l0.8 -3.3l-0.3 -1.5l-0.6 -0.9l-1.1 -3.0l1.0 -0.1l0.3 -1.0l-0.7 -3.2l0.3 -1.8l0.2 -1.8l1.1 -1.6l-0.8 -2.5l0.3 -0.4l0.0 -2.6l0.1 -2.4l-0.5 -1.3l0.2 -1.1l0.8 -3.0l-1.2 -2.0l-0.3 0.1l0.2 -3.2l-0.3 -0.7l-0.8 -2.8l-0.1 -2.3l-0.2 -0.7l-0.5 -2.5l0.5 -2.5l-0.4 -1.7l-0.1 -0.3l0.6 -2.5l-3.5 3.1l1.3 -0.5l2.5 -0.7l1.3 -1.0l1.3 0.6l3.3 -0.2l2.4 1.1l0.5 -0.9l1.3 1.2l2.0 -0.4l3.0 0.7l0.5 0.4l0.8 -0.2l2.6 0.6l2.1 1.2l1.2 -0.6l2.3 0.1l1.8 -1.2l1.8 0.0l0.6 0.6l2.5 -1.2l2.7 1.9l0.5 -1.4l3.9 -0.5l-0.1 -0.5l2.1 -0.5l2.4 1.9l0.2 -0.7l3.1 0.7l2.0 -0.9l1.8 0.9l1.5 0.1l2.0 -0.4l1.7 0.7l1.8 1.1l1.7 0.6l2.1 -1.1l1.3 1.6l1.8 0.8l2.4 0.8l0.5 0.3l3.0 -1.0l1.0 0.8l1.5 -1.9l2.5 1.0l1.9 -1.2l0.9 1.7l2.0 -0.8l1.3 -0.4l2.4 -0.8l2.9 -0.1l1.0 -0.9l2.0 0.3l2.2 0.9l0.6 -1.1l-4.3 -4.7l0.2 1.2l1.5 2.9l0.8 0.7l-1.5 2.3l1.4 3.3l-1.0 0.4l0.2 1.9l0.8 2.7l-0.1 1.7M540.6 399.0l-1.6 0.3l-2.5 -0.1l-1.3 0.5l-0.9 1.8l-3.2 0.0l-1.4 0.2l-2.5 1.2l-1.9 0.8l0.1 0.8l-3.6 1.6l-0.1 0.0l-2.4 1.1l-2.2 -3.8l-2.8 2.1l-1.6 0.2l-1.2 -0.1l-1.5 -0.8l-1.8 -0.7l-2.4 0.1l-1.6 -0.6l-1.9 -1.2l-1.2 0.3l-1.9 0.7l-1.6 -1.2l-1.8 0.5l-1.9 1.1l-2.0 -1.1l-1.7 1.6l-1.6 0.5l-1.0 1.2l-2.6 0.2l-1.4 -0.1l-3.7 0.3l0.0 -0.4l-3.1 0.0l0.1 0.6l-1.9 -0.3l-3.5 -1.1l-1.2 0.5l-1.6 -0.2l-2.5 -0.8l0.3 -0.8l-3.4 -2.1l4.3 4.1l-0.7 -2.5l-0.4 -2.7l0.4 -1.2l1.7 -1.4l-1.7 -2.4l-0.4 -0.9l-1.7 -2.2l-0.3 -1.6l-1.2 -2.3l-1.2 -0.5l-0.1 -2.7l0.7 -2.8l0.8 -0.8l-1.6 -2.3l1.6 -1.9l-1.1 -0.4l-0.3 -1.8l0.4 -1.2l-0.3 -3.7l1.1 -0.5l-0.4 -1.8l-1.2 -2.8l0.6 -2.3l0.1 -1.3l0.6 -1.6l-1.2 -1.6l1.2 -2.0l1.2 -2.3l-0.9 -2.0l0.4 -1.7l0.4 -1.8l-1.4 -1.8l-0.7 -1.1l0.1 -1.2l1.2 -2.4l-0.8 -1.3l0.3 -1.7l-0.7 -2.7l0.4 -1.6l0.0 -2.7l-0.3 -1.4l-0.3 -1.4l1.2 -1.7l-0.2 -1.7l0.9 -2.5l1.1 -0.8l0.0 -2.9l0.9 -1.6l1.8 -1.6l1.0 -1.3l-0.8 -3.3l-0.4 -1.6l1.2 -0.4M464.0 384.8l3.7 -0.9l3.4 -1.2l3.3 -1.8l3.1 -2.3l3.6 0.8l2.9 -1.9l4.1 -2.9l1.6 -3.1l2.6 -1.4l4.6 -0.5l2.2 -2.6l1.4 -3.0l1.8 -3.6l2.5 -3.5l3.4 -0.4l3.2 -2.5l2.6 -1.9l1.2 -2.6l2.6 -1.9l3.5 -3.2l1.5 -2.2l3.9 -1.5l2.8 -2.8l-1.4 -6.8l1.1 -2.3l5.3 0.6l1.8 -4.2l3.2 -1.8l0.6 -5.4l0.8 -3.0M486.6 404.7l2.4 -2.3l1.3 -0.8l2.7 0.6l2.4 2.9l2.8 -1.1l1.8 -1.5l2.8 -1.2l1.8 1.3l2.5 -1.3l1.1 -1.3l3.9 0.0l1.4 3.1l2.5 0.8l2.6 0.5l2.2 -1.1l2.1 -0.7l2.6 1.2l2.1 2.1l2.5 0.0l1.3 -2.7l2.7 -1.4l2.1 -0.1l2.8 0.5l2.3 -1.5l2.4 0.2l1.7 -0.4l2.9 2.1l1.3 -2.2l2.5 -2.8l3.3 2.5M469.1 397.0l-0.1 -2.7l1.7 -2.5l-1.2 -4.1l0.8 -2.4l0.3 -3.0l-2.5 -3.5l3.1 -2.4l3.3 -1.8l1.8 -3.1l0.3 -2.5l-2.3 -4.3l2.2 -2.0l1.4 -2.0l-0.2 -3.6l-2.0 -3.4l0.8 -2.2l1.3 -3.3l0.6 -2.4l-0.1 -4.0l2.1 -1.4l-0.5 -3.5l2.8 -2.6l0.1 -2.5l0.5 -3.5l-0.8 -3.3l0.2 -3.1l1.8 -2.4l3.1 -1.4l-1.0 -4.4l-0.4 -2.2M508.0 399.8l0.2 -2.5l0.4 -3.5l-0.3 -2.6l-1.0 -0.7l-2.7 -1.1l-1.8 -0.6l-1.0 -2.9l-2.8 1.2l-0.3 -3.0l-1.5 -1.1l-1.0 -1.2l-2.5 -0.7l-2.3 -0.7l-1.3 -1.6l0.3 -2.4l-1.9 -1.2l-2.8 0.4l0.0 -2.2l-2.4 -0.9l-0.1 -2.3l-2.2 -0.7l-1.6 -1.8l-0.3 -2.0l-2.3 -1.0l-1.3 -1.3l-0.3 -2.2l-1.2 -1.3l-3.5 0.1l-0.4 -1.5l-0.1 -2.1M540.2 313.0l2.8 2.6l0.2 1.0l-0.1 3.1l1.1 1.7l-0.4 2.3l-2.1 3.4l2.9 0.6l0.4 2.3l0.6 2.1l0.3 1.4l-2.2 3.0l-0.4 2.2l3.5 1.0l-0.3 2.7l0.1 2.5l-0.4 2.4l2.6 0.7l1.7 2.2l-3.1 2.5l-0.2 3.0l2.3 1.2l0.7 1.5l-0.2 2.4l2.0 1.6l0.8 2.2l1.2 2.3l0.2 1.3l2.2 1.8l-0.8 2.9l1.8 1.4M467.7 397.6l1.6 -3.7l6.1 -0.3l2.5 -2.3l2.8 -2.5l1.4 -3.9l2.0 -3.0l1.6 -4.3l3.4 -1.0l0.7 -3.7l3.1 -2.4l3.7 -1.7l2.8 -2.6l2.5 -2.5l1.5 -3.5l1.7 -3.1l1.6 -3.7l2.0 -2.7l4.7 -1.8l2.4 -2.8l1.0 -2.0l3.7 -3.7l1.2 -3.3l1.7 -2.3l2.4 -3.1l3.8 -1.0l1.0 -4.2l2.6 -2.8l1.9 -3.7l2.4 -3.2l2.1 -2.5M513.1 403.9l2.0 -3.4l-2.0 -2.1l-0.8 -3.6l1.7 -2.6l2.3 -2.1l0.8 -3.6l2.1 -2.7l1.6 -2.6l-4.9 -3.7l1.5 -2.9l-1.0 -2.4l0.5 -4.0l-0.8 -2.7l1.0 -2.1l2.0 -3.7l-1.6 -2.9l0.7 -2.5l0.9 -2.9l2.7 -2.8l3.8 -2.8l-2.0 -2.9l1.9 -1.9l0.5 -4.8l1.4 -1.9l-0.7 -2.8l1.1 -3.2l0.1 -2.8l-2.9 -3.7l-1.1 -2.8l-2.3 -2.2M555.5 350.2l-3.4 1.1l-1.6 -1.2l-1.0 -3.6l-1.2 -2.1l-3.4 -0.2l-3.0 0.6l-2.6 0.6l-1.4 -2.1l-3.4 0.5l-3.2 -0.9l-1.7 -1.3l-1.0 -2.3l-2.4 -1.0l-1.7 -1.6l-0.4 -3.2l-1.7 -2.5l-0.4 -3.1l-0.8 -1.9l-2.4 -1.4l-0.8 -3.3l-2.1 -1.7l-2.1 -0.2l-3.1 -0.9l-2.2 0.4l-3.2 -0.3l-1.4 -2.2l-1.8 -1.6l-2.0 -0.6l-2.8 -1.3l-0.7 -3.3M515.5 402.8l1.4 -2.1l1.7 -1.5l2.7 -0.9l-1.0 -1.7l1.8 -1.9l1.4 -2.5l1.9 -0.5l0.7 -1.8l1.4 -1.1l2.8 -0.1l-1.2 -4.8l3.5 -0.4l-0.9 -1.5l0.6 -3.0l1.4 -2.2l2.1 0.0l1.3 -1.7l2.0 -0.6l-1.0 -3.8l2.1 -1.4l2.1 -0.1l4.5 -0.2l0.8 -2.0l0.9 -1.3l0.0 -2.6l1.2 -1.5l0.9 -2.4l-1.0 -3.0l2.4 -0.5l2.3 -0.1M557.0 401.9l-4.1 -0.3l-2.1 -3.1l-3.6 -1.3l-2.6 -4.2l-2.4 -2.9l-0.6 -5.1l-3.3 -2.9l-3.0 -1.9l-3.5 -1.4l-3.0 -4.2l-1.7 -3.9l-4.0 -2.0l-2.6 -2.0l-3.3 -1.8l-3.9 -3.5l-3.1 -0.5l-4.2 -1.3l-4.0 -2.6l-1.3 -3.6l-3.2 -2.3l-3.6 -0.6l-5.0 -2.3l-1.0 -3.0l-4.3 -1.4l-2.6 -3.7l-2.7 -1.9l-4.4 -1.4l-3.6 -2.0l-3.2 -1.9l-3.6 -1.7M462.9 376.9l3.9 -1.5l-0.3 -3.2l3.0 -2.1l-1.0 -4.1l4.9 0.7l-0.6 -4.6l4.9 -0.2l0.4 -3.2l4.6 1.0l0.9 -2.8l1.7 -2.3l3.1 -2.0l2.6 -2.2l2.0 -2.0l2.8 -0.7l0.4 -5.1l1.2 -1.4l2.0 -2.1l1.9 -2.0l1.4 -3.3l0.2 -3.3l3.6 -0.8l2.4 -2.0l0.9 -2.8l0.5 -2.5l2.8 -2.1l1.2 -3.3l2.5 -0.9l-0.6 -4.0l2.7 -2.0M490.4 405.9l0.6 -4.6l1.6 -2.7l1.3 -3.7l3.8 -1.7l3.9 -1.9l2.2 -2.5l1.8 -2.7l4.2 -1.1l0.7 -3.6l0.2 -3.5l0.6 -4.2l1.9 -2.8l0.7 -4.3l0.5 -4.1l1.3 -3.2l2.0 -1.6l3.7 -2.9l2.9 -1.9l0.8 -2.3l5.1 -0.9l3.7 -1.2l2.9 -2.4l2.0 -2.2l2.8 -2.8l3.3 -2.1l1.6 -2.3l0.6 -3.1l3.3 -3.1l3.1 -1.8l0.1 -3.4M548.2 402.2l-1.0 -2.3l-0.6 -2.9l0.1 -3.0l2.3 -3.2l-2.2 -1.8l-0.7 -3.4l0.7 -3.4l1.0 -3.2l0.8 -2.9l0.1 -3.0l0.5 -2.9l-2.6 -2.8l0.7 -3.1l-1.4 -2.8l-0.7 -2.9l-0.3 -2.6l-1.6 -3.0l-2.0 -2.4l-3.9 -3.4l-0.2 -2.1l2.1 -4.0l2.5 -3.4l0.8 -3.1l-1.0 -3.1l-0.3 -2.5l1.1 -3.4l-1.5 -2.2l2.2 -2.9l-2.3 -3.0l2.6 -2.7M468.0 356.4l2.2 -1.4l-0.7 -2.7l2.0 -1.2l2.0 -0.8l0.8 -1.0l3.7 0.7l-1.9 -4.3l1.5 -2.7l-1.7 -3.6l2.4 -0.1l0.9 -1.6l1.6 -1.8l3.1 -1.0l1.8 1.0l1.7 -1.1l0.4 -2.4l1.1 -2.2l0.1 -1.5l1.7 -1.5l1.8 -1.1l1.3 -0.9l1.7 -1.5l2.1 -0.5l3.0 -0.6l2.0 -0.2l0.8 -1.8l0.4 -2.4l2.2 -1.0l2.6 -0.2l0.8 -2.2M552.3 311.9l-2.9 2.3l-0.3 3.5l-2.3 2.2l0.3 4.2l-1.9 2.7l-0.8 3.6l-0.6 4.2l-1.9 2.4l-2.9 2.7l-2.6 2.3l-1.7 3.2l-1.3 2.5l-2.1 2.6l-2.0 3.7l0.2 3.5l-0.6 4.0l-4.5 2.2l-2.0 0.8l-2.6 2.8l-3.5 2.4l-4.0 1.5l-1.4 3.6l-3.9 1.2l-1.3 3.1l-0.8 4.3l0.7 4.0l-2.5 2.2l0.6 5.0l-0.3 2.0l-3.4 3.4M556.6 403.7l-0.2 -3.0l0.4 -3.7l-1.0 -3.1l-3.2 -2.9l0.0 -3.2l-1.5 -3.4l1.0 -3.7l-0.4 -2.9l-3.8 -2.8l1.3 -3.8l1.5 -5.0l1.7 -3.8l-0.5 -3.4l-1.2 -2.9l2.5 -4.2l-2.2 -2.8l-4.8 -2.5l-0.7 -3.7l-0.8 -2.7l-0.2 -3.1l-2.1 -2.5l-2.9 -2.6l-0.6 -3.5l-3.1 -3.1l-1.0 -3.2l-1.6 -2.6l-2.5 -2.8l-1.5 -3.3l-1.8 -2.5l-1.2 -3.2" fill="none" stroke="#74326f" stroke-width="0.7" stroke-linejoin="round"/>
<rect x="478.84" y="324.74" width="63.72" height="63.72" stroke="#e2622c" stroke-width="1.4" fill="none"/>
<line x1="570.4" y1="303.5" x2="570.4" y2="409.7" stroke="#a9d27a" stroke-width="1"/>
<line x1="570.4" y1="303.5" x2="676.6" y2="303.5" stroke="#a9d27a" stroke-width="1"/>
<line x1="591.64" y1="303.5" x2="591.64" y2="409.7" stroke="#a9d27a" stroke-width="1"/>
<line x1="570.4" y1="324.74" x2="676.6" y2="324.74" stroke="#a9d27a" stroke-width="1"/>
<line x1="612.88" y1="303.5" x2="612.88" y2="409.7" stroke="#a9d27a" stroke-width="1"/>
<line x1="570.4" y1="345.98" x2="676.6" y2="345.98" stroke="#a9d27a" stroke-width="1"/>
<line x1="634.12" y1="303.5" x2="634.12" y2="409.7" stroke="#a9d27a" stroke-width="1"/>
<line x1="570.4" y1="367.22" x2="676.6" y2="367.22" stroke="#a9d27a" stroke-width="1"/>
<line x1="655.36" y1="303.5" x2="655.36" y2="409.7" stroke="#a9d27a" stroke-width="1"/>
<line x1="570.4" y1="388.46" x2="676.6" y2="388.46" stroke="#a9d27a" stroke-width="1"/>
<line x1="676.6" y1="303.5" x2="676.6" y2="409.7" stroke="#a9d27a" stroke-width="1"/>
<line x1="570.4" y1="409.7" x2="676.6" y2="409.7" stroke="#a9d27a" stroke-width="1"/>
<path d="M610.4 403.8l-2.6 -0.4l-0.4 -1.5l-2.6 2.6l-3.2 -2.7l-0.4 0.4l-2.1 2.3l-1.0 -1.1l-1.9 1.2l-2.5 -1.5l-0.4 1.5l-3.5 0.2l-2.5 1.1l-1.0 -0.7l-1.6 0.2l-3.5 -0.2l-0.2 -0.5l-2.3 1.0l-2.1 -0.1l-1.5 -0.5l0.7 1.0l-0.9 -3.4l-0.1 -0.8l-0.7 -1.5l0.7 -1.4l-1.5 -1.3l-0.4 -2.4l1.3 -2.7l0.3 -0.7l-1.8 -0.9l1.3 -2.6l1.3 -2.5l1.1 -0.9l0.3 -2.7l0.6 -0.4l-0.3 -2.4l1.9 -1.8l-0.9 -1.8l-0.4 -1.4l1.2 -2.5l-0.8 -2.0l0.7 -2.0l-1.1 -2.3l-0.5 -0.9l0.7 -1.6l-1.1 -2.7l-0.2 -0.9l-0.3 -2.9l0.3 -1.3l-1.3 -1.5l-0.3 -1.0l-0.3 -2.5l0.3 -1.7l-0.3 -1.1l-0.2 -1.0l0.8 -4.0l0.4 -0.4l-1.3 -2.2l1.6 -1.9l-1.0 -0.4l0.1 -2.5l0.2 -1.9l2.0 -1.7l-1.0 -1.4l0.7 -1.6l-0.1 -2.4l0.3 -0.7l-0.7 -3.8l0.8 -0.6l-0.8 -3.1l-0.4 -0.7l-1.1 -0.8l1.6 -3.3l-0.9 -0.6l0.0 -2.7l-0.2 0.9l2.2 0.1l0.9 -1.5l0.3 -0.1l3.0 -0.4l1.7 0.8l3.0 -0.1l1.0 0.1l1.3 -0.2l2.1 -1.4l2.4 1.9l1.5 0.0l2.6 -0.6l-0.8 0.6l3.5 0.5l2.0 0.5l1.8 1.4l2.5 -0.3l2.0 -0.3l0.9 1.8l2.0 0.3l1.7 0.6l1.9 -0.2l2.2 0.5l2.1 0.2l1.1 0.1l3.6 0.9l0.3 -1.3l2.1 -0.1l-0.1 -1.4l4.3 0.0l1.3 -1.3l2.0 -0.2l2.1 -0.2l1.7 -0.9l2.4 -0.4l1.5 -0.5l1.9 -0.2M669.3 347.0l0.9 1.4l-0.4 0.2l1.0 4.6l0.7 0.8l1.1 2.2l0.3 1.8l0.5 0.9l0.0 2.2l-0.4 2.5l0.9 1.0l-0.1 1.7l-0.2 2.0l0.4 0.9l0.3 1.8l-1.1 3.5l1.1 1.2l-1.2 1.4l-0.3 2.2l-0.5 2.2l-1.9 0.9l1.0 1.9l-1.3 1.2l-0.6 2.2l-1.7 1.8l0.6 1.8l-0.9 1.6l0.6 3.0l0.2 0.5l-0.9 2.1l0.8 1.3l-0.5 2.8l-0.4 1.6l0.8 1.1l4.0 -4.3l-2.3 0.9l-0.6 0.7l-1.3 1.7l-2.1 0.7l-1.6 0.8l-2.7 0.1l-1.3 0.5l-2.4 -1.1l-1.9 0.7l-1.9 0.9l-1.3 0.0l-1.2 -1.2l-3.0 0.1l-1.8 -0.3l-1.6 -1.7l-1.7 0.2l-1.5 0.7l-2.2 -0.2l-1.2 -1.0l-3.1 -0.8l-1.7 -1.0l-1.7 0.4l-0.4 0.0l-2.6 0.0l-1.5 -1.0l-2.6 1.0l-1.2 -0.2l-2.1 0.5l-1.9 -1.0l-1.9 1.4l-2.9 -1.5l-1.2 0.4l-0.8 0.8l-2.4 0.9l-2.8 -0.6l-1.2 0.5l-2.4 -0.4l-1.3 0.1l-1.9 2.0l-2.0 -1.6l-1.9 0.2l-1.6 1.2l-1.4 -1.2l-1.3 -0.1l-3.2 1.1l-2.0 0.6l-1.3 0.5l-1.3 -0.7l-1.7 -1.1l-2.7 1.5l-1.0 -0.5l-2.6 -0.4l-0.4 -1.7l0.4 3.2l-0.3 -1.4l-0.1 -2.8l0.1 -1.0l-0.2 -2.6l-0.3 -2.7l-0.4 0.1l2.3 -1.4l0.8 -3.1l0.1 -1.6l-0.7 -0.3l-0.4 -2.7l1.6 -1.3l-1.5 -1.9l-0.1 -0.7l0.2 -4.3l0.0 0.0l-1.0 -2.0l0.4 -1.8M671.5 366.7l0.6 2.4l-0.1 1.6l-1.6 1.3l-0.2 1.8l-0.7 1.2l-0.7 1.6l-0.2 2.0l-0.4 1.6l-1.8 2.8l1.5 1.0l-2.0 2.0l-0.7 0.3l0.5 3.1l-0.8 1.5l-0.5 2.0l1.0 2.1l0.2 0.9l-0.9 1.5l0.2 2.8l-0.4 1.3l-1.2 1.3l2.0 2.7l6.4 -9.9l-0.9 2.4l-1.1 1.6l-1.8 -0.2l-2.4 1.8l-0.8 -1.4l-3.0 0.4l-2.1 -0.5l-1.4 1.8l-1.5 0.7l-2.2 0.1l-2.9 -0.6l-0.9 0.1l-1.8 0.6l-1.3 -0.1l-3.0 -0.3l-0.9 0.3l-1.7 -0.6l-1.8 0.3l-3.4 0.2l0.5 0.7l-3.3 -1.0l-0.8 0.6l-2.0 -0.5l-1.7 -0.1l-2.7 -0.5l-1.1 0.0l-2.1 1.4l-2.0 -1.1l-2.0 0.1l-0.6 -0.2l-2.9 0.0l-1.2 -0.5l-2.6 0.5l-1.3 0.0l-1.5 0.9l-2.7 0.3l-0.8 0.0l-2.0 -0.4l-3.4 0.8l-1.1 -1.9l-1.4 0.4l-2.2 -1.2l-0.5 -0.2l-2.8 -0.1l-1.3 -0.3l-2.4 -0.1l-2.9 -0.2l-0.1 0.4l-1.8 -3.2l-3.1 1.0l-2.4 -0.4l-0.8 -0.5l-1.5 0.8l-1.2 -2.2l9.3 8.8l-1.7 -1.1l0.5 -1.6l-0.4 -2.4l-0.6 -0.2l-0.4 -3.7l-1.0 -1.4l-1.1 -1.9l0.8 -0.9l-1.2 -1.7l-0.6 -2.3l0.1 -1.1l-1.6 -1.8l0.3 -1.7l-0.2 -2.8l0.6 -0.5l-1.9 -3.4l-0.2 -1.8l-0.2 -1.0l0.3 -1.5l0.0 -2.0l-0.1 -0.3l0.2 -2.2l0.3 -2.5l-0.8 -1.8l2.2 -1.3l-1.4 -2.7l0.9 -1.1l-0.6 -1.9l1.0 -1.5l0.6 -2.2l1.0 -1.4l-0.9 -2.4l1.4 -1.0l-0.1 -2.3l0.6 -1.9l-0.2 -1.5l-0.7 -1.5l-0.7 -2.0l0.9 -1.0l1.0 -2.9l-1.1 -1.2l1.7 -2.6M583.5 401.3l-2.0 0.2l-2.2 0.1l-0.3 -1.1l-2.7 -0.7l-2.0 -0.8l6.6 6.3l1.8 -1.7l0.2 -3.4l-0.2 -0.3l-0.6 -1.5l1.0 -2.3l0.4 -1.9l-1.7 -2.3l1.0 -1.1l1.0 -1.8l-1.2 -1.8l0.4 -1.2l-0.5 -2.7l-0.8 -0.5l-0.6 -1.9l-1.1 -1.5l-0.2 -1.9l-0.5 -1.6l-1.4 -2.4l-0.8 -1.8l-0.4 -2.3l-0.2 -1.5l-0.9 -0.3l-0.6 -2.8l0.4 -1.6l0.3 -1.1l1.1 -3.2l-0.2 -2.1l-0.1 -0.1l-0.7 -2.6l0.8 -1.6l0.5 -2.8l0.6 -1.8l1.5 -0.3l-1.7 -2.2l1.0 -1.3l0.3 -1.9l-0.9 -2.5l0.6 -1.6l-0.5 -1.9l0.7 0.1l-1.0 -4.3l0.1 -1.5l-0.7 -1.4l0.6 -2.0l-0.3 -1.2l0.3 -1.0l0.9 -3.3l-1.4 -1.5l0.4 -1.0l1.0 -1.1l-0.3 -2.2l0.4 -1.5l1.3 -2.9l1.4 -1.9l-6.7 8.4l2.1 -2.1l1.0 0.0l1.3 1.1l3.8 -0.3l0.9 -1.6l2.7 0.5l1.9 -1.5l0.7 2.1l2.1 -2.2l1.7 0.1l2.3 -0.4l1.4 1.1l1.6 -1.9l0.8 0.5l4.6 -0.1l-0.2 0.2l3.1 1.1l1.1 0.1l2.0 -0.1l1.5 -0.1l2.5 1.9l-0.1 -0.3l4.2 1.1l1.3 0.3l1.7 0.8l2.5 0.1l1.2 0.0l2.8 0.6l1.4 -0.2l1.4 -1.3l1.0 0.3l2.5 -1.6l1.4 -0.6l2.9 -0.1l-0.5 -0.3l3.2 -1.3l1.1 -0.4l3.9 -0.7l-0.1 0.1l2.6 0.8l1.4 -1.0l1.1 0.6l3.4 0.0l0.7 -0.5l3.7 1.5l0.1 -0.8l3.2 1.0l1.0 -0.1l2.0 0.9l2.1 -0.3l1.4 -0.1l2.0 0.6l1.8 0.8l2.0 1.2l-6.0 -5.5l1.3 0.9l0.4 2.4l0.1 0.8l0.2 0.8l1.7 3.3l-0.6 1.4l0.8 1.3l0.4 2.9l-0.1 1.4l0.6 1.1l-1.1 1.8l0.3 2.0l-1.1 1.3l-0.6 2.7l-0.5 1.0l0.3 1.9l0.5 2.3l-0.8 2.0l-1.6 1.3l0.7 1.5l-1.8 2.1l0.8 1.3l-0.2 1.5l0.8 1.8l-0.5 2.5l-0.1 1.9l-0.9 1.2l1.4 1.8l-0.1 0.5l0.2 3.9l0.7 0.7l-2.0 1.8l1.0 1.1l-0.8 2.7l1.6 1.8l-0.7 0.7l-0.7 2.1l0.3 3.7l-1.3 -0.2l0.2 2.0l-1.4 2.6l-0.2 1.4l0.0 1.7l1.1 1.0l-0.3 3.6l-0.7 0.2l1.4 1.7l0.2 2.6l0.5 0.8l0.9 2.3l0.2 0.8l0.7 2.5l-0.1 2.5l-1.3 0.9l4.7 -4.1l-2.8 1.6l-1.3 0.0l-1.0 1.9l-1.2 -1.9l-1.9 1.5l-1.7 -1.1l-1.7 -1.4l-2.4 0.9l-1.9 0.3l-2.6 -1.5M669.0 321.2l0.9 2.0l0.3 1.3l1.0 1.5l-0.2 1.8l1.3 2.5l0.8 1.4l1.1 2.0l-0.6 0.7l0.4 3.4l-0.4 0.9l-0.5 2.7l-0.3 1.0l1.2 1.8l-1.6 1.6l0.6 2.6l-2.5 1.7l0.9 1.4l-0.7 0.4l-1.2 3.7l0.1 1.3l-0.7 0.6l-0.3 1.5l-0.9 4.3l1.9 0.9l-0.8 1.2l-1.1 1.6l1.2 1.9l0.5 1.9l0.6 2.5l0.3 0.4l0.9 2.6l1.0 1.4l0.0 2.3l2.2 1.0l-0.9 2.0l0.2 1.1l0.8 2.4l-0.4 1.1l-0.7 3.0l1.4 0.8l-1.0 1.9l0.3 2.9l0.4 1.5l-1.5 0.7l-0.2 2.6l-0.5 1.8l-0.6 1.0l0.2 1.6l1.7 -1.1l-2.1 -0.6l-2.9 1.3l-1.3 1.2l-2.3 0.5l-1.6 -0.8l-1.6 0.5l-2.2 -0.1l-1.1 -1.6l-2.7 1.2l-1.0 0.3l-3.3 -0.2l-1.2 -0.1l-1.1 -0.7l-2.0 1.5l-1.9 -1.9l-2.5 0.2l-1.8 -1.2l-0.8 0.0l-1.3 -2.1l-2.8 0.6l-1.7 -0.9l-1.7 0.1l-2.4 -0.8l-1.3 1.1l-2.1 -1.3l-2.1 0.2l-1.0 0.5l-1.5 0.2l-1.7 0.0l-2.6 1.7l-2.0 0.3l-2.6 0.2l-1.7 0.7l-1.8 -0.2l-1.7 0.2l-1.1 -0.9l-1.6 1.1l-2.1 0.4l-1.6 -0.8l-1.6 -2.0l-3.1 1.1l-1.3 0.0l-2.1 -0.7l-1.0 -1.3l-2.5 0.4l-2.5 0.5l-1.8 0.0l-1.7 -1.2l-0.7 0.9l-1.9 0.9l-2.7 -0.3l-1.9 0.2l-2.0 0.3l-0.7 -0.6l1.5 2.1l-1.6 -2.5l-0.3 -0.8l-0.1 -2.2l-0.8 -0.5l1.0 -2.5l0.5 -1.5l-0.6 -2.5l-1.4 -1.6l2.3 -1.0l-1.8 -2.6M639.6 401.9l-3.7 -1.3l-0.8 0.4l-1.7 0.8l-2.7 -1.0l-0.8 0.9l-1.7 -0.5l-2.9 -0.2l-0.6 0.8l-2.5 -0.4l-1.1 0.6l-2.1 0.3l-2.3 -1.1l-1.1 1.0l-2.1 0.2l-2.3 -0.5l-2.1 1.9l-1.3 -1.2l-1.8 0.7l-1.5 -0.8l-2.2 0.2l-2.4 0.6l-1.9 -0.6l-1.2 1.8l-0.9 -1.5l-2.0 0.8l-2.8 0.0l-1.7 0.5l-1.1 0.3l-2.2 1.8l-2.7 -2.4l-1.8 0.0l-1.4 0.4l-1.9 0.6l-1.6 -1.4l-0.6 -0.8l0.2 2.8l-0.9 -1.9l-0.9 -1.6l-0.7 -1.9l1.0 -1.3l-1.2 -2.8l-0.3 -1.9l0.7 -1.9l-0.4 -1.7l0.3 -1.4l-0.5 -1.1l0.0 -1.8l-0.4 -2.9l0.3 -1.5l0.5 -0.8l0.1 -3.2l-0.2 -1.3l0.2 -1.8l-0.2 -1.1l0.3 -1.0l-0.3 -3.5l0.2 -1.3l-0.4 -1.8l-1.0 0.2l0.2 -3.8l1.5 -1.1l-1.2 -1.5l0.1 -3.0l0.9 -0.9l-1.3 -1.3l0.6 -0.9l-0.3 -3.4l1.5 -1.5l-0.7 -1.4l0.3 -2.0l-0.6 -1.6l1.3 -1.2l-0.7 -3.2l-0.6 -0.6l0.1 -2.0l0.6 -2.9l0.6 -0.8l-0.6 -1.3l1.6 -1.0l-0.5 -3.1l-0.3 -1.1l0.5 -2.4l-0.1 -0.6l-0.8 -2.4l0.1 -1.4l0.2 -2.0l0.2 -1.9l2.1 -2.1l-0.3 -1.2l1.8 -2.2l-4.8 3.9l1.5 -0.9l2.9 -1.3l1.2 -0.1l1.5 1.4l2.3 0.1l3.5 0.0l-0.2 -0.9l2.6 1.5l2.0 -0.2l1.3 0.2l1.8 -0.7l2.0 1.0l2.4 -0.7l1.9 0.5l2.1 0.2l2.4 -0.2l-0.1 -1.3l2.3 1.8l1.1 -0.7l2.4 -0.7l2.2 -0.7l1.1 0.3M577.2 317.8l1.3 -1.4l-0.6 -2.9l1.0 -1.4l-0.9 -1.2l-3.1 3.2l0.8 -0.6l1.6 -1.6l2.6 -1.3l1.6 -0.8l1.8 0.8l2.1 -1.2l1.1 0.2l1.6 0.1l1.8 0.3l2.3 0.0l2.5 0.0l1.2 -1.0l0.9 0.8l1.4 -0.1l2.6 -0.5l2.5 1.0l1.3 -0.6l2.4 0.4l0.8 -0.9l2.0 0.7l2.3 1.6l0.9 -1.6l2.2 -0.2l2.8 1.0l2.0 0.1l1.3 0.9l1.9 2.3l2.3 0.8l1.8 -1.5l1.6 0.7l2.0 1.2l0.8 -0.3l2.9 0.3l2.4 -0.8l1.3 0.4l1.7 0.5l2.2 -1.3l0.4 0.9l2.3 -1.8l3.2 -2.4l0.8 0.4l1.2 -1.3l2.6 -0.7l1.8 1.0l2.9 -0.3l0.8 -0.4l1.1 0.9l3.3 0.0l0.4 0.4l3.7 -0.8l0.1 -0.3l1.9 0.9l2.5 -0.5l1.9 1.0l-0.8 0.0l2.3 0.7l0.2 1.4l-1.7 2.2l1.7 3.1l-1.0 0.7l-1.7 1.4l-1.4 2.3l-0.9 0.4l-0.5 3.1l-2.2 0.5l0.3 3.1l0.2 1.3l-0.9 1.6l0.9 1.7l-0.5 1.8l0.7 2.7l0.9 0.9l0.7 3.0l0.8 2.0l1.1 1.7l1.0 0.0l2.0 2.5l-0.1 2.6l-0.9 1.0l1.0 1.9l0.0 1.8l0.3 1.2l-0.4 1.2l0.3 0.8l0.5 3.8l-1.2 1.1l0.3 1.6l0.5 1.7l0.0 2.9l-0.3 0.2l-0.7 3.6M572.7 352.3l1.7 -3.0l-0.8 -1.4l-0.8 -2.6l0.8 -0.8l0.7 -2.1l-0.8 -2.0l0.0 -2.2l0.6 -1.3l-0.3 -2.2l-0.6 -2.1l2.1 -1.3l-1.8 -1.0l0.1 -1.8l-0.1 -2.2l-0.7 -2.5l0.7 -1.3l-0.2 -1.1l0.0 -2.3l0.2 -2.1l0.2 -1.3l-0.2 -1.4l1.5 -1.8l0.2 -2.5l-0.1 1.5l0.9 -1.5l2.6 -1.0l0.9 0.1l2.3 0.2l1.8 0.2l1.8 -0.4l1.1 1.4l1.9 -0.7l3.4 -1.0l0.2 0.7l3.4 0.8l0.8 -0.8l1.2 1.3l2.1 -1.1l1.9 -0.7l2.9 1.3l0.7 -0.7l2.5 0.2l2.6 0.7l2.0 0.3l0.9 -0.3l0.6 -0.1l3.1 1.3l1.3 -0.1l2.7 0.5l1.7 0.6l1.3 0.0l2.0 1.4l1.5 -1.4l3.4 -1.6l1.1 2.3l1.3 -1.3l2.5 1.3l0.6 -1.9l3.2 1.5l1.2 -1.7l2.1 0.1l0.9 0.1l2.8 0.3l1.0 -1.0l2.3 0.5l2.3 -1.5l1.1 0.9l2.3 -1.4l1.9 0.7l2.0 1.3l1.5 -0.2l1.0 -0.3l1.6 1.3l3.0 0.3l1.7 1.2l1.6 -0.8l1.4 2.0l2.1 0.8l-5.5 -4.4l0.7 1.4l0.3 0.7l0.3 2.0l0.6 2.8l-0.9 1.1l1.8 1.3l1.6 1.5l-0.1 3.5l0.8 0.3l0.6 2.1l0.0 2.7l1.7 2.5l-0.9 -0.2l-0.7 3.5l1.5 1.0l-1.6 1.1l1.4 1.8l-0.3 1.8l-0.2 1.9l-1.3 1.1l0.6 2.7l0.4 0.4l0.4 2.4l-0.8 2.1l0.0 1.6l-0.7 2.9l-0.1 0.6l0.4 2.8l0.0 1.1l-0.9 1.1l0.2 1.9l-0.1 2.6l2.2 1.7l-0.1 1.3l0.3 1.6l-1.5 2.3l0.3 1.7l1.3 1.6l-1.1 2.2l-0.9 1.6l1.3 2.0l0.0 1.4l-0.5 0.6l-0.1 2.9l0.5 1.0l0.3 1.3l0.0 2.6l0.9 2.6l-2.2 1.4l0.0 1.8l0.9 1.2l-1.4 1.9l-0.2 1.8l0.1 1.2l0.3 0.6l-1.5 -0.8l-2.6 1.5l-2.2 0.1l-0.8 0.8l-1.8 -1.0l-1.5 -0.4l-1.8 -0.8l-2.3 0.5l-0.7 0.3l-3.1 -0.6l-1.7 0.1l-2.0 1.2l-2.3 -0.6l-0.4 -1.4l-2.9 1.7l-1.5 -0.7l-0.8 -0.1l-4.1 0.9l-0.4 -0.7l-0.9 -0.7l-3.3 0.1l-1.6 -0.9l-2.7 0.8l-1.4 -0.8M673.7 365.3l-2.3 3.9l-3.2 -1.0l-2.8 2.9l-2.9 0.9l-4.8 -1.3l-3.4 2.4l-3.9 -1.6l-4.3 -1.1l-3.5 1.5l-2.9 0.8l-2.2 3.9l-3.1 3.1l-2.1 3.2l-3.1 1.0l-3.5 2.1l-4.0 -1.9l-3.3 4.8l-2.8 1.0l-4.4 -0.2l-3.2 -1.0l-2.7 1.6l-3.6 4.2l-2.0 2.3l-3.5 0.4l-2.0 4.3l-5.4 -3.0l-2.0 3.7l-4.0 -0.9l-4.9 -0.6l-2.0 2.2M574.5 309.7l-0.8 2.8l0.0 3.5l0.0 3.1l0.0 2.9l0.0 1.2l0.0 3.3l0.1 2.0l-0.1 3.3l0.0 2.9l0.0 3.3l0.0 2.5l0.0 2.3l0.1 2.9l1.0 2.3l-1.1 2.9l0.0 2.2l0.0 3.3l0.0 2.0l1.8 4.3l-0.3 2.2l-0.5 2.2l1.2 2.8l0.8 2.9l0.0 2.9l-0.4 2.5l2.0 2.9l-1.2 2.7l-3.4 3.2l0.8 2.0l-0.2 3.4M669.6 397.6l-2.2 -3.6l-2.4 -2.5l-4.1 0.5l-3.2 -0.8l-3.4 -0.3l-2.6 -0.9l-2.9 -2.3l-2.8 1.9l-5.0 0.6l-3.2 2.0l-2.5 -2.1l-4.4 1.9l-3.1 -1.5l-2.8 -0.2l-4.0 -0.4l-1.6 -0.7l-3.3 -2.7l-2.9 -2.8l-2.8 0.0l-3.6 -0.7l-3.1 -2.4l-3.1 -0.3l-3.4 -1.1l-3.3 -1.2l-3.3 -1.6l-2.2 1.1l-3.3 -2.6l-2.2 -1.2l-3.8 -0.5l-4.3 0.9M580.6 390.9l2.8 -3.8l3.1 -1.9l3.5 -2.6l3.5 -2.1l3.0 -1.1l2.4 -2.1l3.2 -4.6l1.8 -3.6l2.3 -3.3l5.6 1.8l4.0 -2.0l2.4 -3.9l4.1 -0.5l3.1 -2.6l1.3 -3.3l1.3 -5.6l2.7 -3.4l2.2 -2.6l2.7 -2.2l4.9 -1.2l3.5 -1.8l1.5 -4.0l1.8 -3.6l4.6 -1.2l3.3 -2.0l2.0 -3.3l3.7 -0.3l4.5 -2.5l3.1 -2.5l3.4 -0.6M601.9 401.1l4.6 -2.3l-0.7 -3.8l4.3 -2.2l0.8 -2.8l0.3 -4.0l-0.6 -2.7l-0.6 -2.0l-0.4 -4.2l0.7 -3.6l1.5 -1.9l1.4 -3.2l2.6 -2.2l-1.6 -4.3l0.2 -2.6l-0.4 -3.7l-1.0 -2.6l-1.0 -4.0l-0.4 -2.7l1.3 -2.8l0.2 -3.5l2.9 -2.2l2.5 -3.0l2.0 -2.1l2.3 -3.9l3.0 -2.1l-1.6 -2.7l0.6 -3.8l-2.2 -3.9l0.2 -3.0l0.2 -3.1M633.0 313.1l-1.1 3.8l-0.3 2.7l3.5 3.3l0.8 3.1l0.8 3.0l0.0 2.9l-3.6 3.1l0.9 4.1l-1.0 2.5l0.7 3.3l-2.0 3.4l-0.4 2.5l-0.6 4.1l3.8 2.1l1.8 2.8l1.0 3.3l1.9 2.8l-1.0 3.1l-0.2 3.1l-0.7 2.8l0.7 3.6l1.7 3.4l4.2 1.9l-1.5 3.4l3.1 3.1l-1.1 3.9l0.0 1.9l-1.3 3.3l2.2 2.3l1.0 3.4" fill="none" stroke="#74326f" stroke-width="0.7" stroke-linejoin="round"/>
<rect x="591.64" y="324.74" width="63.72" height="63.72" stroke="#e2622c" stroke-width="1.4" fill="none"/>
<text x="150.4" y="638.38" font-family='"Liberation Serif", serif' font-size="12.01" font-weight="normal" text-anchor="start" fill="#000">3 month</text>
<line x1="56.4" y1="644.7" x2="286.9" y2="644.7" stroke="#585050" stroke-width="1.4"/>
<text x="490.47" y="638.39" font-family='"Liberation Serif", serif' font-size="12.03" font-weight="normal" text-anchor="start" fill="#000">12 month</text>
<line x1="399.9" y1="644.7" x2="628.8" y2="644.7" stroke="#585050" stroke-width="1.4"/>
<text x="42.41" y="658.82" font-family='"Liberation Serif", serif' font-size="12.01" font-weight="normal" text-anchor="start" fill="#000">Sham</text>
<text x="153.62" y="658.62" font-family='"Liberation Serif", serif' font-size="12.12" font-weight="normal" text-anchor="start" fill="#000">CUMS</text>
<text x="263.44" y="658.6" font-family='"Liberation Serif", serif' font-size="12.07" font-weight="normal" text-anchor="start" fill="#000">FTO-KD</text>
<text x="385.91" y="658.82" font-family='"Liberation Serif", serif' font-size="12.01" font-weight="normal" text-anchor="start" fill="#000">Sham</text>
<text x="496.82" y="658.61" font-family='"Liberation Serif", serif' font-size="12.09" font-weight="normal" text-anchor="start" fill="#000">CUMS</text>
<text x="606.84" y="658.6" font-family='"Liberation Serif", serif' font-size="12.07" font-weight="normal" text-anchor="start" fill="#000">FTO-KD</text>
<rect x="1" y="666.4" width="110.7" height="97.8" stroke="#3a3434" stroke-width="1.3" fill="none"/>
<rect x="50.3" y="667.3" width="10.3" height="43.3" stroke="#f09a9a" stroke-width="1" fill="none"/>
<rect x="2.3" y="710.6" width="48" height="8.7" stroke="#bccbe2" stroke-width="1" fill="none"/>
<rect x="60.6" y="710.6" width="48.9" height="8.7" stroke="#efec98" stroke-width="1" fill="none"/>
<rect x="50.3" y="719.3" width="10.3" height="43" stroke="#9cd6b0" stroke-width="1" fill="none"/>
<rect x="50.3" y="710.6" width="10.3" height="8.7" stroke="#80d8e6" stroke-width="1" fill="none"/>
<text x="63.03" y="675.27" font-family='"Liberation Serif", serif' font-size="11.69" font-weight="normal" text-anchor="start" fill="#000">open</text>
<text x="82.43" y="706.37" font-family='"Liberation Serif", serif' font-size="11.67" font-weight="normal" text-anchor="start" fill="#000">close</text>
<path d="M12.5 714.5l1.9 0.0l1.9 0.5l1.9 -0.3l1.9 0.3l2.0 -1.1l1.9 0.4l1.9 0.1l1.9 -0.4l1.9 1.0l1.9 0.0l1.9 0.1l1.9 0.8l1.9 -0.4l2.0 -1.8l1.9 0.9l1.9 0.2l1.9 -1.3l1.9 0.7l1.9 1.9l1.9 -3.2l1.9 1.1l1.9 0.5l2.0 0.8l1.9 0.6l1.9 -0.7l1.9 -1.5l1.9 0.0l1.9 -0.2l1.9 2.3l1.9 -1.1l1.9 -1.4l2.0 2.7l1.9 -1.0l1.9 0.8l1.9 -1.5l1.9 -0.6l1.9 1.3l1.9 -0.4l1.9 0.5l1.9 0.4l2.0 -1.5l1.9 0.9l1.9 -0.5l1.9 -0.2l1.9 0.6M98.5 714.7l-1.9 -0.3l-1.9 0.6l-1.9 -0.7l-1.9 -0.2l-2.0 0.7l-1.9 0.0l-1.9 0.0l-1.9 0.1l-1.9 0.1l-1.9 -0.3l-1.9 0.0l-1.9 -0.1l-1.9 1.2l-2.0 -1.2l-1.9 -0.7l-1.9 1.2l-1.9 0.3l-1.9 -1.1l-1.9 -0.3l-1.9 0.6l-1.9 0.8l-1.9 -1.4l-2.0 1.2l-1.9 -0.1l-1.9 -0.2l-1.9 -0.8l-1.9 1.8l-1.9 -0.6l-1.9 0.1l-1.9 -0.4l-1.9 0.6l-2.0 -0.7l-1.9 -0.7l-1.9 0.4l-1.9 0.6l-1.9 -0.6l-1.9 0.4l-1.9 0.4l-1.9 -1.8l-1.9 0.0l-2.0 1.1l-1.9 0.1l-1.9 -0.4l-1.9 0.5l-1.9 -0.1M12.5 714.5l1.9 0.1l1.9 -0.1l1.9 0.8l1.9 -0.4l2.0 0.2l1.9 -0.8l1.9 0.9l1.9 -0.9l1.9 1.2l1.9 -1.2l1.9 -0.6l1.9 1.0l1.9 0.0l2.0 0.1l1.9 0.3l1.9 -0.1l1.9 -1.7l1.9 1.9l1.9 0.7l1.9 -0.5l1.9 -1.6l1.9 0.2l2.0 0.4l1.9 -0.2l1.9 0.1l1.9 -0.3l1.9 1.6l1.9 -0.9l1.9 1.6l1.9 -1.8l1.9 0.5l2.0 -0.8l1.9 0.1l1.9 -0.5l1.9 1.3l1.9 -0.3l1.9 0.3l1.9 -1.2l1.9 -0.7l1.9 1.7l2.0 -0.1l1.9 0.0l1.9 0.0l1.9 0.2l1.9 -0.3M98.5 714.6l-1.9 0.4l-1.9 -0.3l-1.9 -0.2l-1.9 1.0l-2.0 -0.5l-1.9 0.9l-1.9 -1.2l-1.9 0.9l-1.9 -2.7l-1.9 2.5l-1.9 -0.9l-1.9 0.6l-1.9 0.3l-2.0 -1.0l-1.9 0.5l-1.9 0.6l-1.9 -0.1l-1.9 -0.4l-1.9 -0.1l-1.9 -1.9l-1.9 2.1l-1.9 1.3l-2.0 -2.8l-1.9 1.1l-1.9 -0.2l-1.9 1.5l-1.9 -1.0l-1.9 0.1l-1.9 0.4l-1.9 -0.5l-1.9 -0.2l-2.0 -0.5l-1.9 0.2l-1.9 0.4l-1.9 -0.7l-1.9 0.5l-1.9 -0.4l-1.9 0.8l-1.9 0.1l-1.9 0.5l-2.0 -1.6l-1.9 1.0l-1.9 -0.7l-1.9 0.2l-1.9 -0.1M53.9 672.0l0.8 2.8l0.5 2.9l0.0 2.8l0.0 2.8l0.7 2.9l1.1 2.8l-1.7 2.8l-0.1 2.9l-1.0 2.8l1.0 2.8l0.3 2.9l1.2 2.8l-1.4 2.8l1.2 2.9l-1.6 2.8l-0.2 2.8l1.3 2.9l0.8 2.8l-0.3 2.8l-0.8 2.9l-0.7 2.8l0.0 2.8l0.1 2.9l-0.5 2.8l1.4 2.8l-0.8 2.9l1.0 2.8l0.6 2.8l-1.9 2.9l0.8 2.8M54.1 672.0l1.2 2.8l1.1 2.9l-2.3 2.8l0.3 2.8l2.2 2.9l-0.9 2.8l-0.8 2.8l-0.2 2.9l-0.2 2.8l1.1 2.8l0.0 2.9l-0.9 2.8l0.5 2.8l-0.3 2.9l1.4 2.8l-1.4 2.8l1.0 2.9l-0.9 2.8l1.0 2.8l-1.1 2.9l1.8 2.8l-1.6 2.8l0.9 2.9l0.0 2.8l-1.0 2.8l0.8 2.9l-0.4 2.8l0.3 2.8l0.2 2.9l-0.5 2.8M56.3 672.0l-1.6 2.8l0.6 2.9l0.7 2.8l-0.2 2.8l-1.0 2.9l1.1 2.8l0.2 2.8l-0.7 2.9l0.0 2.8l-0.2 2.8l0.0 2.9l-0.9 2.8l0.8 2.8l0.5 2.9l-0.7 2.8l0.8 2.8l-0.9 2.9l-0.1 2.8l1.3 2.8l-1.1 2.9l1.2 2.8l0.5 2.8l-1.6 2.9l0.3 2.8l0.4 2.8l-0.2 2.9l-0.2 2.8l-0.7 2.8l0.5 2.9l1.4 2.8M54.2 715.2l-1.4 -2.7l3.4 2.5l-0.8 -0.8l-1.3 -1.7l2.3 2.9l-0.2 -4.0l-5.4 4.4l5.8 -3.1l-1.9 3.2l3.8 -2.7l-4.5 -0.4l0.9 0.9l2.2 3.7l1.2 -0.3l-2.4 -2.9l-3.3 1.6l5.4 -1.0l-5.1 -1.3l1.3 -0.4l6.5 -1.1l-3.3 2.7l-2.3 2.8l-0.1 -1.9" fill="none" stroke="#74287a" stroke-width="0.8" stroke-linejoin="round"/>
<rect x="114.7" y="666.4" width="111.7" height="97.8" stroke="#3a3434" stroke-width="1.3" fill="none"/>
<rect x="165.5" y="667.3" width="10.3" height="43.3" stroke="#f09a9a" stroke-width="1" fill="none"/>
<rect x="116" y="710.6" width="49.5" height="8.7" stroke="#bccbe2" stroke-width="1" fill="none"/>
<rect x="175.8" y="710.6" width="48.9" height="8.7" stroke="#efec98" stroke-width="1" fill="none"/>
<rect x="165.5" y="719.3" width="10.3" height="43" stroke="#9cd6b0" stroke-width="1" fill="none"/>
<rect x="165.5" y="710.6" width="10.3" height="8.7" stroke="#80d8e6" stroke-width="1" fill="none"/>
<text x="176.43" y="675.27" font-family='"Liberation Serif", serif' font-size="11.69" font-weight="normal" text-anchor="start" fill="#000">open</text>
<text x="196.83" y="706.37" font-family='"Liberation Serif", serif' font-size="11.67" font-weight="normal" text-anchor="start" fill="#000">close</text>
<path d="M127.0 714.4l1.9 0.6l2.0 -0.8l1.9 0.5l2.0 0.0l1.9 1.1l2.0 -1.2l1.9 2.0l2.0 -1.9l1.9 1.9l1.9 -1.3l2.0 -0.2l1.9 -2.2l2.0 1.2l1.9 0.9l2.0 -0.9l1.9 -0.4l2.0 -0.2l1.9 1.8l1.9 0.6l2.0 -0.5l1.9 -2.5l2.0 2.0l1.9 1.0l2.0 -3.1l1.9 2.3l2.0 -0.4l1.9 -0.2l1.9 1.5l2.0 -1.8l1.9 0.0l2.0 2.3l1.9 -0.9l2.0 0.6l1.9 -1.7l2.0 0.1l1.9 0.3l1.9 -0.9l2.0 1.1l1.9 -0.3l2.0 0.6l1.9 -0.4l2.0 -0.6l1.9 1.2l2.0 -1.1l1.9 0.2M214.5 714.7l-1.9 0.2l-2.0 0.0l-1.9 0.7l-2.0 -1.8l-1.9 1.4l-2.0 -1.4l-1.9 1.6l-2.0 -1.3l-1.9 0.4l-1.9 0.5l-2.0 -0.1l-1.9 0.3l-2.0 -1.0l-1.9 0.8l-2.0 -0.5l-1.9 0.9l-2.0 -1.9l-1.9 0.6l-1.9 -0.2l-2.0 2.5l-1.9 -2.1l-2.0 0.0l-1.9 1.3l-2.0 0.3l-1.9 -1.6l-2.0 0.0l-1.9 -0.1l-1.9 0.5l-2.0 -0.4l-1.9 0.7l-2.0 -0.8l-1.9 -1.0l-2.0 2.8l-1.9 -0.6l-2.0 -0.1l-1.9 -1.0l-1.9 0.9l-2.0 -0.8l-1.9 -0.3l-2.0 -0.4l-1.9 1.0l-2.0 0.8l-1.9 0.0l-2.0 -0.8l-1.9 0.2M127.0 714.7l1.9 -0.4l2.0 0.8l1.9 -0.8l2.0 0.4l1.9 -0.8l2.0 0.2l1.9 1.4l2.0 -1.5l1.9 0.7l1.9 0.1l2.0 -0.9l1.9 1.6l2.0 -1.2l1.9 -1.2l2.0 2.5l1.9 -1.7l2.0 0.6l1.9 -0.5l1.9 0.1l2.0 1.1l1.9 -0.4l2.0 -0.4l1.9 1.2l2.0 -1.7l1.9 1.0l2.0 -1.0l1.9 1.8l1.9 -1.4l2.0 0.7l1.9 0.0l2.0 0.9l1.9 -1.5l2.0 0.9l1.9 -0.5l2.0 0.0l1.9 0.0l1.9 -0.2l2.0 0.0l1.9 0.6l2.0 -0.7l1.9 1.5l2.0 -0.1l1.9 -0.9l2.0 -0.7l1.9 0.4M214.5 714.7l-1.9 0.0l-2.0 0.3l-1.9 -0.1l-2.0 0.4l-1.9 1.3l-2.0 -2.0l-1.9 2.1l-2.0 -2.0l-1.9 0.8l-1.9 -1.2l-2.0 -0.6l-1.9 -0.4l-2.0 1.9l-1.9 1.0l-2.0 -2.3l-1.9 -0.4l-2.0 0.3l-1.9 0.6l-1.9 -0.1l-2.0 1.2l-1.9 -1.3l-2.0 -0.2l-1.9 0.8l-2.0 -0.3l-1.9 0.1l-2.0 0.6l-1.9 0.1l-1.9 -0.9l-2.0 -0.1l-1.9 -0.5l-2.0 0.4l-1.9 0.5l-2.0 0.7l-1.9 -1.3l-2.0 1.5l-1.9 -1.9l-1.9 -1.1l-2.0 3.5l-1.9 -1.2l-2.0 0.8l-1.9 -0.6l-2.0 0.1l-1.9 -0.3l-2.0 -0.3l-1.9 -0.3M169.8 698.0l0.1 2.0l0.1 1.9l1.4 2.0l-1.1 2.0l0.3 1.9l0.9 2.0l-0.2 2.0l-2.1 1.9l1.9 2.0l-0.5 2.0l0.3 1.9l0.5 2.0l-1.5 2.0l1.3 1.9l-0.6 2.0l0.3 2.0l-0.5 1.9l0.8 2.0l-1.2 2.0l0.6 1.9l0.4 2.0l-1.2 2.0l0.7 1.9l-1.2 2.0l1.4 2.0l0.1 1.9l0.4 2.0l-0.3 2.0l-0.1 1.9l0.3 2.0M169.7 698.0l0.9 2.0l-0.6 1.9l0.3 2.0l0.3 2.0l1.0 1.9l-0.6 2.0l0.1 2.0l0.4 1.9l-0.7 2.0l-0.3 2.0l0.0 1.9l0.4 2.0l0.3 2.0l0.8 1.9l-1.8 2.0l-0.3 2.0l0.1 1.9l1.2 2.0l-1.0 2.0l0.4 1.9l0.1 2.0l0.4 2.0l-0.7 1.9l0.9 2.0l-0.9 2.0l0.0 1.9l0.0 2.0l1.2 2.0l-1.2 1.9l0.1 2.0M167.8 715.7l3.9 -2.0l0.6 3.1l-1.4 -2.6l-1.3 3.2l0.7 -2.2l3.0 -2.4l-2.6 2.7l-0.4 1.8l-1.4 -9.3l4.7 6.8l-2.5 -1.2l-0.6 5.6l-3.2 -7.6l4.2 7.0l1.0 -5.4l2.7 1.8l-3.3 -3.9l-3.3 1.1l2.6 2.9l1.9 -2.3l-5.0 -0.2l3.9 5.3l2.7 -5.2" fill="none" stroke="#74287a" stroke-width="0.8" stroke-linejoin="round"/>
<rect x="229.9" y="666.4" width="111.2" height="97.8" stroke="#3a3434" stroke-width="1.3" fill="none"/>
<rect x="279.5" y="667.3" width="10.3" height="43.3" stroke="#f09a9a" stroke-width="1" fill="none"/>
<rect x="231.2" y="710.6" width="48.3" height="8.7" stroke="#bccbe2" stroke-width="1" fill="none"/>
<rect x="289.8" y="710.6" width="48.9" height="8.7" stroke="#efec98" stroke-width="1" fill="none"/>
<rect x="279.5" y="719.3" width="10.3" height="43" stroke="#9cd6b0" stroke-width="1" fill="none"/>
<rect x="279.5" y="710.6" width="10.3" height="8.7" stroke="#80d8e6" stroke-width="1" fill="none"/>
<text x="291.83" y="675.27" font-family='"Liberation Serif", serif' font-size="11.69" font-weight="normal" text-anchor="start" fill="#000">open</text>
<text x="311.23" y="706.37" font-family='"Liberation Serif", serif' font-size="11.67" font-weight="normal" text-anchor="start" fill="#000">close</text>
<path d="M242.0 714.8l1.9 -0.2l2.0 -0.4l1.9 0.2l2.0 0.3l1.9 0.1l2.0 -0.9l1.9 1.3l2.0 -0.4l1.9 -0.8l1.9 1.0l2.0 -0.4l1.9 0.0l2.0 -0.1l1.9 0.2l2.0 0.3l1.9 0.8l2.0 -1.3l1.9 -1.3l1.9 1.0l2.0 1.1l1.9 -0.9l2.0 0.7l1.9 -0.9l2.0 0.0l1.9 -0.9l2.0 0.6l1.9 1.5l1.9 -0.8l2.0 -0.3l1.9 0.4l2.0 -0.5l1.9 0.3l2.0 0.7l1.9 -0.9l2.0 2.1l1.9 -3.1l1.9 2.0l2.0 -0.3l1.9 0.1l2.0 0.4l1.9 -0.8l2.0 0.6l1.9 -0.8l2.0 0.1l1.9 0.0M329.5 714.6l-1.9 0.3l-2.0 -0.5l-1.9 0.7l-2.0 0.9l-1.9 -1.3l-2.0 -1.1l-1.9 0.5l-2.0 0.8l-1.9 -1.4l-1.9 1.9l-2.0 -1.4l-1.9 0.5l-2.0 -0.4l-1.9 1.0l-2.0 -1.6l-1.9 1.5l-2.0 -1.7l-1.9 2.4l-1.9 -1.5l-2.0 -0.1l-1.9 0.3l-2.0 0.8l-1.9 -1.2l-2.0 -0.2l-1.9 0.0l-2.0 1.1l-1.9 -0.6l-1.9 0.8l-2.0 1.5l-1.9 -1.3l-2.0 0.9l-1.9 0.4l-2.0 -2.0l-1.9 0.1l-2.0 -1.0l-1.9 0.7l-1.9 -0.1l-2.0 0.8l-1.9 -0.5l-2.0 -0.5l-1.9 1.6l-2.0 -1.3l-1.9 0.9l-2.0 -0.6l-1.9 0.0M242.0 714.6l1.9 0.2l2.0 -0.4l1.9 -0.5l2.0 0.4l1.9 -0.3l2.0 0.7l1.9 0.0l2.0 -0.9l1.9 0.1l1.9 2.0l2.0 -1.6l1.9 -1.6l2.0 1.3l1.9 2.4l2.0 -1.6l1.9 -1.0l2.0 0.8l1.9 -0.5l1.9 0.1l2.0 -1.1l1.9 1.5l2.0 -0.6l1.9 -0.9l2.0 1.1l1.9 0.5l2.0 -1.3l1.9 1.3l1.9 -0.5l2.0 1.4l1.9 -1.3l2.0 -0.3l1.9 1.8l2.0 -1.1l1.9 -0.7l2.0 2.7l1.9 -0.9l1.9 -1.1l2.0 -1.4l1.9 0.5l2.0 1.7l1.9 -2.0l2.0 1.0l1.9 -0.5l2.0 0.6l1.9 -0.2M329.5 714.9l-1.9 -0.3l-2.0 -0.1l-1.9 -0.1l-2.0 0.8l-1.9 0.4l-2.0 -2.0l-1.9 0.7l-2.0 1.0l-1.9 -0.3l-1.9 0.0l-2.0 -1.1l-1.9 1.0l-2.0 -0.7l-1.9 1.8l-2.0 -2.5l-1.9 0.2l-2.0 0.5l-1.9 0.8l-1.9 -0.4l-2.0 0.4l-1.9 0.1l-2.0 -1.3l-1.9 0.3l-2.0 -0.1l-1.9 0.6l-2.0 0.5l-1.9 -1.8l-1.9 1.7l-2.0 -0.8l-1.9 1.1l-2.0 -1.0l-1.9 -0.5l-2.0 1.8l-1.9 -2.8l-2.0 0.9l-1.9 0.3l-1.9 0.8l-2.0 1.4l-1.9 -1.4l-2.0 -0.4l-1.9 -1.2l-2.0 1.9l-1.9 -0.3l-2.0 -0.1l-1.9 -0.2M284.9 708.0l-1.3 0.5l0.4 0.4l1.7 0.5l-1.9 0.5l0.7 0.4l0.0 0.5l0.7 0.5l-0.3 0.4l0.0 0.5l-0.3 0.5l-0.2 0.4l-0.1 0.5l-0.2 0.5l0.3 0.4l0.8 0.5l-0.1 0.5l-1.1 0.4l-0.1 0.5l1.0 0.5l-0.4 0.4l0.1 0.5l0.2 0.5l1.1 0.4l-0.9 0.5l-1.2 0.5l1.7 0.4l-1.1 0.5l-0.5 0.5l-0.2 0.4l1.3 0.5M285.2 708.0l-0.5 0.5l-0.4 0.4l0.2 0.5l0.0 0.5l0.6 0.4l-0.2 0.5l-0.5 0.5l-0.8 0.4l0.2 0.5l1.1 0.5l-0.7 0.4l0.8 0.5l-0.1 0.5l0.3 0.4l0.2 0.5l-1.0 0.5l-0.5 0.4l1.0 0.5l-1.0 0.5l0.1 0.4l-0.1 0.5l0.7 0.5l-0.2 0.4l1.2 0.5l-0.2 0.5l-1.1 0.4l0.8 0.5l-0.1 0.5l-0.6 0.4l-0.1 0.5M285.5 713.9l2.2 -1.0l-5.5 0.5l4.5 -0.2l3.3 -1.6l-1.7 6.0l-7.9 -3.4l6.7 3.4l-5.8 -2.6l2.6 0.2l-3.7 -2.5l3.1 3.3l0.8 -3.5l2.8 2.3l-1.0 3.6l-2.5 -6.3l-0.5 2.9l-1.7 1.1l1.7 1.1l2.0 -0.8l1.5 -1.9l-2.5 2.4l2.1 -6.7l-2.0 10.0" fill="none" stroke="#74287a" stroke-width="0.8" stroke-linejoin="round"/>
<rect x="344.6" y="666.4" width="111.4" height="97.8" stroke="#3a3434" stroke-width="1.3" fill="none"/>
<rect x="394.2" y="667.3" width="10.3" height="43.3" stroke="#f09a9a" stroke-width="1" fill="none"/>
<rect x="345.9" y="710.6" width="48.3" height="8.7" stroke="#bccbe2" stroke-width="1" fill="none"/>
<rect x="404.5" y="710.6" width="48.9" height="8.7" stroke="#efec98" stroke-width="1" fill="none"/>
<rect x="394.2" y="719.3" width="10.3" height="43" stroke="#9cd6b0" stroke-width="1" fill="none"/>
<rect x="394.2" y="710.6" width="10.3" height="8.7" stroke="#80d8e6" stroke-width="1" fill="none"/>
<text x="408.13" y="675.27" font-family='"Liberation Serif", serif' font-size="11.69" font-weight="normal" text-anchor="start" fill="#000">open</text>
<text x="427.83" y="706.37" font-family='"Liberation Serif", serif' font-size="11.67" font-weight="normal" text-anchor="start" fill="#000">close</text>
<path d="M349.0 715.0l2.0 -0.2l2.1 0.3l2.0 1.2l2.1 -1.2l2.0 -0.6l2.0 -0.6l2.1 0.7l2.0 -1.1l2.0 1.9l2.1 -0.5l2.0 -0.8l2.1 -0.5l2.0 0.7l2.0 0.0l2.1 0.1l2.0 -0.4l2.0 1.2l2.1 0.7l2.0 -1.9l2.1 0.4l2.0 -0.3l2.0 1.1l2.1 -0.8l2.0 0.0l2.0 0.6l2.1 -1.5l2.0 0.4l2.1 0.3l2.0 -0.9l2.0 1.0l2.1 -0.7l2.0 1.0l2.0 1.9l2.1 -0.6l2.0 -1.3l2.1 1.6l2.0 -1.6l2.0 1.0l2.1 -1.8l2.0 1.3l2.0 -1.4l2.1 1.7l2.0 -0.2l2.1 -0.8l2.0 0.4M440.7 714.7l-2.0 -0.3l-2.1 0.4l-2.0 -0.6l-2.1 0.7l-2.0 -0.7l-2.0 0.3l-2.1 -0.1l-2.0 0.6l-2.0 -0.1l-2.1 0.2l-2.0 1.4l-2.1 -2.7l-2.0 1.5l-2.0 0.2l-2.1 -0.9l-2.0 -0.2l-2.0 0.2l-2.1 -0.4l-2.0 0.1l-2.1 0.6l-2.0 1.2l-2.0 -0.4l-2.1 -1.1l-2.0 0.3l-2.0 0.1l-2.1 0.0l-2.0 0.4l-2.1 0.3l-2.0 -0.4l-2.0 -1.1l-2.1 0.1l-2.0 0.8l-2.0 1.3l-2.1 -0.2l-2.0 -0.8l-2.1 -1.6l-2.0 1.1l-2.0 -0.3l-2.1 1.7l-2.0 -2.7l-2.0 2.0l-2.1 -0.3l-2.0 -0.7l-2.1 -0.1l-2.0 0.3M349.0 714.4l2.0 0.3l2.1 -0.5l2.0 0.8l2.1 -0.5l2.0 0.9l2.0 0.0l2.1 -0.4l2.0 -0.8l2.0 0.4l2.1 -0.3l2.0 1.2l2.1 -1.9l2.0 1.1l2.0 -0.1l2.1 1.4l2.0 -0.4l2.0 0.4l2.1 -1.7l2.0 0.9l2.1 -1.5l2.0 2.5l2.0 -2.2l2.1 -1.0l2.0 2.5l2.0 -0.9l2.1 0.1l2.0 -0.3l2.1 0.5l2.0 -0.8l2.0 0.0l2.1 1.5l2.0 -1.9l2.0 0.9l2.1 -0.3l2.0 1.0l2.1 -0.5l2.0 -0.2l2.0 1.1l2.1 -0.9l2.0 0.4l2.0 -0.3l2.1 -0.3l2.0 0.1l2.1 -0.6l2.0 0.8M440.7 715.0l-2.0 -0.1l-2.1 -0.4l-2.0 0.1l-2.1 0.2l-2.0 1.7l-2.0 -2.8l-2.1 1.0l-2.0 -0.4l-2.0 0.6l-2.1 -0.3l-2.0 -0.4l-2.1 -0.4l-2.0 0.8l-2.0 -0.4l-2.1 0.5l-2.0 -0.8l-2.0 1.1l-2.1 -0.6l-2.0 -0.5l-2.1 1.4l-2.0 -1.3l-2.0 0.3l-2.1 0.9l-2.0 -0.4l-2.0 0.4l-2.1 -0.7l-2.0 0.4l-2.1 -0.6l-2.0 -0.9l-2.0 1.9l-2.1 -2.0l-2.0 0.2l-2.0 1.0l-2.1 2.0l-2.0 -2.2l-2.1 -0.8l-2.0 1.1l-2.0 0.5l-2.1 -0.6l-2.0 -0.2l-2.0 0.6l-2.1 -0.3l-2.0 0.9l-2.1 -0.9l-2.0 0.1M398.5 678.0l1.1 2.5l-0.3 2.5l0.1 2.5l0.4 2.5l-0.2 2.5l0.2 2.5l0.1 2.5l-1.5 2.5l1.7 2.5l0.3 2.5l-0.9 2.5l-0.1 2.5l0.9 2.5l-1.1 2.5l0.4 2.5l-0.3 2.5l-0.2 2.5l0.5 2.5l-0.8 2.5l1.3 2.5l-0.1 2.5l-1.6 2.5l-0.9 2.5l1.9 2.5l0.3 2.5l0.1 2.5l-0.7 2.5l-0.4 2.5l0.0 2.5l1.6 2.5M399.2 678.0l0.3 2.5l-0.6 2.5l0.7 2.5l-1.0 2.5l0.8 2.5l-1.0 2.5l1.4 2.5l0.1 2.5l-0.9 2.5l0.1 2.5l0.0 2.5l0.8 2.5l-1.9 2.5l1.7 2.5l0.6 2.5l-1.3 2.5l-0.4 2.5l-0.7 2.5l2.0 2.5l-1.2 2.5l1.3 2.5l-0.5 2.5l-0.3 2.5l1.1 2.5l-1.2 2.5l0.5 2.5l-0.7 2.5l-0.2 2.5l-0.8 2.5l1.7 2.5M399.8 713.7l-3.8 0.8l3.9 1.9l0.9 -6.5l-2.1 2.7l-1.5 -1.7l2.9 4.2l-4.9 -3.4l5.5 2.3l-3.5 3.3l1.0 -2.0l-1.8 -0.3l2.1 2.8l-1.3 -4.2l1.3 6.3l2.6 -4.6l-3.6 0.9l1.6 2.8l-0.4 -0.8l-2.7 -4.7l4.8 -0.6l0.8 2.2l-1.9 -0.4l0.6 0.4" fill="none" stroke="#74287a" stroke-width="0.8" stroke-linejoin="round"/>
<rect x="458.8" y="666.4" width="111.7" height="97.8" stroke="#3a3434" stroke-width="1.3" fill="none"/>
<rect x="508.8" y="667.3" width="10.3" height="43.3" stroke="#f09a9a" stroke-width="1" fill="none"/>
<rect x="460.1" y="710.6" width="48.7" height="8.7" stroke="#bccbe2" stroke-width="1" fill="none"/>
<rect x="519.1" y="710.6" width="48.9" height="8.7" stroke="#efec98" stroke-width="1" fill="none"/>
<rect x="508.8" y="719.3" width="10.3" height="43" stroke="#9cd6b0" stroke-width="1" fill="none"/>
<rect x="508.8" y="710.6" width="10.3" height="8.7" stroke="#80d8e6" stroke-width="1" fill="none"/>
<text x="523.13" y="675.27" font-family='"Liberation Serif", serif' font-size="11.69" font-weight="normal" text-anchor="start" fill="#000">open</text>
<text x="542.23" y="706.37" font-family='"Liberation Serif", serif' font-size="11.67" font-weight="normal" text-anchor="start" fill="#000">close</text>
<path d="M468.0 714.8l2.0 0.1l1.9 0.0l2.0 -0.7l1.9 0.6l2.0 1.0l1.9 -1.5l2.0 1.3l1.9 -0.8l2.0 1.1l2.0 -0.7l1.9 -0.4l2.0 0.1l1.9 -0.4l2.0 -0.2l1.9 0.7l2.0 -1.1l1.9 1.4l2.0 1.1l2.0 -2.3l1.9 0.1l2.0 1.6l1.9 -1.5l2.0 0.4l1.9 -0.1l2.0 0.7l1.9 -2.7l2.0 3.6l2.0 -1.4l1.9 -0.5l2.0 -0.2l1.9 0.3l2.0 0.2l1.9 1.6l2.0 -0.4l1.9 -0.6l2.0 -0.5l2.0 -0.1l1.9 -0.3l2.0 1.6l1.9 -0.6l2.0 -0.5l1.9 0.0l2.0 0.7l1.9 -0.7l2.0 -0.4M556.0 714.9l-2.0 -0.3l-1.9 0.3l-2.0 -0.3l-1.9 0.0l-2.0 -0.1l-1.9 -0.6l-2.0 -0.1l-1.9 2.0l-2.0 -2.3l-2.0 2.3l-1.9 -0.4l-2.0 -2.1l-1.9 1.4l-2.0 0.7l-1.9 -2.0l-2.0 1.9l-1.9 -0.7l-2.0 0.4l-2.0 -0.4l-1.9 0.2l-2.0 0.2l-1.9 0.6l-2.0 -0.8l-1.9 -0.9l-2.0 -0.1l-1.9 1.0l-2.0 0.2l-2.0 -0.5l-1.9 0.3l-2.0 -0.5l-1.9 -0.5l-2.0 0.9l-1.9 0.8l-2.0 -0.8l-1.9 -0.3l-2.0 0.4l-2.0 -0.1l-1.9 -0.8l-2.0 1.1l-1.9 0.0l-2.0 -0.3l-1.9 -0.3l-2.0 0.5l-1.9 -0.1l-2.0 -0.2M468.0 714.6l2.0 0.1l1.9 0.0l2.0 -0.5l1.9 1.0l2.0 -0.1l1.9 -1.0l2.0 1.3l1.9 -1.5l2.0 -0.3l2.0 0.3l1.9 0.3l2.0 0.1l1.9 1.4l2.0 -1.3l1.9 -1.3l2.0 0.7l1.9 -0.4l2.0 1.9l2.0 -0.6l1.9 -0.5l2.0 1.5l1.9 -0.5l2.0 -1.4l1.9 0.8l2.0 1.1l1.9 -0.8l2.0 0.6l2.0 0.5l1.9 -1.1l2.0 0.2l1.9 -0.6l2.0 0.0l1.9 -0.1l2.0 1.0l1.9 -0.1l2.0 0.1l2.0 -0.4l1.9 -1.6l2.0 1.6l1.9 0.4l2.0 -1.2l1.9 0.9l2.0 -0.4l1.9 0.1l2.0 0.0M556.0 714.8l-2.0 -0.3l-1.9 0.5l-2.0 -0.1l-1.9 -0.5l-2.0 0.0l-1.9 0.6l-2.0 -1.3l-1.9 1.5l-2.0 -1.0l-2.0 1.1l-1.9 -1.1l-2.0 0.0l-1.9 1.0l-2.0 0.3l-1.9 -0.7l-2.0 1.0l-1.9 -0.2l-2.0 -3.0l-2.0 2.2l-1.9 -0.4l-2.0 -0.6l-1.9 0.8l-2.0 -0.4l-1.9 0.2l-2.0 0.9l-1.9 -0.9l-2.0 -0.1l-2.0 0.6l-1.9 -0.2l-2.0 -0.6l-1.9 0.0l-2.0 -0.4l-1.9 0.0l-2.0 1.1l-1.9 -0.3l-2.0 0.8l-2.0 -1.8l-1.9 1.5l-2.0 -0.6l-1.9 1.2l-2.0 0.1l-1.9 -1.1l-2.0 -0.4l-1.9 0.7l-2.0 -0.3M512.0 686.0l1.4 1.3l1.2 1.4l-1.8 1.3l0.9 1.3l0.8 1.4l-0.6 1.3l-0.2 1.3l1.0 1.4l-1.1 1.3l-0.3 1.3l1.6 1.4l-0.7 1.3l-1.1 1.3l1.1 1.4l-0.8 1.3l0.7 1.3l0.2 1.4l0.3 1.3l-0.7 1.3l1.3 1.4l-1.3 1.3l0.6 1.3l-0.6 1.4l0.5 1.3l-0.9 1.3l-0.2 1.4l1.0 1.3l-0.2 1.3l-0.5 1.4l1.0 1.3M516.0 718.5l-4.6 -4.2l1.6 -0.8l0.6 3.7l0.8 -3.0l1.5 1.7l0.8 -2.0l-0.5 1.1l-0.9 -3.7l-1.3 6.0l-2.0 0.6l3.5 -3.6l-4.6 -1.0l6.5 -1.1l-3.0 6.1l1.3 -2.6l-0.3 2.1l-4.8 -0.6l0.2 -1.9l3.0 -1.3l1.2 6.1l0.5 -7.7l-3.4 4.5l2.4 -6.1" fill="none" stroke="#74287a" stroke-width="0.8" stroke-linejoin="round"/>
<rect x="573.7" y="666.4" width="110.8" height="97.8" stroke="#3a3434" stroke-width="1.3" fill="none"/>
<rect x="623.3" y="667.3" width="10.3" height="43.3" stroke="#f09a9a" stroke-width="1" fill="none"/>
<rect x="575" y="710.6" width="48.3" height="8.7" stroke="#bccbe2" stroke-width="1" fill="none"/>
<rect x="633.6" y="710.6" width="48.9" height="8.7" stroke="#efec98" stroke-width="1" fill="none"/>
<rect x="623.3" y="719.3" width="10.3" height="43" stroke="#9cd6b0" stroke-width="1" fill="none"/>
<rect x="623.3" y="710.6" width="10.3" height="8.7" stroke="#80d8e6" stroke-width="1" fill="none"/>
<text x="636.33" y="675.27" font-family='"Liberation Serif", serif' font-size="11.69" font-weight="normal" text-anchor="start" fill="#000">open</text>
<text x="655.33" y="706.37" font-family='"Liberation Serif", serif' font-size="11.67" font-weight="normal" text-anchor="start" fill="#000">close</text>
<path d="M583.0 714.7l1.9 0.3l1.9 -0.6l1.9 -0.1l1.9 0.9l2.0 0.6l1.9 -1.5l1.9 0.0l1.9 -0.7l1.9 0.6l1.9 0.0l1.9 -0.9l1.9 2.4l1.9 -1.4l2.0 1.2l1.9 -1.0l1.9 0.0l1.9 1.8l1.9 -1.7l1.9 0.5l1.9 0.2l1.9 0.0l1.9 -0.1l2.0 -0.9l1.9 1.8l1.9 -1.9l1.9 0.5l1.9 0.8l1.9 -1.8l1.9 0.4l1.9 0.4l1.9 -0.1l2.0 0.1l1.9 -0.3l1.9 -0.5l1.9 1.0l1.9 0.8l1.9 -0.2l1.9 -1.1l1.9 0.2l1.9 0.3l2.0 -0.4l1.9 0.5l1.9 -0.2l1.9 0.2l1.9 -0.3M669.0 715.0l-1.9 -0.6l-1.9 -0.3l-1.9 0.2l-1.9 1.1l-2.0 -1.1l-1.9 0.6l-1.9 -1.1l-1.9 0.3l-1.9 1.7l-1.9 -1.2l-1.9 -0.6l-1.9 1.0l-1.9 1.2l-2.0 -1.6l-1.9 0.5l-1.9 0.2l-1.9 -0.3l-1.9 -0.2l-1.9 -1.3l-1.9 0.6l-1.9 1.6l-1.9 -1.7l-2.0 -0.9l-1.9 3.4l-1.9 -2.2l-1.9 -0.7l-1.9 0.9l-1.9 -0.3l-1.9 -0.9l-1.9 1.3l-1.9 0.1l-2.0 -0.4l-1.9 0.9l-1.9 0.4l-1.9 -3.5l-1.9 2.1l-1.9 0.9l-1.9 0.3l-1.9 -0.3l-1.9 -1.1l-2.0 -0.2l-1.9 0.7l-1.9 0.8l-1.9 -0.5l-1.9 -0.1M583.0 715.0l1.9 0.0l1.9 -0.3l1.9 -0.4l1.9 -0.2l2.0 -1.3l1.9 1.5l1.9 -0.3l1.9 1.1l1.9 -1.3l1.9 0.9l1.9 -0.2l1.9 -1.2l1.9 1.9l2.0 -2.4l1.9 2.2l1.9 -0.7l1.9 0.3l1.9 -0.1l1.9 -0.1l1.9 0.3l1.9 1.4l1.9 -1.7l2.0 -0.1l1.9 1.2l1.9 -0.7l1.9 0.3l1.9 -0.3l1.9 -0.8l1.9 0.9l1.9 -1.2l1.9 1.5l2.0 -0.8l1.9 1.2l1.9 -0.3l1.9 0.4l1.9 -0.7l1.9 -1.7l1.9 2.2l1.9 0.9l1.9 -1.7l2.0 -1.4l1.9 0.6l1.9 0.9l1.9 0.5l1.9 -0.5M669.0 714.6l-1.9 0.1l-1.9 -0.2l-1.9 0.5l-1.9 -1.6l-2.0 0.6l-1.9 0.5l-1.9 0.9l-1.9 -1.0l-1.9 -0.1l-1.9 -0.2l-1.9 1.6l-1.9 -1.6l-1.9 0.4l-2.0 0.7l-1.9 -0.8l-1.9 -0.6l-1.9 1.3l-1.9 0.1l-1.9 -0.9l-1.9 0.8l-1.9 -0.8l-1.9 -0.3l-2.0 1.5l-1.9 -0.6l-1.9 -0.5l-1.9 0.2l-1.9 -0.2l-1.9 0.4l-1.9 -0.4l-1.9 0.5l-1.9 -1.4l-2.0 1.7l-1.9 0.3l-1.9 0.0l-1.9 -1.5l-1.9 0.9l-1.9 0.3l-1.9 -1.1l-1.9 -0.6l-1.9 0.9l-2.0 -0.4l-1.9 2.3l-1.9 -1.3l-1.9 -0.3l-1.9 0.1M629.0 709.0l0.2 0.4l-1.6 0.4l-0.3 0.4l1.5 0.4l0.0 0.4l-0.1 0.4l0.2 0.4l0.2 0.4l-0.6 0.4l0.9 0.4l-1.9 0.4l0.8 0.4l0.7 0.4l-0.2 0.4l0.3 0.4l-0.6 0.4l-1.0 0.4l1.4 0.4l-0.2 0.4l-0.7 0.4l0.9 0.4l-0.1 0.4l-0.6 0.4l0.5 0.4l-0.7 0.4l0.9 0.4l-1.5 0.4l1.4 0.4l0.5 0.4l0.3 0.4M628.4 709.0l-0.6 0.4l-0.4 0.4l0.4 0.4l0.5 0.4l0.5 0.4l-0.7 0.4l-0.6 0.4l2.1 0.4l-0.7 0.4l0.1 0.4l-0.8 0.4l-0.1 0.4l1.4 0.4l-0.9 0.4l-0.6 0.4l-0.3 0.4l0.6 0.4l1.0 0.4l-2.2 0.4l1.4 0.4l0.8 0.4l-1.9 0.4l1.0 0.4l0.3 0.4l-1.4 0.4l1.1 0.4l-0.6 0.4l1.4 0.4l-0.6 0.4l-0.6 0.4M630.4 718.3l-1.1 -2.2l-0.1 1.1l-1.9 -6.0l5.3 4.4l-5.1 -2.6l-0.5 2.8l5.0 -3.3l-8.1 1.6l5.3 1.0l-1.9 1.2l-0.6 0.1l1.7 -3.8l2.8 -0.3l-1.5 1.3l1.7 -0.8l-3.7 5.0l-1.2 -4.6l1.9 2.4l1.0 4.8l1.2 -6.5l-3.1 3.2l-1.8 -3.9l4.8 3.1" fill="none" stroke="#74287a" stroke-width="0.8" stroke-linejoin="round"/>
</svg>
</body></html>
